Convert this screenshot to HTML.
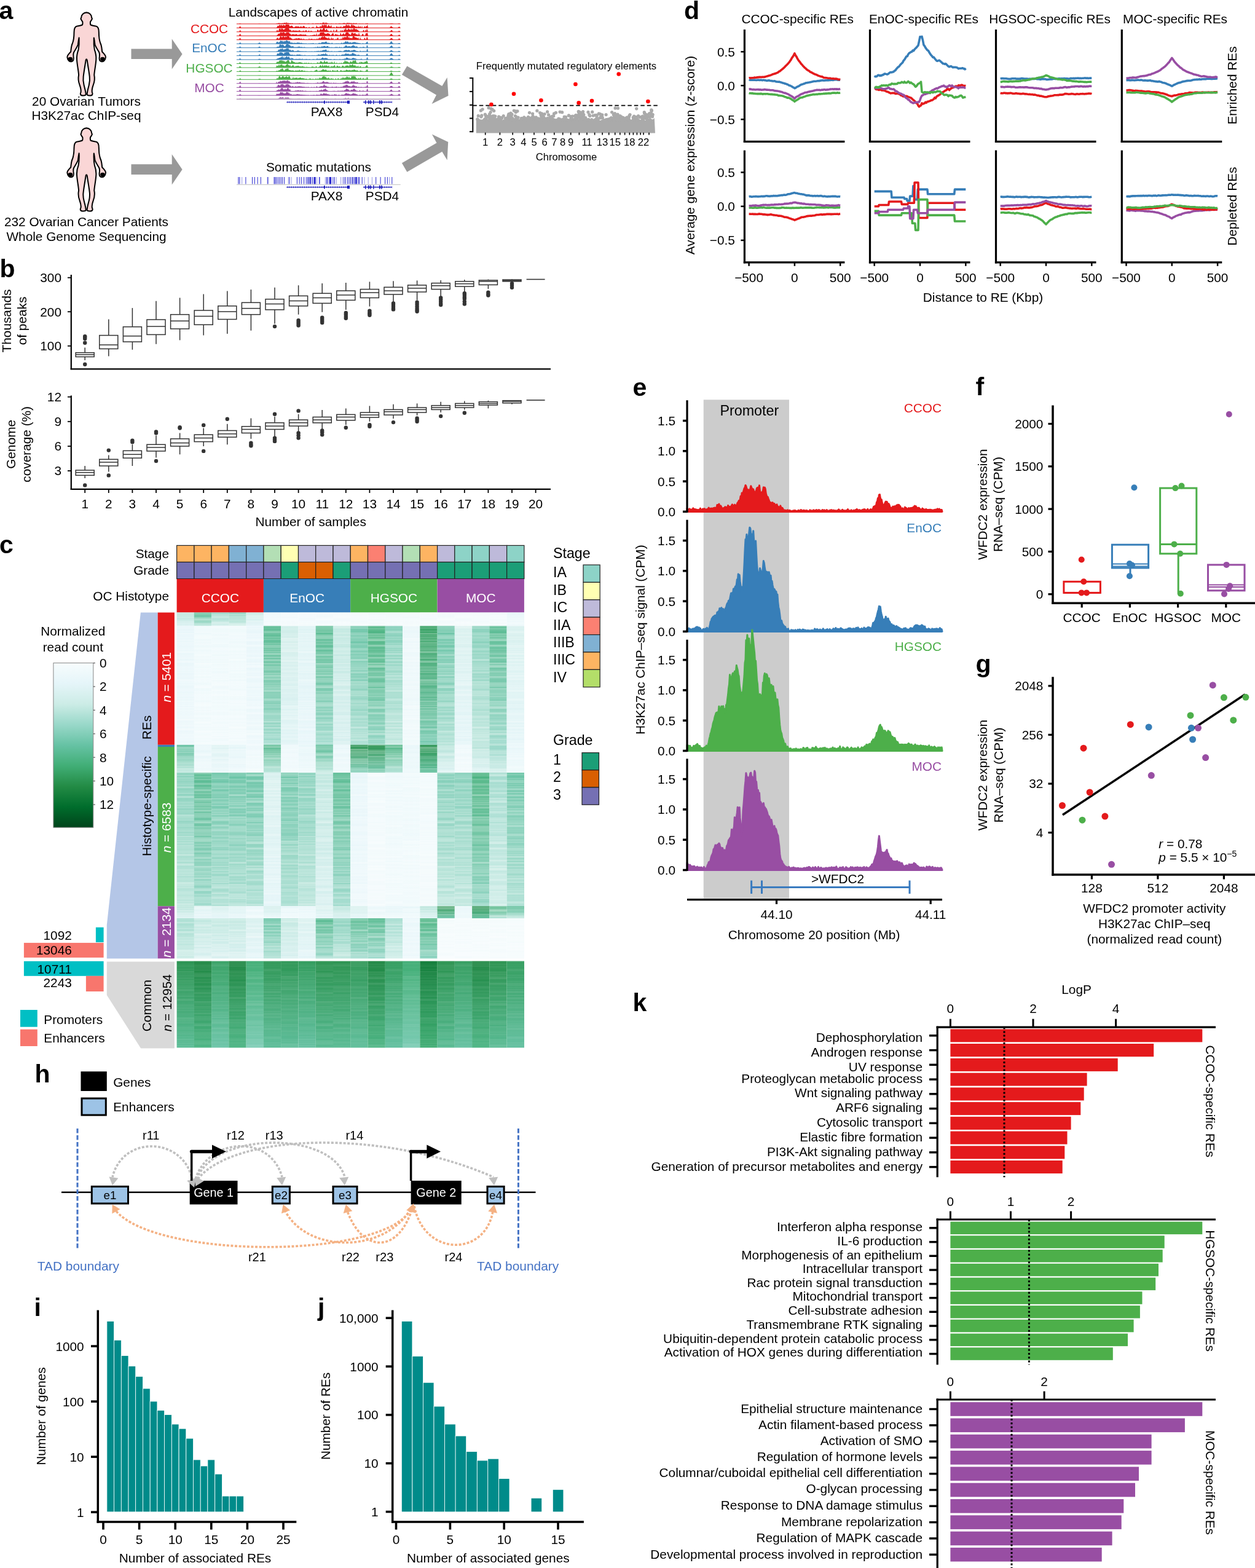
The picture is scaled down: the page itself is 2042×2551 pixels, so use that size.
<!DOCTYPE html><html><head><meta charset="utf-8"><style>html,body{margin:0;padding:0;background:#fff}svg{display:block}text{font-family:"Liberation Sans",Arial,Helvetica,sans-serif}</style></head><body><svg width="2042" height="2551" viewBox="0 0 2042 2551"><rect width="2042" height="2551" fill="#fff"/><text x="-1.5" y="31" font-size="41" font-weight="bold">a</text><g transform="translate(100,15) scale(0.06725)"><path d="M605,80C540,80 480,130 480,200C470,215 462,235 478,250C490,280 505,290 512,310C515,340 515,360 505,378C470,400 420,405 380,410C320,420 305,480 305,560C305,660 300,740 265,830C235,890 235,960 225,1030C175,1080 135,1120 140,1160C150,1240 200,1280 250,1265C300,1250 300,1200 290,1140C285,1100 290,1060 300,1040C340,970 390,900 400,850C410,790 415,730 425,690C430,780 425,900 410,980C380,1060 365,1120 372,1220C380,1350 410,1480 418,1590C405,1650 405,1740 440,1830C465,1900 480,1960 468,2010C445,2050 455,2090 530,2090C570,2090 595,2080 590,2050C585,1980 560,1900 545,1840C525,1760 520,1700 530,1630C545,1500 575,1340 590,1230C595,1215 600,1210 605,1210C610,1210 615,1215 620,1230C635,1340 665,1500 680,1630C690,1700 685,1760 665,1840C650,1900 625,1980 620,2050C615,2080 640,2090 680,2090C755,2090 765,2050 742,2010C730,1960 745,1900 770,1830C805,1740 805,1650 792,1590C800,1480 830,1350 838,1220C845,1120 830,1060 800,980C785,900 780,780 785,690C795,730 800,790 810,850C820,900 870,970 910,1040C920,1060 925,1100 920,1140C910,1200 910,1250 960,1265C1010,1280 1060,1240 1070,1160C1075,1120 1035,1080 985,1030C975,960 975,890 945,830C910,740 905,660 905,560C905,480 890,420 830,410C790,405 740,400 705,378C695,360 695,340 698,310C705,290 720,280 732,250C748,235 740,215 730,200C730,130 670,80 605,80Z" fill="#fad6d6" stroke="#000" stroke-width="30" stroke-linejoin="round"/><ellipse cx="215" cy="1205" rx="55" ry="48" fill="#000"/><ellipse cx="995" cy="1205" rx="55" ry="48" fill="#000"/></g><g transform="translate(100,203) scale(0.06725)"><path d="M605,80C540,80 480,130 480,200C470,215 462,235 478,250C490,280 505,290 512,310C515,340 515,360 505,378C470,400 420,405 380,410C320,420 305,480 305,560C305,660 300,740 265,830C235,890 235,960 225,1030C175,1080 135,1120 140,1160C150,1240 200,1280 250,1265C300,1250 300,1200 290,1140C285,1100 290,1060 300,1040C340,970 390,900 400,850C410,790 415,730 425,690C430,780 425,900 410,980C380,1060 365,1120 372,1220C380,1350 410,1480 418,1590C405,1650 405,1740 440,1830C465,1900 480,1960 468,2010C445,2050 455,2090 530,2090C570,2090 595,2080 590,2050C585,1980 560,1900 545,1840C525,1760 520,1700 530,1630C545,1500 575,1340 590,1230C595,1215 600,1210 605,1210C610,1210 615,1215 620,1230C635,1340 665,1500 680,1630C690,1700 685,1760 665,1840C650,1900 625,1980 620,2050C615,2080 640,2090 680,2090C755,2090 765,2050 742,2010C730,1960 745,1900 770,1830C805,1740 805,1650 792,1590C800,1480 830,1350 838,1220C845,1120 830,1060 800,980C785,900 780,780 785,690C795,730 800,790 810,850C820,900 870,970 910,1040C920,1060 925,1100 920,1140C910,1200 910,1250 960,1265C1010,1280 1060,1240 1070,1160C1075,1120 1035,1080 985,1030C975,960 975,890 945,830C910,740 905,660 905,560C905,480 890,420 830,410C790,405 740,400 705,378C695,360 695,340 698,310C705,290 720,280 732,250C748,235 740,215 730,200C730,130 670,80 605,80Z" fill="#fad6d6" stroke="#000" stroke-width="30" stroke-linejoin="round"/><ellipse cx="215" cy="1205" rx="55" ry="48" fill="#000"/><ellipse cx="995" cy="1205" rx="55" ry="48" fill="#000"/></g><text x="140.5" y="171.8" font-size="20.8" text-anchor="middle">20 Ovarian Tumors</text><text x="140.5" y="195.3" font-size="20.8" text-anchor="middle">H3K27ac ChIP-seq</text><text x="140.5" y="368.3" font-size="20.8" text-anchor="middle">232 Ovarian Cancer Patients</text><text x="140.5" y="391.5" font-size="20.8" text-anchor="middle">Whole Genome Sequencing</text><polygon points="213.5,79.4 279.7,79.4 279.7,63.2 296.6,87.9 279.7,112.6 279.7,96.1 213.5,96.1" fill="#999"/><polygon points="213.5,267.2 279.7,267.2 279.7,250.9 296.6,275.7 279.7,300.4 279.7,283.9 213.5,283.9" fill="#999"/><polygon points="662.3,107.4 719.3,140.1 727.6,126 729.5,155.7 702.6,169 710,154.5 653.9,121.5" fill="#999"/><polygon points="653.9,265.3 710.5,232.4 702.9,218.4 729.2,231 727.6,260.6 719.3,246.7 662.3,279.7" fill="#999"/><text x="518" y="27" font-size="20.8" text-anchor="middle">Landscapes of active chromatin</text><text x="340.5" y="53.9" font-size="20.8" text-anchor="middle" fill="#e41a1c">CCOC</text><text x="340.5" y="85.2" font-size="20.8" text-anchor="middle" fill="#377eb8">EnOC</text><text x="340.5" y="117.6" font-size="20.8" text-anchor="middle" fill="#4daf4a">HGSOC</text><text x="340.5" y="150" font-size="20.8" text-anchor="middle" fill="#984ea3">MOC</text><polygon points="385,38.9 385,38.9 386,38.9 387,38.9 388,38.9 389,38.8 390,38.2 391,38.3 392,38.7 393,38.9 394,38.9 395,38.9 396,38.9 397,38.9 398,38.9 399,38.9 400,38.9 401,38.9 402,38.9 403,38.9 404,38.9 405,38.9 406,38.9 407,38.9 408,38.9 409,38.9 410,38.9 411,38.9 412,38.9 413,38.9 414,38.9 415,38.9 416,38.9 417,38.9 418,38.9 419,38.9 420,38.9 421,38.8 422,38.8 423,38.8 424,38.9 425,38.9 426,38.9 427,38.9 428,38.9 429,38.9 430,38.9 431,38.9 432,38.9 433,38.9 434,38.9 435,38.9 436,38.9 437,38.9 438,38.9 439,38.9 440,38.9 441,38.9 442,38.9 443,38.9 444,38.9 445,38.9 446,38.9 447,38.9 448,38.9 449,38.8 450,38.4 451,37.8 452,38.3 453,37.7 454,36.9 455,37.9 456,37.7 457,37.7 458,37.9 459,37.4 460,37.7 461,37.5 462,37.6 463,36.8 464,37.3 465,37.5 466,36.0 467,37.5 468,37.4 469,37.0 470,38.0 471,37.8 472,37.6 473,38.0 474,38.1 475,37.9 476,37.5 477,38.4 478,38.7 479,38.6 480,38.6 481,38.6 482,38.6 483,38.4 484,38.3 485,38.4 486,38.5 487,37.6 488,38.3 489,38.6 490,38.5 491,38.2 492,38.6 493,38.5 494,38.6 495,38.4 496,38.1 497,38.7 498,38.8 499,38.5 500,38.8 501,38.2 502,38.2 503,38.3 504,38.8 505,38.8 506,38.9 507,38.8 508,38.2 509,38.0 510,38.3 511,38.8 512,38.8 513,38.5 514,37.8 515,38.0 516,38.8 517,37.4 518,37.9 519,38.6 520,38.4 521,37.3 522,37.9 523,37.7 524,38.3 525,36.3 526,37.6 527,36.1 528,37.4 529,38.1 530,36.3 531,37.2 532,37.6 533,37.6 534,38.4 535,38.5 536,38.6 537,38.7 538,38.6 539,38.1 540,38.4 541,38.4 542,38.5 543,38.6 544,38.9 545,38.8 546,38.0 547,38.6 548,38.2 549,38.8 550,38.7 551,37.9 552,38.2 553,37.7 554,38.2 555,38.3 556,38.4 557,38.2 558,37.7 559,37.5 560,37.6 561,37.6 562,38.1 563,38.1 564,37.8 565,36.5 566,37.8 567,37.7 568,36.6 569,38.1 570,38.1 571,36.7 572,38.3 573,37.8 574,38.1 575,37.6 576,37.5 577,38.2 578,37.5 579,38.2 580,37.1 581,38.7 582,38.7 583,38.7 584,38.4 585,38.0 586,38.8 587,38.2 588,38.9 589,38.1 590,38.9 591,38.0 592,38.9 593,38.9 594,38.5 595,38.1 596,38.7 597,37.6 598,38.1 599,38.8 600,38.9 601,38.9 602,38.9 603,38.9 604,38.9 605,38.9 606,38.9 607,38.9 608,38.9 609,38.9 610,38.9 611,38.9 612,38.9 613,38.9 614,38.9 615,38.9 616,38.9 617,38.9 618,38.9 619,38.9 620,38.9 621,38.9 622,38.9 623,38.9 624,38.9 625,38.9 626,38.9 627,38.9 628,38.9 629,38.9 630,38.9 631,38.9 632,38.9 633,38.9 634,38.7 635,38.5 636,38.3 637,38.3 638,38.2 639,38.5 640,38.8 641,38.9 642,38.9 643,38.9 644,38.9 645,38.9 646,38.9 647,38.9 648,38.6 649,38.1 650,38.3 651,38.8 651,38.9" fill="#e41a1c"/><line x1="384.9" y1="38.9" x2="651.7" y2="38.9" stroke="#e41a1c" stroke-width="1.0"/><polygon points="385,45.4 385,45.4 386,45.4 387,45.4 388,45.3 389,45.0 390,43.0 391,42.4 392,44.7 393,45.3 394,45.4 395,45.4 396,45.4 397,45.4 398,45.4 399,45.4 400,45.4 401,45.4 402,45.4 403,45.4 404,45.4 405,45.4 406,45.4 407,45.4 408,45.4 409,45.4 410,45.4 411,45.4 412,45.4 413,45.4 414,45.4 415,45.4 416,45.4 417,45.4 418,45.4 419,45.3 420,45.3 421,45.2 422,45.1 423,45.1 424,45.2 425,45.3 426,45.4 427,45.4 428,45.4 429,45.4 430,45.4 431,45.4 432,45.4 433,45.4 434,45.4 435,45.4 436,45.4 437,45.4 438,45.4 439,45.4 440,45.4 441,45.4 442,45.4 443,45.4 444,45.4 445,45.4 446,45.3 447,45.3 448,45.3 449,45.2 450,45.0 451,43.2 452,41.3 453,42.8 454,41.6 455,39.8 456,41.3 457,41.6 458,39.7 459,41.4 460,42.0 461,39.7 462,41.1 463,41.2 464,41.9 465,39.7 466,39.7 467,40.0 468,39.7 469,40.2 470,39.8 471,41.9 472,43.2 473,42.0 474,42.1 475,41.4 476,42.4 477,44.0 478,44.5 479,44.2 480,43.4 481,42.2 482,43.8 483,42.0 484,43.8 485,42.8 486,43.1 487,43.6 488,44.4 489,42.7 490,42.6 491,44.1 492,44.4 493,41.7 494,42.8 495,42.1 496,43.8 497,45.0 498,44.3 499,44.1 500,45.2 501,45.2 502,44.9 503,43.3 504,45.0 505,44.9 506,44.9 507,45.2 508,43.3 509,45.0 510,43.0 511,45.3 512,45.3 513,45.3 514,44.7 515,40.7 516,44.1 517,43.5 518,44.5 519,44.0 520,44.5 521,41.2 522,43.7 523,43.0 524,40.4 525,39.7 526,42.9 527,39.7 528,39.7 529,42.0 530,39.7 531,39.7 532,43.2 533,43.4 534,40.4 535,41.3 536,41.7 537,43.7 538,42.4 539,40.6 540,44.7 541,44.7 542,43.2 543,45.3 544,43.3 545,44.8 546,45.4 547,43.4 548,42.3 549,44.0 550,44.6 551,42.8 552,45.3 553,42.8 554,44.6 555,41.7 556,45.2 557,43.6 558,44.3 559,41.4 560,43.0 561,42.0 562,42.8 563,39.9 564,39.7 565,42.4 566,40.8 567,40.0 568,42.8 569,40.5 570,44.3 571,42.1 572,39.7 573,39.7 574,42.4 575,39.7 576,42.1 577,41.8 578,42.8 579,43.9 580,42.6 581,44.1 582,44.6 583,40.8 584,44.3 585,43.9 586,41.8 587,44.0 588,45.3 589,41.2 590,45.3 591,45.3 592,44.6 593,41.6 594,44.5 595,43.3 596,42.5 597,42.6 598,39.7 599,45.0 600,45.4 601,45.4 602,45.4 603,45.4 604,45.4 605,45.4 606,45.4 607,45.4 608,45.4 609,45.4 610,45.4 611,45.4 612,45.4 613,45.4 614,45.4 615,45.4 616,45.4 617,45.4 618,45.4 619,45.4 620,45.4 621,45.4 622,45.4 623,45.4 624,45.4 625,45.4 626,45.4 627,45.4 628,45.4 629,45.4 630,45.4 631,45.4 632,45.3 633,45.2 634,44.9 635,43.9 636,42.6 637,42.8 638,43.7 639,44.4 640,45.0 641,45.3 642,45.3 643,45.4 644,45.4 645,45.4 646,45.4 647,45.3 648,44.6 649,43.5 650,43.3 651,44.9 651,45.4" fill="#e41a1c"/><line x1="384.9" y1="45.4" x2="651.7" y2="45.4" stroke="#e41a1c" stroke-width="1.0"/><polygon points="385,51.8 385,51.8 386,51.8 387,51.8 388,51.8 389,51.4 390,49.7 391,49.1 392,50.8 393,51.8 394,51.8 395,51.8 396,51.8 397,51.8 398,51.8 399,51.8 400,51.8 401,51.8 402,51.8 403,51.8 404,51.8 405,51.8 406,51.8 407,51.8 408,51.8 409,51.8 410,51.8 411,51.8 412,51.8 413,51.8 414,51.8 415,51.8 416,51.8 417,51.8 418,51.8 419,51.8 420,51.8 421,51.7 422,51.6 423,51.6 424,51.7 425,51.8 426,51.8 427,51.8 428,51.8 429,51.8 430,51.8 431,51.8 432,51.8 433,51.8 434,51.8 435,51.8 436,51.8 437,51.8 438,51.8 439,51.8 440,51.8 441,51.8 442,51.8 443,51.8 444,51.8 445,51.8 446,51.8 447,51.8 448,51.7 449,51.7 450,50.3 451,48.3 452,50.3 453,50.5 454,47.0 455,46.7 456,46.1 457,48.7 458,46.1 459,46.5 460,46.8 461,48.2 462,48.2 463,47.3 464,46.4 465,46.1 466,46.1 467,46.1 468,46.1 469,46.1 470,46.1 471,48.1 472,49.6 473,47.3 474,50.9 475,49.7 476,50.7 477,48.3 478,50.2 479,49.8 480,49.7 481,49.8 482,49.9 483,49.7 484,49.9 485,50.4 486,50.0 487,48.4 488,50.2 489,50.3 490,50.7 491,50.8 492,50.6 493,50.4 494,49.4 495,50.8 496,50.7 497,49.8 498,49.0 499,49.8 500,51.4 501,50.7 502,50.1 503,49.6 504,51.8 505,50.5 506,50.0 507,50.4 508,50.7 509,51.6 510,51.0 511,51.8 512,51.6 513,50.1 514,51.4 515,51.6 516,49.5 517,47.6 518,48.9 519,51.1 520,49.0 521,48.0 522,46.1 523,48.4 524,48.7 525,47.4 526,46.1 527,46.1 528,46.1 529,48.7 530,49.2 531,46.9 532,46.9 533,50.3 534,49.2 535,51.1 536,51.2 537,51.0 538,49.9 539,49.4 540,51.5 541,51.3 542,51.7 543,47.2 544,50.8 545,51.8 546,50.0 547,49.4 548,46.8 549,51.1 550,51.8 551,50.8 552,51.7 553,51.8 554,48.3 555,51.3 556,49.8 557,48.7 558,50.6 559,50.7 560,46.5 561,49.4 562,46.3 563,46.1 564,49.0 565,49.1 566,47.5 567,46.1 568,47.7 569,48.5 570,47.0 571,49.5 572,46.5 573,47.4 574,49.0 575,46.1 576,46.4 577,46.1 578,48.3 579,47.2 580,46.9 581,49.0 582,47.9 583,50.0 584,49.9 585,51.3 586,51.7 587,51.6 588,51.6 589,51.0 590,51.8 591,48.8 592,48.6 593,51.7 594,50.6 595,47.4 596,51.3 597,46.1 598,49.1 599,51.6 600,51.8 601,51.8 602,51.8 603,51.8 604,51.8 605,51.8 606,51.8 607,51.8 608,51.8 609,51.8 610,51.8 611,51.8 612,51.8 613,51.8 614,51.8 615,51.8 616,51.8 617,51.8 618,51.8 619,51.8 620,51.8 621,51.8 622,51.8 623,51.8 624,51.8 625,51.8 626,51.8 627,51.8 628,51.8 629,51.8 630,51.8 631,51.8 632,51.8 633,51.6 634,51.3 635,50.8 636,49.8 637,48.7 638,49.2 639,51.1 640,51.5 641,51.7 642,51.8 643,51.8 644,51.8 645,51.8 646,51.8 647,51.7 648,50.9 649,50.1 650,50.3 651,51.2 651,51.8" fill="#e41a1c"/><line x1="384.9" y1="51.8" x2="651.7" y2="51.8" stroke="#e41a1c" stroke-width="1.0"/><polygon points="385,58.3 385,58.3 386,58.3 387,58.3 388,58.3 389,57.8 390,55.6 391,54.8 392,57.4 393,58.2 394,58.3 395,58.3 396,58.3 397,58.3 398,58.3 399,58.3 400,58.3 401,58.3 402,58.3 403,58.3 404,58.3 405,58.3 406,58.3 407,58.3 408,58.3 409,58.3 410,58.3 411,58.3 412,58.3 413,58.3 414,58.3 415,58.3 416,58.3 417,58.3 418,58.3 419,58.3 420,58.2 421,58.1 422,58.1 423,58.1 424,58.1 425,58.3 426,58.3 427,58.3 428,58.3 429,58.3 430,58.3 431,58.3 432,58.3 433,58.3 434,58.3 435,58.3 436,58.3 437,58.3 438,58.3 439,58.3 440,58.3 441,58.3 442,58.3 443,58.3 444,58.3 445,58.3 446,58.3 447,58.2 448,58.2 449,58.1 450,57.9 451,57.3 452,56.1 453,54.8 454,54.4 455,54.9 456,53.1 457,52.6 458,52.6 459,54.0 460,52.6 461,52.6 462,52.6 463,53.7 464,53.9 465,54.2 466,52.6 467,52.6 468,52.6 469,52.6 470,52.6 471,54.8 472,54.4 473,55.2 474,57.4 475,55.1 476,56.4 477,54.9 478,56.0 479,56.6 480,55.7 481,56.0 482,56.1 483,55.0 484,57.1 485,56.9 486,56.4 487,55.8 488,57.0 489,54.8 490,56.6 491,55.8 492,57.5 493,55.5 494,56.5 495,57.0 496,55.8 497,56.5 498,56.3 499,57.7 500,58.0 501,57.6 502,57.9 503,57.9 504,58.1 505,57.0 506,58.0 507,57.5 508,56.9 509,57.6 510,56.9 511,56.0 512,57.0 513,56.3 514,58.3 515,53.3 516,57.8 517,58.0 518,55.1 519,57.5 520,55.0 521,52.9 522,53.1 523,52.6 524,53.2 525,52.6 526,52.6 527,52.6 528,54.6 529,54.4 530,55.0 531,55.3 532,54.3 533,54.4 534,53.5 535,55.2 536,54.4 537,56.2 538,58.0 539,56.5 540,55.7 541,54.3 542,53.5 543,56.2 544,58.2 545,56.1 546,54.7 547,56.7 548,55.6 549,56.9 550,55.9 551,57.4 552,57.0 553,57.6 554,53.1 555,55.2 556,57.4 557,55.6 558,55.5 559,53.5 560,55.8 561,56.3 562,54.6 563,52.6 564,52.6 565,52.6 566,52.6 567,53.2 568,55.7 569,54.8 570,57.1 571,56.5 572,52.6 573,54.3 574,52.6 575,55.1 576,54.5 577,53.9 578,53.4 579,55.5 580,56.6 581,54.7 582,57.0 583,56.8 584,52.6 585,56.7 586,58.1 587,57.9 588,58.3 589,56.2 590,54.8 591,55.2 592,58.3 593,57.6 594,58.0 595,54.5 596,53.6 597,54.7 598,52.6 599,57.9 600,58.3 601,58.3 602,58.3 603,58.3 604,58.3 605,58.3 606,58.3 607,58.3 608,58.3 609,58.3 610,58.3 611,58.3 612,58.3 613,58.3 614,58.3 615,58.3 616,58.3 617,58.3 618,58.3 619,58.3 620,58.3 621,58.3 622,58.3 623,58.3 624,58.3 625,58.3 626,58.3 627,58.3 628,58.3 629,58.3 630,58.3 631,58.3 632,58.2 633,58.1 634,57.7 635,56.7 636,55.2 637,55.1 638,56.2 639,57.4 640,57.9 641,58.2 642,58.3 643,58.3 644,58.3 645,58.3 646,58.3 647,58.2 648,57.7 649,56.6 650,56.6 651,57.7 651,58.3" fill="#e41a1c"/><line x1="384.9" y1="58.3" x2="651.7" y2="58.3" stroke="#e41a1c" stroke-width="1.0"/><polygon points="385,64.7 385,64.7 386,64.7 387,64.7 388,64.7 389,64.2 390,61.9 391,61.7 392,64.0 393,64.7 394,64.7 395,64.7 396,64.7 397,64.7 398,64.7 399,64.7 400,64.7 401,64.7 402,64.7 403,64.7 404,64.7 405,64.7 406,64.7 407,64.7 408,64.7 409,64.7 410,64.7 411,64.7 412,64.7 413,64.7 414,64.7 415,64.7 416,64.7 417,64.7 418,64.7 419,64.7 420,64.7 421,64.6 422,64.5 423,64.6 424,64.6 425,64.7 426,64.7 427,64.7 428,64.7 429,64.7 430,64.7 431,64.7 432,64.7 433,64.7 434,64.7 435,64.7 436,64.7 437,64.7 438,64.7 439,64.7 440,64.7 441,64.7 442,64.7 443,64.7 444,64.7 445,64.7 446,64.7 447,64.7 448,64.7 449,64.5 450,63.1 451,61.4 452,61.2 453,63.4 454,62.8 455,61.5 456,59.1 457,59.1 458,60.1 459,60.9 460,59.1 461,59.6 462,59.1 463,61.0 464,60.1 465,59.1 466,60.5 467,59.1 468,59.1 469,59.1 470,59.1 471,60.2 472,62.2 473,60.1 474,63.3 475,62.2 476,63.7 477,63.9 478,63.3 479,62.9 480,63.5 481,63.1 482,60.9 483,63.4 484,63.0 485,61.3 486,62.9 487,61.7 488,62.8 489,63.7 490,62.1 491,63.4 492,63.6 493,64.0 494,62.5 495,64.1 496,63.7 497,64.3 498,64.4 499,63.5 500,63.9 501,64.4 502,64.0 503,61.7 504,64.7 505,63.2 506,63.4 507,63.1 508,63.1 509,64.6 510,62.9 511,64.6 512,63.0 513,63.9 514,64.3 515,62.3 516,64.6 517,62.3 518,64.0 519,61.7 520,60.4 521,63.7 522,60.5 523,61.2 524,59.3 525,59.1 526,61.1 527,59.1 528,59.1 529,60.0 530,61.3 531,60.7 532,62.5 533,61.6 534,63.2 535,59.4 536,63.2 537,63.1 538,64.5 539,60.1 540,62.9 541,63.4 542,60.9 543,64.4 544,64.0 545,64.7 546,62.4 547,64.7 548,62.6 549,62.6 550,60.3 551,64.7 552,63.1 553,64.2 554,63.7 555,62.0 556,64.3 557,62.0 558,59.5 559,62.8 560,59.5 561,60.7 562,59.4 563,61.5 564,59.1 565,59.1 566,59.1 567,62.3 568,59.1 569,62.8 570,61.3 571,62.3 572,61.6 573,63.0 574,59.1 575,59.1 576,59.1 577,59.9 578,60.7 579,60.9 580,60.8 581,62.1 582,62.6 583,60.6 584,63.7 585,64.5 586,60.1 587,64.1 588,63.2 589,64.6 590,64.0 591,64.1 592,64.6 593,60.8 594,62.5 595,64.2 596,62.9 597,59.3 598,61.3 599,64.5 600,64.7 601,64.7 602,64.7 603,64.7 604,64.7 605,64.7 606,64.7 607,64.7 608,64.7 609,64.7 610,64.7 611,64.7 612,64.7 613,64.7 614,64.7 615,64.7 616,64.7 617,64.7 618,64.7 619,64.7 620,64.7 621,64.7 622,64.7 623,64.7 624,64.7 625,64.7 626,64.7 627,64.7 628,64.7 629,64.7 630,64.7 631,64.7 632,64.7 633,64.5 634,64.0 635,63.0 636,62.4 637,61.6 638,62.5 639,63.4 640,64.5 641,64.6 642,64.7 643,64.7 644,64.7 645,64.7 646,64.7 647,64.6 648,64.0 649,62.4 650,62.5 651,64.1 651,64.7" fill="#e41a1c"/><line x1="384.9" y1="64.7" x2="651.7" y2="64.7" stroke="#e41a1c" stroke-width="1.0"/><polygon points="385,71.2 385,71.2 386,71.2 387,71.2 388,71.2 389,70.9 390,69.4 391,68.7 392,70.6 393,71.2 394,71.2 395,71.2 396,71.2 397,71.2 398,71.2 399,71.2 400,71.2 401,71.2 402,71.2 403,71.2 404,71.2 405,71.2 406,71.2 407,71.2 408,71.2 409,71.2 410,71.2 411,71.2 412,71.2 413,71.2 414,71.2 415,71.2 416,71.2 417,71.2 418,71.2 419,71.1 420,70.8 421,70.0 422,69.1 423,69.7 424,70.5 425,71.0 426,71.2 427,71.2 428,71.2 429,71.2 430,71.2 431,71.2 432,71.2 433,71.2 434,71.2 435,71.2 436,71.2 437,71.2 438,71.2 439,71.2 440,71.2 441,71.2 442,71.2 443,71.2 444,71.2 445,71.2 446,71.2 447,71.2 448,71.1 449,71.1 450,68.2 451,67.7 452,68.1 453,69.8 454,68.1 455,68.8 456,66.2 457,65.7 458,67.4 459,66.0 460,66.9 461,68.5 462,66.0 463,67.6 464,66.9 465,66.5 466,65.5 467,65.5 468,67.0 469,66.2 470,68.0 471,66.6 472,67.4 473,70.3 474,68.8 475,69.2 476,70.1 477,69.3 478,70.6 479,69.4 480,69.4 481,70.0 482,70.0 483,69.5 484,68.7 485,69.8 486,69.0 487,69.4 488,69.7 489,70.3 490,69.4 491,69.8 492,70.5 493,70.4 494,70.5 495,70.8 496,70.6 497,71.0 498,70.2 499,71.0 500,71.0 501,71.1 502,71.0 503,70.6 504,71.0 505,71.1 506,70.1 507,71.1 508,70.5 509,70.3 510,70.1 511,71.1 512,71.1 513,71.0 514,70.4 515,70.9 516,70.9 517,71.0 518,70.4 519,69.7 520,69.7 521,70.3 522,70.4 523,68.7 524,69.1 525,68.6 526,68.6 527,69.0 528,69.1 529,68.1 530,68.0 531,67.3 532,68.9 533,70.2 534,69.1 535,70.3 536,69.6 537,70.7 538,70.6 539,71.0 540,69.2 541,70.3 542,71.2 543,71.0 544,70.9 545,70.8 546,71.0 547,70.2 548,70.9 549,70.2 550,71.2 551,70.0 552,71.2 553,70.5 554,71.0 555,70.0 556,69.0 557,70.9 558,70.1 559,69.2 560,69.7 561,68.4 562,67.4 563,66.8 564,68.8 565,67.5 566,67.3 567,68.8 568,69.5 569,68.9 570,68.7 571,68.9 572,69.9 573,69.0 574,69.1 575,68.4 576,68.2 577,68.7 578,68.1 579,69.6 580,69.1 581,69.9 582,69.3 583,70.0 584,69.9 585,70.4 586,70.0 587,70.9 588,71.1 589,71.0 590,70.0 591,71.1 592,70.6 593,71.1 594,71.2 595,70.2 596,69.2 597,68.1 598,67.5 599,71.0 600,71.2 601,71.2 602,71.2 603,71.2 604,71.2 605,71.2 606,71.2 607,71.2 608,71.2 609,71.2 610,71.2 611,71.2 612,71.2 613,71.2 614,71.2 615,71.2 616,71.2 617,71.2 618,71.2 619,71.2 620,71.2 621,71.2 622,71.2 623,71.2 624,71.2 625,71.2 626,71.2 627,71.2 628,71.2 629,71.2 630,71.2 631,71.2 632,71.2 633,71.0 634,70.3 635,69.2 636,67.6 637,67.1 638,68.8 639,70.0 640,70.9 641,71.1 642,71.2 643,71.2 644,71.2 645,71.2 646,71.2 647,71.1 648,70.8 649,70.1 650,69.9 651,70.9 651,71.2" fill="#377eb8"/><line x1="384.9" y1="71.2" x2="651.7" y2="71.2" stroke="#377eb8" stroke-width="1.0"/><polygon points="385,77.7 385,77.7 386,77.7 387,77.7 388,77.6 389,77.3 390,75.8 391,75.5 392,76.9 393,77.6 394,77.7 395,77.7 396,77.7 397,77.7 398,77.7 399,77.7 400,77.7 401,77.7 402,77.7 403,77.7 404,77.7 405,77.7 406,77.7 407,77.7 408,77.7 409,77.7 410,77.7 411,77.7 412,77.7 413,77.7 414,77.7 415,77.7 416,77.7 417,77.7 418,77.7 419,77.6 420,77.2 421,76.2 422,75.8 423,75.9 424,77.0 425,77.5 426,77.6 427,77.7 428,77.7 429,77.7 430,77.7 431,77.7 432,77.7 433,77.7 434,77.7 435,77.7 436,77.7 437,77.7 438,77.7 439,77.7 440,77.7 441,77.7 442,77.7 443,77.7 444,77.7 445,77.7 446,77.6 447,77.6 448,77.6 449,77.5 450,76.4 451,76.3 452,75.6 453,76.2 454,75.6 455,72.6 456,72.0 457,72.8 458,73.4 459,72.2 460,73.1 461,72.8 462,74.3 463,75.3 464,74.9 465,73.4 466,72.0 467,72.0 468,72.0 469,72.0 470,72.7 471,73.5 472,73.5 473,75.1 474,76.1 475,74.8 476,75.8 477,74.4 478,76.6 479,76.9 480,75.9 481,77.0 482,76.5 483,76.5 484,76.3 485,76.6 486,75.5 487,75.6 488,76.2 489,76.7 490,76.1 491,76.5 492,76.8 493,76.5 494,77.0 495,76.4 496,76.3 497,77.4 498,77.3 499,77.2 500,77.5 501,77.2 502,77.4 503,77.6 504,77.5 505,77.2 506,77.6 507,77.1 508,77.5 509,77.5 510,77.1 511,76.8 512,77.1 513,76.5 514,76.5 515,77.3 516,75.9 517,75.5 518,77.1 519,76.1 520,76.4 521,76.3 522,76.8 523,75.6 524,75.6 525,75.8 526,75.6 527,74.7 528,74.7 529,74.9 530,76.0 531,75.8 532,74.9 533,75.1 534,75.0 535,77.2 536,76.1 537,76.9 538,76.8 539,77.6 540,76.1 541,77.5 542,77.5 543,76.7 544,77.2 545,76.5 546,76.8 547,76.0 548,77.0 549,75.9 550,77.3 551,77.5 552,75.9 553,76.2 554,77.2 555,76.6 556,76.5 557,77.4 558,77.2 559,76.5 560,75.9 561,76.0 562,73.6 563,74.4 564,73.5 565,75.4 566,75.7 567,75.2 568,74.8 569,75.5 570,75.5 571,75.7 572,75.3 573,74.1 574,74.5 575,72.8 576,75.0 577,73.9 578,76.3 579,75.4 580,75.5 581,75.5 582,76.4 583,77.5 584,77.5 585,77.0 586,76.0 587,77.6 588,76.1 589,77.6 590,76.5 591,75.7 592,76.7 593,76.2 594,77.2 595,77.6 596,77.3 597,73.1 598,74.3 599,77.4 600,77.7 601,77.7 602,77.7 603,77.7 604,77.7 605,77.7 606,77.7 607,77.7 608,77.7 609,77.7 610,77.7 611,77.7 612,77.7 613,77.7 614,77.7 615,77.7 616,77.7 617,77.7 618,77.7 619,77.7 620,77.7 621,77.7 622,77.7 623,77.7 624,77.7 625,77.7 626,77.7 627,77.7 628,77.7 629,77.7 630,77.7 631,77.7 632,77.6 633,77.5 634,76.8 635,75.5 636,75.3 637,73.8 638,74.5 639,76.6 640,77.3 641,77.6 642,77.6 643,77.7 644,77.7 645,77.7 646,77.7 647,77.6 648,77.2 649,76.0 650,76.6 651,77.3 651,77.7" fill="#377eb8"/><line x1="384.9" y1="77.7" x2="651.7" y2="77.7" stroke="#377eb8" stroke-width="1.0"/><polygon points="385,84.1 385,84.1 386,84.1 387,84.1 388,84.1 389,83.9 390,82.6 391,81.5 392,83.4 393,84.1 394,84.1 395,84.1 396,84.1 397,84.1 398,84.1 399,84.1 400,84.1 401,84.1 402,84.1 403,84.1 404,84.1 405,84.1 406,84.1 407,84.1 408,84.1 409,84.1 410,84.1 411,84.1 412,84.1 413,84.1 414,84.1 415,84.1 416,84.1 417,84.1 418,84.1 419,84.0 420,83.8 421,83.3 422,82.7 423,83.0 424,83.6 425,83.9 426,84.1 427,84.1 428,84.1 429,84.1 430,84.1 431,84.1 432,84.1 433,84.1 434,84.1 435,84.1 436,84.1 437,84.1 438,84.1 439,84.1 440,84.1 441,84.1 442,84.1 443,84.1 444,84.1 445,84.1 446,84.1 447,84.1 448,84.0 449,83.9 450,83.5 451,83.2 452,83.3 453,80.3 454,81.2 455,80.6 456,79.7 457,79.3 458,80.2 459,78.8 460,78.7 461,80.9 462,80.3 463,80.3 464,80.0 465,79.7 466,78.5 467,78.9 468,78.5 469,78.5 470,79.8 471,81.9 472,80.1 473,82.1 474,82.0 475,82.7 476,81.0 477,81.8 478,82.5 479,83.6 480,83.5 481,82.9 482,82.9 483,83.2 484,81.8 485,82.8 486,82.1 487,83.0 488,83.0 489,83.2 490,83.2 491,83.6 492,83.3 493,83.5 494,83.6 495,83.6 496,83.8 497,83.2 498,83.6 499,83.5 500,84.0 501,83.8 502,83.9 503,83.4 504,83.9 505,83.5 506,84.0 507,83.5 508,83.6 509,84.1 510,83.9 511,83.6 512,83.6 513,83.6 514,83.4 515,83.6 516,82.6 517,83.4 518,82.5 519,82.8 520,83.7 521,82.6 522,82.5 523,83.2 524,82.0 525,82.1 526,82.1 527,80.5 528,82.1 529,81.1 530,80.6 531,80.5 532,82.9 533,83.0 534,82.0 535,83.5 536,83.5 537,83.2 538,83.7 539,83.7 540,82.5 541,83.9 542,84.1 543,83.7 544,83.5 545,83.6 546,83.9 547,83.6 548,83.8 549,83.6 550,83.8 551,83.0 552,82.8 553,83.3 554,82.5 555,83.0 556,83.5 557,83.8 558,83.7 559,83.1 560,82.0 561,81.8 562,81.6 563,81.2 564,81.0 565,82.2 566,81.6 567,80.9 568,82.1 569,81.1 570,83.3 571,82.6 572,81.7 573,82.2 574,81.7 575,81.3 576,81.1 577,81.6 578,80.9 579,82.9 580,82.6 581,83.2 582,83.1 583,83.4 584,83.9 585,84.0 586,81.8 587,83.5 588,83.7 589,83.3 590,84.1 591,82.6 592,83.6 593,84.0 594,82.3 595,83.9 596,83.8 597,79.9 598,79.2 599,83.9 600,84.1 601,84.1 602,84.1 603,84.1 604,84.1 605,84.1 606,84.1 607,84.1 608,84.1 609,84.1 610,84.1 611,84.1 612,84.1 613,84.1 614,84.1 615,84.1 616,84.1 617,84.1 618,84.1 619,84.1 620,84.1 621,84.1 622,84.1 623,84.1 624,84.1 625,84.1 626,84.1 627,84.1 628,84.1 629,84.1 630,84.1 631,84.1 632,84.1 633,84.0 634,83.4 635,82.5 636,82.1 637,81.3 638,82.4 639,83.0 640,83.7 641,84.0 642,84.1 643,84.1 644,84.1 645,84.1 646,84.1 647,84.0 648,83.6 649,82.5 650,83.3 651,83.6 651,84.1" fill="#377eb8"/><line x1="384.9" y1="84.1" x2="651.7" y2="84.1" stroke="#377eb8" stroke-width="1.0"/><polygon points="385,90.6 385,90.6 386,90.6 387,90.6 388,90.6 389,90.3 390,88.3 391,88.6 392,90.0 393,90.6 394,90.6 395,90.6 396,90.6 397,90.6 398,90.6 399,90.6 400,90.6 401,90.6 402,90.6 403,90.6 404,90.6 405,90.6 406,90.6 407,90.6 408,90.6 409,90.6 410,90.6 411,90.6 412,90.6 413,90.6 414,90.6 415,90.6 416,90.6 417,90.6 418,90.6 419,90.5 420,90.3 421,89.6 422,88.5 423,88.8 424,90.0 425,90.4 426,90.6 427,90.6 428,90.6 429,90.6 430,90.6 431,90.6 432,90.6 433,90.6 434,90.6 435,90.6 436,90.6 437,90.6 438,90.6 439,90.6 440,90.6 441,90.6 442,90.6 443,90.6 444,90.6 445,90.6 446,90.6 447,90.5 448,90.5 449,90.4 450,90.0 451,86.7 452,87.3 453,86.9 454,87.2 455,84.9 456,85.8 457,84.9 458,85.6 459,85.8 460,85.9 461,87.4 462,87.5 463,84.9 464,86.0 465,84.9 466,84.9 467,84.9 468,84.9 469,84.9 470,84.9 471,87.2 472,88.6 473,89.1 474,89.0 475,89.2 476,88.4 477,89.7 478,89.4 479,89.0 480,89.7 481,89.6 482,89.7 483,88.6 484,89.1 485,88.5 486,89.2 487,88.4 488,88.8 489,89.1 490,89.7 491,89.5 492,89.4 493,89.9 494,90.1 495,89.2 496,89.9 497,89.2 498,90.4 499,90.0 500,90.2 501,90.0 502,90.0 503,89.5 504,90.2 505,90.5 506,89.9 507,90.2 508,89.4 509,90.0 510,90.4 511,89.2 512,90.5 513,90.2 514,90.0 515,89.7 516,89.4 517,89.7 518,88.3 519,88.7 520,89.5 521,88.5 522,89.6 523,88.1 524,87.8 525,88.5 526,87.5 527,87.6 528,88.5 529,88.1 530,85.5 531,88.9 532,87.9 533,89.2 534,89.9 535,89.7 536,88.7 537,90.1 538,89.7 539,89.3 540,90.3 541,89.3 542,89.6 543,89.4 544,90.0 545,89.9 546,89.7 547,89.6 548,89.0 549,90.0 550,90.3 551,90.5 552,89.1 553,89.9 554,90.5 555,89.2 556,89.3 557,89.1 558,88.0 559,89.5 560,88.2 561,88.4 562,87.6 563,86.1 564,88.1 565,88.0 566,86.9 567,87.4 568,88.4 569,88.7 570,87.5 571,89.1 572,87.8 573,86.2 574,86.4 575,86.3 576,87.8 577,86.9 578,89.0 579,87.8 580,89.5 581,90.0 582,88.7 583,89.1 584,89.6 585,89.2 586,90.6 587,90.5 588,90.6 589,89.6 590,90.6 591,90.5 592,89.7 593,90.2 594,90.3 595,90.3 596,88.8 597,86.8 598,87.4 599,90.3 600,90.6 601,90.6 602,90.6 603,90.6 604,90.6 605,90.6 606,90.6 607,90.6 608,90.6 609,90.6 610,90.6 611,90.6 612,90.6 613,90.6 614,90.6 615,90.6 616,90.6 617,90.6 618,90.6 619,90.6 620,90.6 621,90.6 622,90.6 623,90.6 624,90.6 625,90.6 626,90.6 627,90.6 628,90.6 629,90.6 630,90.6 631,90.6 632,90.5 633,90.3 634,89.7 635,88.3 636,87.2 637,86.5 638,87.6 639,89.2 640,90.1 641,90.5 642,90.6 643,90.6 644,90.6 645,90.6 646,90.6 647,90.5 648,90.1 649,89.4 650,89.1 651,90.0 651,90.6" fill="#377eb8"/><line x1="384.9" y1="90.6" x2="651.7" y2="90.6" stroke="#377eb8" stroke-width="1.0"/><polygon points="385,97.0 385,97.0 386,97.0 387,97.0 388,97.0 389,96.7 390,94.9 391,94.9 392,96.6 393,97.0 394,97.0 395,97.0 396,97.0 397,97.0 398,97.0 399,97.0 400,97.0 401,97.0 402,97.0 403,97.0 404,97.0 405,97.0 406,97.0 407,97.0 408,97.0 409,97.0 410,97.0 411,97.0 412,97.0 413,97.0 414,97.0 415,97.0 416,97.0 417,97.0 418,97.0 419,97.0 420,96.7 421,95.9 422,95.5 423,96.0 424,96.2 425,96.8 426,97.0 427,97.0 428,97.0 429,97.0 430,97.0 431,97.0 432,97.0 433,97.0 434,97.0 435,97.0 436,97.0 437,97.0 438,97.0 439,97.0 440,97.0 441,97.0 442,97.0 443,97.0 444,97.0 445,97.0 446,97.0 447,97.0 448,97.0 449,96.9 450,95.7 451,95.8 452,94.5 453,95.3 454,93.8 455,93.9 456,94.0 457,92.4 458,93.6 459,91.4 460,92.1 461,95.0 462,91.4 463,95.2 464,93.0 465,92.9 466,91.4 467,91.4 468,93.6 469,92.5 470,91.4 471,93.8 472,95.2 473,95.7 474,93.5 475,95.7 476,94.1 477,95.3 478,96.5 479,96.3 480,96.3 481,96.1 482,95.4 483,96.0 484,96.0 485,95.7 486,95.8 487,95.9 488,94.9 489,96.2 490,95.9 491,96.2 492,95.1 493,96.7 494,96.5 495,96.2 496,96.5 497,96.2 498,95.8 499,95.9 500,96.0 501,97.0 502,96.2 503,96.3 504,96.1 505,96.5 506,96.9 507,96.9 508,96.6 509,96.3 510,96.2 511,95.8 512,96.9 513,96.8 514,96.8 515,95.6 516,95.6 517,95.2 518,96.4 519,95.6 520,95.9 521,95.4 522,96.1 523,94.9 524,94.1 525,93.3 526,94.2 527,95.0 528,94.4 529,94.4 530,94.1 531,94.7 532,94.4 533,95.2 534,96.4 535,95.8 536,96.4 537,95.9 538,95.9 539,96.1 540,97.0 541,97.0 542,97.0 543,96.2 544,96.1 545,96.0 546,97.0 547,96.5 548,96.4 549,97.0 550,96.6 551,97.0 552,96.8 553,95.6 554,96.8 555,96.8 556,96.8 557,95.9 558,96.6 559,96.1 560,95.4 561,95.2 562,95.7 563,94.2 564,93.2 565,94.3 566,94.1 567,94.9 568,95.8 569,95.0 570,95.4 571,96.0 572,95.6 573,94.8 574,93.9 575,94.6 576,94.0 577,95.1 578,95.3 579,95.3 580,96.1 581,96.5 582,96.4 583,96.9 584,96.2 585,96.5 586,96.8 587,96.1 588,94.9 589,97.0 590,96.5 591,96.9 592,96.9 593,96.7 594,96.4 595,97.0 596,96.5 597,93.5 598,93.3 599,96.8 600,97.0 601,97.0 602,97.0 603,97.0 604,97.0 605,97.0 606,97.0 607,97.0 608,97.0 609,97.0 610,97.0 611,97.0 612,97.0 613,97.0 614,97.0 615,97.0 616,97.0 617,97.0 618,97.0 619,97.0 620,97.0 621,97.0 622,97.0 623,97.0 624,97.0 625,97.0 626,97.0 627,97.0 628,97.0 629,97.0 630,97.0 631,97.0 632,97.0 633,96.8 634,96.6 635,95.0 636,94.8 637,94.2 638,94.9 639,95.6 640,96.6 641,96.9 642,97.0 643,97.0 644,97.0 645,97.0 646,97.0 647,97.0 648,96.6 649,95.3 650,96.0 651,96.7 651,97.0" fill="#377eb8"/><line x1="384.9" y1="97" x2="651.7" y2="97" stroke="#377eb8" stroke-width="1.0"/><polygon points="385,103.5 385,103.5 386,103.5 387,103.5 388,103.5 389,103.2 390,101.1 391,101.8 392,102.8 393,103.5 394,103.5 395,103.5 396,103.5 397,103.5 398,103.5 399,103.5 400,103.5 401,103.5 402,103.5 403,103.5 404,103.5 405,103.5 406,103.5 407,103.5 408,103.5 409,103.5 410,103.5 411,103.5 412,103.5 413,103.5 414,103.5 415,103.5 416,103.5 417,103.5 418,103.5 419,103.5 420,103.1 421,102.7 422,102.4 423,102.3 424,102.9 425,103.3 426,103.5 427,103.5 428,103.5 429,103.5 430,103.5 431,103.5 432,103.5 433,103.5 434,103.5 435,103.5 436,103.5 437,103.5 438,103.5 439,103.5 440,103.5 441,103.5 442,103.5 443,103.5 444,103.5 445,103.5 446,103.5 447,103.5 448,103.4 449,103.3 450,101.6 451,100.1 452,101.0 453,100.4 454,99.8 455,98.0 456,99.0 457,98.1 458,97.8 459,99.7 460,97.8 461,99.6 462,99.6 463,99.3 464,100.7 465,100.5 466,99.4 467,99.2 468,97.8 469,98.0 470,97.9 471,100.7 472,101.6 473,102.2 474,98.2 475,98.3 476,99.5 477,100.3 478,101.0 479,100.4 480,101.8 481,102.2 482,101.2 483,102.4 484,101.6 485,102.1 486,101.4 487,101.0 488,101.5 489,100.9 490,101.8 491,102.1 492,102.1 493,102.9 494,102.9 495,101.8 496,102.7 497,102.1 498,102.7 499,101.4 500,103.4 501,102.3 502,102.4 503,101.7 504,103.4 505,103.3 506,101.8 507,103.3 508,102.4 509,103.4 510,102.8 511,102.6 512,103.2 513,102.6 514,103.5 515,103.2 516,101.4 517,101.2 518,103.1 519,101.6 520,103.0 521,99.8 522,99.5 523,100.1 524,101.0 525,101.4 526,101.8 527,100.5 528,97.8 529,100.7 530,101.3 531,100.6 532,99.8 533,100.8 534,102.8 535,102.0 536,101.6 537,102.7 538,100.8 539,102.7 540,99.4 541,102.1 542,102.3 543,103.1 544,99.1 545,103.3 546,101.9 547,103.4 548,101.1 549,103.4 550,103.4 551,103.5 552,101.6 553,103.4 554,103.2 555,101.2 556,103.1 557,102.4 558,103.0 559,100.3 560,101.8 561,97.8 562,99.5 563,100.0 564,99.4 565,99.9 566,100.4 567,101.2 568,101.7 569,101.9 570,99.7 571,99.7 572,101.2 573,101.1 574,99.1 575,97.8 576,100.1 577,98.0 578,98.4 579,98.1 580,102.0 581,102.1 582,102.5 583,102.7 584,102.4 585,99.9 586,102.9 587,100.1 588,100.9 589,101.2 590,101.7 591,101.3 592,102.2 593,101.0 594,100.1 595,101.1 596,99.4 597,98.6 598,100.5 599,103.3 600,103.5 601,103.5 602,103.5 603,103.5 604,103.5 605,103.5 606,103.5 607,103.5 608,103.5 609,103.5 610,103.5 611,103.5 612,103.5 613,103.5 614,103.5 615,103.5 616,103.5 617,103.5 618,103.5 619,103.5 620,103.5 621,103.5 622,103.5 623,103.5 624,103.5 625,103.5 626,103.5 627,103.5 628,103.5 629,103.5 630,103.5 631,103.5 632,103.5 633,103.4 634,103.1 635,102.6 636,101.7 637,101.7 638,102.5 639,102.9 640,103.3 641,103.4 642,103.5 643,103.5 644,103.5 645,103.5 646,103.5 647,103.5 648,103.1 649,102.6 650,102.8 651,103.2 651,103.5" fill="#4daf4a"/><line x1="384.9" y1="103.5" x2="651.7" y2="103.5" stroke="#4daf4a" stroke-width="1.0"/><polygon points="385,110.0 385,110.0 386,110.0 387,110.0 388,109.9 389,109.6 390,107.6 391,107.9 392,109.1 393,109.9 394,110.0 395,110.0 396,110.0 397,110.0 398,110.0 399,110.0 400,110.0 401,110.0 402,110.0 403,110.0 404,110.0 405,110.0 406,110.0 407,110.0 408,110.0 409,110.0 410,110.0 411,110.0 412,110.0 413,110.0 414,110.0 415,110.0 416,110.0 417,110.0 418,110.0 419,109.9 420,109.6 421,108.7 422,108.0 423,108.2 424,109.3 425,109.7 426,109.9 427,110.0 428,110.0 429,110.0 430,110.0 431,110.0 432,110.0 433,110.0 434,110.0 435,110.0 436,110.0 437,110.0 438,110.0 439,110.0 440,110.0 441,110.0 442,110.0 443,110.0 444,110.0 445,110.0 446,109.9 447,109.9 448,109.9 449,109.8 450,106.8 451,106.6 452,108.1 453,106.3 454,104.4 455,107.9 456,104.3 457,106.2 458,104.3 459,104.8 460,106.8 461,106.9 462,105.9 463,107.5 464,107.5 465,105.7 466,105.5 467,104.3 468,104.3 469,105.4 470,105.8 471,107.8 472,104.7 473,108.0 474,108.2 475,107.2 476,106.6 477,105.3 478,107.6 479,108.5 480,108.5 481,107.3 482,107.4 483,107.6 484,106.8 485,107.5 486,106.4 487,108.3 488,108.0 489,107.9 490,108.3 491,108.3 492,107.5 493,107.9 494,108.3 495,109.1 496,108.3 497,109.4 498,109.3 499,108.0 500,109.6 501,108.7 502,109.1 503,109.8 504,108.8 505,109.8 506,109.6 507,108.4 508,108.0 509,108.6 510,108.2 511,109.8 512,108.5 513,109.9 514,107.4 515,107.4 516,109.9 517,109.9 518,108.5 519,109.6 520,107.6 521,106.2 522,105.7 523,108.2 524,107.4 525,104.3 526,108.0 527,107.6 528,106.5 529,105.8 530,107.9 531,105.4 532,106.9 533,107.5 534,107.9 535,105.7 536,108.5 537,109.5 538,108.4 539,106.8 540,109.0 541,107.5 542,107.9 543,107.8 544,105.6 545,106.5 546,109.4 547,109.3 548,106.9 549,106.4 550,108.1 551,107.9 552,108.6 553,107.1 554,109.3 555,109.8 556,108.0 557,107.2 558,106.2 559,107.8 560,108.6 561,108.6 562,107.4 563,106.2 564,106.7 565,106.7 566,106.1 567,107.6 568,108.1 569,104.4 570,105.4 571,106.5 572,105.9 573,105.1 574,104.3 575,106.4 576,106.5 577,106.4 578,105.7 579,107.9 580,108.2 581,107.5 582,108.7 583,106.2 584,109.8 585,108.6 586,107.9 587,107.3 588,109.7 589,109.8 590,108.8 591,109.7 592,108.6 593,109.4 594,109.5 595,107.7 596,107.0 597,105.3 598,107.3 599,109.7 600,110.0 601,110.0 602,110.0 603,110.0 604,110.0 605,110.0 606,110.0 607,110.0 608,110.0 609,110.0 610,110.0 611,110.0 612,110.0 613,110.0 614,110.0 615,110.0 616,110.0 617,110.0 618,110.0 619,110.0 620,110.0 621,110.0 622,110.0 623,110.0 624,110.0 625,110.0 626,110.0 627,110.0 628,110.0 629,110.0 630,110.0 631,110.0 632,109.9 633,109.9 634,109.7 635,109.2 636,108.4 637,108.3 638,108.4 639,109.3 640,109.8 641,109.9 642,110.0 643,110.0 644,110.0 645,110.0 646,110.0 647,109.9 648,109.6 649,108.7 650,109.2 651,109.6 651,110.0" fill="#4daf4a"/><line x1="384.9" y1="110" x2="651.7" y2="110" stroke="#4daf4a" stroke-width="1.0"/><polygon points="385,116.4 385,116.4 386,116.4 387,116.4 388,116.4 389,116.1 390,115.2 391,114.1 392,115.8 393,116.4 394,116.4 395,116.4 396,116.4 397,116.4 398,116.4 399,116.4 400,116.4 401,116.4 402,116.4 403,116.4 404,116.4 405,116.4 406,116.4 407,116.4 408,116.4 409,116.4 410,116.4 411,116.4 412,116.4 413,116.4 414,116.4 415,116.4 416,116.4 417,116.4 418,116.4 419,116.4 420,116.2 421,115.5 422,115.5 423,115.1 424,115.7 425,116.3 426,116.4 427,116.4 428,116.4 429,116.4 430,116.4 431,116.4 432,116.4 433,116.4 434,116.4 435,116.4 436,116.4 437,116.4 438,116.4 439,116.4 440,116.4 441,116.4 442,116.4 443,116.4 444,116.4 445,116.4 446,116.4 447,116.4 448,116.4 449,116.3 450,114.9 451,115.2 452,115.7 453,114.7 454,114.0 455,114.5 456,113.0 457,112.3 458,112.7 459,111.2 460,111.6 461,113.3 462,114.8 463,114.4 464,112.5 465,113.0 466,111.1 467,113.0 468,111.0 469,111.3 470,114.2 471,113.8 472,114.0 473,114.6 474,114.8 475,114.6 476,114.4 477,114.6 478,115.0 479,115.5 480,115.6 481,113.9 482,115.2 483,114.7 484,114.6 485,115.0 486,115.1 487,112.8 488,115.2 489,115.0 490,114.5 491,114.6 492,113.7 493,115.5 494,115.6 495,114.9 496,115.0 497,116.1 498,115.4 499,116.1 500,115.5 501,116.0 502,116.0 503,116.1 504,116.1 505,116.4 506,115.0 507,116.3 508,115.7 509,116.0 510,116.4 511,116.0 512,115.0 513,114.8 514,113.9 515,113.4 516,113.6 517,116.1 518,115.4 519,115.6 520,115.1 521,115.5 522,114.7 523,114.3 524,114.3 525,112.5 526,112.6 527,113.6 528,113.6 529,114.2 530,112.4 531,113.7 532,115.1 533,115.1 534,115.0 535,114.6 536,115.7 537,114.6 538,114.7 539,116.1 540,116.0 541,113.6 542,114.4 543,114.7 544,116.0 545,114.1 546,115.5 547,116.0 548,114.3 549,113.6 550,115.6 551,115.8 552,116.2 553,115.9 554,114.3 555,113.5 556,115.7 557,114.4 558,115.9 559,115.1 560,114.6 561,115.3 562,114.9 563,113.6 564,113.6 565,113.7 566,114.5 567,114.0 568,114.7 569,113.5 570,114.1 571,115.2 572,114.3 573,113.3 574,114.6 575,113.7 576,112.7 577,113.5 578,113.8 579,114.6 580,115.2 581,113.3 582,115.6 583,114.9 584,116.3 585,116.0 586,114.0 587,115.3 588,114.8 589,116.0 590,115.3 591,116.3 592,116.2 593,116.4 594,115.8 595,115.5 596,114.5 597,112.6 598,113.5 599,116.3 600,116.4 601,116.4 602,116.4 603,116.4 604,116.4 605,116.4 606,116.4 607,116.4 608,116.4 609,116.4 610,116.4 611,116.4 612,116.4 613,116.4 614,116.4 615,116.4 616,116.4 617,116.4 618,116.4 619,116.4 620,116.4 621,116.4 622,116.4 623,116.4 624,116.4 625,116.4 626,116.4 627,116.4 628,116.4 629,116.4 630,116.4 631,116.4 632,116.4 633,116.4 634,116.2 635,115.5 636,115.1 637,115.0 638,115.5 639,115.9 640,116.3 641,116.4 642,116.4 643,116.4 644,116.4 645,116.4 646,116.4 647,116.4 648,116.2 649,115.6 650,115.8 651,116.2 651,116.4" fill="#4daf4a"/><line x1="384.9" y1="116.4" x2="651.7" y2="116.4" stroke="#4daf4a" stroke-width="1.0"/><polygon points="385,122.9 385,122.9 386,122.9 387,122.9 388,122.9 389,122.8 390,122.6 391,122.5 392,122.8 393,122.9 394,122.9 395,122.9 396,122.9 397,122.9 398,122.9 399,122.9 400,122.9 401,122.9 402,122.9 403,122.9 404,122.9 405,122.9 406,122.9 407,122.9 408,122.9 409,122.9 410,122.9 411,122.9 412,122.9 413,122.9 414,122.9 415,122.9 416,122.9 417,122.9 418,122.9 419,122.9 420,122.8 421,122.7 422,122.6 423,122.7 424,122.8 425,122.9 426,122.9 427,122.9 428,122.9 429,122.9 430,122.9 431,122.9 432,122.9 433,122.9 434,122.9 435,122.9 436,122.9 437,122.9 438,122.9 439,122.9 440,122.9 441,122.9 442,122.9 443,122.9 444,122.9 445,122.9 446,122.9 447,122.9 448,122.9 449,122.9 450,122.5 451,122.5 452,122.3 453,122.5 454,122.4 455,122.1 456,122.1 457,122.4 458,121.8 459,122.1 460,122.3 461,121.9 462,122.4 463,122.3 464,122.2 465,122.3 466,121.7 467,121.8 468,122.0 469,122.0 470,122.4 471,122.2 472,122.5 473,122.7 474,122.7 475,122.5 476,122.5 477,122.2 478,122.5 479,122.5 480,122.5 481,122.7 482,122.6 483,122.7 484,122.4 485,122.7 486,122.6 487,122.5 488,122.6 489,122.6 490,122.5 491,122.7 492,122.6 493,122.7 494,122.7 495,122.8 496,122.7 497,122.8 498,122.7 499,122.8 500,122.7 501,122.6 502,122.9 503,122.9 504,122.9 505,122.8 506,122.8 507,122.6 508,122.9 509,122.9 510,122.9 511,122.6 512,122.9 513,122.7 514,122.4 515,122.8 516,122.4 517,122.7 518,122.4 519,122.7 520,122.6 521,122.6 522,122.5 523,122.5 524,122.3 525,122.6 526,121.9 527,122.5 528,122.1 529,122.5 530,122.4 531,122.4 532,122.3 533,122.6 534,122.6 535,122.6 536,122.8 537,122.7 538,122.8 539,122.6 540,122.6 541,122.5 542,122.6 543,122.8 544,122.7 545,122.9 546,122.8 547,122.8 548,122.8 549,122.8 550,122.5 551,122.6 552,122.9 553,122.7 554,122.8 555,122.6 556,122.8 557,122.7 558,122.4 559,122.6 560,122.7 561,122.3 562,122.3 563,122.4 564,122.5 565,122.4 566,122.5 567,122.6 568,122.7 569,122.7 570,122.7 571,122.6 572,122.5 573,122.4 574,122.4 575,122.3 576,122.3 577,122.2 578,122.5 579,122.3 580,122.6 581,122.7 582,122.7 583,122.8 584,122.7 585,122.5 586,122.8 587,122.7 588,122.6 589,122.7 590,122.8 591,122.3 592,122.5 593,122.5 594,122.8 595,122.5 596,122.7 597,122.2 598,122.4 599,122.9 600,122.9 601,122.9 602,122.9 603,122.9 604,122.9 605,122.9 606,122.9 607,122.9 608,122.9 609,122.9 610,122.9 611,122.9 612,122.9 613,122.9 614,122.9 615,122.9 616,122.9 617,122.9 618,122.9 619,122.9 620,122.9 621,122.9 622,122.9 623,122.9 624,122.9 625,122.9 626,122.9 627,122.9 628,122.9 629,122.9 630,122.9 631,122.9 632,122.9 633,122.9 634,121.6 635,119.9 636,118.0 637,117.5 638,118.9 639,120.8 640,122.8 641,122.9 642,122.9 643,122.9 644,122.9 645,122.9 646,122.9 647,122.9 648,122.8 649,122.7 650,122.8 651,122.8 651,122.9" fill="#4daf4a"/><line x1="384.9" y1="122.9" x2="651.7" y2="122.9" stroke="#4daf4a" stroke-width="1.0"/><polygon points="385,129.3 385,129.3 386,129.3 387,129.3 388,129.3 389,129.0 390,127.9 391,127.0 392,128.7 393,129.3 394,129.3 395,129.3 396,129.3 397,129.3 398,129.3 399,129.3 400,129.3 401,129.3 402,129.3 403,129.3 404,129.3 405,129.3 406,129.3 407,129.3 408,129.3 409,129.3 410,129.3 411,129.3 412,129.3 413,129.3 414,129.3 415,129.3 416,129.3 417,129.3 418,129.3 419,129.3 420,129.0 421,128.5 422,127.9 423,128.2 424,128.6 425,129.2 426,129.3 427,129.3 428,129.3 429,129.3 430,129.3 431,129.3 432,129.3 433,129.3 434,129.3 435,129.3 436,129.3 437,129.3 438,129.3 439,129.3 440,129.3 441,129.3 442,129.3 443,129.3 444,129.3 445,129.3 446,129.3 447,129.3 448,129.3 449,129.1 450,128.4 451,126.3 452,128.2 453,126.5 454,123.7 455,123.7 456,124.8 457,126.4 458,125.8 459,124.6 460,123.7 461,123.7 462,125.5 463,126.0 464,125.0 465,124.9 466,123.7 467,124.8 468,125.8 469,125.2 470,123.7 471,123.7 472,125.6 473,128.3 474,127.9 475,127.9 476,127.4 477,124.4 478,128.4 479,126.0 480,127.5 481,126.1 482,127.2 483,125.6 484,127.4 485,127.5 486,126.2 487,127.3 488,125.9 489,126.0 490,127.0 491,127.5 492,126.5 493,127.5 494,127.6 495,127.1 496,128.9 497,127.9 498,128.1 499,127.9 500,129.0 501,129.0 502,128.4 503,128.9 504,127.1 505,127.7 506,128.6 507,128.8 508,129.2 509,127.6 510,129.3 511,128.5 512,129.2 513,128.8 514,126.9 515,128.8 516,129.1 517,127.0 518,129.0 519,128.1 520,125.6 521,128.1 522,126.4 523,127.8 524,126.1 525,124.2 526,124.5 527,124.0 528,123.7 529,126.1 530,124.3 531,126.5 532,127.4 533,127.8 534,126.1 535,126.5 536,128.8 537,127.0 538,129.2 539,126.9 540,127.2 541,129.2 542,126.9 543,129.3 544,129.2 545,129.3 546,126.9 547,128.4 548,129.3 549,128.8 550,126.8 551,127.8 552,129.2 553,128.8 554,127.4 555,128.7 556,126.1 557,128.0 558,124.8 559,127.5 560,126.0 561,127.8 562,125.6 563,127.0 564,123.7 565,125.4 566,124.5 567,127.2 568,124.6 569,126.5 570,127.1 571,126.9 572,123.7 573,123.9 574,124.6 575,123.7 576,123.7 577,124.8 578,123.7 579,126.3 580,127.6 581,127.5 582,128.5 583,127.5 584,126.3 585,128.5 586,127.3 587,125.7 588,128.7 589,129.3 590,127.8 591,126.0 592,128.6 593,129.0 594,127.6 595,128.5 596,128.5 597,124.8 598,126.1 599,129.2 600,129.3 601,129.3 602,129.3 603,129.3 604,129.3 605,129.3 606,129.3 607,129.3 608,129.3 609,129.3 610,129.3 611,129.3 612,129.3 613,129.3 614,129.3 615,129.3 616,129.3 617,129.3 618,129.3 619,129.3 620,129.3 621,129.3 622,129.3 623,129.3 624,129.3 625,129.3 626,129.3 627,129.3 628,129.3 629,129.3 630,129.3 631,129.3 632,129.3 633,129.2 634,129.0 635,128.3 636,127.8 637,127.6 638,128.2 639,128.7 640,129.2 641,129.3 642,129.3 643,129.3 644,129.3 645,129.3 646,129.3 647,129.3 648,128.9 649,128.6 650,128.5 651,129.0 651,129.3" fill="#4daf4a"/><line x1="384.9" y1="129.3" x2="651.7" y2="129.3" stroke="#4daf4a" stroke-width="1.0"/><polygon points="385,135.8 385,135.8 386,135.8 387,135.8 388,135.8 389,135.3 390,133.7 391,132.5 392,135.1 393,135.7 394,135.8 395,135.8 396,135.8 397,135.8 398,135.8 399,135.8 400,135.8 401,135.8 402,135.8 403,135.8 404,135.8 405,135.8 406,135.8 407,135.8 408,135.8 409,135.8 410,135.8 411,135.8 412,135.8 413,135.8 414,135.8 415,135.8 416,135.8 417,135.8 418,135.8 419,135.8 420,135.7 421,135.6 422,135.5 423,135.6 424,135.7 425,135.8 426,135.8 427,135.8 428,135.8 429,135.8 430,135.8 431,135.8 432,135.8 433,135.8 434,135.8 435,135.8 436,135.8 437,135.8 438,135.8 439,135.8 440,135.8 441,135.8 442,135.8 443,135.8 444,135.8 445,135.8 446,135.8 447,135.8 448,135.7 449,135.6 450,132.5 451,135.2 452,134.6 453,132.9 454,133.0 455,133.3 456,130.8 457,132.4 458,132.0 459,132.1 460,131.1 461,132.0 462,130.6 463,131.8 464,131.1 465,132.2 466,131.0 467,131.8 468,130.1 469,131.6 470,132.4 471,132.1 472,133.2 473,134.5 474,134.1 475,134.8 476,135.1 477,133.9 478,135.0 479,134.6 480,134.6 481,134.1 482,134.5 483,133.8 484,133.0 485,134.3 486,134.1 487,133.4 488,133.8 489,134.3 490,134.5 491,134.4 492,134.5 493,134.8 494,134.4 495,134.7 496,134.8 497,135.3 498,135.4 499,134.8 500,135.3 501,134.6 502,135.7 503,135.1 504,135.8 505,135.5 506,135.2 507,135.8 508,135.7 509,135.7 510,135.3 511,135.7 512,135.2 513,135.8 514,134.6 515,135.4 516,134.4 517,133.7 518,134.9 519,134.5 520,135.0 521,134.3 522,134.6 523,134.3 524,134.0 525,132.8 526,132.1 527,131.9 528,134.0 529,133.4 530,133.7 531,133.6 532,133.3 533,133.4 534,134.1 535,134.5 536,134.7 537,134.7 538,135.3 539,134.1 540,135.7 541,135.7 542,134.5 543,134.6 544,134.9 545,134.8 546,135.0 547,134.6 548,135.7 549,135.3 550,135.1 551,135.4 552,135.3 553,135.8 554,134.8 555,135.2 556,135.4 557,135.5 558,134.0 559,134.6 560,134.2 561,133.1 562,132.9 563,131.8 564,132.9 565,130.7 566,132.7 567,132.0 568,133.1 569,134.7 570,134.1 571,132.9 572,133.1 573,131.9 574,133.2 575,133.1 576,130.9 577,133.7 578,133.3 579,134.0 580,133.9 581,134.2 582,133.2 583,135.2 584,135.6 585,134.8 586,135.5 587,135.7 588,135.7 589,134.7 590,135.2 591,135.1 592,134.8 593,135.6 594,134.6 595,135.7 596,135.4 597,131.5 598,132.2 599,135.5 600,135.8 601,135.8 602,135.8 603,135.8 604,135.8 605,135.8 606,135.8 607,135.8 608,135.8 609,135.8 610,135.8 611,135.8 612,135.8 613,135.8 614,135.8 615,135.8 616,135.8 617,135.8 618,135.8 619,135.8 620,135.8 621,135.8 622,135.8 623,135.8 624,135.8 625,135.8 626,135.8 627,135.8 628,135.8 629,135.8 630,135.8 631,135.8 632,135.8 633,135.6 634,135.0 635,134.0 636,133.1 637,132.5 638,133.6 639,135.0 640,135.5 641,135.7 642,135.8 643,135.8 644,135.8 645,135.8 646,135.8 647,135.7 648,134.6 649,132.9 650,133.8 651,135.3 651,135.8" fill="#984ea3"/><line x1="384.9" y1="135.8" x2="651.7" y2="135.8" stroke="#984ea3" stroke-width="1.0"/><polygon points="385,142.3 385,142.3 386,142.3 387,142.3 388,142.2 389,141.8 390,140.1 391,138.6 392,141.6 393,142.2 394,142.3 395,142.3 396,142.3 397,142.3 398,142.3 399,142.3 400,142.3 401,142.3 402,142.3 403,142.3 404,142.3 405,142.3 406,142.3 407,142.3 408,142.3 409,142.3 410,142.3 411,142.3 412,142.3 413,142.3 414,142.3 415,142.3 416,142.3 417,142.3 418,142.3 419,142.2 420,142.2 421,142.1 422,142.0 423,142.0 424,142.1 425,142.2 426,142.3 427,142.3 428,142.3 429,142.3 430,142.3 431,142.3 432,142.3 433,142.3 434,142.3 435,142.3 436,142.3 437,142.3 438,142.3 439,142.3 440,142.3 441,142.3 442,142.3 443,142.3 444,142.3 445,142.3 446,142.2 447,142.2 448,142.2 449,142.1 450,141.1 451,141.6 452,138.3 453,137.9 454,138.4 455,139.1 456,139.2 457,136.8 458,137.2 459,137.5 460,136.6 461,137.5 462,138.8 463,138.5 464,139.6 465,137.3 466,137.2 467,137.6 468,136.6 469,137.5 470,137.8 471,138.3 472,140.5 473,138.7 474,141.4 475,141.1 476,139.5 477,140.4 478,141.4 479,141.6 480,140.7 481,140.3 482,140.8 483,141.2 484,140.7 485,140.3 486,140.8 487,139.8 488,140.8 489,140.6 490,140.3 491,141.0 492,140.9 493,141.1 494,141.2 495,141.2 496,141.3 497,141.9 498,141.5 499,141.5 500,141.9 501,141.5 502,141.2 503,142.2 504,142.2 505,142.1 506,142.0 507,141.2 508,141.9 509,142.1 510,142.0 511,141.2 512,141.7 513,142.2 514,142.2 515,140.1 516,140.8 517,142.1 518,142.0 519,141.4 520,140.8 521,141.0 522,140.0 523,140.0 524,140.4 525,140.3 526,139.8 527,137.6 528,137.7 529,139.9 530,139.6 531,139.6 532,141.0 533,140.8 534,141.3 535,141.2 536,141.7 537,141.9 538,141.2 539,142.2 540,140.8 541,141.0 542,141.7 543,141.4 544,142.1 545,140.9 546,141.6 547,141.3 548,140.2 549,142.0 550,142.3 551,140.9 552,141.8 553,142.0 554,141.5 555,141.1 556,141.2 557,142.0 558,139.6 559,140.7 560,138.5 561,140.1 562,138.4 563,138.0 564,138.2 565,137.9 566,138.9 567,140.1 568,140.3 569,139.4 570,141.0 571,140.2 572,141.0 573,139.8 574,139.1 575,137.2 576,140.3 577,138.4 578,140.5 579,140.5 580,139.8 581,141.6 582,141.2 583,141.9 584,140.6 585,141.9 586,142.1 587,141.3 588,141.2 589,142.2 590,141.6 591,142.2 592,141.4 593,142.2 594,141.1 595,141.6 596,141.2 597,138.9 598,137.4 599,141.9 600,142.3 601,142.3 602,142.3 603,142.3 604,142.3 605,142.3 606,142.3 607,142.3 608,142.3 609,142.3 610,142.3 611,142.3 612,142.3 613,142.3 614,142.3 615,142.3 616,142.3 617,142.3 618,142.3 619,142.3 620,142.3 621,142.3 622,142.3 623,142.3 624,142.3 625,142.3 626,142.3 627,142.3 628,142.3 629,142.3 630,142.3 631,142.3 632,142.2 633,142.0 634,141.7 635,140.6 636,139.8 637,140.0 638,139.9 639,141.5 640,142.0 641,142.2 642,142.2 643,142.3 644,142.3 645,142.3 646,142.3 647,142.1 648,141.5 649,139.4 650,140.2 651,141.5 651,142.3" fill="#984ea3"/><line x1="384.9" y1="142.3" x2="651.7" y2="142.3" stroke="#984ea3" stroke-width="1.0"/><polygon points="385,148.7 385,148.7 386,148.7 387,148.7 388,148.7 389,148.2 390,146.0 391,145.4 392,148.1 393,148.7 394,148.7 395,148.7 396,148.7 397,148.7 398,148.7 399,148.7 400,148.7 401,148.7 402,148.7 403,148.7 404,148.7 405,148.7 406,148.7 407,148.7 408,148.7 409,148.7 410,148.7 411,148.7 412,148.7 413,148.7 414,148.7 415,148.7 416,148.7 417,148.7 418,148.7 419,148.7 420,148.7 421,148.6 422,148.4 423,148.5 424,148.6 425,148.7 426,148.7 427,148.7 428,148.7 429,148.7 430,148.7 431,148.7 432,148.7 433,148.7 434,148.7 435,148.7 436,148.7 437,148.7 438,148.7 439,148.7 440,148.7 441,148.7 442,148.7 443,148.7 444,148.7 445,148.7 446,148.7 447,148.7 448,148.6 449,148.6 450,147.6 451,146.2 452,146.9 453,145.4 454,145.6 455,146.4 456,145.5 457,144.0 458,143.1 459,143.7 460,143.1 461,145.0 462,145.7 463,145.2 464,143.6 465,145.8 466,145.3 467,144.1 468,143.1 469,143.5 470,143.9 471,146.8 472,144.2 473,147.9 474,147.7 475,148.1 476,148.1 477,148.0 478,148.0 479,147.7 480,147.9 481,146.7 482,147.7 483,147.0 484,147.4 485,146.2 486,147.3 487,147.4 488,147.2 489,146.9 490,147.3 491,148.0 492,146.8 493,147.6 494,147.7 495,148.2 496,147.4 497,147.8 498,147.8 499,148.1 500,148.5 501,148.6 502,148.6 503,148.5 504,148.2 505,147.8 506,148.6 507,148.7 508,148.7 509,148.5 510,148.3 511,148.6 512,148.5 513,148.7 514,148.1 515,147.7 516,147.9 517,148.2 518,148.2 519,147.6 520,146.2 521,147.2 522,146.4 523,145.3 524,146.9 525,146.7 526,145.8 527,145.3 528,145.4 529,144.3 530,144.2 531,146.5 532,146.2 533,147.3 534,148.0 535,147.7 536,148.4 537,148.5 538,148.2 539,148.0 540,148.4 541,148.7 542,147.2 543,148.4 544,147.6 545,147.8 546,148.6 547,148.3 548,148.2 549,148.2 550,146.9 551,147.7 552,148.5 553,147.0 554,148.1 555,147.6 556,147.8 557,147.0 558,147.8 559,147.9 560,146.3 561,147.2 562,146.0 563,144.9 564,144.0 565,145.1 566,145.2 567,145.4 568,146.8 569,147.3 570,147.7 571,145.8 572,146.3 573,146.1 574,146.6 575,143.9 576,145.2 577,143.8 578,146.6 579,146.3 580,147.7 581,147.3 582,147.8 583,148.4 584,148.0 585,147.0 586,146.7 587,148.7 588,148.3 589,147.3 590,148.6 591,146.6 592,148.3 593,148.2 594,147.7 595,148.4 596,148.4 597,144.9 598,144.1 599,148.5 600,148.7 601,148.7 602,148.7 603,148.7 604,148.7 605,148.7 606,148.7 607,148.7 608,148.7 609,148.7 610,148.7 611,148.7 612,148.7 613,148.7 614,148.7 615,148.7 616,148.7 617,148.7 618,148.7 619,148.7 620,148.7 621,148.7 622,148.7 623,148.7 624,148.7 625,148.7 626,148.7 627,148.7 628,148.7 629,148.7 630,148.7 631,148.7 632,148.7 633,148.6 634,148.2 635,147.1 636,146.1 637,145.5 638,147.3 639,148.0 640,148.3 641,148.6 642,148.7 643,148.7 644,148.7 645,148.7 646,148.7 647,148.6 648,147.7 649,147.0 650,146.3 651,148.0 651,148.7" fill="#984ea3"/><line x1="384.9" y1="148.7" x2="651.7" y2="148.7" stroke="#984ea3" stroke-width="1.0"/><polygon points="385,155.2 385,155.2 386,155.2 387,155.2 388,155.2 389,154.7 390,153.4 391,152.9 392,154.5 393,155.1 394,155.2 395,155.2 396,155.2 397,155.2 398,155.2 399,155.2 400,155.2 401,155.2 402,155.2 403,155.2 404,155.2 405,155.2 406,155.2 407,155.2 408,155.2 409,155.2 410,155.2 411,155.2 412,155.2 413,155.2 414,155.2 415,155.2 416,155.2 417,155.2 418,155.2 419,155.2 420,155.1 421,155.0 422,155.0 423,154.9 424,155.1 425,155.2 426,155.2 427,155.2 428,155.2 429,155.2 430,155.2 431,155.2 432,155.2 433,155.2 434,155.2 435,155.2 436,155.2 437,155.2 438,155.2 439,155.2 440,155.2 441,155.2 442,155.2 443,155.2 444,155.2 445,155.2 446,155.2 447,155.2 448,155.1 449,155.0 450,152.6 451,152.5 452,153.5 453,152.1 454,153.0 455,152.3 456,150.2 457,149.5 458,150.7 459,150.5 460,149.8 461,152.2 462,150.8 463,152.4 464,151.5 465,151.8 466,149.5 467,149.5 468,150.7 469,149.8 470,152.4 471,150.4 472,154.1 473,152.6 474,152.9 475,154.3 476,154.2 477,153.9 478,153.4 479,154.2 480,153.5 481,154.1 482,153.8 483,152.9 484,153.0 485,153.5 486,153.3 487,153.8 488,153.6 489,154.0 490,154.0 491,153.8 492,154.1 493,154.5 494,154.1 495,154.4 496,154.2 497,154.5 498,154.7 499,154.6 500,154.8 501,154.7 502,154.5 503,154.9 504,155.2 505,155.2 506,154.3 507,155.1 508,155.0 509,154.6 510,154.6 511,154.4 512,154.4 513,155.1 514,154.9 515,153.5 516,154.5 517,154.0 518,154.6 519,154.2 520,154.7 521,153.7 522,152.1 523,152.6 524,153.5 525,153.5 526,151.5 527,151.9 528,151.8 529,152.4 530,152.6 531,151.5 532,153.4 533,153.3 534,152.5 535,154.6 536,153.5 537,154.3 538,155.0 539,154.7 540,153.8 541,154.5 542,154.3 543,155.0 544,153.1 545,153.6 546,154.1 547,153.6 548,154.2 549,155.1 550,154.8 551,154.1 552,153.9 553,155.1 554,155.1 555,154.8 556,153.6 557,154.1 558,153.9 559,154.1 560,153.7 561,153.3 562,151.7 563,151.7 564,151.4 565,152.0 566,152.9 567,152.1 568,153.1 569,153.3 570,153.3 571,154.0 572,153.0 573,152.9 574,152.0 575,151.4 576,152.3 577,152.4 578,152.3 579,152.9 580,153.5 581,153.3 582,154.5 583,155.0 584,155.0 585,154.3 586,153.9 587,155.0 588,155.1 589,154.5 590,153.7 591,154.6 592,154.3 593,155.1 594,153.7 595,154.5 596,153.3 597,151.8 598,151.9 599,154.9 600,155.2 601,155.2 602,155.2 603,155.2 604,155.2 605,155.2 606,155.2 607,155.2 608,155.2 609,155.2 610,155.2 611,155.2 612,155.2 613,155.2 614,155.2 615,155.2 616,155.2 617,155.2 618,155.2 619,155.2 620,155.2 621,155.2 622,155.2 623,155.2 624,155.2 625,155.2 626,155.2 627,155.2 628,155.2 629,155.2 630,155.2 631,155.2 632,155.1 633,155.0 634,154.4 635,153.9 636,153.2 637,152.8 638,152.8 639,154.3 640,154.8 641,155.1 642,155.2 643,155.2 644,155.2 645,155.2 646,155.2 647,155.0 648,154.3 649,152.6 650,153.0 651,154.5 651,155.2" fill="#984ea3"/><line x1="384.9" y1="155.2" x2="651.7" y2="155.2" stroke="#984ea3" stroke-width="1.0"/><polygon points="385,161.6 385,161.6 386,161.6 387,161.6 388,161.6 389,161.4 390,160.5 391,159.4 392,161.1 393,161.6 394,161.6 395,161.6 396,161.6 397,161.6 398,161.6 399,161.6 400,161.6 401,161.6 402,161.6 403,161.6 404,161.6 405,161.6 406,161.6 407,161.6 408,161.6 409,161.6 410,161.6 411,161.6 412,161.6 413,161.6 414,161.6 415,161.6 416,161.6 417,161.6 418,161.6 419,161.6 420,161.6 421,161.5 422,161.5 423,161.5 424,161.6 425,161.6 426,161.6 427,161.6 428,161.6 429,161.6 430,161.6 431,161.6 432,161.6 433,161.6 434,161.6 435,161.6 436,161.6 437,161.6 438,161.6 439,161.6 440,161.6 441,161.6 442,161.6 443,161.6 444,161.6 445,161.6 446,161.6 447,161.6 448,161.6 449,161.6 450,161.4 451,161.1 452,160.8 453,160.8 454,159.0 455,159.3 456,158.1 457,158.5 458,158.7 459,159.1 460,157.7 461,158.6 462,160.1 463,159.9 464,158.1 465,159.3 466,158.4 467,158.7 468,158.8 469,158.6 470,159.1 471,160.0 472,160.6 473,160.3 474,160.5 475,160.9 476,160.4 477,161.3 478,160.8 479,161.2 480,161.0 481,160.7 482,160.9 483,160.9 484,160.5 485,160.8 486,160.6 487,160.3 488,160.8 489,160.8 490,160.9 491,161.0 492,160.8 493,160.9 494,161.0 495,161.1 496,161.2 497,161.2 498,161.2 499,161.4 500,161.1 501,161.2 502,161.2 503,161.6 504,161.6 505,161.6 506,161.5 507,161.5 508,161.3 509,161.0 510,161.6 511,161.1 512,161.5 513,161.6 514,161.5 515,161.4 516,161.1 517,161.6 518,161.1 519,161.3 520,161.1 521,161.0 522,160.8 523,160.8 524,160.1 525,160.3 526,159.7 527,160.2 528,160.0 529,160.4 530,160.0 531,160.1 532,160.3 533,160.9 534,160.1 535,161.3 536,161.0 537,161.3 538,161.2 539,160.6 540,161.4 541,160.6 542,161.6 543,161.5 544,161.0 545,160.6 546,160.3 547,161.1 548,161.1 549,161.3 550,161.5 551,160.6 552,160.9 553,161.2 554,161.2 555,161.2 556,161.5 557,161.5 558,160.9 559,160.2 560,160.3 561,159.8 562,159.4 563,159.3 564,160.4 565,160.2 566,159.6 567,159.1 568,160.4 569,160.6 570,160.7 571,160.0 572,160.2 573,160.5 574,159.4 575,160.2 576,160.3 577,160.2 578,160.1 579,160.5 580,160.4 581,160.6 582,160.9 583,160.7 584,160.7 585,161.4 586,160.9 587,161.1 588,160.4 589,161.2 590,161.6 591,160.8 592,161.2 593,161.3 594,161.2 595,161.3 596,160.8 597,159.8 598,160.1 599,161.4 600,161.6 601,161.6 602,161.6 603,161.6 604,161.6 605,161.6 606,161.6 607,161.6 608,161.6 609,161.6 610,161.6 611,161.6 612,161.6 613,161.6 614,161.6 615,161.6 616,161.6 617,161.6 618,161.6 619,161.6 620,161.6 621,161.6 622,161.6 623,161.6 624,161.6 625,161.6 626,161.6 627,161.6 628,161.6 629,161.6 630,161.6 631,161.6 632,161.6 633,161.5 634,161.2 635,161.0 636,160.5 637,159.9 638,160.7 639,161.0 640,161.4 641,161.6 642,161.6 643,161.6 644,161.6 645,161.6 646,161.6 647,161.6 648,161.2 649,159.8 650,160.1 651,161.2 651,161.6" fill="#984ea3"/><line x1="384.9" y1="161.6" x2="651.7" y2="161.6" stroke="#984ea3" stroke-width="1.0"/><line x1="384.9" y1="160.9" x2="651.7" y2="160.9" stroke="#ccc" stroke-width="1.2"/><line x1="466" y1="166.2" x2="569" y2="166.2" stroke="#2222bb" stroke-width="1"/><rect x="468" y="164.6" width="0.8" height="3.2" fill="#2222bb"/><rect x="471" y="164.6" width="0.8" height="3.2" fill="#2222bb"/><rect x="474" y="164.6" width="0.8" height="3.2" fill="#2222bb"/><rect x="477" y="164.6" width="0.8" height="3.2" fill="#2222bb"/><rect x="480" y="164.6" width="0.8" height="3.2" fill="#2222bb"/><rect x="483" y="164.6" width="0.8" height="3.2" fill="#2222bb"/><rect x="486" y="164.6" width="0.8" height="3.2" fill="#2222bb"/><rect x="489" y="164.6" width="0.8" height="3.2" fill="#2222bb"/><rect x="492" y="164.6" width="0.8" height="3.2" fill="#2222bb"/><rect x="495" y="164.6" width="0.8" height="3.2" fill="#2222bb"/><rect x="498" y="164.6" width="0.8" height="3.2" fill="#2222bb"/><rect x="501" y="164.6" width="0.8" height="3.2" fill="#2222bb"/><rect x="504" y="164.6" width="0.8" height="3.2" fill="#2222bb"/><rect x="507" y="164.6" width="0.8" height="3.2" fill="#2222bb"/><rect x="510" y="164.6" width="0.8" height="3.2" fill="#2222bb"/><rect x="513" y="164.6" width="0.8" height="3.2" fill="#2222bb"/><rect x="516" y="164.6" width="0.8" height="3.2" fill="#2222bb"/><rect x="519" y="164.6" width="0.8" height="3.2" fill="#2222bb"/><rect x="522" y="164.6" width="0.8" height="3.2" fill="#2222bb"/><rect x="525" y="164.6" width="0.8" height="3.2" fill="#2222bb"/><rect x="528" y="164.6" width="0.8" height="3.2" fill="#2222bb"/><rect x="531" y="164.6" width="0.8" height="3.2" fill="#2222bb"/><rect x="534" y="164.6" width="0.8" height="3.2" fill="#2222bb"/><rect x="537" y="164.6" width="0.8" height="3.2" fill="#2222bb"/><rect x="540" y="164.6" width="0.8" height="3.2" fill="#2222bb"/><rect x="543" y="164.6" width="0.8" height="3.2" fill="#2222bb"/><rect x="546" y="164.6" width="0.8" height="3.2" fill="#2222bb"/><rect x="549" y="164.6" width="0.8" height="3.2" fill="#2222bb"/><rect x="552" y="164.6" width="0.8" height="3.2" fill="#2222bb"/><rect x="555" y="164.6" width="0.8" height="3.2" fill="#2222bb"/><rect x="558" y="164.6" width="0.8" height="3.2" fill="#2222bb"/><rect x="561" y="164.6" width="0.8" height="3.2" fill="#2222bb"/><rect x="564" y="164.6" width="0.8" height="3.2" fill="#2222bb"/><rect x="565" y="163.7" width="4" height="5" fill="#2222bb"/><rect x="527" y="163.7" width="2" height="5" fill="#2222bb"/><line x1="591" y1="166.2" x2="638" y2="166.2" stroke="#2222bb" stroke-width="1"/><rect x="592" y="164.6" width="0.8" height="3.2" fill="#2222bb"/><rect x="595" y="164.6" width="0.8" height="3.2" fill="#2222bb"/><rect x="598" y="164.6" width="0.8" height="3.2" fill="#2222bb"/><rect x="601" y="164.6" width="0.8" height="3.2" fill="#2222bb"/><rect x="604" y="164.6" width="0.8" height="3.2" fill="#2222bb"/><rect x="607" y="164.6" width="0.8" height="3.2" fill="#2222bb"/><rect x="610" y="164.6" width="0.8" height="3.2" fill="#2222bb"/><rect x="613" y="164.6" width="0.8" height="3.2" fill="#2222bb"/><rect x="616" y="164.6" width="0.8" height="3.2" fill="#2222bb"/><rect x="619" y="164.6" width="0.8" height="3.2" fill="#2222bb"/><rect x="622" y="164.6" width="0.8" height="3.2" fill="#2222bb"/><rect x="625" y="164.6" width="0.8" height="3.2" fill="#2222bb"/><rect x="628" y="164.6" width="0.8" height="3.2" fill="#2222bb"/><rect x="631" y="164.6" width="0.8" height="3.2" fill="#2222bb"/><rect x="634" y="164.6" width="0.8" height="3.2" fill="#2222bb"/><rect x="637" y="164.6" width="0.8" height="3.2" fill="#2222bb"/><rect x="594" y="163.2" width="1.6" height="6" fill="#2222bb"/><rect x="599" y="163.2" width="1.6" height="6" fill="#2222bb"/><rect x="602" y="163.2" width="1.6" height="6" fill="#2222bb"/><rect x="607" y="163.2" width="1.6" height="6" fill="#2222bb"/><rect x="617" y="163.2" width="1.6" height="6" fill="#2222bb"/><rect x="620" y="163.2" width="1.6" height="6" fill="#2222bb"/><text x="531.5" y="189" font-size="20.8" text-anchor="middle">PAX8</text><text x="622" y="189" font-size="20.8" text-anchor="middle">PSD4</text><text x="518.5" y="279" font-size="20.8" text-anchor="middle">Somatic mutations</text><line x1="387.9" y1="288" x2="387.9" y2="299.5" stroke="#2a2ad0" stroke-width="1"/><line x1="389.9" y1="288" x2="389.9" y2="299.5" stroke="#2a2ad0" stroke-width="1"/><line x1="393.7" y1="288" x2="393.7" y2="299.5" stroke="#9a9ae6" stroke-width="1"/><line x1="399.9" y1="288" x2="399.9" y2="299.5" stroke="#2a2ad0" stroke-width="1"/><line x1="410.6" y1="288" x2="410.6" y2="299.5" stroke="#2a2ad0" stroke-width="1"/><line x1="414.3" y1="288" x2="414.3" y2="299.5" stroke="#2a2ad0" stroke-width="1"/><line x1="419.1" y1="288" x2="419.1" y2="299.5" stroke="#2a2ad0" stroke-width="1"/><line x1="424.3" y1="288" x2="424.3" y2="299.5" stroke="#2a2ad0" stroke-width="1"/><line x1="435.3" y1="288" x2="435.3" y2="299.5" stroke="#2a2ad0" stroke-width="1"/><line x1="436.8" y1="288" x2="436.8" y2="299.5" stroke="#9a9ae6" stroke-width="1"/><line x1="446" y1="288" x2="446" y2="299.5" stroke="#2a2ad0" stroke-width="1"/><line x1="447.7" y1="288" x2="447.7" y2="299.5" stroke="#2a2ad0" stroke-width="1"/><line x1="449.7" y1="288" x2="449.7" y2="299.5" stroke="#2a2ad0" stroke-width="1"/><line x1="452.2" y1="288" x2="452.2" y2="299.5" stroke="#2a2ad0" stroke-width="1"/><line x1="454.7" y1="288" x2="454.7" y2="299.5" stroke="#2a2ad0" stroke-width="1"/><line x1="457.2" y1="288" x2="457.2" y2="299.5" stroke="#2a2ad0" stroke-width="1"/><line x1="459.7" y1="288" x2="459.7" y2="299.5" stroke="#2a2ad0" stroke-width="1"/><line x1="462.7" y1="288" x2="462.7" y2="299.5" stroke="#2a2ad0" stroke-width="1"/><line x1="469.2" y1="288" x2="469.2" y2="299.5" stroke="#9a9ae6" stroke-width="1"/><line x1="470.9" y1="288" x2="470.9" y2="299.5" stroke="#2a2ad0" stroke-width="1"/><line x1="474.1" y1="288" x2="474.1" y2="299.5" stroke="#9a9ae6" stroke-width="1"/><line x1="483.4" y1="288" x2="483.4" y2="299.5" stroke="#2a2ad0" stroke-width="1"/><line x1="487.1" y1="288" x2="487.1" y2="299.5" stroke="#2a2ad0" stroke-width="1"/><line x1="490.3" y1="288" x2="490.3" y2="299.5" stroke="#2a2ad0" stroke-width="1"/><line x1="494.6" y1="288" x2="494.6" y2="299.5" stroke="#2a2ad0" stroke-width="1"/><line x1="498.3" y1="288" x2="498.3" y2="299.5" stroke="#2a2ad0" stroke-width="1"/><line x1="500.8" y1="288" x2="500.8" y2="299.5" stroke="#2a2ad0" stroke-width="1"/><line x1="502" y1="288" x2="502" y2="299.5" stroke="#2a2ad0" stroke-width="1"/><line x1="503.3" y1="288" x2="503.3" y2="299.5" stroke="#9a9ae6" stroke-width="1"/><line x1="504.5" y1="288" x2="504.5" y2="299.5" stroke="#2a2ad0" stroke-width="1"/><line x1="505.8" y1="288" x2="505.8" y2="299.5" stroke="#2a2ad0" stroke-width="1"/><line x1="508.3" y1="288" x2="508.3" y2="299.5" stroke="#2a2ad0" stroke-width="1"/><line x1="510.8" y1="288" x2="510.8" y2="299.5" stroke="#9a9ae6" stroke-width="2"/><line x1="512" y1="288" x2="512" y2="299.5" stroke="#2a2ad0" stroke-width="2"/><line x1="513.2" y1="288" x2="513.2" y2="299.5" stroke="#2a2ad0" stroke-width="1"/><line x1="515.7" y1="288" x2="515.7" y2="299.5" stroke="#9a9ae6" stroke-width="1"/><line x1="519.5" y1="288" x2="519.5" y2="299.5" stroke="#2a2ad0" stroke-width="1"/><line x1="520.7" y1="288" x2="520.7" y2="299.5" stroke="#9a9ae6" stroke-width="1"/><line x1="529.4" y1="288" x2="529.4" y2="299.5" stroke="#9a9ae6" stroke-width="1"/><line x1="531.4" y1="288" x2="531.4" y2="299.5" stroke="#2a2ad0" stroke-width="1"/><line x1="533.2" y1="288" x2="533.2" y2="299.5" stroke="#2a2ad0" stroke-width="1"/><line x1="535.7" y1="288" x2="535.7" y2="299.5" stroke="#9a9ae6" stroke-width="1"/><line x1="536.9" y1="288" x2="536.9" y2="299.5" stroke="#2a2ad0" stroke-width="2"/><line x1="538.2" y1="288" x2="538.2" y2="299.5" stroke="#2a2ad0" stroke-width="2"/><line x1="541.9" y1="288" x2="541.9" y2="299.5" stroke="#2a2ad0" stroke-width="1"/><line x1="544.4" y1="288" x2="544.4" y2="299.5" stroke="#2a2ad0" stroke-width="1"/><line x1="547.4" y1="288" x2="547.4" y2="299.5" stroke="#9a9ae6" stroke-width="1"/><line x1="554.4" y1="288" x2="554.4" y2="299.5" stroke="#9a9ae6" stroke-width="1"/><line x1="557.3" y1="288" x2="557.3" y2="299.5" stroke="#9a9ae6" stroke-width="1"/><line x1="559.8" y1="288" x2="559.8" y2="299.5" stroke="#2a2ad0" stroke-width="1"/><line x1="562.3" y1="288" x2="562.3" y2="299.5" stroke="#2a2ad0" stroke-width="1"/><line x1="565.6" y1="288" x2="565.6" y2="299.5" stroke="#2a2ad0" stroke-width="1"/><line x1="568.1" y1="288" x2="568.1" y2="299.5" stroke="#2a2ad0" stroke-width="1"/><line x1="570.5" y1="288" x2="570.5" y2="299.5" stroke="#2a2ad0" stroke-width="1"/><line x1="573" y1="288" x2="573" y2="299.5" stroke="#2a2ad0" stroke-width="1"/><line x1="574.3" y1="288" x2="574.3" y2="299.5" stroke="#2a2ad0" stroke-width="1"/><line x1="576.8" y1="288" x2="576.8" y2="299.5" stroke="#2a2ad0" stroke-width="1"/><line x1="578.3" y1="288" x2="578.3" y2="299.5" stroke="#2a2ad0" stroke-width="1"/><line x1="579.3" y1="288" x2="579.3" y2="299.5" stroke="#2a2ad0" stroke-width="1"/><line x1="580.5" y1="288" x2="580.5" y2="299.5" stroke="#2a2ad0" stroke-width="1"/><line x1="583" y1="288" x2="583" y2="299.5" stroke="#2a2ad0" stroke-width="1"/><line x1="584.7" y1="288" x2="584.7" y2="299.5" stroke="#2a2ad0" stroke-width="1"/><line x1="589.2" y1="288" x2="589.2" y2="299.5" stroke="#2a2ad0" stroke-width="1"/><line x1="593" y1="288" x2="593" y2="299.5" stroke="#9a9ae6" stroke-width="1"/><line x1="599.2" y1="288" x2="599.2" y2="299.5" stroke="#9a9ae6" stroke-width="1"/><line x1="605.4" y1="288" x2="605.4" y2="299.5" stroke="#9a9ae6" stroke-width="1"/><line x1="611.7" y1="288" x2="611.7" y2="299.5" stroke="#2a2ad0" stroke-width="1"/><line x1="619.1" y1="288" x2="619.1" y2="299.5" stroke="#2a2ad0" stroke-width="1"/><line x1="626.6" y1="288" x2="626.6" y2="299.5" stroke="#2a2ad0" stroke-width="1"/><line x1="630.3" y1="288" x2="630.3" y2="299.5" stroke="#2a2ad0" stroke-width="1"/><line x1="633.6" y1="288" x2="633.6" y2="299.5" stroke="#9a9ae6" stroke-width="1"/><line x1="637.8" y1="288" x2="637.8" y2="299.5" stroke="#2a2ad0" stroke-width="1"/><line x1="384.9" y1="300.3" x2="651.7" y2="300.3" stroke="#ccc" stroke-width="1.2"/><line x1="466" y1="304.5" x2="569" y2="304.5" stroke="#2222bb" stroke-width="1"/><rect x="468" y="302.9" width="0.8" height="3.2" fill="#2222bb"/><rect x="471" y="302.9" width="0.8" height="3.2" fill="#2222bb"/><rect x="474" y="302.9" width="0.8" height="3.2" fill="#2222bb"/><rect x="477" y="302.9" width="0.8" height="3.2" fill="#2222bb"/><rect x="480" y="302.9" width="0.8" height="3.2" fill="#2222bb"/><rect x="483" y="302.9" width="0.8" height="3.2" fill="#2222bb"/><rect x="486" y="302.9" width="0.8" height="3.2" fill="#2222bb"/><rect x="489" y="302.9" width="0.8" height="3.2" fill="#2222bb"/><rect x="492" y="302.9" width="0.8" height="3.2" fill="#2222bb"/><rect x="495" y="302.9" width="0.8" height="3.2" fill="#2222bb"/><rect x="498" y="302.9" width="0.8" height="3.2" fill="#2222bb"/><rect x="501" y="302.9" width="0.8" height="3.2" fill="#2222bb"/><rect x="504" y="302.9" width="0.8" height="3.2" fill="#2222bb"/><rect x="507" y="302.9" width="0.8" height="3.2" fill="#2222bb"/><rect x="510" y="302.9" width="0.8" height="3.2" fill="#2222bb"/><rect x="513" y="302.9" width="0.8" height="3.2" fill="#2222bb"/><rect x="516" y="302.9" width="0.8" height="3.2" fill="#2222bb"/><rect x="519" y="302.9" width="0.8" height="3.2" fill="#2222bb"/><rect x="522" y="302.9" width="0.8" height="3.2" fill="#2222bb"/><rect x="525" y="302.9" width="0.8" height="3.2" fill="#2222bb"/><rect x="528" y="302.9" width="0.8" height="3.2" fill="#2222bb"/><rect x="531" y="302.9" width="0.8" height="3.2" fill="#2222bb"/><rect x="534" y="302.9" width="0.8" height="3.2" fill="#2222bb"/><rect x="537" y="302.9" width="0.8" height="3.2" fill="#2222bb"/><rect x="540" y="302.9" width="0.8" height="3.2" fill="#2222bb"/><rect x="543" y="302.9" width="0.8" height="3.2" fill="#2222bb"/><rect x="546" y="302.9" width="0.8" height="3.2" fill="#2222bb"/><rect x="549" y="302.9" width="0.8" height="3.2" fill="#2222bb"/><rect x="552" y="302.9" width="0.8" height="3.2" fill="#2222bb"/><rect x="555" y="302.9" width="0.8" height="3.2" fill="#2222bb"/><rect x="558" y="302.9" width="0.8" height="3.2" fill="#2222bb"/><rect x="561" y="302.9" width="0.8" height="3.2" fill="#2222bb"/><rect x="564" y="302.9" width="0.8" height="3.2" fill="#2222bb"/><rect x="565" y="302" width="4" height="5" fill="#2222bb"/><rect x="527" y="302" width="2" height="5" fill="#2222bb"/><line x1="591" y1="304.5" x2="638" y2="304.5" stroke="#2222bb" stroke-width="1"/><rect x="592" y="302.9" width="0.8" height="3.2" fill="#2222bb"/><rect x="595" y="302.9" width="0.8" height="3.2" fill="#2222bb"/><rect x="598" y="302.9" width="0.8" height="3.2" fill="#2222bb"/><rect x="601" y="302.9" width="0.8" height="3.2" fill="#2222bb"/><rect x="604" y="302.9" width="0.8" height="3.2" fill="#2222bb"/><rect x="607" y="302.9" width="0.8" height="3.2" fill="#2222bb"/><rect x="610" y="302.9" width="0.8" height="3.2" fill="#2222bb"/><rect x="613" y="302.9" width="0.8" height="3.2" fill="#2222bb"/><rect x="616" y="302.9" width="0.8" height="3.2" fill="#2222bb"/><rect x="619" y="302.9" width="0.8" height="3.2" fill="#2222bb"/><rect x="622" y="302.9" width="0.8" height="3.2" fill="#2222bb"/><rect x="625" y="302.9" width="0.8" height="3.2" fill="#2222bb"/><rect x="628" y="302.9" width="0.8" height="3.2" fill="#2222bb"/><rect x="631" y="302.9" width="0.8" height="3.2" fill="#2222bb"/><rect x="634" y="302.9" width="0.8" height="3.2" fill="#2222bb"/><rect x="637" y="302.9" width="0.8" height="3.2" fill="#2222bb"/><rect x="594" y="301.5" width="1.6" height="6" fill="#2222bb"/><rect x="599" y="301.5" width="1.6" height="6" fill="#2222bb"/><rect x="602" y="301.5" width="1.6" height="6" fill="#2222bb"/><rect x="607" y="301.5" width="1.6" height="6" fill="#2222bb"/><rect x="617" y="301.5" width="1.6" height="6" fill="#2222bb"/><rect x="620" y="301.5" width="1.6" height="6" fill="#2222bb"/><text x="531.5" y="326" font-size="20.8" text-anchor="middle">PAX8</text><text x="622" y="326" font-size="20.8" text-anchor="middle">PSD4</text><text x="921.5" y="112.5" font-size="16.6" text-anchor="middle">Frequently mutated regulatory elements</text><line x1="769.3" y1="126" x2="769.3" y2="215.2" stroke="#000" stroke-width="2"/><line x1="764" y1="127" x2="769.3" y2="127" stroke="#000" stroke-width="2"/><line x1="764" y1="148.9" x2="769.3" y2="148.9" stroke="#000" stroke-width="2"/><line x1="764" y1="170.8" x2="769.3" y2="170.8" stroke="#000" stroke-width="2"/><line x1="764" y1="192.5" x2="769.3" y2="192.5" stroke="#000" stroke-width="2"/><line x1="764" y1="214.2" x2="769.3" y2="214.2" stroke="#000" stroke-width="2"/><polygon points="774.8,216.5 774.8,193 777.3,194.2 779.8,193.5 782.3,194.4 784.8,194.5 787.3,192.3 789.8,192.1 792.3,195.3 794.8,193 797.3,192.9 799.8,196 802.3,193.9 804.8,195.3 807.3,193.9 809.8,194.6 812.3,192.6 814.8,194.5 817.3,195.5 819.8,194.1 822.3,195 824.8,194.7 827.3,192.3 829.8,195 832.3,194.4 834.8,193.2 837.3,192.1 839.8,195.5 842.3,193.9 844.8,194.9 847.3,195.5 849.8,194.9 852.3,195.7 854.8,193.6 857.3,195.2 859.8,193.8 862.3,195.7 864.8,195.5 867.3,192.4 869.8,192.5 872.3,192.9 874.8,195.9 877.3,193.7 879.8,194.5 882.3,193.2 884.8,194 887.3,193.5 889.8,193.4 892.3,194.3 894.8,194.3 897.3,195.6 899.8,194.7 902.3,195.7 904.8,195.4 907.3,196 909.8,194.7 912.3,192.7 914.8,195.4 917.3,195.9 919.8,195.6 922.3,194.3 924.8,194.9 927.3,192.8 929.8,195.3 932.3,194.3 934.8,193.1 937.3,192.3 939.8,195.4 942.3,196 944.8,192.4 947.3,195.2 949.8,193.6 952.3,192.6 954.8,193.2 957.3,195.1 959.8,195.5 962.3,192.2 964.8,194.5 967.3,192.2 969.8,194.9 972.3,193.3 974.8,195.5 977.3,195.9 979.8,194 982.3,196 984.8,193.2 987.3,192.3 989.8,194.4 992.3,192.1 994.8,192.8 997.3,193.6 999.8,194.4 1002.3,192.6 1004.8,192.2 1007.3,195.5 1009.8,193.3 1012.3,195.8 1014.8,195.6 1017.3,193.5 1019.8,193.8 1022.3,194.1 1024.8,194.6 1027.3,194.4 1029.8,194.2 1032.3,194.5 1034.8,195.8 1037.3,194 1039.8,193.7 1042.3,194.9 1044.8,193 1047.3,193.2 1049.8,195.9 1052.3,194.1 1054.8,194.2 1057.3,192 1059.8,193.7 1062.3,194.3 1064.8,192.1 1066,216.5" fill="#aaa"/><circle cx="954" cy="194.7" r="2.6" fill="#aaa"/><circle cx="957.3" cy="194.6" r="2.6" fill="#aaa"/><circle cx="910.7" cy="193.8" r="2.6" fill="#aaa"/><circle cx="980.3" cy="191.4" r="2.6" fill="#aaa"/><circle cx="989.3" cy="194.1" r="2.6" fill="#aaa"/><circle cx="971.4" cy="195.7" r="2.6" fill="#aaa"/><circle cx="1054.4" cy="196" r="2.6" fill="#aaa"/><circle cx="947.3" cy="189.9" r="2.6" fill="#aaa"/><circle cx="868.5" cy="192.9" r="2.6" fill="#aaa"/><circle cx="882.7" cy="192.4" r="2.6" fill="#aaa"/><circle cx="948.1" cy="194.3" r="2.6" fill="#aaa"/><circle cx="999.2" cy="190.9" r="2.6" fill="#aaa"/><circle cx="783.8" cy="187.9" r="2.6" fill="#aaa"/><circle cx="865.6" cy="192.2" r="2.6" fill="#aaa"/><circle cx="840.3" cy="194.7" r="2.6" fill="#aaa"/><circle cx="830.2" cy="192.2" r="2.6" fill="#aaa"/><circle cx="901.8" cy="195.2" r="2.6" fill="#aaa"/><circle cx="869" cy="193.6" r="2.6" fill="#aaa"/><circle cx="872.5" cy="193" r="2.6" fill="#aaa"/><circle cx="1023.2" cy="190.9" r="2.6" fill="#aaa"/><circle cx="824.9" cy="191.9" r="2.6" fill="#aaa"/><circle cx="1031.7" cy="189.2" r="2.6" fill="#aaa"/><circle cx="906.4" cy="195.6" r="2.6" fill="#aaa"/><circle cx="929.1" cy="193.2" r="2.6" fill="#aaa"/><circle cx="831.1" cy="192.3" r="2.6" fill="#aaa"/><circle cx="829.1" cy="186.2" r="2.6" fill="#aaa"/><circle cx="856.5" cy="193.2" r="2.6" fill="#aaa"/><circle cx="1009" cy="188.6" r="2.6" fill="#aaa"/><circle cx="875.8" cy="192.9" r="2.6" fill="#aaa"/><circle cx="1005.4" cy="192.7" r="2.6" fill="#aaa"/><circle cx="854.4" cy="192.7" r="2.6" fill="#aaa"/><circle cx="897.3" cy="191.3" r="2.6" fill="#aaa"/><circle cx="894.4" cy="193.2" r="2.6" fill="#aaa"/><circle cx="777.3" cy="194.5" r="2.6" fill="#aaa"/><circle cx="1048.6" cy="184.2" r="2.6" fill="#aaa"/><circle cx="901.5" cy="184.9" r="2.6" fill="#aaa"/><circle cx="1050.6" cy="192.5" r="2.6" fill="#aaa"/><circle cx="991.5" cy="194.3" r="2.6" fill="#aaa"/><circle cx="1017.8" cy="192.5" r="2.6" fill="#aaa"/><circle cx="859.5" cy="190.3" r="2.6" fill="#aaa"/><circle cx="874.6" cy="195.7" r="2.6" fill="#aaa"/><circle cx="946.1" cy="194" r="2.6" fill="#aaa"/><circle cx="858.9" cy="195.4" r="2.6" fill="#aaa"/><circle cx="1037.1" cy="194.4" r="2.6" fill="#aaa"/><circle cx="976.5" cy="185.6" r="2.6" fill="#aaa"/><circle cx="1036" cy="190.6" r="2.6" fill="#aaa"/><circle cx="942.7" cy="186.9" r="2.6" fill="#aaa"/><circle cx="825.7" cy="195.2" r="2.6" fill="#aaa"/><circle cx="862.7" cy="192.5" r="2.6" fill="#aaa"/><circle cx="895.6" cy="190.3" r="2.6" fill="#aaa"/><circle cx="1047.4" cy="192.2" r="2.6" fill="#aaa"/><circle cx="849" cy="192.7" r="2.6" fill="#aaa"/><circle cx="1025" cy="186.5" r="2.6" fill="#aaa"/><circle cx="877.7" cy="194.6" r="2.6" fill="#aaa"/><circle cx="833" cy="186.1" r="2.6" fill="#aaa"/><circle cx="825.5" cy="193.8" r="2.6" fill="#aaa"/><circle cx="1004.8" cy="187.2" r="2.6" fill="#aaa"/><circle cx="1014" cy="191.3" r="2.6" fill="#aaa"/><circle cx="778.2" cy="188.4" r="2.6" fill="#aaa"/><circle cx="790.4" cy="188.1" r="2.6" fill="#aaa"/><circle cx="854.4" cy="195.2" r="2.6" fill="#aaa"/><circle cx="898.2" cy="189.3" r="2.6" fill="#aaa"/><circle cx="912.7" cy="195.9" r="2.6" fill="#aaa"/><circle cx="791.8" cy="195.7" r="2.6" fill="#aaa"/><circle cx="812.7" cy="194.5" r="2.6" fill="#aaa"/><circle cx="1057.7" cy="194.5" r="2.6" fill="#aaa"/><circle cx="1022.9" cy="190.4" r="2.6" fill="#aaa"/><circle cx="867.3" cy="192.7" r="2.6" fill="#aaa"/><circle cx="866.9" cy="191.3" r="2.6" fill="#aaa"/><circle cx="945.5" cy="189.6" r="2.6" fill="#aaa"/><circle cx="880.3" cy="194.2" r="2.6" fill="#aaa"/><circle cx="811.8" cy="191.4" r="2.6" fill="#aaa"/><circle cx="936.5" cy="194.9" r="2.6" fill="#aaa"/><circle cx="799.1" cy="190.7" r="2.6" fill="#aaa"/><circle cx="827.6" cy="190.8" r="2.6" fill="#aaa"/><circle cx="1002.2" cy="190.6" r="2.6" fill="#aaa"/><circle cx="885.9" cy="193.6" r="2.6" fill="#aaa"/><circle cx="900.7" cy="188.7" r="2.6" fill="#aaa"/><circle cx="883.6" cy="187.4" r="2.6" fill="#aaa"/><circle cx="897.5" cy="195.8" r="2.6" fill="#aaa"/><circle cx="976.6" cy="192" r="2.6" fill="#aaa"/><circle cx="930.9" cy="195" r="2.6" fill="#aaa"/><circle cx="976.9" cy="190.8" r="2.6" fill="#aaa"/><circle cx="899.1" cy="193.5" r="2.6" fill="#aaa"/><circle cx="1030.2" cy="191.1" r="2.6" fill="#aaa"/><circle cx="1035.5" cy="193.9" r="2.6" fill="#aaa"/><circle cx="1004.6" cy="195.5" r="2.6" fill="#aaa"/><circle cx="811.6" cy="189.9" r="2.6" fill="#aaa"/><circle cx="1011" cy="190" r="2.6" fill="#aaa"/><circle cx="1005" cy="186.2" r="2.6" fill="#aaa"/><circle cx="968.9" cy="195.3" r="2.6" fill="#aaa"/><circle cx="805.8" cy="189" r="2.6" fill="#aaa"/><circle cx="945.9" cy="192.9" r="2.6" fill="#aaa"/><circle cx="999.8" cy="195.9" r="2.6" fill="#aaa"/><circle cx="788.8" cy="193.9" r="2.6" fill="#aaa"/><circle cx="1030.5" cy="194.6" r="2.6" fill="#aaa"/><circle cx="827.8" cy="185.6" r="2.6" fill="#aaa"/><circle cx="811.1" cy="194.4" r="2.6" fill="#aaa"/><circle cx="1019.9" cy="191.2" r="2.6" fill="#aaa"/><circle cx="1051.2" cy="186.7" r="2.6" fill="#aaa"/><circle cx="943.4" cy="195.5" r="2.6" fill="#aaa"/><circle cx="997.8" cy="194.6" r="2.6" fill="#aaa"/><circle cx="923.8" cy="195.4" r="2.6" fill="#aaa"/><circle cx="992.5" cy="193.4" r="2.6" fill="#aaa"/><circle cx="1046.1" cy="191.5" r="2.6" fill="#aaa"/><circle cx="939" cy="194.2" r="2.6" fill="#aaa"/><circle cx="1015.3" cy="195.8" r="2.6" fill="#aaa"/><circle cx="848.2" cy="192.5" r="2.6" fill="#aaa"/><circle cx="954" cy="195.9" r="2.6" fill="#aaa"/><circle cx="882.2" cy="190.5" r="2.6" fill="#aaa"/><circle cx="890.6" cy="192.6" r="2.6" fill="#aaa"/><circle cx="800.1" cy="191.4" r="2.6" fill="#aaa"/><circle cx="920.6" cy="190.4" r="2.6" fill="#aaa"/><circle cx="992" cy="195" r="2.6" fill="#aaa"/><circle cx="822.4" cy="192.6" r="2.6" fill="#aaa"/><circle cx="970.7" cy="187.4" r="2.6" fill="#aaa"/><circle cx="925.4" cy="188.1" r="2.6" fill="#aaa"/><circle cx="1035.3" cy="195.2" r="2.6" fill="#aaa"/><circle cx="819.2" cy="188.5" r="2.6" fill="#aaa"/><circle cx="1040.9" cy="190.8" r="2.6" fill="#aaa"/><circle cx="925.5" cy="187.8" r="2.6" fill="#aaa"/><circle cx="829.8" cy="192.9" r="2.6" fill="#aaa"/><circle cx="853.3" cy="193.7" r="2.6" fill="#aaa"/><circle cx="867" cy="189.1" r="2.6" fill="#aaa"/><circle cx="843.1" cy="191.1" r="2.6" fill="#aaa"/><circle cx="861.5" cy="183.3" r="2.6" fill="#aaa"/><circle cx="979.8" cy="186.8" r="2.6" fill="#aaa"/><circle cx="945" cy="190.4" r="2.6" fill="#aaa"/><circle cx="853.2" cy="195.8" r="2.6" fill="#aaa"/><circle cx="914.6" cy="194.8" r="2.6" fill="#aaa"/><circle cx="886.6" cy="193.6" r="2.6" fill="#aaa"/><circle cx="869.1" cy="191.4" r="2.6" fill="#aaa"/><circle cx="999.7" cy="185.5" r="2.6" fill="#aaa"/><circle cx="914.6" cy="182.7" r="2.6" fill="#aaa"/><circle cx="949.1" cy="185.8" r="2.6" fill="#aaa"/><circle cx="1013.4" cy="193.9" r="2.6" fill="#aaa"/><circle cx="937" cy="187.3" r="2.6" fill="#aaa"/><circle cx="1023.6" cy="195" r="2.6" fill="#aaa"/><circle cx="891.7" cy="194.6" r="2.6" fill="#aaa"/><circle cx="911.1" cy="182.1" r="2.6" fill="#aaa"/><circle cx="842.4" cy="195.2" r="2.6" fill="#aaa"/><circle cx="971.2" cy="187.3" r="2.6" fill="#aaa"/><circle cx="1053.1" cy="193.5" r="2.6" fill="#aaa"/><circle cx="830.8" cy="192.7" r="2.6" fill="#aaa"/><circle cx="850.7" cy="192.7" r="2.6" fill="#aaa"/><circle cx="1024.1" cy="188.1" r="2.6" fill="#aaa"/><circle cx="1036" cy="195.7" r="2.6" fill="#aaa"/><circle cx="866.6" cy="185" r="2.6" fill="#aaa"/><circle cx="898.3" cy="195.7" r="2.6" fill="#aaa"/><circle cx="802.8" cy="193.7" r="2.6" fill="#aaa"/><circle cx="1017" cy="194.7" r="2.6" fill="#aaa"/><circle cx="943.7" cy="191" r="2.6" fill="#aaa"/><circle cx="971.2" cy="191" r="2.6" fill="#aaa"/><circle cx="902.1" cy="195.8" r="2.6" fill="#aaa"/><circle cx="916.4" cy="194.2" r="2.6" fill="#aaa"/><circle cx="1052.1" cy="188.9" r="2.6" fill="#aaa"/><circle cx="889" cy="193.3" r="2.6" fill="#aaa"/><circle cx="855.4" cy="195.2" r="2.6" fill="#aaa"/><circle cx="968.3" cy="187.3" r="2.6" fill="#aaa"/><circle cx="1038.6" cy="188.5" r="2.6" fill="#aaa"/><circle cx="804" cy="191" r="2.6" fill="#aaa"/><circle cx="999.2" cy="194.1" r="2.6" fill="#aaa"/><circle cx="994.9" cy="193.7" r="2.6" fill="#aaa"/><circle cx="965" cy="188.1" r="2.6" fill="#aaa"/><circle cx="1008.9" cy="195.1" r="2.6" fill="#aaa"/><circle cx="1053.8" cy="186.8" r="2.6" fill="#aaa"/><circle cx="970.4" cy="193.4" r="2.6" fill="#aaa"/><circle cx="918.7" cy="195.4" r="2.6" fill="#aaa"/><circle cx="877.8" cy="194.3" r="2.6" fill="#aaa"/><circle cx="939.7" cy="187.9" r="2.6" fill="#aaa"/><circle cx="828.6" cy="191.3" r="2.6" fill="#aaa"/><circle cx="827.8" cy="189.8" r="2.6" fill="#aaa"/><circle cx="1033.2" cy="194.4" r="2.6" fill="#aaa"/><circle cx="1045.3" cy="193.7" r="2.6" fill="#aaa"/><circle cx="816.9" cy="191.7" r="2.6" fill="#aaa"/><circle cx="948.7" cy="188.3" r="2.6" fill="#aaa"/><circle cx="936.4" cy="192.3" r="2.6" fill="#aaa"/><circle cx="866.3" cy="191.1" r="2.6" fill="#aaa"/><circle cx="827" cy="188.1" r="2.6" fill="#aaa"/><circle cx="994" cy="192.4" r="2.6" fill="#aaa"/><circle cx="933" cy="195.7" r="2.6" fill="#aaa"/><circle cx="852.8" cy="190.8" r="2.6" fill="#aaa"/><circle cx="886.8" cy="194.9" r="2.6" fill="#aaa"/><circle cx="921.9" cy="194.8" r="2.6" fill="#aaa"/><circle cx="847.4" cy="195.4" r="2.6" fill="#aaa"/><circle cx="872.2" cy="190.9" r="2.6" fill="#aaa"/><circle cx="892.6" cy="186.9" r="2.6" fill="#aaa"/><circle cx="878" cy="193.6" r="2.6" fill="#aaa"/><circle cx="1020.7" cy="192.7" r="2.6" fill="#aaa"/><circle cx="804.8" cy="193.2" r="2.6" fill="#aaa"/><circle cx="808.6" cy="194.4" r="2.6" fill="#aaa"/><circle cx="829.4" cy="187.3" r="2.6" fill="#aaa"/><circle cx="830.7" cy="188.1" r="2.6" fill="#aaa"/><circle cx="1011.8" cy="191.5" r="2.6" fill="#aaa"/><circle cx="992.4" cy="193.4" r="2.6" fill="#aaa"/><circle cx="891.1" cy="194.3" r="2.6" fill="#aaa"/><circle cx="832" cy="189" r="2.6" fill="#aaa"/><circle cx="834.4" cy="194.8" r="2.6" fill="#aaa"/><circle cx="848.3" cy="195.7" r="2.6" fill="#aaa"/><circle cx="1008.1" cy="194.7" r="2.6" fill="#aaa"/><circle cx="1033.6" cy="190.9" r="2.6" fill="#aaa"/><circle cx="935.7" cy="194.3" r="2.6" fill="#aaa"/><circle cx="944.5" cy="185.9" r="2.6" fill="#aaa"/><circle cx="974.4" cy="184.8" r="2.6" fill="#aaa"/><circle cx="862.5" cy="192" r="2.6" fill="#aaa"/><circle cx="949.8" cy="191.1" r="2.6" fill="#aaa"/><circle cx="986.1" cy="186.6" r="2.6" fill="#aaa"/><circle cx="967.3" cy="195.9" r="2.6" fill="#aaa"/><circle cx="918.2" cy="190" r="2.6" fill="#aaa"/><circle cx="831.9" cy="195.1" r="2.6" fill="#aaa"/><circle cx="929" cy="189.7" r="2.6" fill="#aaa"/><circle cx="962.7" cy="194.5" r="2.6" fill="#aaa"/><circle cx="904.4" cy="183.3" r="2.6" fill="#aaa"/><circle cx="1033.8" cy="190.4" r="2.6" fill="#aaa"/><circle cx="815.2" cy="194" r="2.6" fill="#aaa"/><circle cx="790.6" cy="188.6" r="2.6" fill="#aaa"/><circle cx="880" cy="195.8" r="2.6" fill="#aaa"/><circle cx="931.7" cy="193.8" r="2.6" fill="#aaa"/><circle cx="1044.7" cy="191.1" r="2.6" fill="#aaa"/><circle cx="976.8" cy="186" r="2.6" fill="#aaa"/><circle cx="814.8" cy="191.3" r="2.6" fill="#aaa"/><circle cx="1043.9" cy="190.2" r="2.6" fill="#aaa"/><circle cx="982.9" cy="195.7" r="2.6" fill="#aaa"/><circle cx="1009.1" cy="191" r="2.6" fill="#aaa"/><circle cx="1045.3" cy="192.2" r="2.6" fill="#aaa"/><circle cx="994.7" cy="191.5" r="2.6" fill="#aaa"/><circle cx="916.2" cy="194.7" r="2.6" fill="#aaa"/><circle cx="798.5" cy="195" r="2.6" fill="#aaa"/><circle cx="833.9" cy="192.6" r="2.6" fill="#aaa"/><circle cx="978.1" cy="190.5" r="2.6" fill="#aaa"/><circle cx="931.3" cy="189" r="2.6" fill="#aaa"/><circle cx="864" cy="192.3" r="2.6" fill="#aaa"/><circle cx="910.2" cy="195.8" r="2.6" fill="#aaa"/><circle cx="828.2" cy="190.4" r="2.6" fill="#aaa"/><circle cx="1035.9" cy="195" r="2.6" fill="#aaa"/><circle cx="883.2" cy="190.8" r="2.6" fill="#aaa"/><circle cx="929" cy="192.8" r="2.6" fill="#aaa"/><circle cx="776.8" cy="193.8" r="2.6" fill="#aaa"/><circle cx="836.4" cy="195.4" r="2.6" fill="#aaa"/><circle cx="908.9" cy="193" r="2.6" fill="#aaa"/><circle cx="832.4" cy="195.1" r="2.6" fill="#aaa"/><circle cx="892.7" cy="192.7" r="2.6" fill="#aaa"/><circle cx="824.6" cy="193.4" r="2.6" fill="#aaa"/><circle cx="824.6" cy="195.5" r="2.6" fill="#aaa"/><circle cx="917.7" cy="194.9" r="2.6" fill="#aaa"/><circle cx="905.5" cy="195.6" r="2.6" fill="#aaa"/><circle cx="893.8" cy="195.5" r="2.6" fill="#aaa"/><circle cx="892.6" cy="194.3" r="2.6" fill="#aaa"/><circle cx="890.6" cy="181.9" r="2.6" fill="#aaa"/><circle cx="839.3" cy="193.6" r="2.6" fill="#aaa"/><circle cx="803.2" cy="192.7" r="2.6" fill="#aaa"/><circle cx="955.9" cy="195.5" r="2.6" fill="#aaa"/><circle cx="876.1" cy="194.7" r="2.6" fill="#aaa"/><circle cx="986.3" cy="194.7" r="2.6" fill="#aaa"/><circle cx="855.5" cy="194.6" r="2.6" fill="#aaa"/><circle cx="1045.6" cy="190" r="2.6" fill="#aaa"/><circle cx="862.9" cy="196" r="2.6" fill="#aaa"/><circle cx="1011.4" cy="191.7" r="2.6" fill="#aaa"/><circle cx="957.8" cy="194.6" r="2.6" fill="#aaa"/><circle cx="973.2" cy="194" r="2.6" fill="#aaa"/><circle cx="795.3" cy="189.9" r="2.6" fill="#aaa"/><circle cx="791" cy="192" r="2.6" fill="#aaa"/><circle cx="792.1" cy="189.4" r="2.6" fill="#aaa"/><circle cx="791.3" cy="191.4" r="2.6" fill="#aaa"/><circle cx="785.1" cy="177.8" r="2.6" fill="#aaa"/><circle cx="782.9" cy="189.9" r="2.6" fill="#aaa"/><circle cx="798.2" cy="182.6" r="2.6" fill="#aaa"/><circle cx="793.3" cy="190.5" r="2.6" fill="#aaa"/><circle cx="782.4" cy="179.9" r="2.6" fill="#aaa"/><circle cx="803.5" cy="188.5" r="2.6" fill="#aaa"/><circle cx="801.4" cy="188.8" r="2.6" fill="#aaa"/><circle cx="796.5" cy="187.4" r="2.6" fill="#aaa"/><circle cx="795.1" cy="175.4" r="2.6" fill="#aaa"/><circle cx="803.7" cy="180.3" r="2.6" fill="#aaa"/><circle cx="799" cy="176.9" r="2.6" fill="#aaa"/><circle cx="789.3" cy="186" r="2.6" fill="#aaa"/><circle cx="796.6" cy="185.7" r="2.6" fill="#aaa"/><circle cx="801.1" cy="178.2" r="2.6" fill="#aaa"/><circle cx="796.1" cy="191.2" r="2.6" fill="#aaa"/><circle cx="839.1" cy="180.8" r="2.6" fill="#aaa"/><circle cx="831" cy="184.2" r="2.6" fill="#aaa"/><circle cx="832.5" cy="186" r="2.6" fill="#aaa"/><circle cx="839.6" cy="181.6" r="2.6" fill="#aaa"/><circle cx="840.4" cy="190.7" r="2.6" fill="#aaa"/><circle cx="836.3" cy="180" r="2.6" fill="#aaa"/><circle cx="838.4" cy="188.6" r="2.6" fill="#aaa"/><circle cx="839.2" cy="182.5" r="2.6" fill="#aaa"/><circle cx="841.9" cy="180.8" r="2.6" fill="#aaa"/><circle cx="827.9" cy="186.7" r="2.6" fill="#aaa"/><circle cx="881.6" cy="184.8" r="2.6" fill="#aaa"/><circle cx="880.9" cy="189.7" r="2.6" fill="#aaa"/><circle cx="873.9" cy="180.2" r="2.6" fill="#aaa"/><circle cx="886.1" cy="185.6" r="2.6" fill="#aaa"/><circle cx="883.3" cy="189.9" r="2.6" fill="#aaa"/><circle cx="880.2" cy="187.2" r="2.6" fill="#aaa"/><circle cx="884.2" cy="190.6" r="2.6" fill="#aaa"/><circle cx="878.7" cy="183.6" r="2.6" fill="#aaa"/><circle cx="884.9" cy="191.6" r="2.6" fill="#aaa"/><circle cx="884.8" cy="190.8" r="2.6" fill="#aaa"/><circle cx="935.2" cy="188.8" r="2.6" fill="#aaa"/><circle cx="941.3" cy="181.3" r="2.6" fill="#aaa"/><circle cx="941.5" cy="182.4" r="2.6" fill="#aaa"/><circle cx="941.2" cy="187.4" r="2.6" fill="#aaa"/><circle cx="948.2" cy="184.9" r="2.6" fill="#aaa"/><circle cx="940.8" cy="190.9" r="2.6" fill="#aaa"/><circle cx="943.3" cy="190.9" r="2.6" fill="#aaa"/><circle cx="941.7" cy="189.9" r="2.6" fill="#aaa"/><circle cx="936.5" cy="190.8" r="2.6" fill="#aaa"/><circle cx="943.3" cy="182.3" r="2.6" fill="#aaa"/><circle cx="948.6" cy="181.5" r="2.6" fill="#aaa"/><circle cx="958.8" cy="186.7" r="2.6" fill="#aaa"/><circle cx="949.8" cy="186.8" r="2.6" fill="#aaa"/><circle cx="963.7" cy="182.2" r="2.6" fill="#aaa"/><circle cx="945.9" cy="183.8" r="2.6" fill="#aaa"/><circle cx="957" cy="182.4" r="2.6" fill="#aaa"/><circle cx="945.6" cy="189.1" r="2.6" fill="#aaa"/><circle cx="959.9" cy="188.6" r="2.6" fill="#aaa"/><circle cx="952.7" cy="191.7" r="2.6" fill="#aaa"/><circle cx="945.7" cy="187.8" r="2.6" fill="#aaa"/><circle cx="998.2" cy="186.6" r="2.6" fill="#aaa"/><circle cx="1000.4" cy="188.6" r="2.6" fill="#aaa"/><circle cx="1000.4" cy="184.7" r="2.6" fill="#aaa"/><circle cx="1003.8" cy="189.2" r="2.6" fill="#aaa"/><circle cx="1005.5" cy="176.1" r="2.6" fill="#aaa"/><circle cx="1001.1" cy="175.9" r="2.6" fill="#aaa"/><circle cx="1006.1" cy="191.1" r="2.6" fill="#aaa"/><circle cx="1005.4" cy="187.9" r="2.6" fill="#aaa"/><circle cx="995.6" cy="182.5" r="2.6" fill="#aaa"/><circle cx="1060" cy="180.8" r="2.6" fill="#aaa"/><circle cx="1041.4" cy="190.6" r="2.6" fill="#aaa"/><circle cx="1035.7" cy="176.8" r="2.6" fill="#aaa"/><circle cx="1053.6" cy="188.8" r="2.6" fill="#aaa"/><circle cx="1052.9" cy="189.9" r="2.6" fill="#aaa"/><circle cx="1056.6" cy="184.7" r="2.6" fill="#aaa"/><circle cx="1048.3" cy="182.7" r="2.6" fill="#aaa"/><circle cx="1049.1" cy="190.2" r="2.6" fill="#aaa"/><circle cx="1049.9" cy="185.6" r="2.6" fill="#aaa"/><circle cx="1045.8" cy="189" r="2.6" fill="#aaa"/><circle cx="1059.8" cy="178.8" r="2.6" fill="#aaa"/><circle cx="1059.7" cy="188.4" r="2.6" fill="#aaa"/><circle cx="1059.1" cy="184.2" r="2.6" fill="#aaa"/><circle cx="1061.5" cy="189.8" r="2.6" fill="#aaa"/><circle cx="1060.4" cy="179.6" r="2.6" fill="#aaa"/><circle cx="1062.1" cy="186.6" r="2.6" fill="#aaa"/><circle cx="1061.4" cy="186.1" r="2.6" fill="#aaa"/><circle cx="1056.4" cy="189.8" r="2.6" fill="#aaa"/><circle cx="1057.3" cy="190" r="2.6" fill="#aaa"/><line x1="769.3" y1="171.7" x2="1073.3" y2="171.7" stroke="#000" stroke-width="1.8" stroke-dasharray="6.5,4"/><circle cx="799.4" cy="170" r="3.3" fill="#f00"/><circle cx="836" cy="152.8" r="3.3" fill="#f00"/><circle cx="880.4" cy="163.2" r="3.3" fill="#f00"/><circle cx="936.4" cy="137" r="3.3" fill="#f00"/><circle cx="941.7" cy="167.4" r="3.3" fill="#f00"/><circle cx="963" cy="164" r="3.3" fill="#f00"/><circle cx="1006.7" cy="120.5" r="3.3" fill="#f00"/><circle cx="1054.4" cy="165" r="3.3" fill="#f00"/><line x1="789.7" y1="215.7" x2="789.7" y2="219.6" stroke="#000" stroke-width="1.6"/><line x1="813.4" y1="215.7" x2="813.4" y2="219.6" stroke="#000" stroke-width="1.6"/><line x1="834.2" y1="215.7" x2="834.2" y2="219.6" stroke="#000" stroke-width="1.6"/><line x1="851.8" y1="215.7" x2="851.8" y2="219.6" stroke="#000" stroke-width="1.6"/><line x1="869" y1="215.7" x2="869" y2="219.6" stroke="#000" stroke-width="1.6"/><line x1="886.1" y1="215.7" x2="886.1" y2="219.6" stroke="#000" stroke-width="1.6"/><line x1="901.8" y1="215.7" x2="901.8" y2="219.6" stroke="#000" stroke-width="1.6"/><line x1="915.7" y1="215.7" x2="915.7" y2="219.6" stroke="#000" stroke-width="1.6"/><line x1="928.7" y1="215.7" x2="928.7" y2="219.6" stroke="#000" stroke-width="1.6"/><line x1="942.4" y1="215.7" x2="942.4" y2="219.6" stroke="#000" stroke-width="1.6"/><line x1="955" y1="215.7" x2="955" y2="219.6" stroke="#000" stroke-width="1.6"/><line x1="967.6" y1="215.7" x2="967.6" y2="219.6" stroke="#000" stroke-width="1.6"/><line x1="980.1" y1="215.7" x2="980.1" y2="219.6" stroke="#000" stroke-width="1.6"/><line x1="990.7" y1="215.7" x2="990.7" y2="219.6" stroke="#000" stroke-width="1.6"/><line x1="1000.7" y1="215.7" x2="1000.7" y2="219.6" stroke="#000" stroke-width="1.6"/><line x1="1008.8" y1="215.7" x2="1008.8" y2="219.6" stroke="#000" stroke-width="1.6"/><line x1="1016.6" y1="215.7" x2="1016.6" y2="219.6" stroke="#000" stroke-width="1.6"/><line x1="1024.3" y1="215.7" x2="1024.3" y2="219.6" stroke="#000" stroke-width="1.6"/><line x1="1030.4" y1="215.7" x2="1030.4" y2="219.6" stroke="#000" stroke-width="1.6"/><line x1="1036.4" y1="215.7" x2="1036.4" y2="219.6" stroke="#000" stroke-width="1.6"/><line x1="1042.2" y1="215.7" x2="1042.2" y2="219.6" stroke="#000" stroke-width="1.6"/><line x1="1047" y1="215.7" x2="1047" y2="219.6" stroke="#000" stroke-width="1.6"/><line x1="1056" y1="215.7" x2="1056" y2="219.6" stroke="#000" stroke-width="1.6"/><text x="789.7" y="237" font-size="16.6" text-anchor="middle">1</text><text x="813.4" y="237" font-size="16.6" text-anchor="middle">2</text><text x="834.2" y="237" font-size="16.6" text-anchor="middle">3</text><text x="851.8" y="237" font-size="16.6" text-anchor="middle">4</text><text x="869" y="237" font-size="16.6" text-anchor="middle">5</text><text x="886.1" y="237" font-size="16.6" text-anchor="middle">6</text><text x="901.8" y="237" font-size="16.6" text-anchor="middle">7</text><text x="915.7" y="237" font-size="16.6" text-anchor="middle">8</text><text x="928.7" y="237" font-size="16.6" text-anchor="middle">9</text><text x="955" y="237" font-size="16.6" text-anchor="middle">11</text><text x="980.1" y="237" font-size="16.6" text-anchor="middle">13</text><text x="1000.7" y="237" font-size="16.6" text-anchor="middle">15</text><text x="1024.3" y="237" font-size="16.6" text-anchor="middle">18</text><text x="1047" y="237" font-size="16.6" text-anchor="middle">22</text><text x="921.5" y="261" font-size="16.6" text-anchor="middle">Chromosome</text><text x="-0.5" y="450.8" font-size="41" font-weight="bold">b</text><line x1="115.8" y1="447" x2="115.8" y2="601.3" stroke="#000" stroke-width="2.2"/><line x1="114.7" y1="600.3" x2="896" y2="600.3" stroke="#000" stroke-width="2.2"/><line x1="115.8" y1="643.5" x2="115.8" y2="796.9" stroke="#000" stroke-width="2.2"/><line x1="114.7" y1="795.8" x2="896" y2="795.8" stroke="#000" stroke-width="2.2"/><line x1="110" y1="451.7" x2="115.8" y2="451.7" stroke="#000" stroke-width="1.8"/><text x="100" y="459.1" font-size="20.8" text-anchor="end">300</text><line x1="110" y1="507.2" x2="115.8" y2="507.2" stroke="#000" stroke-width="1.8"/><text x="100" y="514.6" font-size="20.8" text-anchor="end">200</text><line x1="110" y1="562.8" x2="115.8" y2="562.8" stroke="#000" stroke-width="1.8"/><text x="100" y="570.2" font-size="20.8" text-anchor="end">100</text><line x1="110" y1="645.7" x2="115.8" y2="645.7" stroke="#000" stroke-width="1.8"/><text x="100" y="653.1" font-size="20.8" text-anchor="end">12</text><line x1="110" y1="685.8" x2="115.8" y2="685.8" stroke="#000" stroke-width="1.8"/><text x="100" y="693.2" font-size="20.8" text-anchor="end">9</text><line x1="110" y1="725.9" x2="115.8" y2="725.9" stroke="#000" stroke-width="1.8"/><text x="100" y="733.3" font-size="20.8" text-anchor="end">6</text><line x1="110" y1="766" x2="115.8" y2="766" stroke="#000" stroke-width="1.8"/><text x="100" y="773.4" font-size="20.8" text-anchor="end">3</text><line x1="138.2" y1="573.7" x2="138.2" y2="565.6" stroke="#333" stroke-width="1.5"/><line x1="138.2" y1="580.6" x2="138.2" y2="586.1" stroke="#333" stroke-width="1.5"/><rect x="123.2" y="573.7" width="30" height="6.8" fill="#fff" stroke="#333" stroke-width="1.5"/><line x1="123.2" y1="576.9" x2="153.2" y2="576.9" stroke="#333" stroke-width="1.5"/><circle cx="138.2" cy="547.2" r="3.2" fill="#333"/><circle cx="138.2" cy="548.9" r="3.2" fill="#333"/><circle cx="138.2" cy="551.1" r="3.2" fill="#333"/><circle cx="138.2" cy="557.8" r="3.2" fill="#333"/><circle cx="138.2" cy="592.8" r="3.2" fill="#333"/><line x1="176.8" y1="545.6" x2="176.8" y2="519.5" stroke="#333" stroke-width="1.5"/><line x1="176.8" y1="567.5" x2="176.8" y2="579.5" stroke="#333" stroke-width="1.5"/><rect x="161.8" y="545.6" width="30" height="21.9" fill="#fff" stroke="#333" stroke-width="1.5"/><line x1="161.8" y1="561.1" x2="191.8" y2="561.1" stroke="#333" stroke-width="1.5"/><line x1="215.4" y1="531.7" x2="215.4" y2="501.1" stroke="#333" stroke-width="1.5"/><line x1="215.4" y1="556.1" x2="215.4" y2="568.9" stroke="#333" stroke-width="1.5"/><rect x="200.4" y="531.7" width="30" height="24.4" fill="#fff" stroke="#333" stroke-width="1.5"/><line x1="200.4" y1="546.7" x2="230.4" y2="546.7" stroke="#333" stroke-width="1.5"/><line x1="254" y1="520" x2="254" y2="489.8" stroke="#333" stroke-width="1.5"/><line x1="254" y1="544.5" x2="254" y2="559.7" stroke="#333" stroke-width="1.5"/><rect x="239" y="520" width="30" height="24.4" fill="#fff" stroke="#333" stroke-width="1.5"/><line x1="239" y1="531.1" x2="269" y2="531.1" stroke="#333" stroke-width="1.5"/><line x1="292.6" y1="511.7" x2="292.6" y2="484.5" stroke="#333" stroke-width="1.5"/><line x1="292.6" y1="535" x2="292.6" y2="553.4" stroke="#333" stroke-width="1.5"/><rect x="277.6" y="511.7" width="30" height="23.3" fill="#fff" stroke="#333" stroke-width="1.5"/><line x1="277.6" y1="522.2" x2="307.6" y2="522.2" stroke="#333" stroke-width="1.5"/><line x1="331.2" y1="505" x2="331.2" y2="478.4" stroke="#333" stroke-width="1.5"/><line x1="331.2" y1="528.4" x2="331.2" y2="545.6" stroke="#333" stroke-width="1.5"/><rect x="316.2" y="505" width="30" height="23.3" fill="#fff" stroke="#333" stroke-width="1.5"/><line x1="316.2" y1="514.5" x2="346.2" y2="514.5" stroke="#333" stroke-width="1.5"/><line x1="369.8" y1="497.8" x2="369.8" y2="473.6" stroke="#333" stroke-width="1.5"/><line x1="369.8" y1="519.5" x2="369.8" y2="543" stroke="#333" stroke-width="1.5"/><rect x="354.8" y="497.8" width="30" height="21.7" fill="#fff" stroke="#333" stroke-width="1.5"/><line x1="354.8" y1="507" x2="384.8" y2="507" stroke="#333" stroke-width="1.5"/><line x1="408.4" y1="492.3" x2="408.4" y2="471.1" stroke="#333" stroke-width="1.5"/><line x1="408.4" y1="511.7" x2="408.4" y2="537.8" stroke="#333" stroke-width="1.5"/><rect x="393.4" y="492.3" width="30" height="19.4" fill="#fff" stroke="#333" stroke-width="1.5"/><line x1="393.4" y1="501.7" x2="423.4" y2="501.7" stroke="#333" stroke-width="1.5"/><line x1="447" y1="486.7" x2="447" y2="467.8" stroke="#333" stroke-width="1.5"/><line x1="447" y1="503.9" x2="447" y2="526.7" stroke="#333" stroke-width="1.5"/><rect x="432" y="486.7" width="30" height="17.2" fill="#fff" stroke="#333" stroke-width="1.5"/><line x1="432" y1="494.5" x2="462" y2="494.5" stroke="#333" stroke-width="1.5"/><circle cx="447" cy="531.1" r="3.2" fill="#333"/><line x1="485.6" y1="481.4" x2="485.6" y2="464.2" stroke="#333" stroke-width="1.5"/><line x1="485.6" y1="497.8" x2="485.6" y2="511.7" stroke="#333" stroke-width="1.5"/><rect x="470.6" y="481.4" width="30" height="16.4" fill="#fff" stroke="#333" stroke-width="1.5"/><line x1="470.6" y1="489.5" x2="500.6" y2="489.5" stroke="#333" stroke-width="1.5"/><circle cx="485.6" cy="521.1" r="3.2" fill="#333"/><circle cx="485.6" cy="523.9" r="3.2" fill="#333"/><circle cx="485.6" cy="526.7" r="3.2" fill="#333"/><circle cx="485.6" cy="529.5" r="3.2" fill="#333"/><line x1="524.2" y1="477.3" x2="524.2" y2="461.1" stroke="#333" stroke-width="1.5"/><line x1="524.2" y1="493.4" x2="524.2" y2="507.8" stroke="#333" stroke-width="1.5"/><rect x="509.2" y="477.3" width="30" height="16.1" fill="#fff" stroke="#333" stroke-width="1.5"/><line x1="509.2" y1="484.5" x2="539.2" y2="484.5" stroke="#333" stroke-width="1.5"/><circle cx="524.2" cy="516.7" r="3.2" fill="#333"/><circle cx="524.2" cy="519.5" r="3.2" fill="#333"/><circle cx="524.2" cy="522.2" r="3.2" fill="#333"/><circle cx="524.2" cy="525" r="3.2" fill="#333"/><line x1="562.8" y1="473.1" x2="562.8" y2="460" stroke="#333" stroke-width="1.5"/><line x1="562.8" y1="488.4" x2="562.8" y2="503.9" stroke="#333" stroke-width="1.5"/><rect x="547.8" y="473.1" width="30" height="15.3" fill="#fff" stroke="#333" stroke-width="1.5"/><line x1="547.8" y1="480" x2="577.8" y2="480" stroke="#333" stroke-width="1.5"/><circle cx="562.8" cy="508.9" r="3.2" fill="#333"/><circle cx="562.8" cy="511.7" r="3.2" fill="#333"/><circle cx="562.8" cy="515" r="3.2" fill="#333"/><circle cx="562.8" cy="517.8" r="3.2" fill="#333"/><line x1="601.4" y1="470.6" x2="601.4" y2="458.4" stroke="#333" stroke-width="1.5"/><line x1="601.4" y1="484.5" x2="601.4" y2="498.6" stroke="#333" stroke-width="1.5"/><rect x="586.4" y="470.6" width="30" height="13.9" fill="#fff" stroke="#333" stroke-width="1.5"/><line x1="586.4" y1="476.1" x2="616.4" y2="476.1" stroke="#333" stroke-width="1.5"/><circle cx="601.4" cy="505.6" r="3.2" fill="#333"/><circle cx="601.4" cy="508.4" r="3.2" fill="#333"/><circle cx="601.4" cy="510.6" r="3.2" fill="#333"/><circle cx="601.4" cy="512.8" r="3.2" fill="#333"/><line x1="640" y1="467.3" x2="640" y2="457.3" stroke="#333" stroke-width="1.5"/><line x1="640" y1="478.9" x2="640" y2="493.4" stroke="#333" stroke-width="1.5"/><rect x="625" y="467.3" width="30" height="11.7" fill="#fff" stroke="#333" stroke-width="1.5"/><line x1="625" y1="473.1" x2="655" y2="473.1" stroke="#333" stroke-width="1.5"/><circle cx="640" cy="493.4" r="3.2" fill="#333"/><circle cx="640" cy="496.1" r="3.2" fill="#333"/><circle cx="640" cy="498.9" r="3.2" fill="#333"/><circle cx="640" cy="501.7" r="3.2" fill="#333"/><circle cx="640" cy="503.4" r="3.2" fill="#333"/><line x1="678.6" y1="463.9" x2="678.6" y2="456.4" stroke="#333" stroke-width="1.5"/><line x1="678.6" y1="475" x2="678.6" y2="488.4" stroke="#333" stroke-width="1.5"/><rect x="663.6" y="463.9" width="30" height="11.1" fill="#fff" stroke="#333" stroke-width="1.5"/><line x1="663.6" y1="468.9" x2="693.6" y2="468.9" stroke="#333" stroke-width="1.5"/><circle cx="678.6" cy="491.7" r="3.2" fill="#333"/><circle cx="678.6" cy="495" r="3.2" fill="#333"/><circle cx="678.6" cy="498.4" r="3.2" fill="#333"/><circle cx="678.6" cy="501.7" r="3.2" fill="#333"/><circle cx="678.6" cy="504.5" r="3.2" fill="#333"/><circle cx="678.6" cy="506.7" r="3.2" fill="#333"/><line x1="717.2" y1="460.6" x2="717.2" y2="455.9" stroke="#333" stroke-width="1.5"/><line x1="717.2" y1="470.6" x2="717.2" y2="483" stroke="#333" stroke-width="1.5"/><rect x="702.2" y="460.6" width="30" height="10" fill="#fff" stroke="#333" stroke-width="1.5"/><line x1="702.2" y1="464.8" x2="732.2" y2="464.8" stroke="#333" stroke-width="1.5"/><circle cx="717.2" cy="484.5" r="3.2" fill="#333"/><circle cx="717.2" cy="487.3" r="3.2" fill="#333"/><circle cx="717.2" cy="490.6" r="3.2" fill="#333"/><circle cx="717.2" cy="493.9" r="3.2" fill="#333"/><circle cx="717.2" cy="496.1" r="3.2" fill="#333"/><line x1="755.8" y1="457.8" x2="755.8" y2="455" stroke="#333" stroke-width="1.5"/><line x1="755.8" y1="466.1" x2="755.8" y2="475" stroke="#333" stroke-width="1.5"/><rect x="740.8" y="457.8" width="30" height="8.3" fill="#fff" stroke="#333" stroke-width="1.5"/><line x1="740.8" y1="461.7" x2="770.8" y2="461.7" stroke="#333" stroke-width="1.5"/><circle cx="755.8" cy="477.3" r="3.2" fill="#333"/><circle cx="755.8" cy="480" r="3.2" fill="#333"/><circle cx="755.8" cy="483.4" r="3.2" fill="#333"/><circle cx="755.8" cy="486.1" r="3.2" fill="#333"/><circle cx="755.8" cy="490.6" r="3.2" fill="#333"/><circle cx="755.8" cy="494.5" r="3.2" fill="#333"/><line x1="794.4" y1="455.9" x2="794.4" y2="454.5" stroke="#333" stroke-width="1.5"/><line x1="794.4" y1="463.4" x2="794.4" y2="470" stroke="#333" stroke-width="1.5"/><rect x="779.4" y="455.9" width="30" height="7.5" fill="#fff" stroke="#333" stroke-width="1.5"/><line x1="779.4" y1="457.8" x2="809.4" y2="457.8" stroke="#333" stroke-width="1.5"/><circle cx="794.4" cy="475.6" r="3.2" fill="#333"/><circle cx="794.4" cy="478.4" r="3.2" fill="#333"/><circle cx="794.4" cy="480.6" r="3.2" fill="#333"/><line x1="833" y1="455" x2="833" y2="454.2" stroke="#333" stroke-width="1.5"/><line x1="833" y1="457.8" x2="833" y2="458.9" stroke="#333" stroke-width="1.5"/><rect x="818" y="455" width="30" height="2.8" fill="#fff" stroke="#333" stroke-width="1.5"/><line x1="818" y1="456.4" x2="848" y2="456.4" stroke="#333" stroke-width="1.5"/><circle cx="833" cy="461.1" r="3.2" fill="#333"/><circle cx="833" cy="463.9" r="3.2" fill="#333"/><circle cx="833" cy="467.8" r="3.2" fill="#333"/><line x1="856.6" y1="454.5" x2="886.6" y2="454.5" stroke="#333" stroke-width="1.6"/><line x1="138.2" y1="765" x2="138.2" y2="758" stroke="#333" stroke-width="1.5"/><line x1="138.2" y1="773.2" x2="138.2" y2="778.1" stroke="#333" stroke-width="1.5"/><rect x="123.2" y="765" width="30" height="8.3" fill="#fff" stroke="#333" stroke-width="1.5"/><line x1="123.2" y1="768.7" x2="153.2" y2="768.7" stroke="#333" stroke-width="1.5"/><circle cx="138.2" cy="789.4" r="3.2" fill="#333"/><line x1="176.8" y1="747.3" x2="176.8" y2="740.6" stroke="#333" stroke-width="1.5"/><line x1="176.8" y1="758" x2="176.8" y2="767.4" stroke="#333" stroke-width="1.5"/><rect x="161.8" y="747.3" width="30" height="10.7" fill="#fff" stroke="#333" stroke-width="1.5"/><line x1="161.8" y1="752" x2="191.8" y2="752" stroke="#333" stroke-width="1.5"/><circle cx="176.8" cy="732.6" r="3.2" fill="#333"/><circle cx="176.8" cy="773.4" r="3.2" fill="#333"/><line x1="215.4" y1="733.3" x2="215.4" y2="723.2" stroke="#333" stroke-width="1.5"/><line x1="215.4" y1="745.2" x2="215.4" y2="758" stroke="#333" stroke-width="1.5"/><rect x="200.4" y="733.3" width="30" height="11.9" fill="#fff" stroke="#333" stroke-width="1.5"/><line x1="200.4" y1="739.3" x2="230.4" y2="739.3" stroke="#333" stroke-width="1.5"/><circle cx="215.4" cy="719.2" r="3.2" fill="#333"/><circle cx="215.4" cy="716.6" r="3.2" fill="#333"/><line x1="254" y1="723.2" x2="254" y2="708.5" stroke="#333" stroke-width="1.5"/><line x1="254" y1="733.9" x2="254" y2="744.6" stroke="#333" stroke-width="1.5"/><rect x="239" y="723.2" width="30" height="10.7" fill="#fff" stroke="#333" stroke-width="1.5"/><line x1="239" y1="727.9" x2="269" y2="727.9" stroke="#333" stroke-width="1.5"/><circle cx="254" cy="704.5" r="3.2" fill="#333"/><circle cx="254" cy="702.5" r="3.2" fill="#333"/><circle cx="254" cy="750" r="3.2" fill="#333"/><line x1="292.6" y1="713.9" x2="292.6" y2="704.5" stroke="#333" stroke-width="1.5"/><line x1="292.6" y1="725.9" x2="292.6" y2="739.3" stroke="#333" stroke-width="1.5"/><rect x="277.6" y="713.9" width="30" height="12" fill="#fff" stroke="#333" stroke-width="1.5"/><line x1="277.6" y1="720.6" x2="307.6" y2="720.6" stroke="#333" stroke-width="1.5"/><circle cx="292.6" cy="696.5" r="3.2" fill="#333"/><circle cx="292.6" cy="695.2" r="3.2" fill="#333"/><line x1="331.2" y1="707.2" x2="331.2" y2="696.5" stroke="#333" stroke-width="1.5"/><line x1="331.2" y1="718.6" x2="331.2" y2="725.9" stroke="#333" stroke-width="1.5"/><rect x="316.2" y="707.2" width="30" height="11.4" fill="#fff" stroke="#333" stroke-width="1.5"/><line x1="316.2" y1="712.6" x2="346.2" y2="712.6" stroke="#333" stroke-width="1.5"/><circle cx="331.2" cy="691.8" r="3.2" fill="#333"/><circle cx="331.2" cy="733.9" r="3.2" fill="#333"/><line x1="369.8" y1="700.5" x2="369.8" y2="689.8" stroke="#333" stroke-width="1.5"/><line x1="369.8" y1="711.2" x2="369.8" y2="723.2" stroke="#333" stroke-width="1.5"/><rect x="354.8" y="700.5" width="30" height="10.7" fill="#fff" stroke="#333" stroke-width="1.5"/><line x1="354.8" y1="705.9" x2="384.8" y2="705.9" stroke="#333" stroke-width="1.5"/><circle cx="369.8" cy="681.8" r="3.2" fill="#333"/><line x1="408.4" y1="693.8" x2="408.4" y2="680.5" stroke="#333" stroke-width="1.5"/><line x1="408.4" y1="704.5" x2="408.4" y2="713.9" stroke="#333" stroke-width="1.5"/><rect x="393.4" y="693.8" width="30" height="10.7" fill="#fff" stroke="#333" stroke-width="1.5"/><line x1="393.4" y1="698.5" x2="423.4" y2="698.5" stroke="#333" stroke-width="1.5"/><circle cx="408.4" cy="720.6" r="3.2" fill="#333"/><circle cx="408.4" cy="723.2" r="3.2" fill="#333"/><circle cx="408.4" cy="725.3" r="3.2" fill="#333"/><line x1="447" y1="687.8" x2="447" y2="677.8" stroke="#333" stroke-width="1.5"/><line x1="447" y1="698.5" x2="447" y2="709.9" stroke="#333" stroke-width="1.5"/><rect x="432" y="687.8" width="30" height="10.7" fill="#fff" stroke="#333" stroke-width="1.5"/><line x1="432" y1="693.2" x2="462" y2="693.2" stroke="#333" stroke-width="1.5"/><circle cx="447" cy="673.8" r="3.2" fill="#333"/><circle cx="447" cy="712.6" r="3.2" fill="#333"/><circle cx="447" cy="715.2" r="3.2" fill="#333"/><circle cx="447" cy="717.9" r="3.2" fill="#333"/><line x1="485.6" y1="683.1" x2="485.6" y2="673.8" stroke="#333" stroke-width="1.5"/><line x1="485.6" y1="693.2" x2="485.6" y2="701.9" stroke="#333" stroke-width="1.5"/><rect x="470.6" y="683.1" width="30" height="10" fill="#fff" stroke="#333" stroke-width="1.5"/><line x1="470.6" y1="687.8" x2="500.6" y2="687.8" stroke="#333" stroke-width="1.5"/><circle cx="485.6" cy="668.4" r="3.2" fill="#333"/><circle cx="485.6" cy="704.5" r="3.2" fill="#333"/><circle cx="485.6" cy="708.5" r="3.2" fill="#333"/><circle cx="485.6" cy="712.6" r="3.2" fill="#333"/><line x1="524.2" y1="678.5" x2="524.2" y2="667.1" stroke="#333" stroke-width="1.5"/><line x1="524.2" y1="687.8" x2="524.2" y2="699.2" stroke="#333" stroke-width="1.5"/><rect x="509.2" y="678.5" width="30" height="9.4" fill="#fff" stroke="#333" stroke-width="1.5"/><line x1="509.2" y1="683.1" x2="539.2" y2="683.1" stroke="#333" stroke-width="1.5"/><circle cx="524.2" cy="700.5" r="3.2" fill="#333"/><circle cx="524.2" cy="703.2" r="3.2" fill="#333"/><circle cx="524.2" cy="707.2" r="3.2" fill="#333"/><line x1="562.8" y1="674.4" x2="562.8" y2="664.4" stroke="#333" stroke-width="1.5"/><line x1="562.8" y1="683.8" x2="562.8" y2="691.2" stroke="#333" stroke-width="1.5"/><rect x="547.8" y="674.4" width="30" height="9.4" fill="#fff" stroke="#333" stroke-width="1.5"/><line x1="547.8" y1="678.5" x2="577.8" y2="678.5" stroke="#333" stroke-width="1.5"/><circle cx="562.8" cy="695.8" r="3.2" fill="#333"/><line x1="601.4" y1="671.1" x2="601.4" y2="660.4" stroke="#333" stroke-width="1.5"/><line x1="601.4" y1="679.1" x2="601.4" y2="685.8" stroke="#333" stroke-width="1.5"/><rect x="586.4" y="671.1" width="30" height="8" fill="#fff" stroke="#333" stroke-width="1.5"/><line x1="586.4" y1="675.1" x2="616.4" y2="675.1" stroke="#333" stroke-width="1.5"/><circle cx="601.4" cy="691.2" r="3.2" fill="#333"/><circle cx="601.4" cy="693.8" r="3.2" fill="#333"/><line x1="640" y1="666.4" x2="640" y2="657.7" stroke="#333" stroke-width="1.5"/><line x1="640" y1="675.1" x2="640" y2="681.1" stroke="#333" stroke-width="1.5"/><rect x="625" y="666.4" width="30" height="8.7" fill="#fff" stroke="#333" stroke-width="1.5"/><line x1="625" y1="669.8" x2="655" y2="669.8" stroke="#333" stroke-width="1.5"/><circle cx="640" cy="687.1" r="3.2" fill="#333"/><line x1="678.6" y1="663.1" x2="678.6" y2="656.4" stroke="#333" stroke-width="1.5"/><line x1="678.6" y1="671.1" x2="678.6" y2="675.8" stroke="#333" stroke-width="1.5"/><rect x="663.6" y="663.1" width="30" height="8" fill="#fff" stroke="#333" stroke-width="1.5"/><line x1="663.6" y1="666.4" x2="693.6" y2="666.4" stroke="#333" stroke-width="1.5"/><circle cx="678.6" cy="680.5" r="3.2" fill="#333"/><circle cx="678.6" cy="683.1" r="3.2" fill="#333"/><circle cx="678.6" cy="685.8" r="3.2" fill="#333"/><line x1="717.2" y1="659.7" x2="717.2" y2="653.7" stroke="#333" stroke-width="1.5"/><line x1="717.2" y1="666.4" x2="717.2" y2="671.1" stroke="#333" stroke-width="1.5"/><rect x="702.2" y="659.7" width="30" height="6.7" fill="#fff" stroke="#333" stroke-width="1.5"/><line x1="702.2" y1="663.1" x2="732.2" y2="663.1" stroke="#333" stroke-width="1.5"/><circle cx="717.2" cy="677.1" r="3.2" fill="#333"/><line x1="755.8" y1="656.4" x2="755.8" y2="652.4" stroke="#333" stroke-width="1.5"/><line x1="755.8" y1="663.1" x2="755.8" y2="666.4" stroke="#333" stroke-width="1.5"/><rect x="740.8" y="656.4" width="30" height="6.7" fill="#fff" stroke="#333" stroke-width="1.5"/><line x1="740.8" y1="659.7" x2="770.8" y2="659.7" stroke="#333" stroke-width="1.5"/><circle cx="755.8" cy="671.8" r="3.2" fill="#333"/><line x1="794.4" y1="653.7" x2="794.4" y2="651.7" stroke="#333" stroke-width="1.5"/><line x1="794.4" y1="659.1" x2="794.4" y2="664.4" stroke="#333" stroke-width="1.5"/><rect x="779.4" y="653.7" width="30" height="5.3" fill="#fff" stroke="#333" stroke-width="1.5"/><line x1="779.4" y1="656.4" x2="809.4" y2="656.4" stroke="#333" stroke-width="1.5"/><line x1="833" y1="651.7" x2="833" y2="651" stroke="#333" stroke-width="1.5"/><line x1="833" y1="655.7" x2="833" y2="657.7" stroke="#333" stroke-width="1.5"/><rect x="818" y="651.7" width="30" height="4" fill="#fff" stroke="#333" stroke-width="1.5"/><line x1="818" y1="653.1" x2="848" y2="653.1" stroke="#333" stroke-width="1.5"/><line x1="856.6" y1="651" x2="886.6" y2="651" stroke="#333" stroke-width="1.6"/><line x1="138.2" y1="795.8" x2="138.2" y2="802" stroke="#000" stroke-width="1.8"/><text x="138.2" y="827" font-size="20.8" text-anchor="middle">1</text><line x1="176.8" y1="795.8" x2="176.8" y2="802" stroke="#000" stroke-width="1.8"/><text x="176.8" y="827" font-size="20.8" text-anchor="middle">2</text><line x1="215.4" y1="795.8" x2="215.4" y2="802" stroke="#000" stroke-width="1.8"/><text x="215.4" y="827" font-size="20.8" text-anchor="middle">3</text><line x1="254" y1="795.8" x2="254" y2="802" stroke="#000" stroke-width="1.8"/><text x="254" y="827" font-size="20.8" text-anchor="middle">4</text><line x1="292.6" y1="795.8" x2="292.6" y2="802" stroke="#000" stroke-width="1.8"/><text x="292.6" y="827" font-size="20.8" text-anchor="middle">5</text><line x1="331.2" y1="795.8" x2="331.2" y2="802" stroke="#000" stroke-width="1.8"/><text x="331.2" y="827" font-size="20.8" text-anchor="middle">6</text><line x1="369.8" y1="795.8" x2="369.8" y2="802" stroke="#000" stroke-width="1.8"/><text x="369.8" y="827" font-size="20.8" text-anchor="middle">7</text><line x1="408.4" y1="795.8" x2="408.4" y2="802" stroke="#000" stroke-width="1.8"/><text x="408.4" y="827" font-size="20.8" text-anchor="middle">8</text><line x1="447" y1="795.8" x2="447" y2="802" stroke="#000" stroke-width="1.8"/><text x="447" y="827" font-size="20.8" text-anchor="middle">9</text><line x1="485.6" y1="795.8" x2="485.6" y2="802" stroke="#000" stroke-width="1.8"/><text x="485.6" y="827" font-size="20.8" text-anchor="middle">10</text><line x1="524.2" y1="795.8" x2="524.2" y2="802" stroke="#000" stroke-width="1.8"/><text x="524.2" y="827" font-size="20.8" text-anchor="middle">11</text><line x1="562.8" y1="795.8" x2="562.8" y2="802" stroke="#000" stroke-width="1.8"/><text x="562.8" y="827" font-size="20.8" text-anchor="middle">12</text><line x1="601.4" y1="795.8" x2="601.4" y2="802" stroke="#000" stroke-width="1.8"/><text x="601.4" y="827" font-size="20.8" text-anchor="middle">13</text><line x1="640" y1="795.8" x2="640" y2="802" stroke="#000" stroke-width="1.8"/><text x="640" y="827" font-size="20.8" text-anchor="middle">14</text><line x1="678.6" y1="795.8" x2="678.6" y2="802" stroke="#000" stroke-width="1.8"/><text x="678.6" y="827" font-size="20.8" text-anchor="middle">15</text><line x1="717.2" y1="795.8" x2="717.2" y2="802" stroke="#000" stroke-width="1.8"/><text x="717.2" y="827" font-size="20.8" text-anchor="middle">16</text><line x1="755.8" y1="795.8" x2="755.8" y2="802" stroke="#000" stroke-width="1.8"/><text x="755.8" y="827" font-size="20.8" text-anchor="middle">17</text><line x1="794.4" y1="795.8" x2="794.4" y2="802" stroke="#000" stroke-width="1.8"/><text x="794.4" y="827" font-size="20.8" text-anchor="middle">18</text><line x1="833" y1="795.8" x2="833" y2="802" stroke="#000" stroke-width="1.8"/><text x="833" y="827" font-size="20.8" text-anchor="middle">19</text><line x1="871.6" y1="795.8" x2="871.6" y2="802" stroke="#000" stroke-width="1.8"/><text x="871.6" y="827" font-size="20.8" text-anchor="middle">20</text><text x="505.7" y="855.8" font-size="20.8" text-anchor="middle">Number of samples</text><text x="18" y="522" font-size="20.8" text-anchor="middle" transform="rotate(-90 18 522)">Thousands</text><text x="43" y="522" font-size="20.8" text-anchor="middle" transform="rotate(-90 43 522)">of peaks</text><text x="25.5" y="722.8" font-size="20.8" text-anchor="middle" transform="rotate(-90 25.5 722.8)">Genome</text><text x="50.5" y="722.8" font-size="20.8" text-anchor="middle" transform="rotate(-90 50.5 722.8)">coverage (%)</text><text x="-1" y="899.5" font-size="41" font-weight="bold">c</text><rect x="287.6" y="887.4" width="28.26" height="27.1" fill="#fdb462" stroke="#222" stroke-width="1.2"/><rect x="287.6" y="914.5" width="28.26" height="27.1" fill="#7570b3" stroke="#222" stroke-width="1.2"/><rect x="315.9" y="887.4" width="28.26" height="27.1" fill="#fdb462" stroke="#222" stroke-width="1.2"/><rect x="315.9" y="914.5" width="28.26" height="27.1" fill="#7570b3" stroke="#222" stroke-width="1.2"/><rect x="344.1" y="887.4" width="28.26" height="27.1" fill="#fdb462" stroke="#222" stroke-width="1.2"/><rect x="344.1" y="914.5" width="28.26" height="27.1" fill="#7570b3" stroke="#222" stroke-width="1.2"/><rect x="372.4" y="887.4" width="28.26" height="27.1" fill="#80b1d3" stroke="#222" stroke-width="1.2"/><rect x="372.4" y="914.5" width="28.26" height="27.1" fill="#7570b3" stroke="#222" stroke-width="1.2"/><rect x="400.7" y="887.4" width="28.26" height="27.1" fill="#80b1d3" stroke="#222" stroke-width="1.2"/><rect x="400.7" y="914.5" width="28.26" height="27.1" fill="#7570b3" stroke="#222" stroke-width="1.2"/><rect x="428.9" y="887.4" width="28.26" height="27.1" fill="#b3dfb5" stroke="#222" stroke-width="1.2"/><rect x="428.9" y="914.5" width="28.26" height="27.1" fill="#7570b3" stroke="#222" stroke-width="1.2"/><rect x="457.2" y="887.4" width="28.26" height="27.1" fill="#ffffb3" stroke="#222" stroke-width="1.2"/><rect x="457.2" y="914.5" width="28.26" height="27.1" fill="#1b9e77" stroke="#222" stroke-width="1.2"/><rect x="485.5" y="887.4" width="28.26" height="27.1" fill="#bebada" stroke="#222" stroke-width="1.2"/><rect x="485.5" y="914.5" width="28.26" height="27.1" fill="#d95f02" stroke="#222" stroke-width="1.2"/><rect x="513.7" y="887.4" width="28.26" height="27.1" fill="#bebada" stroke="#222" stroke-width="1.2"/><rect x="513.7" y="914.5" width="28.26" height="27.1" fill="#d95f02" stroke="#222" stroke-width="1.2"/><rect x="542" y="887.4" width="28.26" height="27.1" fill="#bebada" stroke="#222" stroke-width="1.2"/><rect x="542" y="914.5" width="28.26" height="27.1" fill="#1b9e77" stroke="#222" stroke-width="1.2"/><rect x="570.2" y="887.4" width="28.26" height="27.1" fill="#fdb462" stroke="#222" stroke-width="1.2"/><rect x="570.2" y="914.5" width="28.26" height="27.1" fill="#7570b3" stroke="#222" stroke-width="1.2"/><rect x="598.5" y="887.4" width="28.26" height="27.1" fill="#fb8072" stroke="#222" stroke-width="1.2"/><rect x="598.5" y="914.5" width="28.26" height="27.1" fill="#7570b3" stroke="#222" stroke-width="1.2"/><rect x="626.8" y="887.4" width="28.26" height="27.1" fill="#bebada" stroke="#222" stroke-width="1.2"/><rect x="626.8" y="914.5" width="28.26" height="27.1" fill="#7570b3" stroke="#222" stroke-width="1.2"/><rect x="655" y="887.4" width="28.26" height="27.1" fill="#b3dfb5" stroke="#222" stroke-width="1.2"/><rect x="655" y="914.5" width="28.26" height="27.1" fill="#7570b3" stroke="#222" stroke-width="1.2"/><rect x="683.3" y="887.4" width="28.26" height="27.1" fill="#fdb462" stroke="#222" stroke-width="1.2"/><rect x="683.3" y="914.5" width="28.26" height="27.1" fill="#7570b3" stroke="#222" stroke-width="1.2"/><rect x="711.6" y="887.4" width="28.26" height="27.1" fill="#bebada" stroke="#222" stroke-width="1.2"/><rect x="711.6" y="914.5" width="28.26" height="27.1" fill="#1b9e77" stroke="#222" stroke-width="1.2"/><rect x="739.8" y="887.4" width="28.26" height="27.1" fill="#8dd3c7" stroke="#222" stroke-width="1.2"/><rect x="739.8" y="914.5" width="28.26" height="27.1" fill="#1b9e77" stroke="#222" stroke-width="1.2"/><rect x="768.1" y="887.4" width="28.26" height="27.1" fill="#8dd3c7" stroke="#222" stroke-width="1.2"/><rect x="768.1" y="914.5" width="28.26" height="27.1" fill="#1b9e77" stroke="#222" stroke-width="1.2"/><rect x="796.4" y="887.4" width="28.26" height="27.1" fill="#bebada" stroke="#222" stroke-width="1.2"/><rect x="796.4" y="914.5" width="28.26" height="27.1" fill="#1b9e77" stroke="#222" stroke-width="1.2"/><rect x="824.6" y="887.4" width="28.26" height="27.1" fill="#8dd3c7" stroke="#222" stroke-width="1.2"/><rect x="824.6" y="914.5" width="28.26" height="27.1" fill="#1b9e77" stroke="#222" stroke-width="1.2"/><text x="275" y="907.6" font-size="20.8" text-anchor="end">Stage</text><text x="275" y="935" font-size="20.8" text-anchor="end">Grade</text><text x="275" y="977" font-size="20.8" text-anchor="end">OC Histotype</text><rect x="287.6" y="942" width="141.3" height="54.5" fill="#e41a1c"/><text x="358.3" y="980" font-size="20.8" text-anchor="middle" fill="#fff">CCOC</text><rect x="428.9" y="942" width="141.3" height="54.5" fill="#377eb8"/><text x="499.6" y="980" font-size="20.8" text-anchor="middle" fill="#fff">EnOC</text><rect x="570.2" y="942" width="141.3" height="54.5" fill="#4daf4a"/><text x="640.9" y="980" font-size="20.8" text-anchor="middle" fill="#fff">HGSOC</text><rect x="711.6" y="942" width="141.3" height="54.5" fill="#984ea3"/><text x="782.2" y="980" font-size="20.8" text-anchor="middle" fill="#fff">MOC</text><defs><pattern id="stk" patternUnits="userSpaceOnUse" x="287.6" y="996.5" width="197.85" height="110"><path fill="#fff" fill-opacity="0.42" d="M0.0 0.0h28.26v1.0h-28.26zM0.0 2.0h28.26v0.8h-28.26zM0.0 4.3h28.26v0.7h-28.26zM0.0 33.8h28.26v0.7h-28.26zM0.0 44.1h28.26v1.0h-28.26zM0.0 56.4h28.26v0.8h-28.26zM0.0 63.7h28.26v1.0h-28.26zM0.0 64.7h28.26v0.8h-28.26zM0.0 80.4h28.26v1.2h-28.26zM0.0 88.4h28.26v1.0h-28.26zM0.0 93.8h28.26v0.8h-28.26zM0.0 96.8h28.26v0.7h-28.26zM0.0 109.6h28.26v0.4h-28.26zM28.3 0.7h28.26v0.7h-28.26zM28.3 10.7h28.26v1.0h-28.26zM28.3 11.7h28.26v1.0h-28.26zM28.3 17.9h28.26v1.0h-28.26zM28.3 22.9h28.26v1.0h-28.26zM28.3 32.0h28.26v0.8h-28.26zM28.3 36.3h28.26v0.7h-28.26zM28.3 38.8h28.26v1.0h-28.26zM28.3 41.3h28.26v1.5h-28.26zM28.3 50.9h28.26v1.0h-28.26zM28.3 59.2h28.26v0.8h-28.26zM28.3 69.7h28.26v0.8h-28.26zM28.3 82.0h28.26v0.7h-28.26zM28.3 83.7h28.26v1.0h-28.26zM28.3 90.5h28.26v1.2h-28.26zM28.3 92.7h28.26v0.8h-28.26zM28.3 101.8h28.26v1.2h-28.26zM56.5 2.5h28.26v0.7h-28.26zM56.5 5.2h28.26v1.0h-28.26zM56.5 7.0h28.26v1.0h-28.26zM56.5 16.6h28.26v0.8h-28.26zM56.5 17.4h28.26v0.7h-28.26zM56.5 48.9h28.26v0.7h-28.26zM56.5 50.3h28.26v0.7h-28.26zM56.5 56.9h28.26v0.8h-28.26zM56.5 65.3h28.26v1.0h-28.26zM56.5 83.0h28.26v1.0h-28.26zM56.5 92.9h28.26v1.0h-28.26zM56.5 100.1h28.26v1.0h-28.26zM56.5 108.0h28.26v1.5h-28.26zM84.8 2.2h28.26v1.0h-28.26zM84.8 3.2h28.26v0.8h-28.26zM84.8 5.2h28.26v1.0h-28.26zM84.8 21.9h28.26v1.0h-28.26zM84.8 24.6h28.26v1.5h-28.26zM84.8 39.3h28.26v0.8h-28.26zM84.8 59.5h28.26v1.0h-28.26zM84.8 76.1h28.26v1.0h-28.26zM84.8 77.1h28.26v1.5h-28.26zM84.8 87.9h28.26v1.0h-28.26zM113.1 9.2h28.26v1.0h-28.26zM113.1 14.6h28.26v0.7h-28.26zM113.1 34.2h28.26v1.2h-28.26zM113.1 38.4h28.26v1.2h-28.26zM113.1 43.6h28.26v1.5h-28.26zM113.1 45.1h28.26v1.0h-28.26zM113.1 53.1h28.26v0.7h-28.26zM113.1 53.8h28.26v1.0h-28.26zM113.1 66.5h28.26v1.0h-28.26zM113.1 73.1h28.26v1.2h-28.26zM113.1 82.5h28.26v1.5h-28.26zM113.1 85.5h28.26v1.5h-28.26zM113.1 87.7h28.26v1.5h-28.26zM113.1 103.6h28.26v1.0h-28.26zM141.3 16.9h28.26v1.0h-28.26zM141.3 30.6h28.26v0.8h-28.26zM141.3 53.1h28.26v1.0h-28.26zM141.3 63.1h28.26v1.0h-28.26zM141.3 67.3h28.26v1.0h-28.26zM141.3 83.6h28.26v0.7h-28.26zM141.3 98.3h28.26v0.7h-28.26zM141.3 102.0h28.26v1.0h-28.26zM141.3 107.2h28.26v0.7h-28.26zM141.3 108.9h28.26v1.0h-28.26zM141.3 109.9h28.26v0.1h-28.26zM169.6 2.6h28.26v1.0h-28.26zM169.6 12.8h28.26v1.0h-28.26zM169.6 41.3h28.26v0.7h-28.26zM169.6 43.2h28.26v0.7h-28.26zM169.6 45.3h28.26v1.0h-28.26zM169.6 50.1h28.26v0.8h-28.26zM169.6 53.6h28.26v1.0h-28.26zM169.6 55.8h28.26v1.2h-28.26zM169.6 58.8h28.26v1.2h-28.26zM169.6 61.6h28.26v1.2h-28.26zM169.6 62.8h28.26v1.0h-28.26zM169.6 73.5h28.26v1.2h-28.26zM169.6 77.2h28.26v1.0h-28.26zM169.6 78.9h28.26v1.0h-28.26zM169.6 82.4h28.26v0.8h-28.26zM169.6 84.4h28.26v0.8h-28.26zM169.6 94.9h28.26v1.0h-28.26z"/><path fill="#fff" fill-opacity="0.12" d="M0.0 1.0h28.26v1.0h-28.26zM0.0 12.0h28.26v0.8h-28.26zM0.0 15.0h28.26v1.0h-28.26zM0.0 16.0h28.26v1.2h-28.26zM0.0 24.7h28.26v1.0h-28.26zM0.0 33.0h28.26v0.8h-28.26zM0.0 36.5h28.26v1.2h-28.26zM0.0 45.1h28.26v0.8h-28.26zM0.0 45.9h28.26v1.0h-28.26zM0.0 50.1h28.26v1.0h-28.26zM0.0 53.0h28.26v0.7h-28.26zM0.0 61.1h28.26v0.7h-28.26zM0.0 61.8h28.26v1.2h-28.26zM0.0 69.2h28.26v1.0h-28.26zM0.0 70.2h28.26v1.2h-28.26zM0.0 71.4h28.26v1.5h-28.26zM0.0 72.9h28.26v0.8h-28.26zM0.0 84.1h28.26v0.8h-28.26zM0.0 85.9h28.26v1.0h-28.26zM28.3 20.9h28.26v0.8h-28.26zM28.3 23.9h28.26v1.0h-28.26zM28.3 28.2h28.26v0.8h-28.26zM28.3 29.0h28.26v1.0h-28.26zM28.3 52.7h28.26v1.0h-28.26zM28.3 58.5h28.26v0.7h-28.26zM28.3 63.5h28.26v0.8h-28.26zM28.3 66.5h28.26v1.0h-28.26zM28.3 70.5h28.26v1.0h-28.26zM28.3 75.0h28.26v1.5h-28.26zM28.3 77.2h28.26v0.8h-28.26zM28.3 84.7h28.26v0.7h-28.26zM28.3 98.4h28.26v1.2h-28.26zM56.5 4.2h28.26v1.0h-28.26zM56.5 9.2h28.26v0.7h-28.26zM56.5 13.4h28.26v0.7h-28.26zM56.5 14.1h28.26v0.8h-28.26zM56.5 20.8h28.26v1.5h-28.26zM56.5 27.2h28.26v1.2h-28.26zM56.5 28.4h28.26v1.5h-28.26zM56.5 29.9h28.26v1.2h-28.26zM56.5 35.1h28.26v0.8h-28.26zM56.5 36.7h28.26v0.8h-28.26zM56.5 43.3h28.26v0.7h-28.26zM56.5 47.7h28.26v1.2h-28.26zM56.5 51.0h28.26v0.8h-28.26zM56.5 61.6h28.26v1.0h-28.26zM56.5 67.3h28.26v1.0h-28.26zM56.5 72.7h28.26v1.2h-28.26zM56.5 79.8h28.26v1.0h-28.26zM56.5 88.0h28.26v1.0h-28.26zM56.5 93.9h28.26v1.5h-28.26zM56.5 98.6h28.26v1.5h-28.26zM84.8 21.2h28.26v0.7h-28.26zM84.8 22.9h28.26v1.0h-28.26zM84.8 26.1h28.26v0.8h-28.26zM84.8 43.0h28.26v1.2h-28.26zM84.8 45.7h28.26v0.8h-28.26zM84.8 46.5h28.26v0.8h-28.26zM84.8 52.7h28.26v0.7h-28.26zM84.8 56.8h28.26v1.2h-28.26zM84.8 60.5h28.26v1.0h-28.26zM84.8 64.2h28.26v1.0h-28.26zM84.8 92.9h28.26v1.5h-28.26zM84.8 103.1h28.26v0.7h-28.26zM113.1 4.4h28.26v0.8h-28.26zM113.1 24.7h28.26v1.0h-28.26zM113.1 36.1h28.26v0.7h-28.26zM113.1 37.6h28.26v0.8h-28.26zM113.1 39.6h28.26v1.2h-28.26zM113.1 48.6h28.26v1.0h-28.26zM113.1 52.4h28.26v0.7h-28.26zM113.1 63.3h28.26v0.7h-28.26zM113.1 68.2h28.26v0.7h-28.26zM113.1 68.9h28.26v1.0h-28.26zM113.1 71.4h28.26v1.0h-28.26zM113.1 92.2h28.26v1.5h-28.26zM113.1 99.3h28.26v1.0h-28.26zM113.1 109.4h28.26v0.6h-28.26zM141.3 2.0h28.26v0.7h-28.26zM141.3 7.3h28.26v1.5h-28.26zM141.3 22.6h28.26v1.2h-28.26zM141.3 24.8h28.26v1.2h-28.26zM141.3 26.0h28.26v1.2h-28.26zM141.3 28.4h28.26v1.5h-28.26zM141.3 52.3h28.26v0.8h-28.26zM141.3 58.7h28.26v1.0h-28.26zM141.3 81.4h28.26v1.0h-28.26zM141.3 85.8h28.26v1.2h-28.26zM141.3 105.0h28.26v1.5h-28.26zM169.6 0.0h28.26v0.8h-28.26zM169.6 4.3h28.26v1.5h-28.26zM169.6 5.8h28.26v1.2h-28.26zM169.6 14.8h28.26v0.8h-28.26zM169.6 16.6h28.26v1.5h-28.26zM169.6 19.1h28.26v1.5h-28.26zM169.6 24.3h28.26v1.2h-28.26zM169.6 26.5h28.26v1.5h-28.26zM169.6 37.4h28.26v0.8h-28.26zM169.6 52.1h28.26v1.5h-28.26zM169.6 54.6h28.26v1.2h-28.26zM169.6 66.7h28.26v1.2h-28.26zM169.6 79.9h28.26v1.0h-28.26zM169.6 86.4h28.26v0.7h-28.26zM169.6 91.7h28.26v1.5h-28.26zM169.6 94.2h28.26v0.7h-28.26zM169.6 95.9h28.26v0.7h-28.26zM169.6 97.6h28.26v1.0h-28.26zM169.6 106.6h28.26v1.0h-28.26zM169.6 108.4h28.26v1.0h-28.26zM169.6 109.4h28.26v0.6h-28.26z"/><path fill="#fff" fill-opacity="0.06" d="M0.0 2.8h28.26v1.5h-28.26zM0.0 5.0h28.26v1.0h-28.26zM0.0 7.9h28.26v1.0h-28.26zM0.0 41.9h28.26v0.7h-28.26zM0.0 46.9h28.26v1.5h-28.26zM0.0 55.7h28.26v0.7h-28.26zM0.0 65.5h28.26v1.2h-28.26zM0.0 66.7h28.26v1.0h-28.26zM0.0 67.7h28.26v1.5h-28.26zM0.0 81.6h28.26v1.0h-28.26zM0.0 90.2h28.26v0.7h-28.26zM0.0 91.9h28.26v1.2h-28.26zM0.0 94.6h28.26v1.0h-28.26zM0.0 102.9h28.26v1.0h-28.26zM0.0 107.1h28.26v1.5h-28.26zM28.3 21.7h28.26v1.2h-28.26zM28.3 31.2h28.26v0.8h-28.26zM28.3 35.3h28.26v1.0h-28.26zM28.3 49.4h28.26v1.5h-28.26zM28.3 60.0h28.26v1.0h-28.26zM28.3 65.3h28.26v1.2h-28.26zM28.3 86.1h28.26v0.7h-28.26zM28.3 88.0h28.26v1.5h-28.26zM28.3 89.5h28.26v1.0h-28.26zM28.3 94.7h28.26v1.5h-28.26zM28.3 99.6h28.26v1.0h-28.26zM56.5 1.0h28.26v1.5h-28.26zM56.5 10.9h28.26v1.0h-28.26zM56.5 26.0h28.26v1.2h-28.26zM56.5 31.1h28.26v1.2h-28.26zM56.5 40.0h28.26v1.0h-28.26zM56.5 52.6h28.26v0.8h-28.26zM56.5 64.5h28.26v0.8h-28.26zM56.5 68.3h28.26v1.2h-28.26zM56.5 76.1h28.26v0.7h-28.26zM56.5 76.8h28.26v1.0h-28.26zM56.5 78.8h28.26v1.0h-28.26zM56.5 80.8h28.26v1.5h-28.26zM56.5 90.5h28.26v1.2h-28.26zM84.8 1.2h28.26v1.0h-28.26zM84.8 15.8h28.26v1.5h-28.26zM84.8 30.6h28.26v1.0h-28.26zM84.8 32.3h28.26v1.0h-28.26zM84.8 37.3h28.26v1.0h-28.26zM84.8 38.3h28.26v1.0h-28.26zM84.8 55.3h28.26v1.5h-28.26zM84.8 62.5h28.26v1.0h-28.26zM84.8 67.7h28.26v1.0h-28.26zM84.8 68.7h28.26v1.0h-28.26zM84.8 71.2h28.26v1.0h-28.26zM84.8 83.6h28.26v1.0h-28.26zM84.8 99.1h28.26v1.0h-28.26zM84.8 100.1h28.26v1.2h-28.26zM84.8 105.0h28.26v1.2h-28.26zM113.1 3.0h28.26v0.7h-28.26zM113.1 8.2h28.26v1.0h-28.26zM113.1 19.9h28.26v1.0h-28.26zM113.1 20.9h28.26v0.8h-28.26zM113.1 23.2h28.26v1.5h-28.26zM113.1 31.4h28.26v1.0h-28.26zM113.1 40.8h28.26v1.0h-28.26zM113.1 50.6h28.26v0.8h-28.26zM113.1 55.6h28.26v1.2h-28.26zM113.1 56.8h28.26v1.0h-28.26zM113.1 57.8h28.26v1.0h-28.26zM113.1 58.8h28.26v1.0h-28.26zM113.1 62.5h28.26v0.8h-28.26zM113.1 64.0h28.26v0.8h-28.26zM113.1 80.3h28.26v1.5h-28.26zM113.1 93.7h28.26v1.2h-28.26zM113.1 108.6h28.26v0.8h-28.26zM141.3 2.7h28.26v0.7h-28.26zM141.3 6.1h28.26v1.2h-28.26zM141.3 20.4h28.26v1.2h-28.26zM141.3 23.8h28.26v1.0h-28.26zM141.3 29.9h28.26v0.7h-28.26zM141.3 37.1h28.26v1.0h-28.26zM141.3 40.9h28.26v1.2h-28.26zM141.3 44.6h28.26v0.8h-28.26zM141.3 47.6h28.26v1.0h-28.26zM141.3 48.6h28.26v1.5h-28.26zM141.3 54.1h28.26v0.7h-28.26zM141.3 57.5h28.26v1.2h-28.26zM141.3 61.6h28.26v1.5h-28.26zM141.3 93.2h28.26v1.2h-28.26zM141.3 97.1h28.26v1.2h-28.26zM169.6 3.6h28.26v0.7h-28.26zM169.6 11.3h28.26v1.5h-28.26zM169.6 18.1h28.26v1.0h-28.26zM169.6 25.5h28.26v1.0h-28.26zM169.6 28.0h28.26v1.0h-28.26zM169.6 40.5h28.26v0.8h-28.26zM169.6 43.9h28.26v0.7h-28.26zM169.6 47.0h28.26v1.2h-28.26zM169.6 48.2h28.26v1.2h-28.26zM169.6 66.0h28.26v0.7h-28.26zM169.6 67.9h28.26v1.2h-28.26zM169.6 74.7h28.26v0.7h-28.26zM169.6 76.4h28.26v0.8h-28.26zM169.6 83.2h28.26v1.2h-28.26zM169.6 87.1h28.26v1.0h-28.26zM169.6 98.6h28.26v0.7h-28.26zM169.6 101.8h28.26v1.2h-28.26zM169.6 107.6h28.26v0.8h-28.26z"/><path fill="#fff" fill-opacity="0.32" d="M0.0 6.7h28.26v1.2h-28.26zM0.0 29.8h28.26v1.0h-28.26zM0.0 34.5h28.26v1.0h-28.26zM0.0 41.2h28.26v0.7h-28.26zM0.0 48.4h28.26v1.0h-28.26zM0.0 49.4h28.26v0.7h-28.26zM0.0 53.7h28.26v0.8h-28.26zM0.0 59.4h28.26v1.0h-28.26zM0.0 73.7h28.26v1.5h-28.26zM0.0 78.6h28.26v0.8h-28.26zM0.0 79.4h28.26v1.0h-28.26zM28.3 0.0h28.26v0.7h-28.26zM28.3 2.6h28.26v1.2h-28.26zM28.3 8.2h28.26v1.0h-28.26zM28.3 24.9h28.26v1.0h-28.26zM28.3 27.4h28.26v0.8h-28.26zM28.3 38.0h28.26v0.8h-28.26zM28.3 67.5h28.26v0.7h-28.26zM28.3 68.2h28.26v1.5h-28.26zM28.3 82.7h28.26v1.0h-28.26zM28.3 85.4h28.26v0.7h-28.26zM28.3 97.4h28.26v1.0h-28.26zM28.3 103.0h28.26v0.8h-28.26zM28.3 106.2h28.26v1.2h-28.26zM28.3 108.1h28.26v1.2h-28.26zM56.5 3.2h28.26v1.0h-28.26zM56.5 22.3h28.26v1.5h-28.26zM56.5 23.8h28.26v0.7h-28.26zM56.5 24.5h28.26v1.5h-28.26zM56.5 38.3h28.26v1.0h-28.26zM56.5 39.3h28.26v0.7h-28.26zM56.5 41.0h28.26v0.8h-28.26zM56.5 58.4h28.26v1.0h-28.26zM56.5 59.4h28.26v1.0h-28.26zM56.5 71.2h28.26v1.5h-28.26zM56.5 89.0h28.26v1.5h-28.26zM56.5 102.1h28.26v0.8h-28.26zM56.5 105.6h28.26v1.2h-28.26zM84.8 7.2h28.26v1.2h-28.26zM84.8 17.3h28.26v1.0h-28.26zM84.8 19.0h28.26v1.5h-28.26zM84.8 28.1h28.26v0.7h-28.26zM84.8 33.3h28.26v1.5h-28.26zM84.8 35.8h28.26v1.5h-28.26zM84.8 51.0h28.26v1.0h-28.26zM84.8 65.2h28.26v1.0h-28.26zM84.8 92.1h28.26v0.8h-28.26zM84.8 96.1h28.26v1.0h-28.26zM84.8 97.1h28.26v1.2h-28.26zM84.8 107.4h28.26v0.7h-28.26zM113.1 3.7h28.26v0.7h-28.26zM113.1 6.2h28.26v1.0h-28.26zM113.1 13.9h28.26v0.7h-28.26zM113.1 19.2h28.26v0.7h-28.26zM113.1 21.7h28.26v1.5h-28.26zM113.1 25.7h28.26v1.0h-28.26zM113.1 41.8h28.26v1.0h-28.26zM113.1 54.8h28.26v0.8h-28.26zM113.1 72.4h28.26v0.7h-28.26zM113.1 81.8h28.26v0.7h-28.26zM113.1 87.0h28.26v0.7h-28.26zM113.1 94.9h28.26v1.0h-28.26zM113.1 97.1h28.26v1.0h-28.26zM113.1 100.3h28.26v0.8h-28.26zM113.1 106.1h28.26v1.0h-28.26zM141.3 3.4h28.26v0.7h-28.26zM141.3 5.1h28.26v1.0h-28.26zM141.3 8.8h28.26v0.8h-28.26zM141.3 11.6h28.26v1.5h-28.26zM141.3 17.9h28.26v0.7h-28.26zM141.3 31.4h28.26v1.2h-28.26zM141.3 50.1h28.26v1.0h-28.26zM141.3 54.8h28.26v1.2h-28.26zM141.3 56.0h28.26v0.7h-28.26zM141.3 66.3h28.26v1.0h-28.26zM141.3 68.3h28.26v1.0h-28.26zM141.3 72.7h28.26v1.2h-28.26zM141.3 75.9h28.26v1.0h-28.26zM141.3 76.9h28.26v1.5h-28.26zM141.3 82.4h28.26v1.2h-28.26zM141.3 88.2h28.26v1.5h-28.26zM141.3 92.0h28.26v1.2h-28.26zM141.3 94.4h28.26v0.8h-28.26zM141.3 103.0h28.26v1.2h-28.26zM169.6 10.3h28.26v1.0h-28.26zM169.6 42.0h28.26v1.2h-28.26zM169.6 49.4h28.26v0.7h-28.26zM169.6 88.1h28.26v0.7h-28.26zM169.6 90.0h28.26v1.0h-28.26zM169.6 103.0h28.26v1.0h-28.26zM169.6 104.0h28.26v0.8h-28.26zM169.6 105.8h28.26v0.8h-28.26z"/><path fill="#fff" fill-opacity="0.24" d="M0.0 14.0h28.26v1.0h-28.26zM0.0 40.2h28.26v1.0h-28.26zM0.0 58.2h28.26v1.2h-28.26zM0.0 63.0h28.26v0.7h-28.26zM0.0 90.9h28.26v1.0h-28.26zM0.0 93.1h28.26v0.7h-28.26zM0.0 104.6h28.26v1.0h-28.26zM0.0 108.6h28.26v1.0h-28.26zM28.3 9.2h28.26v1.5h-28.26zM28.3 30.0h28.26v1.2h-28.26zM28.3 39.8h28.26v1.5h-28.26zM28.3 47.2h28.26v1.2h-28.26zM28.3 57.0h28.26v1.5h-28.26zM28.3 64.3h28.26v1.0h-28.26zM28.3 73.0h28.26v1.0h-28.26zM28.3 74.0h28.26v1.0h-28.26zM28.3 79.0h28.26v1.0h-28.26zM28.3 86.8h28.26v1.2h-28.26zM56.5 6.2h28.26v0.8h-28.26zM56.5 8.0h28.26v1.2h-28.26zM56.5 15.6h28.26v1.0h-28.26zM56.5 32.3h28.26v0.8h-28.26zM56.5 33.1h28.26v0.8h-28.26zM56.5 33.9h28.26v1.2h-28.26zM56.5 44.0h28.26v1.2h-28.26zM56.5 46.2h28.26v1.5h-28.26zM56.5 60.4h28.26v1.2h-28.26zM56.5 62.6h28.26v1.2h-28.26zM56.5 66.3h28.26v1.0h-28.26zM56.5 73.9h28.26v1.2h-28.26zM56.5 77.8h28.26v1.0h-28.26zM56.5 82.3h28.26v0.7h-28.26zM56.5 104.6h28.26v1.0h-28.26zM84.8 18.3h28.26v0.7h-28.26zM84.8 20.5h28.26v0.7h-28.26zM84.8 31.6h28.26v0.7h-28.26zM84.8 40.8h28.26v1.2h-28.26zM84.8 58.0h28.26v1.5h-28.26zM84.8 61.5h28.26v1.0h-28.26zM84.8 69.7h28.26v1.5h-28.26zM84.8 72.2h28.26v1.0h-28.26zM84.8 74.4h28.26v1.0h-28.26zM84.8 82.6h28.26v1.0h-28.26zM84.8 84.6h28.26v0.8h-28.26zM84.8 85.4h28.26v1.5h-28.26zM84.8 91.1h28.26v1.0h-28.26zM84.8 94.4h28.26v0.7h-28.26zM84.8 98.3h28.26v0.8h-28.26zM113.1 5.2h28.26v1.0h-28.26zM113.1 7.2h28.26v1.0h-28.26zM113.1 12.9h28.26v1.0h-28.26zM113.1 16.5h28.26v1.2h-28.26zM113.1 35.4h28.26v0.7h-28.26zM113.1 36.8h28.26v0.8h-28.26zM113.1 46.1h28.26v1.0h-28.26zM113.1 64.8h28.26v0.7h-28.26zM113.1 104.6h28.26v1.5h-28.26zM141.3 9.6h28.26v1.0h-28.26zM141.3 13.1h28.26v1.2h-28.26zM141.3 15.1h28.26v1.0h-28.26zM141.3 16.1h28.26v0.8h-28.26zM141.3 18.6h28.26v0.8h-28.26zM141.3 32.6h28.26v1.5h-28.26zM141.3 40.1h28.26v0.8h-28.26zM141.3 42.8h28.26v1.0h-28.26zM141.3 43.8h28.26v0.8h-28.26zM141.3 56.7h28.26v0.8h-28.26zM141.3 59.7h28.26v1.2h-28.26zM141.3 65.3h28.26v1.0h-28.26zM141.3 71.5h28.26v1.2h-28.26zM141.3 78.4h28.26v1.2h-28.26zM141.3 90.5h28.26v1.5h-28.26zM141.3 100.5h28.26v0.7h-28.26zM141.3 104.2h28.26v0.8h-28.26zM169.6 1.8h28.26v0.8h-28.26zM169.6 9.3h28.26v1.0h-28.26zM169.6 21.8h28.26v1.0h-28.26zM169.6 44.6h28.26v0.7h-28.26zM169.6 60.0h28.26v0.8h-28.26zM169.6 70.8h28.26v1.5h-28.26zM169.6 78.2h28.26v0.7h-28.26zM169.6 100.3h28.26v1.5h-28.26z"/><path fill="#fff" fill-opacity="0.18" d="M0.0 17.2h28.26v1.5h-28.26zM0.0 21.2h28.26v1.0h-28.26zM0.0 23.2h28.26v1.5h-28.26zM0.0 25.7h28.26v1.2h-28.26zM0.0 37.7h28.26v1.5h-28.26zM0.0 51.1h28.26v0.7h-28.26zM0.0 51.8h28.26v1.2h-28.26zM0.0 77.9h28.26v0.7h-28.26zM0.0 87.7h28.26v0.7h-28.26zM0.0 97.5h28.26v1.0h-28.26zM0.0 101.4h28.26v1.5h-28.26zM28.3 19.9h28.26v1.0h-28.26zM28.3 25.9h28.26v1.5h-28.26zM28.3 37.0h28.26v1.0h-28.26zM28.3 43.8h28.26v0.7h-28.26zM28.3 45.7h28.26v1.5h-28.26zM28.3 93.5h28.26v1.2h-28.26zM28.3 96.2h28.26v1.2h-28.26zM28.3 100.6h28.26v1.2h-28.26zM56.5 14.9h28.26v0.7h-28.26zM56.5 19.6h28.26v1.2h-28.26zM56.5 53.4h28.26v0.8h-28.26zM56.5 75.1h28.26v1.0h-28.26zM56.5 85.7h28.26v0.8h-28.26zM56.5 86.5h28.26v1.5h-28.26zM56.5 103.6h28.26v1.0h-28.26zM84.8 6.2h28.26v1.0h-28.26zM84.8 8.4h28.26v1.2h-28.26zM84.8 9.6h28.26v1.0h-28.26zM84.8 10.6h28.26v1.0h-28.26zM84.8 11.6h28.26v1.2h-28.26zM84.8 12.8h28.26v1.5h-28.26zM84.8 34.8h28.26v1.0h-28.26zM84.8 40.1h28.26v0.7h-28.26zM84.8 42.0h28.26v1.0h-28.26zM84.8 44.2h28.26v1.5h-28.26zM84.8 50.3h28.26v0.7h-28.26zM84.8 53.4h28.26v1.2h-28.26zM84.8 66.2h28.26v1.5h-28.26zM84.8 79.6h28.26v0.7h-28.26zM84.8 81.1h28.26v1.5h-28.26zM84.8 88.9h28.26v1.2h-28.26zM84.8 90.1h28.26v1.0h-28.26zM84.8 102.1h28.26v1.0h-28.26zM84.8 106.2h28.26v1.2h-28.26zM84.8 108.1h28.26v0.7h-28.26zM113.1 26.7h28.26v1.2h-28.26zM113.1 28.9h28.26v1.0h-28.26zM113.1 42.8h28.26v0.8h-28.26zM113.1 51.4h28.26v1.0h-28.26zM113.1 59.8h28.26v1.5h-28.26zM113.1 67.5h28.26v0.7h-28.26zM113.1 74.3h28.26v0.8h-28.26zM113.1 75.1h28.26v1.0h-28.26zM113.1 77.1h28.26v1.2h-28.26zM113.1 89.2h28.26v0.8h-28.26zM113.1 95.9h28.26v1.2h-28.26zM113.1 102.6h28.26v1.0h-28.26zM141.3 21.6h28.26v1.0h-28.26zM141.3 35.1h28.26v1.0h-28.26zM141.3 38.9h28.26v1.2h-28.26zM141.3 87.0h28.26v1.2h-28.26zM141.3 99.0h28.26v0.7h-28.26zM141.3 99.7h28.26v0.8h-28.26zM141.3 106.5h28.26v0.7h-28.26zM141.3 107.9h28.26v1.0h-28.26zM169.6 20.6h28.26v1.2h-28.26zM169.6 33.7h28.26v0.7h-28.26zM169.6 34.4h28.26v1.2h-28.26zM169.6 36.6h28.26v0.8h-28.26zM169.6 38.2h28.26v0.8h-28.26zM169.6 46.3h28.26v0.7h-28.26zM169.6 50.9h28.26v1.2h-28.26zM169.6 63.8h28.26v1.5h-28.26zM169.6 69.1h28.26v0.7h-28.26zM169.6 72.3h28.26v1.2h-28.26zM169.6 75.4h28.26v1.0h-28.26zM169.6 88.8h28.26v1.2h-28.26zM169.6 93.2h28.26v1.0h-28.26zM169.6 96.6h28.26v1.0h-28.26z"/></pattern><linearGradient id="bfade" x1="0" y1="0" x2="0" y2="1"><stop offset="0" stop-color="#fff" stop-opacity="0"/><stop offset="1" stop-color="#fff" stop-opacity="0.35"/></linearGradient></defs><defs><linearGradient id="g1" x1="0" y1="0" x2="0" y2="1"><stop offset="0" stop-color="#b6e3d9"/><stop offset="1" stop-color="#ddf2f3"/></linearGradient><linearGradient id="g2" x1="0" y1="0" x2="0" y2="1"><stop offset="0" stop-color="#5bbc97"/><stop offset="1" stop-color="#bce6dd"/></linearGradient><linearGradient id="g3" x1="0" y1="0" x2="0" y2="1"><stop offset="0" stop-color="#93d5c5"/><stop offset="1" stop-color="#d4efec"/></linearGradient><linearGradient id="g4" x1="0" y1="0" x2="0" y2="1"><stop offset="0" stop-color="#86d0bb"/><stop offset="1" stop-color="#d1eee9"/></linearGradient><linearGradient id="g5" x1="0" y1="0" x2="0" y2="1"><stop offset="0" stop-color="#ccece6"/><stop offset="1" stop-color="#e3f4f8"/></linearGradient><linearGradient id="g6" x1="0" y1="0" x2="0" y2="1"><stop offset="0" stop-color="#edf8fb"/><stop offset="1" stop-color="#f2fafc"/></linearGradient><linearGradient id="g7" x1="0" y1="0" x2="0" y2="1"><stop offset="0" stop-color="#f1f9fc"/><stop offset="1" stop-color="#f4fbfc"/></linearGradient><linearGradient id="g8" x1="0" y1="0" x2="0" y2="1"><stop offset="0" stop-color="#f1f9fc"/><stop offset="1" stop-color="#f4fbfc"/></linearGradient><linearGradient id="g9" x1="0" y1="0" x2="0" y2="1"><stop offset="0" stop-color="#f1f9fc"/><stop offset="1" stop-color="#f4fbfc"/></linearGradient><linearGradient id="g10" x1="0" y1="0" x2="0" y2="1"><stop offset="0" stop-color="#f1f9fc"/><stop offset="1" stop-color="#f4fbfc"/></linearGradient><linearGradient id="g11" x1="0" y1="0" x2="0" y2="1"><stop offset="0" stop-color="#f1f9fc"/><stop offset="1" stop-color="#f4fbfc"/></linearGradient><linearGradient id="g12" x1="0" y1="0" x2="0" y2="1"><stop offset="0" stop-color="#f1f9fc"/><stop offset="1" stop-color="#f4fbfc"/></linearGradient><linearGradient id="g13" x1="0" y1="0" x2="0" y2="1"><stop offset="0" stop-color="#f1f9fc"/><stop offset="1" stop-color="#f4fbfc"/></linearGradient><linearGradient id="g14" x1="0" y1="0" x2="0" y2="1"><stop offset="0" stop-color="#f1f9fc"/><stop offset="1" stop-color="#f4fbfc"/></linearGradient><linearGradient id="g15" x1="0" y1="0" x2="0" y2="1"><stop offset="0" stop-color="#f1f9fc"/><stop offset="1" stop-color="#f4fbfc"/></linearGradient><linearGradient id="g16" x1="0" y1="0" x2="0" y2="1"><stop offset="0" stop-color="#f1f9fc"/><stop offset="1" stop-color="#f4fbfc"/></linearGradient><linearGradient id="g17" x1="0" y1="0" x2="0" y2="1"><stop offset="0" stop-color="#f1f9fc"/><stop offset="1" stop-color="#f4fbfc"/></linearGradient><linearGradient id="g18" x1="0" y1="0" x2="0" y2="1"><stop offset="0" stop-color="#f1f9fc"/><stop offset="1" stop-color="#f4fbfc"/></linearGradient><linearGradient id="g19" x1="0" y1="0" x2="0" y2="1"><stop offset="0" stop-color="#f1f9fc"/><stop offset="1" stop-color="#f4fbfc"/></linearGradient><linearGradient id="g20" x1="0" y1="0" x2="0" y2="1"><stop offset="0" stop-color="#e7f6f9"/><stop offset="1" stop-color="#eef9fb"/></linearGradient><linearGradient id="g21" x1="0" y1="0" x2="0" y2="1"><stop offset="0" stop-color="#e8f6fa"/><stop offset="1" stop-color="#edf8fb"/></linearGradient><linearGradient id="g22" x1="0" y1="0" x2="0" y2="1"><stop offset="0" stop-color="#eef9fb"/><stop offset="1" stop-color="#f1fafc"/></linearGradient><linearGradient id="g23" x1="0" y1="0" x2="0" y2="1"><stop offset="0" stop-color="#eef9fb"/><stop offset="1" stop-color="#f1fafc"/></linearGradient><linearGradient id="g24" x1="0" y1="0" x2="0" y2="1"><stop offset="0" stop-color="#eef9fb"/><stop offset="1" stop-color="#f1fafc"/></linearGradient><linearGradient id="g25" x1="0" y1="0" x2="0" y2="1"><stop offset="0" stop-color="#e8f6fa"/><stop offset="1" stop-color="#edf8fb"/></linearGradient><linearGradient id="g26" x1="0" y1="0" x2="0" y2="1"><stop offset="0" stop-color="#57ba91"/><stop offset="1" stop-color="#9cd9cb"/></linearGradient><linearGradient id="g27" x1="0" y1="0" x2="0" y2="1"><stop offset="0" stop-color="#d0ede9"/><stop offset="1" stop-color="#dff3f5"/></linearGradient><linearGradient id="g28" x1="0" y1="0" x2="0" y2="1"><stop offset="0" stop-color="#def3f4"/><stop offset="1" stop-color="#e8f6fa"/></linearGradient><linearGradient id="g29" x1="0" y1="0" x2="0" y2="1"><stop offset="0" stop-color="#57ba91"/><stop offset="1" stop-color="#9cd9cb"/></linearGradient><linearGradient id="g30" x1="0" y1="0" x2="0" y2="1"><stop offset="0" stop-color="#bfe7df"/><stop offset="1" stop-color="#d8f0f0"/></linearGradient><linearGradient id="g31" x1="0" y1="0" x2="0" y2="1"><stop offset="0" stop-color="#68c3a5"/><stop offset="1" stop-color="#abdfd3"/></linearGradient><linearGradient id="g32" x1="0" y1="0" x2="0" y2="1"><stop offset="0" stop-color="#48b27f"/><stop offset="1" stop-color="#8fd4c2"/></linearGradient><linearGradient id="g33" x1="0" y1="0" x2="0" y2="1"><stop offset="0" stop-color="#82ceb8"/><stop offset="1" stop-color="#bde6dd"/></linearGradient><linearGradient id="g34" x1="0" y1="0" x2="0" y2="1"><stop offset="0" stop-color="#ebf7fa"/><stop offset="1" stop-color="#eff9fb"/></linearGradient><linearGradient id="g35" x1="0" y1="0" x2="0" y2="1"><stop offset="0" stop-color="#35a062"/><stop offset="1" stop-color="#7acbb3"/></linearGradient><linearGradient id="g36" x1="0" y1="0" x2="0" y2="1"><stop offset="0" stop-color="#68c3a5"/><stop offset="1" stop-color="#abdfd3"/></linearGradient><linearGradient id="g37" x1="0" y1="0" x2="0" y2="1"><stop offset="0" stop-color="#d7f0ee"/><stop offset="1" stop-color="#e4f5f8"/></linearGradient><linearGradient id="g38" x1="0" y1="0" x2="0" y2="1"><stop offset="0" stop-color="#82ceb8"/><stop offset="1" stop-color="#bde6dd"/></linearGradient><linearGradient id="g39" x1="0" y1="0" x2="0" y2="1"><stop offset="0" stop-color="#57ba91"/><stop offset="1" stop-color="#9cd9cb"/></linearGradient><linearGradient id="g40" x1="0" y1="0" x2="0" y2="1"><stop offset="0" stop-color="#d7f0ee"/><stop offset="1" stop-color="#e4f5f8"/></linearGradient><linearGradient id="g41" x1="0" y1="0" x2="0" y2="1"><stop offset="0" stop-color="#63c0a0"/><stop offset="1" stop-color="#c2e8e0"/></linearGradient><linearGradient id="g42" x1="0" y1="0" x2="0" y2="1"><stop offset="0" stop-color="#e7f6f9"/><stop offset="1" stop-color="#eef9fb"/></linearGradient><linearGradient id="g43" x1="0" y1="0" x2="0" y2="1"><stop offset="0" stop-color="#dcf2f2"/><stop offset="1" stop-color="#eaf7fa"/></linearGradient><linearGradient id="g44" x1="0" y1="0" x2="0" y2="1"><stop offset="0" stop-color="#e4f5f8"/><stop offset="1" stop-color="#edf8fb"/></linearGradient><linearGradient id="g45" x1="0" y1="0" x2="0" y2="1"><stop offset="0" stop-color="#edf8fb"/><stop offset="1" stop-color="#f2fafc"/></linearGradient><linearGradient id="g46" x1="0" y1="0" x2="0" y2="1"><stop offset="0" stop-color="#54b88d"/><stop offset="1" stop-color="#b7e4da"/></linearGradient><linearGradient id="g47" x1="0" y1="0" x2="0" y2="1"><stop offset="0" stop-color="#edf8fb"/><stop offset="1" stop-color="#f2fafc"/></linearGradient><linearGradient id="g48" x1="0" y1="0" x2="0" y2="1"><stop offset="0" stop-color="#e7f6f9"/><stop offset="1" stop-color="#eef9fb"/></linearGradient><linearGradient id="g49" x1="0" y1="0" x2="0" y2="1"><stop offset="0" stop-color="#5bbc97"/><stop offset="1" stop-color="#bce6dd"/></linearGradient><linearGradient id="g50" x1="0" y1="0" x2="0" y2="1"><stop offset="0" stop-color="#e7f6f9"/><stop offset="1" stop-color="#eef9fb"/></linearGradient><linearGradient id="g51" x1="0" y1="0" x2="0" y2="1"><stop offset="0" stop-color="#2a9351"/><stop offset="1" stop-color="#81ceb8"/></linearGradient><linearGradient id="g52" x1="0" y1="0" x2="0" y2="1"><stop offset="0" stop-color="#2a9351"/><stop offset="1" stop-color="#76c9af"/></linearGradient><linearGradient id="g53" x1="0" y1="0" x2="0" y2="1"><stop offset="0" stop-color="#49b280"/><stop offset="1" stop-color="#afe1d5"/></linearGradient><linearGradient id="g54" x1="0" y1="0" x2="0" y2="1"><stop offset="0" stop-color="#e7f6f9"/><stop offset="1" stop-color="#eef9fb"/></linearGradient><linearGradient id="g55" x1="0" y1="0" x2="0" y2="1"><stop offset="0" stop-color="#2a9351"/><stop offset="1" stop-color="#5fbe9b"/></linearGradient><linearGradient id="g56" x1="0" y1="0" x2="0" y2="1"><stop offset="0" stop-color="#b6e3d9"/><stop offset="1" stop-color="#ddf2f3"/></linearGradient><linearGradient id="g57" x1="0" y1="0" x2="0" y2="1"><stop offset="0" stop-color="#edf8fb"/><stop offset="1" stop-color="#f2fafc"/></linearGradient><linearGradient id="g58" x1="0" y1="0" x2="0" y2="1"><stop offset="0" stop-color="#b6e3d9"/><stop offset="1" stop-color="#ddf2f3"/></linearGradient><linearGradient id="g59" x1="0" y1="0" x2="0" y2="1"><stop offset="0" stop-color="#93d5c5"/><stop offset="1" stop-color="#d4efec"/></linearGradient><linearGradient id="g60" x1="0" y1="0" x2="0" y2="1"><stop offset="0" stop-color="#e7f6f9"/><stop offset="1" stop-color="#eef9fb"/></linearGradient><linearGradient id="g61" x1="0" y1="0" x2="0" y2="1"><stop offset="0" stop-color="#82ceb8"/><stop offset="1" stop-color="#bde6dd"/></linearGradient><linearGradient id="g62" x1="0" y1="0" x2="0" y2="1"><stop offset="0" stop-color="#57ba91"/><stop offset="1" stop-color="#9cd9cb"/></linearGradient><linearGradient id="g63" x1="0" y1="0" x2="0" y2="1"><stop offset="0" stop-color="#68c3a5"/><stop offset="1" stop-color="#abdfd3"/></linearGradient><linearGradient id="g64" x1="0" y1="0" x2="0" y2="1"><stop offset="0" stop-color="#68c3a5"/><stop offset="1" stop-color="#abdfd3"/></linearGradient><linearGradient id="g65" x1="0" y1="0" x2="0" y2="1"><stop offset="0" stop-color="#68c3a5"/><stop offset="1" stop-color="#abdfd3"/></linearGradient><linearGradient id="g66" x1="0" y1="0" x2="0" y2="1"><stop offset="0" stop-color="#d7f0ee"/><stop offset="1" stop-color="#e4f5f8"/></linearGradient><linearGradient id="g67" x1="0" y1="0" x2="0" y2="1"><stop offset="0" stop-color="#68c3a5"/><stop offset="1" stop-color="#abdfd3"/></linearGradient><linearGradient id="g68" x1="0" y1="0" x2="0" y2="1"><stop offset="0" stop-color="#82ceb8"/><stop offset="1" stop-color="#bde6dd"/></linearGradient><linearGradient id="g69" x1="0" y1="0" x2="0" y2="1"><stop offset="0" stop-color="#bfe7df"/><stop offset="1" stop-color="#d8f0f0"/></linearGradient><linearGradient id="g70" x1="0" y1="0" x2="0" y2="1"><stop offset="0" stop-color="#57ba91"/><stop offset="1" stop-color="#9cd9cb"/></linearGradient><linearGradient id="g71" x1="0" y1="0" x2="0" y2="1"><stop offset="0" stop-color="#e8f6fa"/><stop offset="1" stop-color="#edf8fb"/></linearGradient><linearGradient id="g72" x1="0" y1="0" x2="0" y2="1"><stop offset="0" stop-color="#f1fafc"/><stop offset="1" stop-color="#f3fafc"/></linearGradient><linearGradient id="g73" x1="0" y1="0" x2="0" y2="1"><stop offset="0" stop-color="#eef9fb"/><stop offset="1" stop-color="#f1fafc"/></linearGradient><linearGradient id="g74" x1="0" y1="0" x2="0" y2="1"><stop offset="0" stop-color="#eef9fb"/><stop offset="1" stop-color="#f1fafc"/></linearGradient><linearGradient id="g75" x1="0" y1="0" x2="0" y2="1"><stop offset="0" stop-color="#f1fafc"/><stop offset="1" stop-color="#f3fafc"/></linearGradient><linearGradient id="g76" x1="0" y1="0" x2="0" y2="1"><stop offset="0" stop-color="#82ceb8"/><stop offset="1" stop-color="#bde6dd"/></linearGradient><linearGradient id="g77" x1="0" y1="0" x2="0" y2="1"><stop offset="0" stop-color="#82ceb8"/><stop offset="1" stop-color="#bde6dd"/></linearGradient><linearGradient id="g78" x1="0" y1="0" x2="0" y2="1"><stop offset="0" stop-color="#48b27f"/><stop offset="1" stop-color="#8fd4c2"/></linearGradient><linearGradient id="g79" x1="0" y1="0" x2="0" y2="1"><stop offset="0" stop-color="#9fdacc"/><stop offset="1" stop-color="#ceede8"/></linearGradient><linearGradient id="g80" x1="0" y1="0" x2="0" y2="1"><stop offset="0" stop-color="#68c3a5"/><stop offset="1" stop-color="#abdfd3"/></linearGradient><linearGradient id="g81" x1="0" y1="0" x2="0" y2="1"><stop offset="0" stop-color="#b6e3d9"/><stop offset="1" stop-color="#ddf2f3"/></linearGradient><linearGradient id="g82" x1="0" y1="0" x2="0" y2="1"><stop offset="0" stop-color="#dcf2f2"/><stop offset="1" stop-color="#eaf7fa"/></linearGradient><linearGradient id="g83" x1="0" y1="0" x2="0" y2="1"><stop offset="0" stop-color="#d4efec"/><stop offset="1" stop-color="#e7f6f9"/></linearGradient><linearGradient id="g84" x1="0" y1="0" x2="0" y2="1"><stop offset="0" stop-color="#dcf2f2"/><stop offset="1" stop-color="#eaf7fa"/></linearGradient><linearGradient id="g85" x1="0" y1="0" x2="0" y2="1"><stop offset="0" stop-color="#e7f6f9"/><stop offset="1" stop-color="#eef9fb"/></linearGradient><linearGradient id="g86" x1="0" y1="0" x2="0" y2="1"><stop offset="0" stop-color="#d4efec"/><stop offset="1" stop-color="#e7f6f9"/></linearGradient><linearGradient id="g87" x1="0" y1="0" x2="0" y2="1"><stop offset="0" stop-color="#e7f6f9"/><stop offset="1" stop-color="#eef9fb"/></linearGradient><linearGradient id="g88" x1="0" y1="0" x2="0" y2="1"><stop offset="0" stop-color="#e7f6f9"/><stop offset="1" stop-color="#eef9fb"/></linearGradient><linearGradient id="g89" x1="0" y1="0" x2="0" y2="1"><stop offset="0" stop-color="#d4efec"/><stop offset="1" stop-color="#e7f6f9"/></linearGradient><linearGradient id="g90" x1="0" y1="0" x2="0" y2="1"><stop offset="0" stop-color="#b6e3d9"/><stop offset="1" stop-color="#ddf2f3"/></linearGradient><linearGradient id="g91" x1="0" y1="0" x2="0" y2="1"><stop offset="0" stop-color="#d4efec"/><stop offset="1" stop-color="#e7f6f9"/></linearGradient><linearGradient id="g92" x1="0" y1="0" x2="0" y2="1"><stop offset="0" stop-color="#e7f6f9"/><stop offset="1" stop-color="#eef9fb"/></linearGradient><linearGradient id="g93" x1="0" y1="0" x2="0" y2="1"><stop offset="0" stop-color="#e7f6f9"/><stop offset="1" stop-color="#eef9fb"/></linearGradient><linearGradient id="g94" x1="0" y1="0" x2="0" y2="1"><stop offset="0" stop-color="#e7f6f9"/><stop offset="1" stop-color="#eef9fb"/></linearGradient><linearGradient id="g95" x1="0" y1="0" x2="0" y2="1"><stop offset="0" stop-color="#b6e3d9"/><stop offset="1" stop-color="#ddf2f3"/></linearGradient><linearGradient id="g96" x1="0" y1="0" x2="0" y2="1"><stop offset="0" stop-color="#2a9351"/><stop offset="1" stop-color="#76c9af"/></linearGradient><linearGradient id="g97" x1="0" y1="0" x2="0" y2="1"><stop offset="0" stop-color="#e7f6f9"/><stop offset="1" stop-color="#eef9fb"/></linearGradient><linearGradient id="g98" x1="0" y1="0" x2="0" y2="1"><stop offset="0" stop-color="#2a9351"/><stop offset="1" stop-color="#5fbe9b"/></linearGradient><linearGradient id="g99" x1="0" y1="0" x2="0" y2="1"><stop offset="0" stop-color="#49b280"/><stop offset="1" stop-color="#afe1d5"/></linearGradient><linearGradient id="g100" x1="0" y1="0" x2="0" y2="1"><stop offset="0" stop-color="#5bbc97"/><stop offset="1" stop-color="#bce6dd"/></linearGradient><linearGradient id="g101" x1="0" y1="0" x2="0" y2="1"><stop offset="0" stop-color="#9fdacc"/><stop offset="1" stop-color="#ceede8"/></linearGradient><linearGradient id="g102" x1="0" y1="0" x2="0" y2="1"><stop offset="0" stop-color="#bfe7df"/><stop offset="1" stop-color="#d8f0f0"/></linearGradient><linearGradient id="g103" x1="0" y1="0" x2="0" y2="1"><stop offset="0" stop-color="#bfe7df"/><stop offset="1" stop-color="#d8f0f0"/></linearGradient><linearGradient id="g104" x1="0" y1="0" x2="0" y2="1"><stop offset="0" stop-color="#bfe7df"/><stop offset="1" stop-color="#d8f0f0"/></linearGradient><linearGradient id="g105" x1="0" y1="0" x2="0" y2="1"><stop offset="0" stop-color="#d7f0ee"/><stop offset="1" stop-color="#e4f5f8"/></linearGradient><linearGradient id="g106" x1="0" y1="0" x2="0" y2="1"><stop offset="0" stop-color="#68c3a5"/><stop offset="1" stop-color="#abdfd3"/></linearGradient><linearGradient id="g107" x1="0" y1="0" x2="0" y2="1"><stop offset="0" stop-color="#bfe7df"/><stop offset="1" stop-color="#d8f0f0"/></linearGradient><linearGradient id="g108" x1="0" y1="0" x2="0" y2="1"><stop offset="0" stop-color="#d7f0ee"/><stop offset="1" stop-color="#e4f5f8"/></linearGradient><linearGradient id="g109" x1="0" y1="0" x2="0" y2="1"><stop offset="0" stop-color="#57ba91"/><stop offset="1" stop-color="#9cd9cb"/></linearGradient><linearGradient id="g110" x1="0" y1="0" x2="0" y2="1"><stop offset="0" stop-color="#82ceb8"/><stop offset="1" stop-color="#bde6dd"/></linearGradient><linearGradient id="g111" x1="0" y1="0" x2="0" y2="1"><stop offset="0" stop-color="#57ba91"/><stop offset="1" stop-color="#9cd9cb"/></linearGradient><linearGradient id="g112" x1="0" y1="0" x2="0" y2="1"><stop offset="0" stop-color="#57ba91"/><stop offset="1" stop-color="#9cd9cb"/></linearGradient><linearGradient id="g113" x1="0" y1="0" x2="0" y2="1"><stop offset="0" stop-color="#9fdacc"/><stop offset="1" stop-color="#ceede8"/></linearGradient><linearGradient id="g114" x1="0" y1="0" x2="0" y2="1"><stop offset="0" stop-color="#e8f6fa"/><stop offset="1" stop-color="#edf8fb"/></linearGradient><linearGradient id="g115" x1="0" y1="0" x2="0" y2="1"><stop offset="0" stop-color="#48b27f"/><stop offset="1" stop-color="#8fd4c2"/></linearGradient><linearGradient id="g116" x1="0" y1="0" x2="0" y2="1"><stop offset="0" stop-color="#f4fbfc"/><stop offset="1" stop-color="#f5fbfd"/></linearGradient><linearGradient id="g117" x1="0" y1="0" x2="0" y2="1"><stop offset="0" stop-color="#f4fbfc"/><stop offset="1" stop-color="#f5fbfd"/></linearGradient><linearGradient id="g118" x1="0" y1="0" x2="0" y2="1"><stop offset="0" stop-color="#f4fbfc"/><stop offset="1" stop-color="#f5fbfd"/></linearGradient><linearGradient id="g119" x1="0" y1="0" x2="0" y2="1"><stop offset="0" stop-color="#f4fbfc"/><stop offset="1" stop-color="#f5fbfd"/></linearGradient><linearGradient id="g120" x1="0" y1="0" x2="0" y2="1"><stop offset="0" stop-color="#f4fbfc"/><stop offset="1" stop-color="#f5fbfd"/></linearGradient><linearGradient id="g121" x1="0" y1="0" x2="0" y2="1"><stop offset="0" stop-color="#2a9351"/><stop offset="1" stop-color="#5abc95"/></linearGradient><linearGradient id="g122" x1="0" y1="0" x2="0" y2="1"><stop offset="0" stop-color="#1d8641"/><stop offset="1" stop-color="#4bb483"/></linearGradient><linearGradient id="g123" x1="0" y1="0" x2="0" y2="1"><stop offset="0" stop-color="#36a164"/><stop offset="1" stop-color="#6ac4a7"/></linearGradient><linearGradient id="g124" x1="0" y1="0" x2="0" y2="1"><stop offset="0" stop-color="#1d8641"/><stop offset="1" stop-color="#4bb483"/></linearGradient><linearGradient id="g125" x1="0" y1="0" x2="0" y2="1"><stop offset="0" stop-color="#40ad74"/><stop offset="1" stop-color="#7acbb3"/></linearGradient><linearGradient id="g126" x1="0" y1="0" x2="0" y2="1"><stop offset="0" stop-color="#2d9655"/><stop offset="1" stop-color="#5dbd99"/></linearGradient><linearGradient id="g127" x1="0" y1="0" x2="0" y2="1"><stop offset="0" stop-color="#2d9655"/><stop offset="1" stop-color="#5dbd99"/></linearGradient><linearGradient id="g128" x1="0" y1="0" x2="0" y2="1"><stop offset="0" stop-color="#319c5d"/><stop offset="1" stop-color="#63c0a0"/></linearGradient><linearGradient id="g129" x1="0" y1="0" x2="0" y2="1"><stop offset="0" stop-color="#28914d"/><stop offset="1" stop-color="#57ba92"/></linearGradient><linearGradient id="g130" x1="0" y1="0" x2="0" y2="1"><stop offset="0" stop-color="#28914d"/><stop offset="1" stop-color="#57ba92"/></linearGradient><linearGradient id="g131" x1="0" y1="0" x2="0" y2="1"><stop offset="0" stop-color="#2d9655"/><stop offset="1" stop-color="#5dbd99"/></linearGradient><linearGradient id="g132" x1="0" y1="0" x2="0" y2="1"><stop offset="0" stop-color="#1d8641"/><stop offset="1" stop-color="#4bb483"/></linearGradient><linearGradient id="g133" x1="0" y1="0" x2="0" y2="1"><stop offset="0" stop-color="#319c5d"/><stop offset="1" stop-color="#63c0a0"/></linearGradient><linearGradient id="g134" x1="0" y1="0" x2="0" y2="1"><stop offset="0" stop-color="#40ad74"/><stop offset="1" stop-color="#7acbb3"/></linearGradient><linearGradient id="g135" x1="0" y1="0" x2="0" y2="1"><stop offset="0" stop-color="#127d39"/><stop offset="1" stop-color="#40ad74"/></linearGradient><linearGradient id="g136" x1="0" y1="0" x2="0" y2="1"><stop offset="0" stop-color="#28914d"/><stop offset="1" stop-color="#57ba92"/></linearGradient><linearGradient id="g137" x1="0" y1="0" x2="0" y2="1"><stop offset="0" stop-color="#319c5d"/><stop offset="1" stop-color="#63c0a0"/></linearGradient><linearGradient id="g138" x1="0" y1="0" x2="0" y2="1"><stop offset="0" stop-color="#1d8641"/><stop offset="1" stop-color="#4bb483"/></linearGradient><linearGradient id="g139" x1="0" y1="0" x2="0" y2="1"><stop offset="0" stop-color="#28914d"/><stop offset="1" stop-color="#57ba92"/></linearGradient><linearGradient id="g140" x1="0" y1="0" x2="0" y2="1"><stop offset="0" stop-color="#319c5d"/><stop offset="1" stop-color="#63c0a0"/></linearGradient></defs><rect x="287.6" y="996.5" width="28.36" height="21.9" fill="url(#g1)"/><rect x="315.8" y="996.5" width="28.36" height="21.9" fill="url(#g2)"/><rect x="344.1" y="996.5" width="28.36" height="21.9" fill="url(#g3)"/><rect x="372.3" y="996.5" width="28.36" height="21.9" fill="url(#g4)"/><rect x="400.6" y="996.5" width="28.36" height="21.9" fill="url(#g5)"/><rect x="428.9" y="996.5" width="28.36" height="21.9" fill="url(#g6)"/><rect x="457.1" y="996.5" width="28.36" height="21.9" fill="url(#g7)"/><rect x="485.4" y="996.5" width="28.36" height="21.9" fill="url(#g8)"/><rect x="513.7" y="996.5" width="28.36" height="21.9" fill="url(#g9)"/><rect x="541.9" y="996.5" width="28.36" height="21.9" fill="url(#g10)"/><rect x="570.2" y="996.5" width="28.36" height="21.9" fill="url(#g11)"/><rect x="598.5" y="996.5" width="28.36" height="21.9" fill="url(#g12)"/><rect x="626.7" y="996.5" width="28.36" height="21.9" fill="url(#g13)"/><rect x="655.0" y="996.5" width="28.36" height="21.9" fill="url(#g14)"/><rect x="683.3" y="996.5" width="28.36" height="21.9" fill="url(#g15)"/><rect x="711.5" y="996.5" width="28.36" height="21.9" fill="url(#g16)"/><rect x="739.8" y="996.5" width="28.36" height="21.9" fill="url(#g17)"/><rect x="768.1" y="996.5" width="28.36" height="21.9" fill="url(#g18)"/><rect x="796.3" y="996.5" width="28.36" height="21.9" fill="url(#g19)"/><rect x="824.6" y="996.5" width="28.36" height="21.9" fill="url(#g20)"/><rect x="287.6" y="996.5" width="565.3" height="21.9" fill="url(#stk)" opacity="1"/><rect x="287.6" y="1018.4" width="28.36" height="193.4" fill="url(#g21)"/><rect x="315.8" y="1018.4" width="28.36" height="193.4" fill="url(#g22)"/><rect x="344.1" y="1018.4" width="28.36" height="193.4" fill="url(#g23)"/><rect x="372.3" y="1018.4" width="28.36" height="193.4" fill="url(#g24)"/><rect x="400.6" y="1018.4" width="28.36" height="193.4" fill="url(#g25)"/><rect x="428.9" y="1018.4" width="28.36" height="193.4" fill="url(#g26)"/><rect x="457.1" y="1018.4" width="28.36" height="193.4" fill="url(#g27)"/><rect x="485.4" y="1018.4" width="28.36" height="193.4" fill="url(#g28)"/><rect x="513.7" y="1018.4" width="28.36" height="193.4" fill="url(#g29)"/><rect x="541.9" y="1018.4" width="28.36" height="193.4" fill="url(#g30)"/><rect x="570.2" y="1018.4" width="28.36" height="193.4" fill="url(#g31)"/><rect x="598.5" y="1018.4" width="28.36" height="193.4" fill="url(#g32)"/><rect x="626.7" y="1018.4" width="28.36" height="193.4" fill="url(#g33)"/><rect x="655.0" y="1018.4" width="28.36" height="193.4" fill="url(#g34)"/><rect x="683.3" y="1018.4" width="28.36" height="193.4" fill="url(#g35)"/><rect x="711.5" y="1018.4" width="28.36" height="193.4" fill="url(#g36)"/><rect x="739.8" y="1018.4" width="28.36" height="193.4" fill="url(#g37)"/><rect x="768.1" y="1018.4" width="28.36" height="193.4" fill="url(#g38)"/><rect x="796.3" y="1018.4" width="28.36" height="193.4" fill="url(#g39)"/><rect x="824.6" y="1018.4" width="28.36" height="193.4" fill="url(#g40)"/><rect x="287.6" y="1018.4" width="565.3" height="193.4" fill="url(#stk)" opacity="1"/><rect x="287.6" y="1211.8" width="28.36" height="45.2" fill="url(#g41)"/><rect x="315.8" y="1211.8" width="28.36" height="45.2" fill="url(#g42)"/><rect x="344.1" y="1211.8" width="28.36" height="45.2" fill="url(#g43)"/><rect x="372.3" y="1211.8" width="28.36" height="45.2" fill="url(#g44)"/><rect x="400.6" y="1211.8" width="28.36" height="45.2" fill="url(#g45)"/><rect x="428.9" y="1211.8" width="28.36" height="45.2" fill="url(#g46)"/><rect x="457.1" y="1211.8" width="28.36" height="45.2" fill="url(#g47)"/><rect x="485.4" y="1211.8" width="28.36" height="45.2" fill="url(#g48)"/><rect x="513.7" y="1211.8" width="28.36" height="45.2" fill="url(#g49)"/><rect x="541.9" y="1211.8" width="28.36" height="45.2" fill="url(#g50)"/><rect x="570.2" y="1211.8" width="28.36" height="45.2" fill="url(#g51)"/><rect x="598.5" y="1211.8" width="28.36" height="45.2" fill="url(#g52)"/><rect x="626.7" y="1211.8" width="28.36" height="45.2" fill="url(#g53)"/><rect x="655.0" y="1211.8" width="28.36" height="45.2" fill="url(#g54)"/><rect x="683.3" y="1211.8" width="28.36" height="45.2" fill="url(#g55)"/><rect x="711.5" y="1211.8" width="28.36" height="45.2" fill="url(#g56)"/><rect x="739.8" y="1211.8" width="28.36" height="45.2" fill="url(#g57)"/><rect x="768.1" y="1211.8" width="28.36" height="45.2" fill="url(#g58)"/><rect x="796.3" y="1211.8" width="28.36" height="45.2" fill="url(#g59)"/><rect x="824.6" y="1211.8" width="28.36" height="45.2" fill="url(#g60)"/><rect x="287.6" y="1211.8" width="565.3" height="45.2" fill="url(#stk)" opacity="1"/><rect x="287.6" y="1257" width="28.36" height="217.3" fill="url(#g61)"/><rect x="315.8" y="1257" width="28.36" height="217.3" fill="url(#g62)"/><rect x="344.1" y="1257" width="28.36" height="217.3" fill="url(#g63)"/><rect x="372.3" y="1257" width="28.36" height="217.3" fill="url(#g64)"/><rect x="400.6" y="1257" width="28.36" height="217.3" fill="url(#g65)"/><rect x="428.9" y="1257" width="28.36" height="217.3" fill="url(#g66)"/><rect x="457.1" y="1257" width="28.36" height="217.3" fill="url(#g67)"/><rect x="485.4" y="1257" width="28.36" height="217.3" fill="url(#g68)"/><rect x="513.7" y="1257" width="28.36" height="217.3" fill="url(#g69)"/><rect x="541.9" y="1257" width="28.36" height="217.3" fill="url(#g70)"/><rect x="570.2" y="1257" width="28.36" height="217.3" fill="url(#g71)"/><rect x="598.5" y="1257" width="28.36" height="217.3" fill="url(#g72)"/><rect x="626.7" y="1257" width="28.36" height="217.3" fill="url(#g73)"/><rect x="655.0" y="1257" width="28.36" height="217.3" fill="url(#g74)"/><rect x="683.3" y="1257" width="28.36" height="217.3" fill="url(#g75)"/><rect x="711.5" y="1257" width="28.36" height="217.3" fill="url(#g76)"/><rect x="739.8" y="1257" width="28.36" height="217.3" fill="url(#g77)"/><rect x="768.1" y="1257" width="28.36" height="217.3" fill="url(#g78)"/><rect x="796.3" y="1257" width="28.36" height="217.3" fill="url(#g79)"/><rect x="824.6" y="1257" width="28.36" height="217.3" fill="url(#g80)"/><rect x="287.6" y="1257" width="565.3" height="217.3" fill="url(#stk)" opacity="1"/><rect x="287.6" y="1474.3" width="28.36" height="19.7" fill="url(#g81)"/><rect x="315.8" y="1474.3" width="28.36" height="19.7" fill="url(#g82)"/><rect x="344.1" y="1474.3" width="28.36" height="19.7" fill="url(#g83)"/><rect x="372.3" y="1474.3" width="28.36" height="19.7" fill="url(#g84)"/><rect x="400.6" y="1474.3" width="28.36" height="19.7" fill="url(#g85)"/><rect x="428.9" y="1474.3" width="28.36" height="19.7" fill="url(#g86)"/><rect x="457.1" y="1474.3" width="28.36" height="19.7" fill="url(#g87)"/><rect x="485.4" y="1474.3" width="28.36" height="19.7" fill="url(#g88)"/><rect x="513.7" y="1474.3" width="28.36" height="19.7" fill="url(#g89)"/><rect x="541.9" y="1474.3" width="28.36" height="19.7" fill="url(#g90)"/><rect x="570.2" y="1474.3" width="28.36" height="19.7" fill="url(#g91)"/><rect x="598.5" y="1474.3" width="28.36" height="19.7" fill="url(#g92)"/><rect x="626.7" y="1474.3" width="28.36" height="19.7" fill="url(#g93)"/><rect x="655.0" y="1474.3" width="28.36" height="19.7" fill="url(#g94)"/><rect x="683.3" y="1474.3" width="28.36" height="19.7" fill="url(#g95)"/><rect x="711.5" y="1474.3" width="28.36" height="19.7" fill="url(#g96)"/><rect x="739.8" y="1474.3" width="28.36" height="19.7" fill="url(#g97)"/><rect x="768.1" y="1474.3" width="28.36" height="19.7" fill="url(#g98)"/><rect x="796.3" y="1474.3" width="28.36" height="19.7" fill="url(#g99)"/><rect x="824.6" y="1474.3" width="28.36" height="19.7" fill="url(#g100)"/><rect x="287.6" y="1474.3" width="565.3" height="19.7" fill="url(#stk)" opacity="1"/><rect x="287.6" y="1494" width="28.36" height="65.4" fill="url(#g101)"/><rect x="315.8" y="1494" width="28.36" height="65.4" fill="url(#g102)"/><rect x="344.1" y="1494" width="28.36" height="65.4" fill="url(#g103)"/><rect x="372.3" y="1494" width="28.36" height="65.4" fill="url(#g104)"/><rect x="400.6" y="1494" width="28.36" height="65.4" fill="url(#g105)"/><rect x="428.9" y="1494" width="28.36" height="65.4" fill="url(#g106)"/><rect x="457.1" y="1494" width="28.36" height="65.4" fill="url(#g107)"/><rect x="485.4" y="1494" width="28.36" height="65.4" fill="url(#g108)"/><rect x="513.7" y="1494" width="28.36" height="65.4" fill="url(#g109)"/><rect x="541.9" y="1494" width="28.36" height="65.4" fill="url(#g110)"/><rect x="570.2" y="1494" width="28.36" height="65.4" fill="url(#g111)"/><rect x="598.5" y="1494" width="28.36" height="65.4" fill="url(#g112)"/><rect x="626.7" y="1494" width="28.36" height="65.4" fill="url(#g113)"/><rect x="655.0" y="1494" width="28.36" height="65.4" fill="url(#g114)"/><rect x="683.3" y="1494" width="28.36" height="65.4" fill="url(#g115)"/><rect x="711.5" y="1494" width="28.36" height="65.4" fill="url(#g116)"/><rect x="739.8" y="1494" width="28.36" height="65.4" fill="url(#g117)"/><rect x="768.1" y="1494" width="28.36" height="65.4" fill="url(#g118)"/><rect x="796.3" y="1494" width="28.36" height="65.4" fill="url(#g119)"/><rect x="824.6" y="1494" width="28.36" height="65.4" fill="url(#g120)"/><rect x="287.6" y="1494" width="565.3" height="65.4" fill="url(#stk)" opacity="1"/><rect x="287.6" y="1563.6" width="28.36" height="140.9" fill="url(#g121)"/><rect x="315.8" y="1563.6" width="28.36" height="140.9" fill="url(#g122)"/><rect x="344.1" y="1563.6" width="28.36" height="140.9" fill="url(#g123)"/><rect x="372.3" y="1563.6" width="28.36" height="140.9" fill="url(#g124)"/><rect x="400.6" y="1563.6" width="28.36" height="140.9" fill="url(#g125)"/><rect x="428.9" y="1563.6" width="28.36" height="140.9" fill="url(#g126)"/><rect x="457.1" y="1563.6" width="28.36" height="140.9" fill="url(#g127)"/><rect x="485.4" y="1563.6" width="28.36" height="140.9" fill="url(#g128)"/><rect x="513.7" y="1563.6" width="28.36" height="140.9" fill="url(#g129)"/><rect x="541.9" y="1563.6" width="28.36" height="140.9" fill="url(#g130)"/><rect x="570.2" y="1563.6" width="28.36" height="140.9" fill="url(#g131)"/><rect x="598.5" y="1563.6" width="28.36" height="140.9" fill="url(#g132)"/><rect x="626.7" y="1563.6" width="28.36" height="140.9" fill="url(#g133)"/><rect x="655.0" y="1563.6" width="28.36" height="140.9" fill="url(#g134)"/><rect x="683.3" y="1563.6" width="28.36" height="140.9" fill="url(#g135)"/><rect x="711.5" y="1563.6" width="28.36" height="140.9" fill="url(#g136)"/><rect x="739.8" y="1563.6" width="28.36" height="140.9" fill="url(#g137)"/><rect x="768.1" y="1563.6" width="28.36" height="140.9" fill="url(#g138)"/><rect x="796.3" y="1563.6" width="28.36" height="140.9" fill="url(#g139)"/><rect x="824.6" y="1563.6" width="28.36" height="140.9" fill="url(#g140)"/><rect x="287.6" y="1563.6" width="565.3" height="140.9" fill="url(#stk)" opacity="0.3"/><polygon points="228.9,996.5 256.7,996.5 256.7,1559.4 173.8,1559.4 173.8,1505" fill="#b4c6e7"/><polygon points="173.8,1564.6 283.9,1564.6 283.9,1705.6 229.1,1705.6 173.8,1619" fill="#d9d9d9"/><rect x="256.7" y="996.5" width="27.2" height="215.3" fill="#e41a1c"/><rect x="256.7" y="1211.8" width="27.2" height="3.2" fill="#377eb8"/><rect x="256.7" y="1215" width="27.2" height="259.3" fill="#4daf4a"/><rect x="256.7" y="1474.3" width="27.2" height="85.1" fill="#984ea3"/><text x="246" y="1311.5" font-size="20.8" text-anchor="middle" transform="rotate(-90 246 1311.5)">Histotype-specific</text><text x="246" y="1183.5" font-size="20.8" text-anchor="middle" transform="rotate(-90 246 1183.5)">REs</text><text x="278.3" y="1101.7" font-size="20.8" text-anchor="middle" fill="#fff" transform="rotate(-90 278.3 1101.7)"><tspan font-style="italic">n</tspan> = 5401</text><text x="278.3" y="1346.5" font-size="20.8" text-anchor="middle" fill="#fff" transform="rotate(-90 278.3 1346.5)"><tspan font-style="italic">n</tspan> = 6583</text><text x="278.3" y="1517" font-size="20.8" text-anchor="middle" fill="#fff" transform="rotate(-90 278.3 1517)"><tspan font-style="italic">n</tspan> = 2134</text><text x="245.6" y="1636" font-size="20.8" text-anchor="middle" transform="rotate(-90 245.6 1636)">Common</text><text x="279.5" y="1631.7" font-size="20.8" text-anchor="middle" transform="rotate(-90 279.5 1631.7)"><tspan font-style="italic">n</tspan> = 12954</text><text x="118.8" y="1034" font-size="20.8" text-anchor="middle">Normalized</text><text x="118.8" y="1059.5" font-size="20.8" text-anchor="middle">read count</text><defs><linearGradient id="bugn" x1="0" y1="0" x2="0" y2="1"><stop offset="0.000" stop-color="#f7fcfd"/><stop offset="0.125" stop-color="#e5f5f9"/><stop offset="0.250" stop-color="#ccece6"/><stop offset="0.375" stop-color="#99d8c9"/><stop offset="0.500" stop-color="#66c2a4"/><stop offset="0.625" stop-color="#41ae76"/><stop offset="0.750" stop-color="#238b45"/><stop offset="0.875" stop-color="#006d2c"/><stop offset="1.000" stop-color="#00441b"/></linearGradient></defs><rect x="86.9" y="1078.6" width="64.9" height="267.6" fill="url(#bugn)" stroke="#888" stroke-width="1"/><line x1="151.8" y1="1078.6" x2="154.8" y2="1078.6" stroke="#555" stroke-width="1.2"/><text x="162" y="1086" font-size="20.8">0</text><line x1="151.8" y1="1117" x2="154.8" y2="1117" stroke="#555" stroke-width="1.2"/><text x="162" y="1124.4" font-size="20.8">2</text><line x1="151.8" y1="1155.4" x2="154.8" y2="1155.4" stroke="#555" stroke-width="1.2"/><text x="162" y="1162.8" font-size="20.8">4</text><line x1="151.8" y1="1193.8" x2="154.8" y2="1193.8" stroke="#555" stroke-width="1.2"/><text x="162" y="1201.2" font-size="20.8">6</text><line x1="151.8" y1="1232.2" x2="154.8" y2="1232.2" stroke="#555" stroke-width="1.2"/><text x="162" y="1239.6" font-size="20.8">8</text><line x1="151.8" y1="1270.6" x2="154.8" y2="1270.6" stroke="#555" stroke-width="1.2"/><text x="162" y="1278" font-size="20.8">10</text><line x1="151.8" y1="1309" x2="154.8" y2="1309" stroke="#555" stroke-width="1.2"/><text x="162" y="1316.4" font-size="20.8">12</text><text x="900" y="907.5" font-size="23.2">Stage</text><rect x="949" y="919" width="27.2" height="28.4" fill="#8dd3c7" stroke="#222" stroke-width="1.2"/><text x="900" y="939.4" font-size="23.2">IA</text><rect x="949" y="947.4" width="27.2" height="28.4" fill="#ffffb3" stroke="#222" stroke-width="1.2"/><text x="900" y="967.8" font-size="23.2">IB</text><rect x="949" y="975.8" width="27.2" height="28.4" fill="#bebada" stroke="#222" stroke-width="1.2"/><text x="900" y="996.2" font-size="23.2">IC</text><rect x="949" y="1004.2" width="27.2" height="28.4" fill="#fb8072" stroke="#222" stroke-width="1.2"/><text x="900" y="1024.6" font-size="23.2">IIA</text><rect x="949" y="1032.6" width="27.2" height="28.4" fill="#80b1d3" stroke="#222" stroke-width="1.2"/><text x="900" y="1053" font-size="23.2">IIIB</text><rect x="949" y="1061" width="27.2" height="28.4" fill="#fdb462" stroke="#222" stroke-width="1.2"/><text x="900" y="1081.4" font-size="23.2">IIIC</text><rect x="949" y="1089.4" width="27.2" height="28.4" fill="#b3de69" stroke="#222" stroke-width="1.2"/><text x="900" y="1109.8" font-size="23.2">IV</text><text x="900" y="1211.7" font-size="23.2">Grade</text><rect x="947" y="1224.6" width="27.5" height="28.2" fill="#1b9e77" stroke="#222" stroke-width="1.2"/><text x="900" y="1244.1" font-size="23.2">1</text><rect x="947" y="1252.8" width="27.5" height="28.2" fill="#d95f02" stroke="#222" stroke-width="1.2"/><text x="900" y="1272.3" font-size="23.2">2</text><rect x="947" y="1281" width="27.5" height="28.2" fill="#7570b3" stroke="#222" stroke-width="1.2"/><text x="900" y="1300.5" font-size="23.2">3</text><rect x="155.9" y="1508.7" width="12.7" height="24.3" fill="#00bfc4"/><rect x="38.9" y="1533.9" width="129.7" height="24" fill="#f8766d"/><rect x="38.9" y="1563.8" width="129.7" height="24" fill="#00bfc4"/><rect x="139.9" y="1587.8" width="28.7" height="25.2" fill="#f8766d"/><text x="116.8" y="1529.2" font-size="20.8" text-anchor="end">1092</text><text x="116.8" y="1552.5" font-size="20.8" text-anchor="end">13046</text><text x="116.8" y="1584" font-size="20.8" text-anchor="end">10711</text><text x="116.8" y="1606" font-size="20.8" text-anchor="end">2243</text><rect x="33" y="1643" width="27.8" height="27.7" fill="#00bfc4"/><rect x="33" y="1674.7" width="27.8" height="27.3" fill="#f8766d"/><text x="71.3" y="1665.6" font-size="20.8">Promoters</text><text x="71.3" y="1696.4" font-size="20.8">Enhancers</text><text x="1113" y="30.6" font-size="41" font-weight="bold">d</text><text x="1297.7" y="38.2" font-size="20.8" text-anchor="middle">CCOC-specific REs</text><text x="1503" y="38.2" font-size="20.8" text-anchor="middle">EnOC-specific REs</text><text x="1708" y="38.2" font-size="20.8" text-anchor="middle">HGSOC-specific REs</text><text x="1912" y="38.2" font-size="20.8" text-anchor="middle">MOC-specific REs</text><line x1="1211.4" y1="48" x2="1211.4" y2="231.9" stroke="#000" stroke-width="3.2"/><line x1="1209.8" y1="230.3" x2="1374.4" y2="230.3" stroke="#000" stroke-width="3.2"/><line x1="1205.4" y1="84.2" x2="1211.4" y2="84.2" stroke="#000" stroke-width="2.5"/><text x="1195.9" y="91.6" font-size="20.8" text-anchor="end">0.5</text><line x1="1205.4" y1="139.2" x2="1211.4" y2="139.2" stroke="#000" stroke-width="2.5"/><text x="1195.9" y="146.6" font-size="20.8" text-anchor="end">0.0</text><line x1="1205.4" y1="194.2" x2="1211.4" y2="194.2" stroke="#000" stroke-width="2.5"/><text x="1195.9" y="201.6" font-size="20.8" text-anchor="end">−0.5</text><line x1="1415.5" y1="48" x2="1415.5" y2="231.9" stroke="#000" stroke-width="3.2"/><line x1="1413.9" y1="230.3" x2="1578.5" y2="230.3" stroke="#000" stroke-width="3.2"/><line x1="1620.5" y1="48" x2="1620.5" y2="231.9" stroke="#000" stroke-width="3.2"/><line x1="1618.9" y1="230.3" x2="1783.5" y2="230.3" stroke="#000" stroke-width="3.2"/><line x1="1825.3" y1="48" x2="1825.3" y2="231.9" stroke="#000" stroke-width="3.2"/><line x1="1823.7" y1="230.3" x2="1988.3" y2="230.3" stroke="#000" stroke-width="3.2"/><line x1="1211.4" y1="244.6" x2="1211.4" y2="428.4" stroke="#000" stroke-width="3.2"/><line x1="1209.8" y1="426.8" x2="1374.4" y2="426.8" stroke="#000" stroke-width="3.2"/><line x1="1205.4" y1="280.4" x2="1211.4" y2="280.4" stroke="#000" stroke-width="2.5"/><text x="1195.9" y="287.8" font-size="20.8" text-anchor="end">0.5</text><line x1="1205.4" y1="335.7" x2="1211.4" y2="335.7" stroke="#000" stroke-width="2.5"/><text x="1195.9" y="343.1" font-size="20.8" text-anchor="end">0.0</text><line x1="1205.4" y1="390.9" x2="1211.4" y2="390.9" stroke="#000" stroke-width="2.5"/><text x="1195.9" y="398.3" font-size="20.8" text-anchor="end">−0.5</text><line x1="1218.6" y1="426.8" x2="1218.6" y2="432.8" stroke="#000" stroke-width="2.5"/><text x="1218.6" y="458.5" font-size="20.8" text-anchor="middle">−500</text><line x1="1292.9" y1="426.8" x2="1292.9" y2="432.8" stroke="#000" stroke-width="2.5"/><text x="1292.9" y="458.5" font-size="20.8" text-anchor="middle">0</text><line x1="1367.2" y1="426.8" x2="1367.2" y2="432.8" stroke="#000" stroke-width="2.5"/><text x="1367.2" y="458.5" font-size="20.8" text-anchor="middle">500</text><line x1="1415.5" y1="244.6" x2="1415.5" y2="428.4" stroke="#000" stroke-width="3.2"/><line x1="1413.9" y1="426.8" x2="1578.5" y2="426.8" stroke="#000" stroke-width="3.2"/><line x1="1422.7" y1="426.8" x2="1422.7" y2="432.8" stroke="#000" stroke-width="2.5"/><text x="1422.7" y="458.5" font-size="20.8" text-anchor="middle">−500</text><line x1="1497" y1="426.8" x2="1497" y2="432.8" stroke="#000" stroke-width="2.5"/><text x="1497" y="458.5" font-size="20.8" text-anchor="middle">0</text><line x1="1571.3" y1="426.8" x2="1571.3" y2="432.8" stroke="#000" stroke-width="2.5"/><text x="1571.3" y="458.5" font-size="20.8" text-anchor="middle">500</text><line x1="1620.5" y1="244.6" x2="1620.5" y2="428.4" stroke="#000" stroke-width="3.2"/><line x1="1618.9" y1="426.8" x2="1783.5" y2="426.8" stroke="#000" stroke-width="3.2"/><line x1="1627.7" y1="426.8" x2="1627.7" y2="432.8" stroke="#000" stroke-width="2.5"/><text x="1627.7" y="458.5" font-size="20.8" text-anchor="middle">−500</text><line x1="1702" y1="426.8" x2="1702" y2="432.8" stroke="#000" stroke-width="2.5"/><text x="1702" y="458.5" font-size="20.8" text-anchor="middle">0</text><line x1="1776.3" y1="426.8" x2="1776.3" y2="432.8" stroke="#000" stroke-width="2.5"/><text x="1776.3" y="458.5" font-size="20.8" text-anchor="middle">500</text><line x1="1825.3" y1="244.6" x2="1825.3" y2="428.4" stroke="#000" stroke-width="3.2"/><line x1="1823.7" y1="426.8" x2="1988.3" y2="426.8" stroke="#000" stroke-width="3.2"/><line x1="1832.5" y1="426.8" x2="1832.5" y2="432.8" stroke="#000" stroke-width="2.5"/><text x="1832.5" y="458.5" font-size="20.8" text-anchor="middle">−500</text><line x1="1906.8" y1="426.8" x2="1906.8" y2="432.8" stroke="#000" stroke-width="2.5"/><text x="1906.8" y="458.5" font-size="20.8" text-anchor="middle">0</text><line x1="1981.1" y1="426.8" x2="1981.1" y2="432.8" stroke="#000" stroke-width="2.5"/><text x="1981.1" y="458.5" font-size="20.8" text-anchor="middle">500</text><text x="1599.5" y="491" font-size="20.8" text-anchor="middle">Distance to RE (Kbp)</text><text x="1130" y="252.5" font-size="20.8" text-anchor="middle" transform="rotate(-90 1130 252.5)">Average gene expression (z-score)</text><text x="2012" y="139" font-size="20.8" text-anchor="middle" transform="rotate(-90 2012 139)">Enriched REs</text><text x="2012" y="335.7" font-size="20.8" text-anchor="middle" transform="rotate(-90 2012 335.7)">Depleted REs</text><polyline points="1218.6,129.6 1220.1,130.1 1221.6,130.2 1223.1,130 1224.5,130.2 1226,130.2 1227.5,130.1 1229,130.3 1230.5,130.5 1232,130.3 1233.5,130.1 1234.9,130.3 1236.4,130.4 1237.9,130.1 1239.4,130.4 1240.9,130.6 1242.4,130.1 1243.9,130.7 1245.3,130.6 1246.8,131.2 1248.3,131.3 1249.8,130.9 1251.3,130.8 1252.8,131.3 1254.3,131.5 1255.8,131.6 1257.2,132 1258.7,132 1260.2,131.7 1261.7,132.3 1263.2,133 1264.7,133 1266.2,133.2 1267.6,133 1269.1,133.5 1270.6,133.9 1272.1,134.4 1273.6,135 1275.1,135.2 1276.6,135.9 1278,136.1 1279.5,136.7 1281,137.2 1282.5,138 1284,138.9 1285.5,139.2 1287,140 1288.4,140.7 1289.9,141.8 1291.4,142.4 1292.9,143.7 1294.4,143 1295.9,141.9 1297.4,140.9 1298.8,140.6 1300.3,139.7 1301.8,138.6 1303.3,137.8 1304.8,137.3 1306.3,137 1307.8,136.2 1309.2,135.9 1310.7,135.1 1312.2,134.8 1313.7,134.6 1315.2,134.2 1316.7,134 1318.2,133.7 1319.6,133.4 1321.1,133.1 1322.6,132.7 1324.1,132.3 1325.6,132.3 1327.1,132.2 1328.6,132 1330.1,131.7 1331.5,131.5 1333,131.8 1334.5,131.1 1336,131.2 1337.5,130.6 1339,130.9 1340.5,131 1341.9,130.9 1343.4,130.7 1344.9,130.8 1346.4,130.4 1347.9,130.7 1349.4,130.3 1350.9,130.4 1352.3,130 1353.8,130.1 1355.3,130.4 1356.8,130.1 1358.3,129.6 1359.8,129.7 1361.3,129.8 1362.7,129.9 1364.2,130.1 1365.7,130.1 1367.2,130.3" fill="none" stroke="#377eb8" stroke-width="3.6" stroke-linejoin="round"/><polyline points="1218.6,145.1 1220.1,144.9 1221.6,145.1 1223.1,145.4 1224.5,145.7 1226,145.6 1227.5,145.8 1229,146 1230.5,145.8 1232,145.7 1233.5,145.6 1234.9,145.9 1236.4,145.8 1237.9,145.9 1239.4,146.2 1240.9,146 1242.4,146 1243.9,145.5 1245.3,145.8 1246.8,146.1 1248.3,146 1249.8,146.2 1251.3,146.2 1252.8,146.6 1254.3,146.7 1255.8,146.7 1257.2,146.8 1258.7,147.1 1260.2,147.6 1261.7,147.7 1263.2,147.9 1264.7,148 1266.2,148.3 1267.6,148.5 1269.1,148.9 1270.6,149.3 1272.1,149.6 1273.6,150.4 1275.1,150.9 1276.6,151.4 1278,151.4 1279.5,152.1 1281,152.7 1282.5,153.3 1284,154.2 1285.5,155.3 1287,155.9 1288.4,156.9 1289.9,157.7 1291.4,159.1 1292.9,160.3 1294.4,158.8 1295.9,157.4 1297.4,156.9 1298.8,156.2 1300.3,155.2 1301.8,154.2 1303.3,153.4 1304.8,152.7 1306.3,152.3 1307.8,151.5 1309.2,150.8 1310.7,150.5 1312.2,150.4 1313.7,150 1315.2,149.3 1316.7,149.3 1318.2,148.8 1319.6,148.6 1321.1,148.2 1322.6,147.9 1324.1,147.6 1325.6,147 1327.1,146.8 1328.6,146.4 1330.1,146.4 1331.5,146.5 1333,146.2 1334.5,146.8 1336,146.4 1337.5,146.1 1339,146.2 1340.5,145.8 1341.9,145.8 1343.4,146.2 1344.9,145.9 1346.4,145.9 1347.9,145.7 1349.4,145.5 1350.9,145.1 1352.3,145 1353.8,145 1355.3,144.9 1356.8,145.3 1358.3,144.8 1359.8,145.1 1361.3,144.9 1362.7,145.1 1364.2,145.1 1365.7,145 1367.2,144.5" fill="none" stroke="#984ea3" stroke-width="3.6" stroke-linejoin="round"/><polyline points="1218.6,151.4 1220.1,151.8 1221.6,151.8 1223.1,151.9 1224.5,151.8 1226,152.2 1227.5,152.2 1229,152.4 1230.5,152.5 1232,152.6 1233.5,152.6 1234.9,152.5 1236.4,152.6 1237.9,152.4 1239.4,152.6 1240.9,153.2 1242.4,152.7 1243.9,152.8 1245.3,152.9 1246.8,152.8 1248.3,152.8 1249.8,152.9 1251.3,153.2 1252.8,153.2 1254.3,153.6 1255.8,153.2 1257.2,153.7 1258.7,153.8 1260.2,153.9 1261.7,154 1263.2,154.2 1264.7,154.3 1266.2,155.4 1267.6,155.4 1269.1,155.5 1270.6,155.8 1272.1,155.7 1273.6,156.3 1275.1,156.6 1276.6,157.5 1278,157.7 1279.5,158.4 1281,159.1 1282.5,158.9 1284,159.4 1285.5,160.1 1287,160.9 1288.4,162 1289.9,163 1291.4,163.7 1292.9,165.1 1294.4,163.8 1295.9,163.2 1297.4,162.1 1298.8,161.4 1300.3,160.1 1301.8,159.2 1303.3,158.8 1304.8,158.7 1306.3,158.2 1307.8,157.5 1309.2,157.2 1310.7,156.6 1312.2,155.9 1313.7,155.6 1315.2,155.4 1316.7,154.9 1318.2,154.7 1319.6,154.2 1321.1,154.2 1322.6,153.6 1324.1,153.6 1325.6,153.7 1327.1,153.5 1328.6,153.4 1330.1,153.4 1331.5,153.1 1333,152.8 1334.5,153.1 1336,152.8 1337.5,152.7 1339,152.5 1340.5,152.2 1341.9,152.4 1343.4,152.1 1344.9,152.1 1346.4,152 1347.9,151.9 1349.4,151.9 1350.9,152 1352.3,151.7 1353.8,151.2 1355.3,151.1 1356.8,151.1 1358.3,151.1 1359.8,151.4 1361.3,151.3 1362.7,150.8 1364.2,151.3 1365.7,151.2 1367.2,151" fill="none" stroke="#4daf4a" stroke-width="3.6" stroke-linejoin="round"/><polyline points="1218.6,127.1 1220.1,126.7 1221.6,127 1223.1,126.7 1224.5,126.7 1226,126.7 1227.5,126.1 1229,126.2 1230.5,126.1 1232,125.9 1233.5,125.6 1234.9,125.6 1236.4,125.4 1237.9,125.5 1239.4,125.4 1240.9,125.2 1242.4,125.2 1243.9,125.1 1245.3,124.9 1246.8,124.4 1248.3,123.9 1249.8,123.5 1251.3,123 1252.8,122.8 1254.3,122.2 1255.8,121.6 1257.2,120.8 1258.7,120.5 1260.2,119.9 1261.7,119.7 1263.2,118.9 1264.7,118.4 1266.2,117.6 1267.6,116.2 1269.1,115.7 1270.6,114.3 1272.1,113.1 1273.6,112 1275.1,110.6 1276.6,109.2 1278,107.6 1279.5,106.2 1281,104.8 1282.5,103.1 1284,101.4 1285.5,99.2 1287,97.1 1288.4,94.4 1289.9,92.4 1291.4,89.8 1292.9,86.9 1294.4,90.1 1295.9,92.1 1297.4,95.2 1298.8,97.4 1300.3,99.6 1301.8,101.2 1303.3,103.6 1304.8,105 1306.3,106.9 1307.8,108.4 1309.2,110 1310.7,111.1 1312.2,112.7 1313.7,113.8 1315.2,114.8 1316.7,115.4 1318.2,117.1 1319.6,117.5 1321.1,118.2 1322.6,119.2 1324.1,119.9 1325.6,120.8 1327.1,121.1 1328.6,121.7 1330.1,122.5 1331.5,123.1 1333,123.6 1334.5,124.1 1336,124.7 1337.5,124.6 1339,125.5 1340.5,126.5 1341.9,126.5 1343.4,126.6 1344.9,126.7 1346.4,127 1347.9,127.2 1349.4,127.3 1350.9,127.3 1352.3,127.7 1353.8,128 1355.3,127.8 1356.8,128 1358.3,128.5 1359.8,128.1 1361.3,128.3 1362.7,128.8 1364.2,129.2 1365.7,129.2 1367.2,129.5" fill="none" stroke="#e41a1c" stroke-width="3.6" stroke-linejoin="round"/><polyline points="1422.7,144.6 1424.2,144.2 1425.7,145.5 1427.2,145.1 1428.6,145.8 1430.1,146.4 1431.6,145.5 1433.1,146.2 1434.6,146.9 1436.1,146.9 1437.6,146.8 1439,147.5 1440.5,147.6 1442,148.8 1443.5,149.2 1445,149.6 1446.5,150.5 1448,151.2 1449.4,151.9 1450.9,151.4 1452.4,151.2 1453.9,151.4 1455.4,151.4 1456.9,152.4 1458.4,152.4 1459.8,152.3 1461.3,152.1 1462.8,153.1 1464.3,153.6 1465.8,155.1 1467.3,155.2 1468.8,156.5 1470.3,156.9 1471.7,155.6 1473.2,157.2 1474.7,156.3 1476.2,156.7 1477.7,157.7 1479.2,158.1 1480.7,158.7 1482.1,159 1483.6,160.4 1485.1,161.8 1486.6,163 1488.1,164.3 1489.6,165.8 1491.1,167.8 1492.5,168.5 1494,171.6 1495.5,173.6 1497,172.2 1498.5,171.5 1500,167.9 1501.5,169.2 1502.9,168.4 1504.4,168 1505.9,166.2 1507.4,167.1 1508.9,165.4 1510.4,165.3 1511.9,164.6 1513.3,164.3 1514.8,163 1516.3,163.2 1517.8,162.3 1519.3,161.3 1520.8,158.9 1522.3,159.9 1523.7,157.4 1525.2,155.9 1526.7,155.5 1528.2,154.3 1529.7,153.6 1531.2,151.4 1532.7,150.5 1534.2,149.9 1535.6,149.1 1537.1,148.1 1538.6,147.1 1540.1,146.5 1541.6,143.8 1543.1,145 1544.6,146.6 1546,145.1 1547.5,144.1 1549,142.9 1550.5,142.5 1552,142 1553.5,141.2 1555,140.1 1556.4,140.2 1557.9,140.4 1559.4,138.9 1560.9,138.9 1562.4,139.9 1563.9,138.2 1565.4,138.2 1566.8,139.1 1568.3,139.9 1569.8,139.4 1571.3,139.8" fill="none" stroke="#e41a1c" stroke-width="3.6" stroke-linejoin="round"/><polyline points="1422.7,143.6 1424.2,143.3 1425.7,143.8 1427.2,143.6 1428.6,143.1 1430.1,143.2 1431.6,142.5 1433.1,143.7 1434.6,143.8 1436.1,144.4 1437.6,144.9 1439,144.8 1440.5,144.4 1442,144.1 1443.5,143.9 1445,142.7 1446.5,142.9 1448,144.6 1449.4,144.5 1450.9,145 1452.4,145.3 1453.9,144.9 1455.4,146.1 1456.9,148.2 1458.4,148.3 1459.8,149 1461.3,150.4 1462.8,151.3 1464.3,152 1465.8,152.3 1467.3,153.1 1468.8,154.2 1470.3,154.2 1471.7,156.5 1473.2,158.4 1474.7,159.7 1476.2,160.2 1477.7,162.2 1479.2,162.6 1480.7,164.6 1482.1,166 1483.6,166.5 1485.1,167.6 1486.6,167.7 1488.1,167 1489.6,166.4 1491.1,166.4 1492.5,166.7 1494,165.8 1495.5,165.9 1497,162.7 1498.5,158.4 1500,155.7 1501.5,154.9 1502.9,153.8 1504.4,153.3 1505.9,153.2 1507.4,152.2 1508.9,151.9 1510.4,151.5 1511.9,151.2 1513.3,149.2 1514.8,148.9 1516.3,147.3 1517.8,146.5 1519.3,146.1 1520.8,145 1522.3,144.3 1523.7,143.6 1525.2,143.9 1526.7,142.9 1528.2,141.9 1529.7,141.5 1531.2,140.9 1532.7,140 1534.2,140.2 1535.6,139.1 1537.1,140.7 1538.6,140.8 1540.1,142.2 1541.6,140.8 1543.1,140.3 1544.6,138.9 1546,139.3 1547.5,140.5 1549,139 1550.5,140.5 1552,141.5 1553.5,141.5 1555,141.2 1556.4,142 1557.9,142.2 1559.4,143.8 1560.9,142.1 1562.4,142.3 1563.9,142.3 1565.4,142 1566.8,142.1 1568.3,142.1 1569.8,142.9 1571.3,142.8" fill="none" stroke="#984ea3" stroke-width="3.6" stroke-linejoin="round"/><polyline points="1422.7,142.2 1424.2,142.4 1425.7,141.3 1427.2,142.4 1428.6,141.6 1430.1,142.5 1431.6,140.6 1433.1,140.1 1434.6,138.9 1436.1,139.3 1437.6,138.9 1439,139 1440.5,139.2 1442,138.7 1443.5,139.3 1445,138.9 1446.5,137.9 1448,137.6 1449.4,137.7 1450.9,135.9 1452.4,136.2 1453.9,136.7 1455.4,136.4 1456.9,136.6 1458.4,136.5 1459.8,136.4 1461.3,134.7 1462.8,135 1464.3,135 1465.8,134.6 1467.3,133.4 1468.8,134.1 1470.3,134.7 1471.7,133 1473.2,134.5 1474.7,134.6 1476.2,134 1477.7,132.4 1479.2,133.6 1480.7,135.2 1482.1,134.1 1483.6,135.4 1485.1,136.5 1486.6,137.1 1488.1,139.1 1489.6,141.1 1491.1,140.3 1492.5,138.2 1494,136.3 1495.5,135.6 1497,134.9 1498.5,133.1 1500,149.5 1501.5,150.5 1502.9,150.7 1504.4,149.8 1505.9,150 1507.4,150.3 1508.9,150.1 1510.4,150.2 1511.9,150.2 1513.3,151.5 1514.8,149.8 1516.3,149.8 1517.8,150.6 1519.3,149.8 1520.8,149.7 1522.3,149.9 1523.7,149.3 1525.2,148.2 1526.7,148.6 1528.2,148.8 1529.7,148.7 1531.2,151 1532.7,152.2 1534.2,152.3 1535.6,154.3 1537.1,154.7 1538.6,154.1 1540.1,154.2 1541.6,154.7 1543.1,156.6 1544.6,155 1546,155.3 1547.5,155.4 1549,155.8 1550.5,157.5 1552,158.5 1553.5,159 1555,157.4 1556.4,158.3 1557.9,157.8 1559.4,157.4 1560.9,156.4 1562.4,155.7 1563.9,155.3 1565.4,156.7 1566.8,159 1568.3,158.4 1569.8,158.1 1571.3,157.5" fill="none" stroke="#4daf4a" stroke-width="3.6" stroke-linejoin="round"/><polyline points="1422.7,123.5 1424.2,124.6 1425.7,124.5 1427.2,123.8 1428.6,122.3 1430.1,122.3 1431.6,123.4 1433.1,122.6 1434.6,123 1436.1,121.6 1437.6,121.6 1439,120 1440.5,120.1 1442,120.6 1443.5,121 1445,120.3 1446.5,119.2 1448,117.9 1449.4,117.5 1450.9,117.8 1452.4,117 1453.9,116.9 1455.4,115.2 1456.9,114.5 1458.4,112.2 1459.8,110.7 1461.3,109.1 1462.8,108.3 1464.3,106.2 1465.8,104.3 1467.3,103 1468.8,101.4 1470.3,98.4 1471.7,96.9 1473.2,94.6 1474.7,91.9 1476.2,91.6 1477.7,88.5 1479.2,86.5 1480.7,85.6 1482.1,84.6 1483.6,84.2 1485.1,82 1486.6,82.6 1488.1,80.2 1489.6,78.8 1491.1,77.4 1492.5,75.7 1494,73.8 1495.5,67.1 1497,59.7 1498.5,60.4 1500,59.5 1501.5,65.7 1502.9,72.8 1504.4,74.8 1505.9,77.6 1507.4,79.7 1508.9,81.6 1510.4,82.4 1511.9,85 1513.3,87.4 1514.8,89.4 1516.3,91 1517.8,93.1 1519.3,93 1520.8,95.1 1522.3,96.9 1523.7,98.6 1525.2,99.3 1526.7,98.7 1528.2,98.1 1529.7,99.2 1531.2,100.6 1532.7,101.9 1534.2,103.5 1535.6,103.5 1537.1,104.3 1538.6,103.6 1540.1,104.9 1541.6,106.4 1543.1,107.9 1544.6,108.8 1546,108 1547.5,107.8 1549,108.8 1550.5,109.7 1552,109.3 1553.5,109.5 1555,109.4 1556.4,109.7 1557.9,110.4 1559.4,111.7 1560.9,111.3 1562.4,111.2 1563.9,111.3 1565.4,110.9 1566.8,110.9 1568.3,111.9 1569.8,111.9 1571.3,113.9" fill="none" stroke="#377eb8" stroke-width="3.6" stroke-linejoin="round"/><polyline points="1627.7,151.2 1629.2,151.7 1630.7,151.7 1632.2,151.6 1633.6,151.2 1635.1,151.3 1636.6,151.8 1638.1,151.6 1639.6,151.9 1641.1,151.6 1642.6,151.7 1644,151.3 1645.5,151.6 1647,151.9 1648.5,152.3 1650,152.2 1651.5,152.1 1653,151.8 1654.4,151.9 1655.9,152.2 1657.4,152.2 1658.9,152.6 1660.4,152.5 1661.9,152.7 1663.4,152.4 1664.8,152.3 1666.3,152.5 1667.8,152.9 1669.3,152.9 1670.8,153 1672.3,153.3 1673.8,153.5 1675.3,153.3 1676.7,153.6 1678.2,153.7 1679.7,153.6 1681.2,154.2 1682.7,154 1684.2,154.1 1685.7,154.6 1687.1,155.1 1688.6,155.5 1690.1,155.4 1691.6,156.2 1693.1,156 1694.6,156.2 1696.1,156.7 1697.5,157 1699,157.4 1700.5,157.7 1702,157.8 1703.5,157.7 1705,157 1706.5,156.6 1707.9,156.5 1709.4,156.1 1710.9,156 1712.4,155.8 1713.9,155.4 1715.4,154.8 1716.9,154.8 1718.3,154.8 1719.8,154.7 1721.3,154.6 1722.8,154.7 1724.3,154 1725.8,154.1 1727.3,154.1 1728.7,154.1 1730.2,153.8 1731.7,153 1733.2,152.5 1734.7,152.6 1736.2,152.8 1737.7,153 1739.2,153.2 1740.6,153 1742.1,153 1743.6,152.5 1745.1,152.7 1746.6,153 1748.1,153.3 1749.6,153.5 1751,153 1752.5,152.8 1754,153 1755.5,153.2 1757,152.9 1758.5,152.8 1760,152.7 1761.4,152.6 1762.9,152.7 1764.4,153 1765.9,152.8 1767.4,152.6 1768.9,152.5 1770.4,152.3 1771.8,152.1 1773.3,152.3 1774.8,152.2 1776.3,152.8" fill="none" stroke="#e41a1c" stroke-width="3.6" stroke-linejoin="round"/><polyline points="1627.7,141.5 1629.2,141.3 1630.7,141.4 1632.2,141.5 1633.6,141.7 1635.1,141.6 1636.6,141.3 1638.1,141.3 1639.6,141.1 1641.1,141.2 1642.6,141.3 1644,141.3 1645.5,141.8 1647,141.5 1648.5,141.5 1650,141.4 1651.5,141.9 1653,142.2 1654.4,142.2 1655.9,142.2 1657.4,142 1658.9,141.9 1660.4,141.8 1661.9,142 1663.4,142 1664.8,141.9 1666.3,142.2 1667.8,141.8 1669.3,141.9 1670.8,141.8 1672.3,142.2 1673.8,142.5 1675.3,142.7 1676.7,142.8 1678.2,142.7 1679.7,142.8 1681.2,143 1682.7,143.4 1684.2,143.5 1685.7,143.3 1687.1,143.7 1688.6,143.7 1690.1,143.8 1691.6,144.4 1693.1,144.4 1694.6,144.3 1696.1,145.1 1697.5,145.2 1699,145.4 1700.5,145.8 1702,145.9 1703.5,145.5 1705,145.5 1706.5,144.9 1707.9,144.5 1709.4,144.1 1710.9,143.7 1712.4,143.6 1713.9,143.5 1715.4,143.7 1716.9,143.3 1718.3,143.3 1719.8,143.2 1721.3,143.2 1722.8,143.1 1724.3,142.9 1725.8,142.4 1727.3,142.7 1728.7,142.7 1730.2,142.3 1731.7,141.8 1733.2,141.6 1734.7,142 1736.2,142.4 1737.7,141.9 1739.2,141.9 1740.6,141.9 1742.1,141.4 1743.6,141.1 1745.1,141 1746.6,141 1748.1,140.9 1749.6,140.5 1751,140.5 1752.5,140.5 1754,140.5 1755.5,140.9 1757,140.6 1758.5,140.4 1760,140.4 1761.4,140.9 1762.9,140.9 1764.4,140.5 1765.9,140.9 1767.4,140.8 1768.9,140.4 1770.4,140.7 1771.8,140.2 1773.3,140.1 1774.8,140.2 1776.3,140.2" fill="none" stroke="#984ea3" stroke-width="3.6" stroke-linejoin="round"/><polyline points="1627.7,128.1 1629.2,127.6 1630.7,127.6 1632.2,127.6 1633.6,127.7 1635.1,127.8 1636.6,127.8 1638.1,127.9 1639.6,128.2 1641.1,128.4 1642.6,128.5 1644,128.3 1645.5,128.1 1647,127.7 1648.5,127.8 1650,127.8 1651.5,127.8 1653,127.9 1654.4,128.4 1655.9,128.1 1657.4,128.2 1658.9,128.1 1660.4,128.2 1661.9,127.5 1663.4,127.5 1664.8,127.7 1666.3,128.2 1667.8,128 1669.3,128.3 1670.8,128 1672.3,128.5 1673.8,128.4 1675.3,128.2 1676.7,128.4 1678.2,128.4 1679.7,128.4 1681.2,128.2 1682.7,128.4 1684.2,128.3 1685.7,127.9 1687.1,128.6 1688.6,128.8 1690.1,128.7 1691.6,128.9 1693.1,129.2 1694.6,128.8 1696.1,128.6 1697.5,128.6 1699,128.6 1700.5,128.7 1702,129.1 1703.5,129.6 1705,129.2 1706.5,129.3 1707.9,129 1709.4,128.8 1710.9,128.9 1712.4,128.8 1713.9,128.2 1715.4,128.1 1716.9,128.5 1718.3,128.4 1719.8,128.3 1721.3,128.1 1722.8,127.9 1724.3,127.9 1725.8,128 1727.3,127.7 1728.7,128.1 1730.2,127.7 1731.7,127.6 1733.2,127.8 1734.7,127.9 1736.2,127.7 1737.7,128 1739.2,128.4 1740.6,127.9 1742.1,127.4 1743.6,127.5 1745.1,127.5 1746.6,127.4 1748.1,127.6 1749.6,127.4 1751,127.2 1752.5,127.3 1754,127.1 1755.5,127.4 1757,127.3 1758.5,127.4 1760,127.5 1761.4,127.3 1762.9,127.2 1764.4,127 1765.9,126.9 1767.4,127.3 1768.9,126.9 1770.4,127.4 1771.8,127.3 1773.3,127.1 1774.8,127.1 1776.3,127" fill="none" stroke="#377eb8" stroke-width="3.6" stroke-linejoin="round"/><polyline points="1627.7,133.4 1629.2,133.2 1630.7,132.8 1632.2,132.5 1633.6,132.4 1635.1,132.6 1636.6,132.6 1638.1,132.7 1639.6,132.9 1641.1,132.9 1642.6,132.5 1644,132.4 1645.5,132.4 1647,132.6 1648.5,132.4 1650,132.4 1651.5,132.2 1653,131.9 1654.4,132.3 1655.9,132 1657.4,132.1 1658.9,132 1660.4,131.9 1661.9,131.3 1663.4,131 1664.8,130.7 1666.3,130.8 1667.8,130.9 1669.3,130.7 1670.8,130.3 1672.3,130.1 1673.8,129.7 1675.3,129.6 1676.7,128.9 1678.2,128.7 1679.7,128.1 1681.2,128.1 1682.7,128 1684.2,128 1685.7,127.4 1687.1,126.9 1688.6,126.7 1690.1,126.3 1691.6,126 1693.1,125.7 1694.6,125.3 1696.1,125.3 1697.5,124.8 1699,124.1 1700.5,123.4 1702,122.6 1703.5,123 1705,123.6 1706.5,124.2 1707.9,125.2 1709.4,125.5 1710.9,126.1 1712.4,126.3 1713.9,126.7 1715.4,127.1 1716.9,127.6 1718.3,127.9 1719.8,128.6 1721.3,129 1722.8,128.8 1724.3,128.9 1725.8,129.3 1727.3,129.6 1728.7,129.9 1730.2,129.4 1731.7,129.7 1733.2,130.1 1734.7,130.6 1736.2,131.3 1737.7,131.3 1739.2,131 1740.6,131.1 1742.1,131.3 1743.6,131.7 1745.1,132.1 1746.6,132.1 1748.1,132.3 1749.6,132.6 1751,132.2 1752.5,132.6 1754,132.7 1755.5,133.3 1757,132.8 1758.5,132.9 1760,133 1761.4,133 1762.9,133.3 1764.4,133.4 1765.9,133.3 1767.4,133.6 1768.9,133.5 1770.4,133.2 1771.8,133.2 1773.3,133.1 1774.8,133.1 1776.3,133" fill="none" stroke="#4daf4a" stroke-width="3.6" stroke-linejoin="round"/><polyline points="1832.5,147.1 1834,147 1835.5,146.8 1837,146.6 1838.4,146.6 1839.9,146.8 1841.4,147 1842.9,147.2 1844.4,147.6 1845.9,147.7 1847.4,147.4 1848.8,147.5 1850.3,147.6 1851.8,147.9 1853.3,148 1854.8,148.1 1856.3,148.1 1857.8,148 1859.2,148.6 1860.7,148.5 1862.2,148.8 1863.7,149 1865.2,149.1 1866.7,148.8 1868.2,148.7 1869.6,148.8 1871.1,149.2 1872.6,149.6 1874.1,149.7 1875.6,149.7 1877.1,149.8 1878.6,149.8 1880.1,150.1 1881.5,149.9 1883,150.2 1884.5,150.1 1886,150.6 1887.5,151.1 1889,151.6 1890.5,151.7 1891.9,151.9 1893.4,152.3 1894.9,152.7 1896.4,153.2 1897.9,153.7 1899.4,154.2 1900.9,155.1 1902.3,155.6 1903.8,155.9 1905.3,156.3 1906.8,156.7 1908.3,156 1909.8,155.5 1911.3,155.1 1912.7,155.3 1914.2,154.7 1915.7,154.4 1917.2,153.8 1918.7,153.5 1920.2,153.3 1921.7,153.1 1923.1,152.8 1924.6,152.9 1926.1,152.8 1927.6,152.1 1929.1,151.8 1930.6,151.7 1932.1,151.6 1933.5,151.5 1935,150.6 1936.5,150.6 1938,150.7 1939.5,150.8 1941,151.3 1942.5,150.9 1944,150.5 1945.4,150.2 1946.9,150.2 1948.4,150.4 1949.9,150.6 1951.4,150.5 1952.9,150.5 1954.4,150.6 1955.8,150.1 1957.3,150.3 1958.8,150.4 1960.3,150.8 1961.8,150.2 1963.3,150.2 1964.8,150.2 1966.2,150.1 1967.7,150.3 1969.2,150.4 1970.7,150.2 1972.2,150.4 1973.7,150.2 1975.2,149.9 1976.6,149.9 1978.1,149.7 1979.6,149.7 1981.1,149.5" fill="none" stroke="#e41a1c" stroke-width="3.6" stroke-linejoin="round"/><polyline points="1832.5,150.4 1834,150.5 1835.5,150.5 1837,150.5 1838.4,150.3 1839.9,150.7 1841.4,150.7 1842.9,150.7 1844.4,150.8 1845.9,150.7 1847.4,150.7 1848.8,150.1 1850.3,150.3 1851.8,150.5 1853.3,150.5 1854.8,150.9 1856.3,151.1 1857.8,151 1859.2,151.2 1860.7,151.5 1862.2,151.6 1863.7,151.9 1865.2,151.6 1866.7,151.5 1868.2,151.1 1869.6,151.7 1871.1,152 1872.6,152.3 1874.1,152.5 1875.6,152.7 1877.1,152.8 1878.6,153.3 1880.1,153.9 1881.5,153.8 1883,154.3 1884.5,154.4 1886,155 1887.5,155.4 1889,156.2 1890.5,156.8 1891.9,157.1 1893.4,157.5 1894.9,158.2 1896.4,158.9 1897.9,160 1899.4,160.7 1900.9,161.6 1902.3,162.7 1903.8,163.4 1905.3,164.6 1906.8,165.9 1908.3,164.7 1909.8,163.5 1911.3,162.5 1912.7,161.4 1914.2,160.6 1915.7,159.5 1917.2,158.5 1918.7,157.7 1920.2,157.3 1921.7,157 1923.1,156.3 1924.6,155.9 1926.1,155.2 1927.6,154.8 1929.1,154.4 1930.6,154.3 1932.1,153.9 1933.5,153.8 1935,153.8 1936.5,153.3 1938,153.2 1939.5,153 1941,152.4 1942.5,151.9 1944,151.8 1945.4,151.8 1946.9,151.5 1948.4,151.3 1949.9,151.1 1951.4,151.3 1952.9,151.3 1954.4,151 1955.8,151.2 1957.3,151 1958.8,150.6 1960.3,150.4 1961.8,150.7 1963.3,150.7 1964.8,150.7 1966.2,150.8 1967.7,150.7 1969.2,150.7 1970.7,150.4 1972.2,150.6 1973.7,150.6 1975.2,150.6 1976.6,150.5 1978.1,150.9 1979.6,150.4 1981.1,150.4" fill="none" stroke="#4daf4a" stroke-width="3.6" stroke-linejoin="round"/><polyline points="1832.5,130.7 1834,130.5 1835.5,130.2 1837,130.4 1838.4,130.7 1839.9,130.6 1841.4,130.4 1842.9,130.2 1844.4,130.5 1845.9,130.8 1847.4,130.5 1848.8,130.4 1850.3,130.1 1851.8,130 1853.3,130.3 1854.8,130.5 1856.3,130 1857.8,130.3 1859.2,130.7 1860.7,131 1862.2,130.9 1863.7,130.9 1865.2,131 1866.7,131.1 1868.2,131.1 1869.6,131 1871.1,130.9 1872.6,131.1 1874.1,131.8 1875.6,131.6 1877.1,132.1 1878.6,132.2 1880.1,132.6 1881.5,132.6 1883,132.9 1884.5,133 1886,132.4 1887.5,133 1889,133.2 1890.5,134 1891.9,134.4 1893.4,134.7 1894.9,135.1 1896.4,135.5 1897.9,136.1 1899.4,136.9 1900.9,137.3 1902.3,138.1 1903.8,138.4 1905.3,139.4 1906.8,140.1 1908.3,139.3 1909.8,138.3 1911.3,137.8 1912.7,136.9 1914.2,136.4 1915.7,135.5 1917.2,135 1918.7,134.6 1920.2,134.4 1921.7,133.8 1923.1,133.3 1924.6,132.6 1926.1,132.6 1927.6,132.2 1929.1,131.9 1930.6,131.6 1932.1,131.4 1933.5,131.2 1935,131.2 1936.5,131.2 1938,131 1939.5,130.6 1941,130 1942.5,129.8 1944,129.6 1945.4,129.5 1946.9,129.4 1948.4,129.4 1949.9,129.2 1951.4,128.9 1952.9,129.1 1954.4,129.2 1955.8,128.7 1957.3,128.8 1958.8,128.6 1960.3,128.5 1961.8,128.8 1963.3,128.3 1964.8,128 1966.2,128.2 1967.7,128.2 1969.2,128.3 1970.7,128.5 1972.2,128.5 1973.7,128.3 1975.2,128.1 1976.6,128 1978.1,128.1 1979.6,127.8 1981.1,128.1" fill="none" stroke="#377eb8" stroke-width="3.6" stroke-linejoin="round"/><polyline points="1832.5,127.4 1834,127.2 1835.5,127.1 1837,127 1838.4,126.6 1839.9,126.5 1841.4,126.5 1842.9,126 1844.4,126.1 1845.9,126.3 1847.4,126.4 1848.8,126.2 1850.3,125.7 1851.8,125.3 1853.3,124.9 1854.8,124.4 1856.3,124.1 1857.8,124 1859.2,123.7 1860.7,123.5 1862.2,123.6 1863.7,123.2 1865.2,122.9 1866.7,122.7 1868.2,121.9 1869.6,121.5 1871.1,121.4 1872.6,121 1874.1,120 1875.6,119.8 1877.1,119.2 1878.6,118.6 1880.1,117.9 1881.5,117.2 1883,116.7 1884.5,116 1886,115.2 1887.5,114.3 1889,113.1 1890.5,111.7 1891.9,111 1893.4,109.7 1894.9,108.6 1896.4,107.3 1897.9,105.8 1899.4,104.1 1900.9,102.4 1902.3,101.1 1903.8,98.6 1905.3,96.5 1906.8,94.3 1908.3,96.3 1909.8,98.5 1911.3,100.8 1912.7,102.3 1914.2,103.9 1915.7,105.7 1917.2,106.9 1918.7,108.2 1920.2,109.8 1921.7,110.5 1923.1,111.7 1924.6,113.1 1926.1,113.9 1927.6,114.8 1929.1,115.4 1930.6,116.6 1932.1,117 1933.5,117.5 1935,118.1 1936.5,118.7 1938,119.1 1939.5,119.7 1941,120.3 1942.5,121 1944,121.2 1945.4,121.5 1946.9,121.9 1948.4,122.3 1949.9,122.5 1951.4,123.5 1952.9,123.5 1954.4,124.3 1955.8,124.2 1957.3,124 1958.8,123.8 1960.3,124.3 1961.8,124.4 1963.3,124.7 1964.8,125.4 1966.2,125.2 1967.7,125.2 1969.2,125.3 1970.7,125.6 1972.2,125.7 1973.7,125.7 1975.2,125.4 1976.6,125.6 1978.1,124.9 1979.6,125.5 1981.1,125.8" fill="none" stroke="#984ea3" stroke-width="3.6" stroke-linejoin="round"/><polyline points="1218.6,348.1 1220.1,348.1 1221.6,348.2 1223.1,348.2 1224.5,348 1226,348.4 1227.5,348.4 1229,348.4 1230.5,348.5 1232,348.5 1233.5,348.4 1234.9,347.9 1236.4,348.1 1237.9,348.3 1239.4,348.2 1240.9,348.7 1242.4,348.9 1243.9,348.8 1245.3,349 1246.8,349.2 1248.3,349.4 1249.8,349.6 1251.3,349.3 1252.8,349.1 1254.3,348.8 1255.8,349.3 1257.2,349.6 1258.7,349.9 1260.2,350 1261.7,350.2 1263.2,350.3 1264.7,350.6 1266.2,351.2 1267.6,350.9 1269.1,351.3 1270.6,351.3 1272.1,351.8 1273.6,352.1 1275.1,352.7 1276.6,353.2 1278,353.2 1279.5,353.4 1281,353.8 1282.5,354.2 1284,355 1285.5,355.3 1287,355.9 1288.4,356.5 1289.9,356.8 1291.4,357.4 1292.9,358.1 1294.4,357.5 1295.9,356.9 1297.4,356.3 1298.8,355.7 1300.3,355.3 1301.8,354.5 1303.3,353.8 1304.8,353.3 1306.3,353.2 1307.8,353.1 1309.2,352.7 1310.7,352.4 1312.2,351.8 1313.7,351.6 1315.2,351.4 1316.7,351.3 1318.2,351.1 1319.6,351.1 1321.1,351.1 1322.6,350.7 1324.1,350.7 1325.6,350.5 1327.1,350 1328.6,349.5 1330.1,349.5 1331.5,349.5 1333,349.2 1334.5,349 1336,348.9 1337.5,349.1 1339,349.1 1340.5,348.7 1341.9,348.9 1343.4,348.8 1344.9,348.4 1346.4,348.2 1347.9,348.4 1349.4,348.4 1350.9,348.4 1352.3,348.6 1353.8,348.4 1355.3,348.5 1356.8,348.2 1358.3,348.3 1359.8,348.3 1361.3,348.3 1362.7,348.1 1364.2,348.6 1365.7,348.1 1367.2,348" fill="none" stroke="#e41a1c" stroke-width="3.6" stroke-linejoin="round"/><polyline points="1218.6,338.2 1220.1,338 1221.6,337.7 1223.1,337.9 1224.5,338.2 1226,338.1 1227.5,337.9 1229,337.7 1230.5,338.1 1232,338.3 1233.5,338 1234.9,337.9 1236.4,337.6 1237.9,337.5 1239.4,337.7 1240.9,337.9 1242.4,337.3 1243.9,337.7 1245.3,338 1246.8,338.2 1248.3,338.1 1249.8,338 1251.3,338.1 1252.8,338.1 1254.3,338 1255.8,337.8 1257.2,337.7 1258.7,337.8 1260.2,338.3 1261.7,338 1263.2,338.4 1264.7,338.3 1266.2,338.5 1267.6,338.4 1269.1,338.4 1270.6,338.3 1272.1,337.5 1273.6,337.8 1275.1,337.8 1276.6,338.2 1278,338.3 1279.5,338.1 1281,338.2 1282.5,338.2 1284,338.2 1285.5,338.5 1287,338.3 1288.4,338.5 1289.9,338.1 1291.4,338.4 1292.9,338.3 1294.4,338.3 1295.9,338.1 1297.4,338.3 1298.8,338.1 1300.3,338.2 1301.8,337.9 1303.3,337.9 1304.8,338 1306.3,338.2 1307.8,338 1309.2,338 1310.7,337.7 1312.2,337.9 1313.7,337.9 1315.2,337.9 1316.7,337.9 1318.2,337.9 1319.6,337.9 1321.1,338.1 1322.6,338.3 1324.1,338.3 1325.6,338 1327.1,337.7 1328.6,337.6 1330.1,337.5 1331.5,337.5 1333,337.6 1334.5,337.7 1336,337.6 1337.5,337.4 1339,337.7 1340.5,337.9 1341.9,337.5 1343.4,337.6 1344.9,337.5 1346.4,337.5 1347.9,337.9 1349.4,337.4 1350.9,337.2 1352.3,337.5 1353.8,337.5 1355.3,337.6 1356.8,337.9 1358.3,338 1359.8,337.9 1361.3,337.6 1362.7,337.6 1364.2,337.7 1365.7,337.5 1367.2,337.8" fill="none" stroke="#4daf4a" stroke-width="3.6" stroke-linejoin="round"/><polyline points="1218.6,334.9 1220.1,334.7 1221.6,334.7 1223.1,334.7 1224.5,334.4 1226,334.4 1227.5,334.5 1229,334.1 1230.5,334.3 1232,334.6 1233.5,334.8 1234.9,334.7 1236.4,334.4 1237.9,334.1 1239.4,333.9 1240.9,333.6 1242.4,333.4 1243.9,333.5 1245.3,333.4 1246.8,333.4 1248.3,333.7 1249.8,333.5 1251.3,333.6 1252.8,333.6 1254.3,333.2 1255.8,333.1 1257.2,333.3 1258.7,333.3 1260.2,332.7 1261.7,332.9 1263.2,332.8 1264.7,332.7 1266.2,332.6 1267.6,332.4 1269.1,332.5 1270.6,332.5 1272.1,332.4 1273.6,332.3 1275.1,331.9 1276.6,331.4 1278,331.6 1279.5,331.3 1281,331.4 1282.5,331.3 1284,331 1285.5,330.6 1287,330.4 1288.4,330.7 1289.9,329.8 1291.4,329.5 1292.9,329.3 1294.4,329.4 1295.9,329.8 1297.4,330.4 1298.8,330.4 1300.3,330.5 1301.8,331 1303.3,330.9 1304.8,331.1 1306.3,331.6 1307.8,331.4 1309.2,331.6 1310.7,332.1 1312.2,332.2 1313.7,332.3 1315.2,332.2 1316.7,332.8 1318.2,332.6 1319.6,332.6 1321.1,332.7 1322.6,332.8 1324.1,332.7 1325.6,332.8 1327.1,333.1 1328.6,333.5 1330.1,333.3 1331.5,333.3 1333,333.4 1334.5,333.6 1336,333.5 1337.5,334.3 1339,334.1 1340.5,334.7 1341.9,334.4 1343.4,334.1 1344.9,333.7 1346.4,334 1347.9,334 1349.4,334.2 1350.9,334.7 1352.3,334.4 1353.8,334.4 1355.3,334.4 1356.8,334.6 1358.3,334.6 1359.8,334.5 1361.3,334.2 1362.7,334.3 1364.2,333.6 1365.7,334.1 1367.2,334.4" fill="none" stroke="#984ea3" stroke-width="3.6" stroke-linejoin="round"/><polyline points="1218.6,319.9 1220.1,319.6 1221.6,319.8 1223.1,320.2 1224.5,320 1226,319.8 1227.5,319.7 1229,319.6 1230.5,319.6 1232,319.8 1233.5,319.9 1234.9,319.8 1236.4,319.8 1237.9,319.5 1239.4,319.3 1240.9,319.6 1242.4,319.4 1243.9,319.4 1245.3,319.1 1246.8,318.8 1248.3,318.8 1249.8,319.3 1251.3,319.1 1252.8,319.4 1254.3,318.8 1255.8,319 1257.2,318.9 1258.7,318.4 1260.2,318.8 1261.7,318.6 1263.2,318.7 1264.7,318.6 1266.2,318.5 1267.6,318.1 1269.1,318 1270.6,317.7 1272.1,317.4 1273.6,317.7 1275.1,317.1 1276.6,317 1278,317.2 1279.5,316.9 1281,316.3 1282.5,315.8 1284,315.8 1285.5,315.4 1287,315.1 1288.4,314.5 1289.9,314.3 1291.4,313.7 1292.9,313.6 1294.4,314.2 1295.9,314.3 1297.4,314.6 1298.8,315 1300.3,315.3 1301.8,315.6 1303.3,315.8 1304.8,315.9 1306.3,316.2 1307.8,316.4 1309.2,316.9 1310.7,317.3 1312.2,318 1313.7,317.8 1315.2,317.9 1316.7,317.9 1318.2,318.5 1319.6,318.5 1321.1,318.6 1322.6,319 1324.1,318.7 1325.6,318.5 1327.1,318.9 1328.6,318.8 1330.1,318.5 1331.5,319 1333,318.9 1334.5,318.6 1336,318.5 1337.5,319.1 1339,319.5 1340.5,319.4 1341.9,319.1 1343.4,319.6 1344.9,319.7 1346.4,319.9 1347.9,319.5 1349.4,319.7 1350.9,319.6 1352.3,319.5 1353.8,319.3 1355.3,319.4 1356.8,319.4 1358.3,319.3 1359.8,319.4 1361.3,319.8 1362.7,320 1364.2,319.7 1365.7,319.7 1367.2,319.9" fill="none" stroke="#377eb8" stroke-width="3.6" stroke-linejoin="round"/><polyline points="1422.7,311.4 1423.4,311.4 1424.2,311.4 1424.9,311.4 1425.7,311.4 1426.4,311.4 1427.2,311.4 1427.9,311.4 1428.6,311.4 1429.4,311.4 1430.1,311.4 1430.9,311.4 1431.6,311.4 1432.4,311.4 1433.1,311.4 1433.8,311.4 1434.6,311.4 1435.3,311.4 1436.1,311.4 1436.8,311.4 1437.6,311.4 1438.3,311.4 1439,311.4 1439.8,311.4 1440.5,311.4 1441.3,311.4 1442,311.4 1442.8,311.4 1443.5,311.4 1444.2,311.4 1445,311.4 1445.7,311.4 1446.5,311.4 1447.2,311.4 1448,311.4 1448.7,311.4 1449.4,311.4 1450.2,311.4 1450.9,321.3 1451.7,321.3 1452.4,321.3 1453.2,321.3 1453.9,321.3 1454.6,321.3 1455.4,321.3 1456.1,321.3 1456.9,321.3 1457.6,321.3 1458.4,321.3 1459.1,321.3 1459.8,321.3 1460.6,321.3 1461.3,321.3 1462.1,321.3 1462.8,321.3 1463.6,321.3 1464.3,321.3 1465.1,321.3 1465.8,321.3 1466.5,321.3 1467.3,321.3 1468,321.3 1468.8,321.3 1469.5,321.3 1470.3,321.3 1471,321.3 1471.7,323.5 1472.5,323.5 1473.2,323.5 1474,323.5 1474.7,323.5 1475.5,323.5 1476.2,326.9 1476.9,326.9 1477.7,326.9 1478.4,326.9 1479.2,326.9 1479.9,326.9 1480.7,319.1 1481.4,319.1 1482.1,319.1 1482.9,319.1 1483.6,319.1 1484.4,319.1 1485.1,319.1 1485.9,302.6 1486.6,302.6 1487.3,302.6 1488.1,324.6 1488.8,324.6 1489.6,324.6 1490.3,324.6 1491.1,324.6 1491.8,324.6 1492.5,324.6 1493.3,308.1 1494,308.1 1494.8,308.1 1495.5,308.1 1496.3,308.1 1497,308.1 1497.7,308.1 1498.5,308.1 1499.2,308.1 1500,308.1 1500.7,308.1 1501.5,308.1 1502.2,308.1 1502.9,308.1 1503.7,308.1 1504.4,308.1 1505.2,308.1 1505.9,308.1 1506.7,308.1 1507.4,308.1 1508.1,308.1 1508.9,308.1 1509.6,315.8 1510.4,315.8 1511.1,315.8 1511.9,315.8 1512.6,315.8 1513.3,315.8 1514.1,315.8 1514.8,315.8 1515.6,315.8 1516.3,315.8 1517.1,315.8 1517.8,315.8 1518.5,315.8 1519.3,315.8 1520,315.8 1520.8,315.8 1521.5,315.8 1522.3,315.8 1523,315.8 1523.7,315.8 1524.5,315.8 1525.2,315.8 1526,315.8 1526.7,315.8 1527.5,315.8 1528.2,315.8 1528.9,315.8 1529.7,315.8 1530.4,315.8 1531.2,315.8 1531.9,315.8 1532.7,315.8 1533.4,315.8 1534.2,315.8 1534.9,315.8 1535.6,315.8 1536.4,315.8 1537.1,315.8 1537.9,315.8 1538.6,315.8 1539.4,315.8 1540.1,315.8 1540.8,315.8 1541.6,315.8 1542.3,315.8 1543.1,315.8 1543.8,315.8 1544.6,315.8 1545.3,315.8 1546,315.8 1546.8,315.8 1547.5,315.8 1548.3,315.8 1549,315.8 1549.8,315.8 1550.5,315.8 1551.2,315.8 1552,315.8 1552.7,315.8 1553.5,308.1 1554.2,308.1 1555,308.1 1555.7,308.1 1556.4,308.1 1557.2,308.1 1557.9,308.1 1558.7,308.1 1559.4,308.1 1560.2,308.1 1560.9,308.1 1561.6,308.1 1562.4,308.1 1563.1,308.1 1563.9,308.1 1564.6,308.1 1565.4,308.1 1566.1,308.1 1566.8,308.1 1567.6,308.1 1568.3,308.1 1569.1,308.1 1569.8,308.1 1570.6,308.1 1571.3,308.1" fill="none" stroke="#377eb8" stroke-width="3.6" stroke-linejoin="round"/><polyline points="1422.7,335.7 1423.4,335.7 1424.2,335.7 1424.9,335.7 1425.7,335.7 1426.4,335.7 1427.2,335.7 1427.9,335.7 1428.6,335.7 1429.4,335.7 1430.1,333.5 1430.9,333.5 1431.6,333.5 1432.4,333.5 1433.1,333.5 1433.8,333.5 1434.6,333.5 1435.3,333.5 1436.1,333.5 1436.8,333.5 1437.6,333.5 1438.3,333.5 1439,333.5 1439.8,333.5 1440.5,333.5 1441.3,333.5 1442,333.5 1442.8,333.5 1443.5,333.5 1444.2,333.5 1445,333.5 1445.7,333.5 1446.5,328 1447.2,328 1448,328 1448.7,328 1449.4,328 1450.2,328 1450.9,328 1451.7,328 1452.4,328 1453.2,328 1453.9,328 1454.6,328 1455.4,328 1456.1,328 1456.9,328 1457.6,328 1458.4,328 1459.1,328 1459.8,328 1460.6,328 1461.3,328 1462.1,328 1462.8,328 1463.6,328 1464.3,328 1465.1,328 1465.8,328 1466.5,328 1467.3,332.4 1468,332.4 1468.8,332.4 1469.5,332.4 1470.3,332.4 1471,332.4 1471.7,332.4 1472.5,332.4 1473.2,332.4 1474,332.4 1474.7,332.4 1475.5,332.4 1476.2,332.4 1476.9,332.4 1477.7,330.2 1478.4,330.2 1479.2,330.2 1479.9,330.2 1480.7,330.2 1481.4,330.2 1482.1,330.2 1482.9,330.2 1483.6,330.2 1484.4,330.2 1485.1,330.2 1485.9,330.2 1486.6,330.2 1487.3,330.2 1488.1,297 1488.8,297 1489.6,297 1490.3,297 1491.1,297 1491.8,297 1492.5,297 1493.3,297 1494,297 1494.8,354.5 1495.5,354.5 1496.3,354.5 1497,354.5 1497.7,354.5 1498.5,354.5 1499.2,354.5 1500,354.5 1500.7,354.5 1501.5,354.5 1502.2,354.5 1502.9,354.5 1503.7,354.5 1504.4,354.5 1505.2,354.5 1505.9,354.5 1506.7,354.5 1507.4,354.5 1508.1,354.5 1508.9,354.5 1509.6,330.2 1510.4,330.2 1511.1,330.2 1511.9,330.2 1512.6,330.2 1513.3,330.2 1514.1,330.2 1514.8,330.2 1515.6,330.2 1516.3,330.2 1517.1,330.2 1517.8,330.2 1518.5,330.2 1519.3,330.2 1520,330.2 1520.8,330.2 1521.5,330.2 1522.3,330.2 1523,330.2 1523.7,330.2 1524.5,330.2 1525.2,330.2 1526,330.2 1526.7,330.2 1527.5,330.2 1528.2,330.2 1528.9,330.2 1529.7,330.2 1530.4,330.2 1531.2,330.2 1531.9,330.2 1532.7,330.2 1533.4,330.2 1534.2,330.2 1534.9,330.2 1535.6,330.2 1536.4,330.2 1537.1,330.2 1537.9,330.2 1538.6,330.2 1539.4,330.2 1540.1,330.2 1540.8,330.2 1541.6,330.2 1542.3,330.2 1543.1,330.2 1543.8,330.2 1544.6,330.2 1545.3,330.2 1546,330.2 1546.8,330.2 1547.5,330.2 1548.3,330.2 1549,330.2 1549.8,330.2 1550.5,330.2 1551.2,330.2 1552,330.2 1552.7,330.2 1553.5,341.2 1554.2,341.2 1555,341.2 1555.7,341.2 1556.4,341.2 1557.2,341.2 1557.9,341.2 1558.7,341.2 1559.4,341.2 1560.2,341.2 1560.9,341.2 1561.6,341.2 1562.4,341.2 1563.1,341.2 1563.9,341.2 1564.6,341.2 1565.4,341.2 1566.1,341.2 1566.8,341.2 1567.6,341.2 1568.3,341.2 1569.1,341.2 1569.8,341.2 1570.6,341.2 1571.3,341.2" fill="none" stroke="#e41a1c" stroke-width="3.6" stroke-linejoin="round"/><polyline points="1422.7,343.4 1423.4,343.4 1424.2,343.4 1424.9,343.4 1425.7,343.4 1426.4,343.4 1427.2,343.4 1427.9,343.4 1428.6,343.4 1429.4,343.4 1430.1,350.1 1430.9,350.1 1431.6,350.1 1432.4,350.1 1433.1,350.1 1433.8,350.1 1434.6,350.1 1435.3,350.1 1436.1,350.1 1436.8,350.1 1437.6,350.1 1438.3,350.1 1439,350.1 1439.8,350.1 1440.5,350.1 1441.3,350.1 1442,350.1 1442.8,350.1 1443.5,350.1 1444.2,350.1 1445,350.1 1445.7,350.1 1446.5,350.1 1447.2,350.1 1448,350.1 1448.7,350.1 1449.4,350.1 1450.2,350.1 1450.9,350.1 1451.7,350.1 1452.4,350.1 1453.2,350.1 1453.9,350.1 1454.6,350.1 1455.4,350.1 1456.1,350.1 1456.9,350.1 1457.6,350.1 1458.4,350.1 1459.1,350.1 1459.8,350.1 1460.6,350.1 1461.3,350.1 1462.1,350.1 1462.8,350.1 1463.6,350.1 1464.3,350.1 1465.1,350.1 1465.8,350.1 1466.5,350.1 1467.3,346.8 1468,346.8 1468.8,346.8 1469.5,346.8 1470.3,346.8 1471,346.8 1471.7,346.8 1472.5,346.8 1473.2,346.8 1474,346.8 1474.7,346.8 1475.5,346.8 1476.2,346.8 1476.9,346.8 1477.7,346.8 1478.4,346.8 1479.2,346.8 1479.9,346.8 1480.7,346.8 1481.4,346.8 1482.1,346.8 1482.9,346.8 1483.6,346.8 1484.4,363.3 1485.1,363.3 1485.9,363.3 1486.6,363.3 1487.3,363.3 1488.1,363.3 1488.8,363.3 1489.6,374.4 1490.3,374.4 1491.1,374.4 1491.8,374.4 1492.5,374.4 1493.3,374.4 1494,374.4 1494.8,324.6 1495.5,324.6 1496.3,324.6 1497,324.6 1497.7,324.6 1498.5,324.6 1499.2,324.6 1500,324.6 1500.7,324.6 1501.5,324.6 1502.2,324.6 1502.9,324.6 1503.7,324.6 1504.4,324.6 1505.2,324.6 1505.9,324.6 1506.7,324.6 1507.4,324.6 1508.1,324.6 1508.9,324.6 1509.6,350.1 1510.4,350.1 1511.1,350.1 1511.9,350.1 1512.6,350.1 1513.3,350.1 1514.1,350.1 1514.8,350.1 1515.6,350.1 1516.3,350.1 1517.1,350.1 1517.8,350.1 1518.5,350.1 1519.3,350.1 1520,350.1 1520.8,350.1 1521.5,350.1 1522.3,350.1 1523,350.1 1523.7,350.1 1524.5,350.1 1525.2,350.1 1526,350.1 1526.7,350.1 1527.5,350.1 1528.2,350.1 1528.9,350.1 1529.7,350.1 1530.4,350.1 1531.2,350.1 1531.9,350.1 1532.7,350.1 1533.4,350.1 1534.2,350.1 1534.9,350.1 1535.6,350.1 1536.4,350.1 1537.1,350.1 1537.9,350.1 1538.6,350.1 1539.4,350.1 1540.1,350.1 1540.8,350.1 1541.6,350.1 1542.3,350.1 1543.1,350.1 1543.8,350.1 1544.6,350.1 1545.3,350.1 1546,350.1 1546.8,350.1 1547.5,350.1 1548.3,350.1 1549,350.1 1549.8,350.1 1550.5,350.1 1551.2,350.1 1552,350.1 1552.7,350.1 1553.5,360 1554.2,360 1555,360 1555.7,360 1556.4,360 1557.2,360 1557.9,360 1558.7,360 1559.4,360 1560.2,360 1560.9,360 1561.6,360 1562.4,360 1563.1,360 1563.9,360 1564.6,360 1565.4,360 1566.1,360 1566.8,360 1567.6,360 1568.3,360 1569.1,360 1569.8,360 1570.6,360 1571.3,360" fill="none" stroke="#4daf4a" stroke-width="3.6" stroke-linejoin="round"/><polyline points="1422.7,346.8 1423.4,346.8 1424.2,346.8 1424.9,346.8 1425.7,346.8 1426.4,346.8 1427.2,346.8 1427.9,346.8 1428.6,346.8 1429.4,346.8 1430.1,344.5 1430.9,344.5 1431.6,344.5 1432.4,344.5 1433.1,344.5 1433.8,344.5 1434.6,344.5 1435.3,344.5 1436.1,344.5 1436.8,344.5 1437.6,344.5 1438.3,344.5 1439,344.5 1439.8,344.5 1440.5,344.5 1441.3,344.5 1442,344.5 1442.8,344.5 1443.5,344.5 1444.2,344.5 1445,341.2 1445.7,341.2 1446.5,341.2 1447.2,341.2 1448,341.2 1448.7,341.2 1449.4,341.2 1450.2,341.2 1450.9,341.2 1451.7,341.2 1452.4,341.2 1453.2,341.2 1453.9,341.2 1454.6,341.2 1455.4,341.2 1456.1,341.2 1456.9,341.2 1457.6,341.2 1458.4,341.2 1459.1,341.2 1459.8,341.2 1460.6,341.2 1461.3,341.2 1462.1,341.2 1462.8,341.2 1463.6,341.2 1464.3,341.2 1465.1,341.2 1465.8,341.2 1466.5,341.2 1467.3,341.2 1468,341.2 1468.8,341.2 1469.5,341.2 1470.3,339 1471,339 1471.7,339 1472.5,339 1473.2,339 1474,339 1474.7,339 1475.5,339 1476.2,339 1476.9,339 1477.7,335.7 1478.4,335.7 1479.2,335.7 1479.9,335.7 1480.7,355.6 1481.4,355.6 1482.1,355.6 1482.9,355.6 1483.6,355.6 1484.4,355.6 1485.1,355.6 1485.9,355.6 1486.6,341.2 1487.3,341.2 1488.1,341.2 1488.8,341.2 1489.6,341.2 1490.3,341.2 1491.1,341.2 1491.8,341.2 1492.5,341.2 1493.3,346.8 1494,346.8 1494.8,346.8 1495.5,346.8 1496.3,346.8 1497,346.8 1497.7,346.8 1498.5,346.8 1499.2,346.8 1500,346.8 1500.7,346.8 1501.5,346.8 1502.2,346.8 1502.9,346.8 1503.7,346.8 1504.4,346.8 1505.2,346.8 1505.9,346.8 1506.7,346.8 1507.4,346.8 1508.1,346.8 1508.9,346.8 1509.6,341.2 1510.4,341.2 1511.1,341.2 1511.9,341.2 1512.6,341.2 1513.3,341.2 1514.1,341.2 1514.8,341.2 1515.6,341.2 1516.3,341.2 1517.1,341.2 1517.8,341.2 1518.5,341.2 1519.3,341.2 1520,341.2 1520.8,341.2 1521.5,341.2 1522.3,341.2 1523,341.2 1523.7,341.2 1524.5,341.2 1525.2,341.2 1526,341.2 1526.7,341.2 1527.5,341.2 1528.2,341.2 1528.9,341.2 1529.7,341.2 1530.4,341.2 1531.2,341.2 1531.9,341.2 1532.7,341.2 1533.4,341.2 1534.2,341.2 1534.9,341.2 1535.6,341.2 1536.4,341.2 1537.1,341.2 1537.9,341.2 1538.6,341.2 1539.4,341.2 1540.1,341.2 1540.8,341.2 1541.6,341.2 1542.3,341.2 1543.1,341.2 1543.8,341.2 1544.6,341.2 1545.3,341.2 1546,341.2 1546.8,341.2 1547.5,341.2 1548.3,341.2 1549,341.2 1549.8,341.2 1550.5,341.2 1551.2,341.2 1552,341.2 1552.7,341.2 1553.5,329.1 1554.2,329.1 1555,329.1 1555.7,329.1 1556.4,329.1 1557.2,329.1 1557.9,329.1 1558.7,329.1 1559.4,329.1 1560.2,329.1 1560.9,329.1 1561.6,329.1 1562.4,329.1 1563.1,329.1 1563.9,329.1 1564.6,329.1 1565.4,329.1 1566.1,329.1 1566.8,329.1 1567.6,329.1 1568.3,329.1 1569.1,329.1 1569.8,329.1 1570.6,329.1 1571.3,329.1" fill="none" stroke="#984ea3" stroke-width="3.6" stroke-linejoin="round"/><polyline points="1627.7,320.4 1629.2,320.1 1630.7,320.4 1632.2,320.2 1633.6,320.5 1635.1,320.2 1636.6,320.3 1638.1,319.9 1639.6,319.9 1641.1,320 1642.6,320.2 1644,320.1 1645.5,320.2 1647,320.4 1648.5,320.3 1650,320.8 1651.5,320.6 1653,320.1 1654.4,320.1 1655.9,320.5 1657.4,320.2 1658.9,320.2 1660.4,320.4 1661.9,320.6 1663.4,320.5 1664.8,320.3 1666.3,320.4 1667.8,320 1669.3,320.4 1670.8,320.2 1672.3,320.7 1673.8,321.1 1675.3,320.9 1676.7,320.7 1678.2,320.3 1679.7,320.5 1681.2,320.5 1682.7,320.9 1684.2,320.8 1685.7,320.7 1687.1,320.8 1688.6,320.6 1690.1,320.5 1691.6,320.5 1693.1,320.7 1694.6,320.9 1696.1,320.9 1697.5,321.2 1699,321 1700.5,321.3 1702,321.3 1703.5,321.5 1705,321.5 1706.5,321.5 1707.9,321.2 1709.4,321.1 1710.9,321 1712.4,320.7 1713.9,320.9 1715.4,320.7 1716.9,320.8 1718.3,321 1719.8,321 1721.3,320.6 1722.8,320.2 1724.3,320.5 1725.8,320.8 1727.3,321 1728.7,320.8 1730.2,320.6 1731.7,320.5 1733.2,320.4 1734.7,320.1 1736.2,320.2 1737.7,320.2 1739.2,320.3 1740.6,320.6 1742.1,321 1743.6,320.7 1745.1,320.7 1746.6,320.7 1748.1,320.7 1749.6,320.5 1751,320.4 1752.5,320.9 1754,320.7 1755.5,320.4 1757,320.3 1758.5,320.3 1760,320.3 1761.4,320.6 1762.9,320.4 1764.4,320.4 1765.9,320.3 1767.4,320.2 1768.9,320.2 1770.4,320.4 1771.8,320.8 1773.3,320.7 1774.8,320.5 1776.3,320.3" fill="none" stroke="#377eb8" stroke-width="3.6" stroke-linejoin="round"/><polyline points="1627.7,346 1629.2,346 1630.7,345.7 1632.2,345.8 1633.6,345.8 1635.1,346.2 1636.6,346.1 1638.1,346.2 1639.6,345.9 1641.1,345.9 1642.6,346 1644,346.3 1645.5,346.5 1647,346.5 1648.5,346.2 1650,346.8 1651.5,347.4 1653,346.7 1654.4,346.4 1655.9,346.5 1657.4,346.7 1658.9,347.1 1660.4,347.4 1661.9,347.8 1663.4,347.7 1664.8,347.9 1666.3,348.6 1667.8,348.7 1669.3,348.9 1670.8,349.2 1672.3,348.9 1673.8,349.1 1675.3,350.3 1676.7,350.4 1678.2,350.5 1679.7,350.7 1681.2,351.1 1682.7,352.3 1684.2,352.5 1685.7,353.2 1687.1,353.5 1688.6,354.3 1690.1,355.5 1691.6,355.9 1693.1,357.2 1694.6,357.9 1696.1,358.9 1697.5,360.3 1699,362.1 1700.5,363.5 1702,364.9 1703.5,363.3 1705,361.8 1706.5,360.1 1707.9,358.9 1709.4,357.7 1710.9,357.1 1712.4,356.3 1713.9,355.2 1715.4,354.3 1716.9,353.5 1718.3,353.1 1719.8,352.8 1721.3,351.7 1722.8,351.5 1724.3,351.1 1725.8,350.3 1727.3,350 1728.7,349.8 1730.2,349.3 1731.7,349.1 1733.2,348.5 1734.7,348.4 1736.2,348.4 1737.7,347.6 1739.2,347.3 1740.6,347.3 1742.1,347.3 1743.6,347.5 1745.1,347.4 1746.6,347.5 1748.1,347 1749.6,346.5 1751,346.6 1752.5,346.6 1754,346.4 1755.5,346.3 1757,346.1 1758.5,346 1760,345.9 1761.4,345.8 1762.9,346.1 1764.4,345.8 1765.9,346.3 1767.4,346.1 1768.9,346 1770.4,345.8 1771.8,345.8 1773.3,345.7 1774.8,346.1 1776.3,346" fill="none" stroke="#4daf4a" stroke-width="3.6" stroke-linejoin="round"/><polyline points="1627.7,340 1629.2,339.7 1630.7,339.9 1632.2,339.8 1633.6,340.1 1635.1,340 1636.6,340.2 1638.1,340.1 1639.6,340 1641.1,339.7 1642.6,339.8 1644,339.9 1645.5,340 1647,340.2 1648.5,339.6 1650,339.9 1651.5,339.7 1653,339.4 1654.4,339.3 1655.9,339.5 1657.4,339.2 1658.9,338.8 1660.4,338.5 1661.9,338.9 1663.4,338.7 1664.8,338.5 1666.3,337.8 1667.8,337.9 1669.3,337.9 1670.8,337.5 1672.3,337.9 1673.8,337.8 1675.3,338 1676.7,337.6 1678.2,337.4 1679.7,337.2 1681.2,336.6 1682.7,336.1 1684.2,335.8 1685.7,335.6 1687.1,335.4 1688.6,335.3 1690.1,334.7 1691.6,334.1 1693.1,333.8 1694.6,333.5 1696.1,333 1697.5,332.2 1699,331.3 1700.5,330.5 1702,330.2 1703.5,331 1705,331.8 1706.5,332 1707.9,332.5 1709.4,333.3 1710.9,333.7 1712.4,334.1 1713.9,334.5 1715.4,334.8 1716.9,335.4 1718.3,336 1719.8,336 1721.3,335.9 1722.8,336.6 1724.3,337.1 1725.8,337.1 1727.3,337.6 1728.7,338.3 1730.2,338.3 1731.7,338 1733.2,337.9 1734.7,337.9 1736.2,338.4 1737.7,338.5 1739.2,338.7 1740.6,339 1742.1,338.9 1743.6,339.3 1745.1,339.1 1746.6,339 1748.1,339 1749.6,339.1 1751,339.4 1752.5,339 1754,338.7 1755.5,339.2 1757,339.4 1758.5,339.7 1760,339.8 1761.4,339.6 1762.9,339.4 1764.4,339.8 1765.9,340 1767.4,340.3 1768.9,340.2 1770.4,340.3 1771.8,340.2 1773.3,340.1 1774.8,340.5 1776.3,340.6" fill="none" stroke="#e41a1c" stroke-width="3.6" stroke-linejoin="round"/><polyline points="1627.7,334.8 1629.2,335 1630.7,335.1 1632.2,334.9 1633.6,335.3 1635.1,334.5 1636.6,334.5 1638.1,334.4 1639.6,334.4 1641.1,334.2 1642.6,334.4 1644,334.2 1645.5,334.1 1647,334 1648.5,334.2 1650,333.9 1651.5,334 1653,333.9 1654.4,333.9 1655.9,333.6 1657.4,334 1658.9,333.7 1660.4,333.6 1661.9,333.8 1663.4,333.4 1664.8,333.2 1666.3,333.2 1667.8,333.4 1669.3,333.4 1670.8,333.4 1672.3,332.8 1673.8,332.9 1675.3,332.6 1676.7,333 1678.2,332.6 1679.7,332 1681.2,331.9 1682.7,332.1 1684.2,331.8 1685.7,331.4 1687.1,331.1 1688.6,330.8 1690.1,330.5 1691.6,330.1 1693.1,330 1694.6,329.4 1696.1,328.7 1697.5,328.2 1699,328 1700.5,327.5 1702,326.5 1703.5,327.5 1705,327.9 1706.5,328.5 1707.9,328.7 1709.4,329.2 1710.9,329.4 1712.4,329.7 1713.9,330.2 1715.4,330.5 1716.9,331 1718.3,331.1 1719.8,331.5 1721.3,332 1722.8,332.3 1724.3,332.1 1725.8,332.3 1727.3,332.5 1728.7,332.9 1730.2,333.4 1731.7,333.3 1733.2,333.4 1734.7,333.8 1736.2,333.8 1737.7,333.6 1739.2,333.7 1740.6,333.9 1742.1,333.9 1743.6,334 1745.1,333.9 1746.6,334.2 1748.1,334.3 1749.6,334.7 1751,335 1752.5,334.9 1754,334.9 1755.5,335 1757,335.2 1758.5,334.8 1760,334.8 1761.4,335.2 1762.9,335.5 1764.4,335 1765.9,335.1 1767.4,335.6 1768.9,335.7 1770.4,335.4 1771.8,335 1773.3,334.7 1774.8,334.7 1776.3,335" fill="none" stroke="#984ea3" stroke-width="3.6" stroke-linejoin="round"/><polyline points="1832.5,319.3 1834,319.6 1835.5,319.6 1837,319.4 1838.4,319.9 1839.9,319.1 1841.4,319.1 1842.9,318.9 1844.4,318.9 1845.9,318.8 1847.4,318.9 1848.8,318.8 1850.3,318.7 1851.8,318.6 1853.3,318.8 1854.8,318.5 1856.3,318.6 1857.8,318.6 1859.2,318.6 1860.7,318.3 1862.2,318.7 1863.7,318.5 1865.2,318.4 1866.7,318.7 1868.2,318.3 1869.6,318.2 1871.1,318.3 1872.6,318.5 1874.1,318.6 1875.6,318.6 1877.1,318.1 1878.6,318.4 1880.1,318.1 1881.5,318.7 1883,318.4 1884.5,317.9 1886,318 1887.5,318.3 1889,318.2 1890.5,317.9 1891.9,317.9 1893.4,317.8 1894.9,317.7 1896.4,317.6 1897.9,317.8 1899.4,317.5 1900.9,317.2 1902.3,317 1903.8,317.2 1905.3,317.1 1906.8,316.6 1908.3,317.1 1909.8,317 1911.3,317.3 1912.7,317.1 1914.2,317.2 1915.7,317.1 1917.2,317.1 1918.7,317.4 1920.2,317.4 1921.7,317.6 1923.1,317.5 1924.6,317.7 1926.1,318.1 1927.6,318.2 1929.1,317.9 1930.6,317.9 1932.1,318 1933.5,318.2 1935,318.6 1936.5,318.5 1938,318.4 1939.5,318.8 1941,318.7 1942.5,318.4 1944,318.4 1945.4,318.5 1946.9,318.5 1948.4,318.5 1949.9,318.4 1951.4,318.7 1952.9,318.7 1954.4,319.1 1955.8,319.3 1957.3,319.1 1958.8,319.1 1960.3,319.2 1961.8,319.4 1963.3,319 1964.8,319 1966.2,319.3 1967.7,319.6 1969.2,319.1 1970.7,319.2 1972.2,319.6 1973.7,319.7 1975.2,319.4 1976.6,319 1978.1,318.7 1979.6,318.7 1981.1,319" fill="none" stroke="#377eb8" stroke-width="3.6" stroke-linejoin="round"/><polyline points="1832.5,342.1 1834,342.4 1835.5,342.3 1837,342.9 1838.4,342.7 1839.9,342.3 1841.4,342 1842.9,342.5 1844.4,342.7 1845.9,342.7 1847.4,343.3 1848.8,342.7 1850.3,342.6 1851.8,342.6 1853.3,342.5 1854.8,342.8 1856.3,342.9 1857.8,342.9 1859.2,342.9 1860.7,343.2 1862.2,343.6 1863.7,343.5 1865.2,343.6 1866.7,344 1868.2,343.8 1869.6,343.9 1871.1,344 1872.6,344.3 1874.1,344.4 1875.6,344.4 1877.1,344.9 1878.6,344.9 1880.1,345.3 1881.5,345.6 1883,345.7 1884.5,346.1 1886,346.5 1887.5,347.2 1889,347.6 1890.5,348 1891.9,348.6 1893.4,349.2 1894.9,349.5 1896.4,349.9 1897.9,350.8 1899.4,351.6 1900.9,352.1 1902.3,352.6 1903.8,353.8 1905.3,354.7 1906.8,355.4 1908.3,354.1 1909.8,353.2 1911.3,352.8 1912.7,351.7 1914.2,351.1 1915.7,350.6 1917.2,349.9 1918.7,349.5 1920.2,349.1 1921.7,349.1 1923.1,348 1924.6,347.4 1926.1,347.1 1927.6,346.6 1929.1,346.2 1930.6,346 1932.1,345.7 1933.5,345.4 1935,345.6 1936.5,345.4 1938,344.9 1939.5,344.2 1941,343.8 1942.5,343.5 1944,343.2 1945.4,343.2 1946.9,343 1948.4,342.9 1949.9,342.9 1951.4,342.8 1952.9,342.6 1954.4,342.6 1955.8,342.6 1957.3,342.4 1958.8,342.2 1960.3,342.1 1961.8,341.7 1963.3,341.7 1964.8,341.7 1966.2,341.8 1967.7,342 1969.2,341.7 1970.7,341.5 1972.2,341.3 1973.7,341.2 1975.2,341.4 1976.6,341.2 1978.1,341.2 1979.6,341 1981.1,341.2" fill="none" stroke="#984ea3" stroke-width="3.6" stroke-linejoin="round"/><polyline points="1832.5,339.9 1834,339.7 1835.5,340 1837,340.3 1838.4,340.1 1839.9,339.7 1841.4,339.8 1842.9,340.1 1844.4,340.3 1845.9,340.2 1847.4,339.9 1848.8,339.9 1850.3,340 1851.8,340 1853.3,339.9 1854.8,340.1 1856.3,340 1857.8,339.8 1859.2,339.4 1860.7,339.6 1862.2,339.4 1863.7,339.7 1865.2,339.4 1866.7,339.4 1868.2,339.5 1869.6,339.4 1871.1,339.1 1872.6,339.2 1874.1,338.9 1875.6,338.5 1877.1,338.2 1878.6,338 1880.1,338.4 1881.5,338.3 1883,338.3 1884.5,337.9 1886,337.8 1887.5,337.6 1889,337.3 1890.5,337.2 1891.9,336.9 1893.4,336.8 1894.9,335.9 1896.4,335.8 1897.9,335.4 1899.4,335.4 1900.9,335.2 1902.3,334.6 1903.8,333.7 1905.3,332.9 1906.8,332.2 1908.3,333.1 1909.8,333.3 1911.3,334.2 1912.7,334.9 1914.2,335.2 1915.7,335.9 1917.2,336.1 1918.7,336.3 1920.2,336.7 1921.7,337 1923.1,337.3 1924.6,337.8 1926.1,338.7 1927.6,338.9 1929.1,338.9 1930.6,339.3 1932.1,339.3 1933.5,339.3 1935,339 1936.5,339.5 1938,339.7 1939.5,339.7 1941,339.7 1942.5,340.1 1944,339.7 1945.4,340.1 1946.9,339.9 1948.4,340.1 1949.9,340.2 1951.4,339.9 1952.9,340 1954.4,340.2 1955.8,340.6 1957.3,340.8 1958.8,341.1 1960.3,340.5 1961.8,341 1963.3,341.5 1964.8,340.9 1966.2,340.7 1967.7,340.9 1969.2,340.8 1970.7,341.1 1972.2,341.2 1973.7,341.1 1975.2,341 1976.6,341.2 1978.1,340.8 1979.6,340.8 1981.1,341" fill="none" stroke="#e41a1c" stroke-width="3.6" stroke-linejoin="round"/><polyline points="1832.5,337.8 1834,337.9 1835.5,337.1 1837,337.2 1838.4,337.4 1839.9,337.4 1841.4,337.7 1842.9,337.9 1844.4,337.7 1845.9,337.8 1847.4,337.5 1848.8,337.6 1850.3,338 1851.8,338.1 1853.3,338 1854.8,338.2 1856.3,337.9 1857.8,337.7 1859.2,337.3 1860.7,337.5 1862.2,337.4 1863.7,337.1 1865.2,336.9 1866.7,337.2 1868.2,336.7 1869.6,336.9 1871.1,336.6 1872.6,336.7 1874.1,336.7 1875.6,336.9 1877.1,336.7 1878.6,336 1880.1,336.2 1881.5,335.8 1883,335.6 1884.5,335.8 1886,335.5 1887.5,335.2 1889,335.4 1890.5,335.5 1891.9,335.1 1893.4,335 1894.9,334.4 1896.4,334.4 1897.9,334.7 1899.4,334.5 1900.9,334.6 1902.3,334.1 1903.8,333.8 1905.3,333.7 1906.8,333.7 1908.3,333.6 1909.8,334 1911.3,333.9 1912.7,334.4 1914.2,334.7 1915.7,334.9 1917.2,335.3 1918.7,334.7 1920.2,334.6 1921.7,335.1 1923.1,335.2 1924.6,335.9 1926.1,335.6 1927.6,335.6 1929.1,335.9 1930.6,336.1 1932.1,336.2 1933.5,336.2 1935,336.4 1936.5,336.7 1938,336.8 1939.5,336.9 1941,336.7 1942.5,336.8 1944,336.8 1945.4,337.3 1946.9,337.3 1948.4,337.4 1949.9,337.5 1951.4,337.4 1952.9,337.5 1954.4,337.8 1955.8,337.4 1957.3,337.2 1958.8,337.5 1960.3,337.4 1961.8,337.7 1963.3,338 1964.8,337.9 1966.2,337.4 1967.7,337.6 1969.2,338 1970.7,337.9 1972.2,338 1973.7,338.1 1975.2,337.9 1976.6,338.3 1978.1,338.5 1979.6,338.6 1981.1,338.1" fill="none" stroke="#4daf4a" stroke-width="3.6" stroke-linejoin="round"/><text x="1029.5" y="643.6" font-size="41" font-weight="bold">e</text><rect x="1144.7" y="650.3" width="139.3" height="811.2" fill="#cccccc"/><text x="1219.3" y="675.7" font-size="23.3" text-anchor="middle">Promoter</text><polygon points="1118.0,832.4 1118.0,827.0 1118.9,829.3 1119.9,828.9 1120.9,829.9 1121.9,827.9 1122.9,829.6 1123.8,829.1 1124.8,829.1 1125.8,828.9 1126.8,829.0 1127.8,826.8 1128.7,829.6 1129.7,828.6 1130.7,828.5 1131.7,828.9 1132.7,829.0 1133.6,829.2 1134.6,829.9 1135.6,829.6 1136.6,829.7 1137.6,829.3 1138.5,830.0 1139.5,827.1 1140.5,829.9 1141.5,829.6 1142.5,829.7 1143.4,828.0 1144.4,828.0 1145.4,829.1 1146.4,827.7 1147.3,830.0 1148.3,829.1 1149.3,829.2 1150.3,828.6 1151.3,828.9 1152.2,828.0 1153.2,826.0 1154.2,829.1 1155.2,828.8 1156.2,827.4 1157.1,827.0 1158.1,828.1 1159.1,827.1 1160.1,827.3 1161.1,826.6 1162.0,827.3 1163.0,825.9 1164.0,826.2 1165.0,827.2 1166.0,826.6 1166.9,821.4 1167.9,824.1 1168.9,821.4 1169.9,820.0 1170.9,824.0 1171.8,823.0 1172.8,823.1 1173.8,825.3 1174.8,827.0 1175.7,827.9 1176.7,827.0 1177.7,826.4 1178.7,826.8 1179.7,824.7 1180.6,824.9 1181.6,825.1 1182.6,826.6 1183.6,826.2 1184.6,822.4 1185.5,825.5 1186.5,824.2 1187.5,824.5 1188.5,825.1 1189.5,824.0 1190.4,822.5 1191.4,820.8 1192.4,824.0 1193.4,823.3 1194.4,822.4 1195.3,821.1 1196.3,822.5 1197.3,823.0 1198.3,822.5 1199.3,820.0 1200.2,817.8 1201.2,817.0 1202.2,814.6 1203.2,814.6 1204.1,813.2 1205.1,807.2 1206.1,809.6 1207.1,801.9 1208.1,803.9 1209.0,802.1 1210.0,798.2 1211.0,794.7 1212.0,793.3 1213.0,789.5 1213.9,791.1 1214.9,794.6 1215.9,796.8 1216.9,801.1 1217.9,796.9 1218.8,799.3 1219.8,797.1 1220.8,795.4 1221.8,790.7 1222.8,793.3 1223.7,795.2 1224.7,797.4 1225.7,795.9 1226.7,799.5 1227.7,800.5 1228.6,801.6 1229.6,800.4 1230.6,797.6 1231.6,794.0 1232.5,793.5 1233.5,793.3 1234.5,795.1 1235.5,789.7 1236.5,798.9 1237.4,801.0 1238.4,801.6 1239.4,801.4 1240.4,800.3 1241.4,798.6 1242.3,792.7 1243.3,794.3 1244.3,793.2 1245.3,795.6 1246.3,802.9 1247.2,806.3 1248.2,809.3 1249.2,808.5 1250.2,811.5 1251.2,813.9 1252.1,816.6 1253.1,817.7 1254.1,817.6 1255.1,818.6 1256.1,820.2 1257.0,817.6 1258.0,820.4 1259.0,819.2 1260.0,819.5 1261.0,822.0 1261.9,821.5 1262.9,822.7 1263.9,820.7 1264.9,823.8 1265.8,824.0 1266.8,824.7 1267.8,825.4 1268.8,825.7 1269.8,822.9 1270.7,825.2 1271.7,828.2 1272.7,826.2 1273.7,827.5 1274.7,830.2 1275.6,830.1 1276.6,829.9 1277.6,830.8 1278.6,830.2 1279.6,830.9 1280.5,831.2 1281.5,829.8 1282.5,831.3 1283.5,831.4 1284.5,830.3 1285.4,830.4 1286.4,831.7 1287.4,831.7 1288.4,831.5 1289.4,831.8 1290.3,830.9 1291.3,831.7 1292.3,830.4 1293.3,831.9 1294.2,830.5 1295.2,831.7 1296.2,831.5 1297.2,831.8 1298.2,830.9 1299.1,830.3 1300.1,830.4 1301.1,831.7 1302.1,831.8 1303.1,829.5 1304.0,830.0 1305.0,831.7 1306.0,831.5 1307.0,830.3 1308.0,830.3 1308.9,831.7 1309.9,830.6 1310.9,830.8 1311.9,831.9 1312.9,830.4 1313.8,831.9 1314.8,831.4 1315.8,831.7 1316.8,831.8 1317.8,829.9 1318.7,830.7 1319.7,831.1 1320.7,830.8 1321.7,831.3 1322.6,830.9 1323.6,829.9 1324.6,830.5 1325.6,831.4 1326.6,830.3 1327.5,831.1 1328.5,829.6 1329.5,831.1 1330.5,830.4 1331.5,831.3 1332.4,829.5 1333.4,830.3 1334.4,831.3 1335.4,830.9 1336.4,831.3 1337.3,830.6 1338.3,829.5 1339.3,830.3 1340.3,831.2 1341.3,829.9 1342.2,830.3 1343.2,830.7 1344.2,831.1 1345.2,829.6 1346.2,830.9 1347.1,831.6 1348.1,830.9 1349.1,831.5 1350.1,830.3 1351.1,829.9 1352.0,830.8 1353.0,829.7 1354.0,831.6 1355.0,830.8 1355.9,830.0 1356.9,830.8 1357.9,830.9 1358.9,830.5 1359.9,831.4 1360.8,831.0 1361.8,830.7 1362.8,831.0 1363.8,829.9 1364.8,828.8 1365.7,830.9 1366.7,830.6 1367.7,831.2 1368.7,830.8 1369.7,831.1 1370.6,829.2 1371.6,830.9 1372.6,830.5 1373.6,830.7 1374.6,830.8 1375.5,831.0 1376.5,830.8 1377.5,830.3 1378.5,830.5 1379.5,828.5 1380.4,830.8 1381.4,830.7 1382.4,830.9 1383.4,830.7 1384.3,831.2 1385.3,829.9 1386.3,831.2 1387.3,831.3 1388.3,830.8 1389.2,830.0 1390.2,830.9 1391.2,830.6 1392.2,829.4 1393.2,829.4 1394.1,828.4 1395.1,829.3 1396.1,831.3 1397.1,830.8 1398.1,829.5 1399.0,829.9 1400.0,830.2 1401.0,831.1 1402.0,831.3 1403.0,829.5 1403.9,830.9 1404.9,828.8 1405.9,830.4 1406.9,828.6 1407.9,829.5 1408.8,830.6 1409.8,830.1 1410.8,829.8 1411.8,828.3 1412.7,830.6 1413.7,831.1 1414.7,830.3 1415.7,829.3 1416.7,828.5 1417.6,830.6 1418.6,829.1 1419.6,828.9 1420.6,827.3 1421.6,824.3 1422.5,825.2 1423.5,823.3 1424.5,823.2 1425.5,822.3 1426.5,816.8 1427.4,816.0 1428.4,810.6 1429.4,812.2 1430.4,804.9 1431.4,804.6 1432.3,809.9 1433.3,814.4 1434.3,812.8 1435.3,818.3 1436.3,821.5 1437.2,821.1 1438.2,821.3 1439.2,820.6 1440.2,817.7 1441.2,816.0 1442.1,818.9 1443.1,816.4 1444.1,819.2 1445.1,820.5 1446.0,819.6 1447.0,821.4 1448.0,825.1 1449.0,825.7 1450.0,827.1 1450.9,825.9 1451.9,825.8 1452.9,824.0 1453.9,825.3 1454.9,825.1 1455.8,823.5 1456.8,824.7 1457.8,823.9 1458.8,822.1 1459.8,824.2 1460.7,821.2 1461.7,822.4 1462.7,821.4 1463.7,823.5 1464.7,823.8 1465.6,826.0 1466.6,827.9 1467.6,828.8 1468.6,826.8 1469.6,828.9 1470.5,828.5 1471.5,828.4 1472.5,825.1 1473.5,829.3 1474.4,826.5 1475.4,828.5 1476.4,828.6 1477.4,827.8 1478.4,826.6 1479.3,827.0 1480.3,826.9 1481.3,826.6 1482.3,826.7 1483.3,826.3 1484.2,826.3 1485.2,826.0 1486.2,824.9 1487.2,825.0 1488.2,823.0 1489.1,823.8 1490.1,823.6 1491.1,825.7 1492.1,826.5 1493.1,826.3 1494.0,826.6 1495.0,826.1 1496.0,827.0 1497.0,828.4 1498.0,829.4 1498.9,829.3 1499.9,829.3 1500.9,827.1 1501.9,830.1 1502.8,828.5 1503.8,829.1 1504.8,829.3 1505.8,830.2 1506.8,828.3 1507.7,830.4 1508.7,829.6 1509.7,829.5 1510.7,829.5 1511.7,829.9 1512.6,829.3 1513.6,829.2 1514.6,829.5 1515.6,829.5 1516.6,830.4 1517.5,830.0 1518.5,829.9 1519.5,830.2 1520.5,829.4 1521.5,830.2 1522.4,829.0 1523.4,829.2 1524.4,828.9 1525.4,827.8 1526.4,830.9 1527.3,830.3 1528.3,828.0 1529.3,830.6 1530.3,829.6 1531.3,829.6 1532.2,829.4 1533.0,832.4" fill="#e41a1c" stroke="#e41a1c" stroke-width="3" stroke-linejoin="round"/><line x1="1118" y1="651.2" x2="1118" y2="833.9" stroke="#000" stroke-width="3.2"/><line x1="1111" y1="832.4" x2="1118" y2="832.4" stroke="#000" stroke-width="3.5"/><text x="1099" y="839.8" font-size="20.8" text-anchor="end">0.0</text><line x1="1111" y1="783.1" x2="1118" y2="783.1" stroke="#000" stroke-width="3.5"/><text x="1099" y="790.5" font-size="20.8" text-anchor="end">0.5</text><line x1="1111" y1="733.8" x2="1118" y2="733.8" stroke="#000" stroke-width="3.5"/><text x="1099" y="741.2" font-size="20.8" text-anchor="end">1.0</text><line x1="1111" y1="684.5" x2="1118" y2="684.5" stroke="#000" stroke-width="3.5"/><text x="1099" y="691.9" font-size="20.8" text-anchor="end">1.5</text><text x="1532" y="671.2" font-size="20.8" text-anchor="end" fill="#e41a1c">CCOC</text><polygon points="1118.0,1027.4 1118.0,1024.3 1118.9,1024.4 1119.9,1023.4 1120.9,1022.1 1121.9,1023.0 1122.9,1024.0 1123.8,1023.7 1124.8,1024.7 1125.8,1024.9 1126.8,1023.1 1127.8,1024.7 1128.7,1022.9 1129.7,1023.6 1130.7,1021.9 1131.7,1021.8 1132.7,1020.4 1133.6,1020.1 1134.6,1020.1 1135.6,1020.7 1136.6,1021.0 1137.6,1021.1 1138.5,1023.6 1139.5,1022.4 1140.5,1025.5 1141.5,1025.5 1142.5,1025.1 1143.4,1025.5 1144.4,1023.3 1145.4,1024.1 1146.4,1024.0 1147.3,1023.1 1148.3,1023.1 1149.3,1023.8 1150.3,1021.3 1151.3,1024.0 1152.2,1024.8 1153.2,1023.6 1154.2,1021.2 1155.2,1017.5 1156.2,1011.6 1157.1,1010.7 1158.1,1006.7 1159.1,1005.3 1160.1,1003.7 1161.1,1002.7 1162.0,1002.8 1163.0,1001.4 1164.0,1003.0 1165.0,1000.9 1166.0,1001.2 1166.9,996.3 1167.9,998.5 1168.9,994.7 1169.9,995.2 1170.9,989.7 1171.8,992.3 1172.8,990.6 1173.8,988.7 1174.8,992.0 1175.7,993.6 1176.7,990.6 1177.7,996.5 1178.7,993.8 1179.7,991.5 1180.6,989.4 1181.6,987.7 1182.6,983.7 1183.6,981.3 1184.6,980.9 1185.5,977.1 1186.5,976.9 1187.5,975.2 1188.5,969.8 1189.5,965.1 1190.4,970.9 1191.4,964.5 1192.4,966.1 1193.4,958.1 1194.4,958.4 1195.3,957.7 1196.3,954.3 1197.3,954.6 1198.3,951.0 1199.3,942.8 1200.2,945.7 1201.2,933.9 1202.2,936.8 1203.2,935.4 1204.1,945.7 1205.1,953.7 1206.1,963.4 1207.1,954.9 1208.1,960.1 1209.0,956.7 1210.0,938.0 1211.0,918.9 1212.0,896.6 1213.0,877.6 1213.9,879.2 1214.9,869.4 1215.9,875.6 1216.9,873.5 1217.9,877.7 1218.8,867.1 1219.8,858.2 1220.8,859.7 1221.8,868.2 1222.8,871.1 1223.7,869.3 1224.7,875.2 1225.7,863.7 1226.7,880.1 1227.7,885.0 1228.6,886.7 1229.6,880.1 1230.6,900.4 1231.6,918.3 1232.5,929.3 1233.5,932.4 1234.5,931.6 1235.5,933.1 1236.5,924.6 1237.4,928.3 1238.4,931.5 1239.4,930.1 1240.4,931.5 1241.4,924.3 1242.3,912.6 1243.3,916.0 1244.3,923.9 1245.3,929.0 1246.3,930.2 1247.2,930.2 1248.2,930.5 1249.2,933.4 1250.2,932.3 1251.2,930.7 1252.1,934.3 1253.1,937.9 1254.1,936.3 1255.1,947.2 1256.1,945.4 1257.0,952.0 1258.0,956.6 1259.0,958.8 1260.0,958.5 1261.0,960.7 1261.9,965.2 1262.9,962.4 1263.9,969.0 1264.9,967.0 1265.8,979.3 1266.8,988.0 1267.8,992.2 1268.8,1000.0 1269.8,1008.7 1270.7,1010.0 1271.7,1009.8 1272.7,1014.6 1273.7,1015.8 1274.7,1017.7 1275.6,1018.3 1276.6,1021.9 1277.6,1019.7 1278.6,1022.7 1279.6,1024.1 1280.5,1023.6 1281.5,1023.6 1282.5,1022.9 1283.5,1025.9 1284.5,1026.9 1285.4,1026.8 1286.4,1026.9 1287.4,1024.7 1288.4,1026.4 1289.4,1026.4 1290.3,1025.1 1291.3,1026.7 1292.3,1026.4 1293.3,1025.4 1294.2,1024.8 1295.2,1026.0 1296.2,1026.6 1297.2,1026.0 1298.2,1024.4 1299.1,1026.6 1300.1,1025.9 1301.1,1024.0 1302.1,1024.6 1303.1,1025.9 1304.0,1025.6 1305.0,1025.8 1306.0,1024.1 1307.0,1025.6 1308.0,1024.4 1308.9,1026.7 1309.9,1026.7 1310.9,1025.2 1311.9,1026.5 1312.9,1026.0 1313.8,1025.6 1314.8,1025.6 1315.8,1026.0 1316.8,1025.8 1317.8,1026.2 1318.7,1026.0 1319.7,1025.8 1320.7,1025.4 1321.7,1025.4 1322.6,1025.7 1323.6,1025.9 1324.6,1025.5 1325.6,1023.0 1326.6,1024.0 1327.5,1024.6 1328.5,1024.7 1329.5,1023.6 1330.5,1024.2 1331.5,1025.1 1332.4,1026.0 1333.4,1024.7 1334.4,1024.0 1335.4,1025.7 1336.4,1025.4 1337.3,1024.8 1338.3,1025.1 1339.3,1022.9 1340.3,1025.5 1341.3,1024.9 1342.2,1026.0 1343.2,1025.3 1344.2,1024.3 1345.2,1025.7 1346.2,1023.6 1347.1,1025.0 1348.1,1025.3 1349.1,1025.0 1350.1,1023.5 1351.1,1024.9 1352.0,1025.8 1353.0,1025.2 1354.0,1024.8 1355.0,1025.8 1355.9,1022.7 1356.9,1025.7 1357.9,1025.1 1358.9,1022.9 1359.9,1021.5 1360.8,1025.2 1361.8,1024.2 1362.8,1023.2 1363.8,1025.0 1364.8,1023.4 1365.7,1025.5 1366.7,1025.3 1367.7,1022.0 1368.7,1022.3 1369.7,1023.6 1370.6,1023.4 1371.6,1024.8 1372.6,1024.5 1373.6,1025.3 1374.6,1025.1 1375.5,1024.0 1376.5,1024.7 1377.5,1024.0 1378.5,1023.7 1379.5,1024.3 1380.4,1022.3 1381.4,1024.6 1382.4,1022.1 1383.4,1022.2 1384.3,1025.0 1385.3,1023.0 1386.3,1024.6 1387.3,1025.1 1388.3,1022.6 1389.2,1023.1 1390.2,1024.4 1391.2,1022.9 1392.2,1023.6 1393.2,1021.3 1394.1,1022.3 1395.1,1024.4 1396.1,1020.9 1397.1,1024.4 1398.1,1023.1 1399.0,1023.9 1400.0,1023.4 1401.0,1023.9 1402.0,1022.2 1403.0,1023.9 1403.9,1023.8 1404.9,1023.7 1405.9,1021.0 1406.9,1022.4 1407.9,1022.6 1408.8,1022.4 1409.8,1022.4 1410.8,1022.5 1411.8,1020.8 1412.7,1020.6 1413.7,1020.4 1414.7,1021.7 1415.7,1021.4 1416.7,1023.1 1417.6,1022.7 1418.6,1021.5 1419.6,1018.5 1420.6,1013.4 1421.6,1016.1 1422.5,1012.5 1423.5,1011.0 1424.5,1009.8 1425.5,1005.7 1426.5,1003.2 1427.4,999.2 1428.4,995.0 1429.4,991.6 1430.4,986.3 1431.4,987.1 1432.3,987.1 1433.3,994.8 1434.3,1000.0 1435.3,1003.0 1436.3,1008.3 1437.2,1008.2 1438.2,1008.2 1439.2,1007.4 1440.2,1008.4 1441.2,1003.2 1442.1,1006.5 1443.1,1008.0 1444.1,1006.9 1445.1,1006.1 1446.0,1009.6 1447.0,1011.1 1448.0,1012.2 1449.0,1016.4 1450.0,1017.1 1450.9,1015.6 1451.9,1017.8 1452.9,1018.2 1453.9,1017.3 1454.9,1018.1 1455.8,1019.3 1456.8,1019.7 1457.8,1019.3 1458.8,1018.5 1459.8,1020.8 1460.7,1020.3 1461.7,1020.4 1462.7,1021.6 1463.7,1021.7 1464.7,1023.6 1465.6,1023.3 1466.6,1023.3 1467.6,1024.2 1468.6,1024.7 1469.6,1023.4 1470.5,1022.7 1471.5,1022.2 1472.5,1023.7 1473.5,1021.9 1474.4,1025.0 1475.4,1023.7 1476.4,1024.2 1477.4,1024.3 1478.4,1025.1 1479.3,1024.0 1480.3,1023.3 1481.3,1021.9 1482.3,1021.7 1483.3,1024.9 1484.2,1022.5 1485.2,1024.7 1486.2,1022.6 1487.2,1020.1 1488.2,1018.5 1489.1,1017.9 1490.1,1017.0 1491.1,1018.5 1492.1,1017.0 1493.1,1017.6 1494.0,1018.1 1495.0,1018.5 1496.0,1018.9 1497.0,1019.3 1498.0,1018.2 1498.9,1019.1 1499.9,1016.8 1500.9,1018.0 1501.9,1018.3 1502.8,1019.8 1503.8,1020.4 1504.8,1019.1 1505.8,1023.5 1506.8,1023.7 1507.7,1023.4 1508.7,1024.9 1509.7,1024.9 1510.7,1022.7 1511.7,1024.9 1512.6,1023.6 1513.6,1025.4 1514.6,1025.3 1515.6,1024.1 1516.6,1022.8 1517.5,1024.9 1518.5,1025.0 1519.5,1023.3 1520.5,1024.8 1521.5,1023.4 1522.4,1024.7 1523.4,1022.7 1524.4,1023.9 1525.4,1023.1 1526.4,1024.1 1527.3,1024.5 1528.3,1023.3 1529.3,1021.7 1530.3,1024.1 1531.3,1023.5 1532.2,1023.7 1533.0,1027.4" fill="#377eb8" stroke="#377eb8" stroke-width="3" stroke-linejoin="round"/><line x1="1118" y1="845.7" x2="1118" y2="1028.9" stroke="#000" stroke-width="3.2"/><line x1="1111" y1="1027.4" x2="1118" y2="1027.4" stroke="#000" stroke-width="3.5"/><text x="1099" y="1034.8" font-size="20.8" text-anchor="end">0.0</text><line x1="1111" y1="978.1" x2="1118" y2="978.1" stroke="#000" stroke-width="3.5"/><text x="1099" y="985.5" font-size="20.8" text-anchor="end">0.5</text><line x1="1111" y1="928.8" x2="1118" y2="928.8" stroke="#000" stroke-width="3.5"/><text x="1099" y="936.2" font-size="20.8" text-anchor="end">1.0</text><line x1="1111" y1="879.5" x2="1118" y2="879.5" stroke="#000" stroke-width="3.5"/><text x="1099" y="886.9" font-size="20.8" text-anchor="end">1.5</text><text x="1532" y="865.8" font-size="20.8" text-anchor="end" fill="#377eb8">EnOC</text><polygon points="1118.0,1221.5 1118.0,1212.1 1118.9,1212.8 1119.9,1213.6 1120.9,1213.3 1121.9,1215.0 1122.9,1213.4 1123.8,1216.1 1124.8,1216.8 1125.8,1216.4 1126.8,1216.2 1127.8,1215.5 1128.7,1213.4 1129.7,1213.9 1130.7,1214.4 1131.7,1212.8 1132.7,1211.9 1133.6,1212.9 1134.6,1210.4 1135.6,1212.4 1136.6,1213.2 1137.6,1213.8 1138.5,1213.5 1139.5,1216.8 1140.5,1217.5 1141.5,1216.7 1142.5,1217.7 1143.4,1217.4 1144.4,1217.5 1145.4,1216.5 1146.4,1215.9 1147.3,1216.7 1148.3,1215.0 1149.3,1213.1 1150.3,1216.4 1151.3,1215.8 1152.2,1211.7 1153.2,1207.6 1154.2,1201.9 1155.2,1198.3 1156.2,1193.3 1157.1,1191.4 1158.1,1186.5 1159.1,1183.4 1160.1,1177.4 1161.1,1174.3 1162.0,1171.6 1163.0,1166.8 1164.0,1163.8 1165.0,1160.3 1166.0,1159.2 1166.9,1159.5 1167.9,1158.6 1168.9,1158.9 1169.9,1149.2 1170.9,1155.0 1171.8,1152.8 1172.8,1153.2 1173.8,1149.1 1174.8,1152.1 1175.7,1149.5 1176.7,1148.8 1177.7,1156.9 1178.7,1153.4 1179.7,1159.5 1180.6,1156.4 1181.6,1146.6 1182.6,1145.8 1183.6,1137.4 1184.6,1129.8 1185.5,1120.0 1186.5,1113.5 1187.5,1097.7 1188.5,1106.4 1189.5,1104.2 1190.4,1102.3 1191.4,1098.3 1192.4,1095.2 1193.4,1095.6 1194.4,1098.0 1195.3,1092.4 1196.3,1091.9 1197.3,1094.2 1198.3,1082.4 1199.3,1087.0 1200.2,1090.0 1201.2,1097.7 1202.2,1100.0 1203.2,1115.0 1204.1,1120.8 1205.1,1128.6 1206.1,1126.9 1207.1,1126.6 1208.1,1128.6 1209.0,1123.1 1210.0,1111.1 1211.0,1099.7 1212.0,1078.6 1213.0,1073.1 1213.9,1041.6 1214.9,1045.9 1215.9,1033.0 1216.9,1045.4 1217.9,1040.3 1218.8,1038.8 1219.8,1054.1 1220.8,1049.3 1221.8,1053.6 1222.8,1047.8 1223.7,1025.0 1224.7,1033.6 1225.7,1043.5 1226.7,1053.6 1227.7,1063.0 1228.6,1078.0 1229.6,1075.2 1230.6,1091.6 1231.6,1107.0 1232.5,1112.4 1233.5,1129.0 1234.5,1132.2 1235.5,1134.5 1236.5,1129.2 1237.4,1135.5 1238.4,1131.1 1239.4,1133.7 1240.4,1131.5 1241.4,1110.5 1242.3,1114.6 1243.3,1099.8 1244.3,1095.5 1245.3,1104.8 1246.3,1104.8 1247.2,1096.7 1248.2,1098.5 1249.2,1104.3 1250.2,1108.2 1251.2,1103.5 1252.1,1110.7 1253.1,1117.0 1254.1,1116.3 1255.1,1114.2 1256.1,1122.7 1257.0,1124.9 1258.0,1116.6 1259.0,1127.1 1260.0,1131.2 1261.0,1126.9 1261.9,1135.7 1262.9,1138.8 1263.9,1138.4 1264.9,1137.8 1265.8,1147.2 1266.8,1151.2 1267.8,1166.8 1268.8,1179.2 1269.8,1187.9 1270.7,1191.0 1271.7,1193.6 1272.7,1200.0 1273.7,1202.2 1274.7,1204.7 1275.6,1209.9 1276.6,1212.4 1277.6,1209.8 1278.6,1214.2 1279.6,1215.0 1280.5,1216.2 1281.5,1214.7 1282.5,1217.9 1283.5,1218.2 1284.5,1218.0 1285.4,1219.5 1286.4,1217.5 1287.4,1219.8 1288.4,1219.9 1289.4,1219.3 1290.3,1218.9 1291.3,1219.3 1292.3,1218.6 1293.3,1219.4 1294.2,1219.9 1295.2,1217.8 1296.2,1219.5 1297.2,1220.1 1298.2,1219.0 1299.1,1219.3 1300.1,1219.4 1301.1,1219.2 1302.1,1219.5 1303.1,1218.5 1304.0,1219.0 1305.0,1219.5 1306.0,1220.1 1307.0,1216.5 1308.0,1217.1 1308.9,1219.0 1309.9,1219.6 1310.9,1219.9 1311.9,1217.0 1312.9,1220.0 1313.8,1216.5 1314.8,1219.3 1315.8,1219.5 1316.8,1219.2 1317.8,1218.9 1318.7,1219.9 1319.7,1219.5 1320.7,1219.6 1321.7,1216.6 1322.6,1216.8 1323.6,1219.7 1324.6,1217.2 1325.6,1218.3 1326.6,1219.4 1327.5,1214.9 1328.5,1218.5 1329.5,1217.5 1330.5,1219.0 1331.5,1219.1 1332.4,1218.8 1333.4,1217.8 1334.4,1219.4 1335.4,1217.3 1336.4,1219.1 1337.3,1217.9 1338.3,1219.1 1339.3,1216.7 1340.3,1219.7 1341.3,1217.6 1342.2,1216.4 1343.2,1218.9 1344.2,1219.3 1345.2,1217.8 1346.2,1218.4 1347.1,1219.7 1348.1,1218.9 1349.1,1218.8 1350.1,1219.0 1351.1,1217.9 1352.0,1218.5 1353.0,1217.8 1354.0,1218.7 1355.0,1216.0 1355.9,1219.1 1356.9,1218.9 1357.9,1217.2 1358.9,1219.5 1359.9,1218.0 1360.8,1219.0 1361.8,1218.4 1362.8,1218.5 1363.8,1217.2 1364.8,1218.0 1365.7,1218.8 1366.7,1214.2 1367.7,1219.5 1368.7,1218.6 1369.7,1219.1 1370.6,1219.2 1371.6,1215.8 1372.6,1217.1 1373.6,1217.3 1374.6,1218.9 1375.5,1218.8 1376.5,1218.2 1377.5,1217.3 1378.5,1215.9 1379.5,1216.4 1380.4,1219.3 1381.4,1219.3 1382.4,1218.9 1383.4,1218.2 1384.3,1217.5 1385.3,1216.2 1386.3,1218.9 1387.3,1218.8 1388.3,1217.8 1389.2,1218.1 1390.2,1219.1 1391.2,1217.2 1392.2,1219.1 1393.2,1218.3 1394.1,1218.5 1395.1,1218.4 1396.1,1215.8 1397.1,1219.1 1398.1,1218.9 1399.0,1218.7 1400.0,1218.1 1401.0,1218.5 1402.0,1215.8 1403.0,1218.1 1403.9,1216.8 1404.9,1216.1 1405.9,1216.5 1406.9,1214.0 1407.9,1215.5 1408.8,1215.1 1409.8,1211.4 1410.8,1212.5 1411.8,1211.8 1412.7,1211.9 1413.7,1211.5 1414.7,1210.1 1415.7,1211.2 1416.7,1210.5 1417.6,1209.3 1418.6,1206.1 1419.6,1207.4 1420.6,1202.9 1421.6,1204.2 1422.5,1202.9 1423.5,1202.3 1424.5,1199.6 1425.5,1198.2 1426.5,1192.3 1427.4,1192.1 1428.4,1190.7 1429.4,1186.8 1430.4,1182.5 1431.4,1180.2 1432.3,1179.1 1433.3,1184.6 1434.3,1182.7 1435.3,1185.2 1436.3,1190.6 1437.2,1189.6 1438.2,1188.7 1439.2,1192.7 1440.2,1188.9 1441.2,1193.0 1442.1,1191.5 1443.1,1193.0 1444.1,1191.7 1445.1,1188.8 1446.0,1189.7 1447.0,1193.9 1448.0,1191.0 1449.0,1194.7 1450.0,1197.4 1450.9,1198.6 1451.9,1198.4 1452.9,1199.7 1453.9,1202.1 1454.9,1201.2 1455.8,1200.5 1456.8,1203.8 1457.8,1206.3 1458.8,1206.4 1459.8,1207.2 1460.7,1207.4 1461.7,1210.7 1462.7,1211.2 1463.7,1212.1 1464.7,1211.3 1465.6,1212.4 1466.6,1211.2 1467.6,1212.4 1468.6,1211.2 1469.6,1211.6 1470.5,1212.7 1471.5,1211.4 1472.5,1211.3 1473.5,1211.8 1474.4,1211.4 1475.4,1211.7 1476.4,1213.3 1477.4,1210.5 1478.4,1209.3 1479.3,1213.5 1480.3,1210.8 1481.3,1213.0 1482.3,1213.7 1483.3,1211.1 1484.2,1213.5 1485.2,1213.5 1486.2,1213.2 1487.2,1212.8 1488.2,1212.8 1489.1,1211.0 1490.1,1214.1 1491.1,1213.0 1492.1,1213.9 1493.1,1212.9 1494.0,1213.5 1495.0,1214.0 1496.0,1213.6 1497.0,1213.7 1498.0,1212.6 1498.9,1214.2 1499.9,1213.3 1500.9,1214.0 1501.9,1214.8 1502.8,1213.4 1503.8,1214.2 1504.8,1215.7 1505.8,1213.7 1506.8,1214.9 1507.7,1214.9 1508.7,1214.5 1509.7,1215.0 1510.7,1215.8 1511.7,1212.7 1512.6,1215.8 1513.6,1216.2 1514.6,1215.6 1515.6,1214.9 1516.6,1215.8 1517.5,1215.9 1518.5,1215.8 1519.5,1215.9 1520.5,1214.6 1521.5,1216.7 1522.4,1216.3 1523.4,1217.3 1524.4,1217.2 1525.4,1217.6 1526.4,1215.8 1527.3,1217.4 1528.3,1217.4 1529.3,1215.9 1530.3,1216.9 1531.3,1217.3 1532.2,1215.8 1533.0,1221.5" fill="#4daf4a" stroke="#4daf4a" stroke-width="3" stroke-linejoin="round"/><line x1="1118" y1="1040.7" x2="1118" y2="1223" stroke="#000" stroke-width="3.2"/><line x1="1111" y1="1221.5" x2="1118" y2="1221.5" stroke="#000" stroke-width="3.5"/><text x="1099" y="1228.9" font-size="20.8" text-anchor="end">0.0</text><line x1="1111" y1="1172.2" x2="1118" y2="1172.2" stroke="#000" stroke-width="3.5"/><text x="1099" y="1179.6" font-size="20.8" text-anchor="end">0.5</text><line x1="1111" y1="1122.9" x2="1118" y2="1122.9" stroke="#000" stroke-width="3.5"/><text x="1099" y="1130.3" font-size="20.8" text-anchor="end">1.0</text><line x1="1111" y1="1073.6" x2="1118" y2="1073.6" stroke="#000" stroke-width="3.5"/><text x="1099" y="1081" font-size="20.8" text-anchor="end">1.5</text><text x="1532" y="1059.4" font-size="20.8" text-anchor="end" fill="#4daf4a">HGSOC</text><polygon points="1118.0,1415.5 1118.0,1403.5 1118.9,1406.4 1119.9,1406.5 1120.9,1407.0 1121.9,1407.8 1122.9,1407.2 1123.8,1408.8 1124.8,1410.8 1125.8,1409.7 1126.8,1411.4 1127.8,1409.4 1128.7,1409.4 1129.7,1409.2 1130.7,1411.2 1131.7,1411.2 1132.7,1411.9 1133.6,1410.6 1134.6,1410.1 1135.6,1412.1 1136.6,1412.2 1137.6,1411.0 1138.5,1412.8 1139.5,1412.8 1140.5,1411.1 1141.5,1411.2 1142.5,1413.4 1143.4,1413.2 1144.4,1413.3 1145.4,1410.3 1146.4,1412.5 1147.3,1413.4 1148.3,1413.1 1149.3,1412.5 1150.3,1410.7 1151.3,1407.4 1152.2,1406.1 1153.2,1402.6 1154.2,1402.2 1155.2,1402.2 1156.2,1399.5 1157.1,1394.6 1158.1,1391.6 1159.1,1389.9 1160.1,1387.4 1161.1,1381.6 1162.0,1382.2 1163.0,1378.2 1164.0,1374.9 1165.0,1379.0 1166.0,1377.1 1166.9,1374.5 1167.9,1374.4 1168.9,1373.3 1169.9,1372.0 1170.9,1373.8 1171.8,1378.8 1172.8,1378.6 1173.8,1380.8 1174.8,1383.5 1175.7,1379.6 1176.7,1386.5 1177.7,1385.9 1178.7,1382.9 1179.7,1385.9 1180.6,1384.4 1181.6,1382.2 1182.6,1376.3 1183.6,1375.1 1184.6,1371.4 1185.5,1366.9 1186.5,1366.0 1187.5,1363.8 1188.5,1363.0 1189.5,1360.8 1190.4,1349.5 1191.4,1355.3 1192.4,1350.3 1193.4,1349.3 1194.4,1345.4 1195.3,1329.7 1196.3,1332.3 1197.3,1331.1 1198.3,1329.1 1199.3,1322.5 1200.2,1313.2 1201.2,1322.4 1202.2,1315.7 1203.2,1313.5 1204.1,1330.4 1205.1,1339.7 1206.1,1352.7 1207.1,1358.9 1208.1,1342.6 1209.0,1318.6 1210.0,1308.0 1211.0,1294.8 1212.0,1280.5 1213.0,1270.4 1213.9,1257.7 1214.9,1263.1 1215.9,1268.3 1216.9,1264.7 1217.9,1268.7 1218.8,1265.6 1219.8,1263.8 1220.8,1258.0 1221.8,1257.0 1222.8,1265.8 1223.7,1263.6 1224.7,1268.5 1225.7,1268.5 1226.7,1266.2 1227.7,1254.2 1228.6,1256.8 1229.6,1273.7 1230.6,1271.6 1231.6,1283.2 1232.5,1289.1 1233.5,1285.4 1234.5,1296.8 1235.5,1289.9 1236.5,1308.3 1237.4,1304.5 1238.4,1306.3 1239.4,1312.5 1240.4,1313.5 1241.4,1307.9 1242.3,1306.5 1243.3,1312.9 1244.3,1313.1 1245.3,1315.2 1246.3,1315.9 1247.2,1318.5 1248.2,1321.2 1249.2,1325.5 1250.2,1328.5 1251.2,1328.1 1252.1,1330.6 1253.1,1335.8 1254.1,1335.5 1255.1,1333.6 1256.1,1339.1 1257.0,1344.2 1258.0,1345.5 1259.0,1347.9 1260.0,1343.7 1261.0,1351.4 1261.9,1348.0 1262.9,1350.1 1263.9,1354.9 1264.9,1357.7 1265.8,1359.2 1266.8,1368.4 1267.8,1376.2 1268.8,1389.2 1269.8,1396.0 1270.7,1398.8 1271.7,1400.3 1272.7,1401.8 1273.7,1405.9 1274.7,1405.7 1275.6,1409.0 1276.6,1408.4 1277.6,1410.9 1278.6,1410.1 1279.6,1410.8 1280.5,1410.7 1281.5,1412.9 1282.5,1412.6 1283.5,1410.2 1284.5,1412.3 1285.4,1412.0 1286.4,1414.0 1287.4,1414.0 1288.4,1411.7 1289.4,1412.2 1290.3,1413.2 1291.3,1411.0 1292.3,1413.3 1293.3,1413.5 1294.2,1412.0 1295.2,1414.0 1296.2,1413.9 1297.2,1412.3 1298.2,1414.1 1299.1,1412.3 1300.1,1412.9 1301.1,1413.8 1302.1,1413.2 1303.1,1412.7 1304.0,1414.0 1305.0,1413.3 1306.0,1413.6 1307.0,1412.7 1308.0,1412.3 1308.9,1412.0 1309.9,1413.5 1310.9,1412.4 1311.9,1413.0 1312.9,1411.4 1313.8,1413.9 1314.8,1412.3 1315.8,1410.4 1316.8,1410.4 1317.8,1413.9 1318.7,1411.9 1319.7,1413.5 1320.7,1413.9 1321.7,1412.6 1322.6,1411.0 1323.6,1413.7 1324.6,1412.9 1325.6,1412.3 1326.6,1410.6 1327.5,1411.8 1328.5,1412.6 1329.5,1412.9 1330.5,1413.2 1331.5,1410.4 1332.4,1413.9 1333.4,1413.4 1334.4,1412.8 1335.4,1411.6 1336.4,1411.8 1337.3,1413.0 1338.3,1413.8 1339.3,1413.2 1340.3,1412.7 1341.3,1413.8 1342.2,1412.6 1343.2,1412.4 1344.2,1411.8 1345.2,1412.6 1346.2,1412.8 1347.1,1412.2 1348.1,1413.1 1349.1,1411.5 1350.1,1413.4 1351.1,1411.9 1352.0,1412.3 1353.0,1410.8 1354.0,1413.5 1355.0,1413.2 1355.9,1411.4 1356.9,1413.0 1357.9,1411.3 1358.9,1412.9 1359.9,1411.9 1360.8,1409.8 1361.8,1413.2 1362.8,1413.3 1363.8,1413.2 1364.8,1413.4 1365.7,1413.2 1366.7,1411.3 1367.7,1411.7 1368.7,1412.7 1369.7,1411.6 1370.6,1412.7 1371.6,1410.6 1372.6,1413.1 1373.6,1413.3 1374.6,1413.1 1375.5,1413.1 1376.5,1410.7 1377.5,1411.3 1378.5,1412.6 1379.5,1412.8 1380.4,1413.5 1381.4,1413.1 1382.4,1412.5 1383.4,1412.6 1384.3,1410.6 1385.3,1412.1 1386.3,1412.1 1387.3,1410.9 1388.3,1412.8 1389.2,1412.5 1390.2,1413.1 1391.2,1411.3 1392.2,1412.9 1393.2,1411.3 1394.1,1412.2 1395.1,1410.8 1396.1,1411.5 1397.1,1412.2 1398.1,1412.0 1399.0,1411.5 1400.0,1411.3 1401.0,1412.8 1402.0,1412.9 1403.0,1411.7 1403.9,1412.4 1404.9,1411.7 1405.9,1410.4 1406.9,1413.0 1407.9,1413.1 1408.8,1413.0 1409.8,1410.9 1410.8,1412.0 1411.8,1412.0 1412.7,1412.2 1413.7,1412.5 1414.7,1412.3 1415.7,1410.6 1416.7,1409.6 1417.6,1408.8 1418.6,1406.5 1419.6,1406.1 1420.6,1406.3 1421.6,1403.7 1422.5,1400.5 1423.5,1397.6 1424.5,1394.0 1425.5,1391.9 1426.5,1389.1 1427.4,1384.9 1428.4,1378.0 1429.4,1367.6 1430.4,1360.0 1431.4,1368.4 1432.3,1375.6 1433.3,1383.7 1434.3,1388.7 1435.3,1386.7 1436.3,1388.2 1437.2,1387.3 1438.2,1389.1 1439.2,1386.9 1440.2,1386.6 1441.2,1387.0 1442.1,1384.2 1443.1,1382.6 1444.1,1388.6 1445.1,1388.4 1446.0,1391.7 1447.0,1393.4 1448.0,1397.0 1449.0,1400.0 1450.0,1396.4 1450.9,1401.1 1451.9,1400.1 1452.9,1401.8 1453.9,1401.4 1454.9,1401.5 1455.8,1401.4 1456.8,1402.8 1457.8,1401.5 1458.8,1401.3 1459.8,1400.8 1460.7,1403.7 1461.7,1403.1 1462.7,1403.1 1463.7,1402.7 1464.7,1405.5 1465.6,1405.6 1466.6,1404.2 1467.6,1404.3 1468.6,1407.2 1469.6,1408.3 1470.5,1409.3 1471.5,1410.6 1472.5,1409.8 1473.5,1408.4 1474.4,1410.5 1475.4,1407.9 1476.4,1408.8 1477.4,1408.9 1478.4,1408.7 1479.3,1406.1 1480.3,1407.4 1481.3,1407.2 1482.3,1406.3 1483.3,1407.3 1484.2,1406.5 1485.2,1407.4 1486.2,1405.7 1487.2,1404.1 1488.2,1405.3 1489.1,1405.3 1490.1,1406.5 1491.1,1407.7 1492.1,1408.8 1493.1,1408.8 1494.0,1410.3 1495.0,1410.5 1496.0,1411.9 1497.0,1412.3 1498.0,1411.4 1498.9,1413.1 1499.9,1411.4 1500.9,1412.3 1501.9,1413.0 1502.8,1411.0 1503.8,1412.0 1504.8,1412.8 1505.8,1413.2 1506.8,1413.1 1507.7,1410.0 1508.7,1413.0 1509.7,1410.9 1510.7,1412.3 1511.7,1409.9 1512.6,1409.7 1513.6,1410.7 1514.6,1412.5 1515.6,1413.2 1516.6,1410.9 1517.5,1410.4 1518.5,1412.8 1519.5,1413.2 1520.5,1412.3 1521.5,1411.5 1522.4,1412.6 1523.4,1412.3 1524.4,1413.0 1525.4,1411.8 1526.4,1411.9 1527.3,1413.0 1528.3,1412.5 1529.3,1412.6 1530.3,1411.9 1531.3,1411.7 1532.2,1413.2 1533.0,1415.5" fill="#984ea3" stroke="#984ea3" stroke-width="3" stroke-linejoin="round"/><line x1="1118" y1="1234.4" x2="1118" y2="1417" stroke="#000" stroke-width="3.2"/><line x1="1111" y1="1415.5" x2="1118" y2="1415.5" stroke="#000" stroke-width="3.5"/><text x="1099" y="1422.9" font-size="20.8" text-anchor="end">0.0</text><line x1="1111" y1="1366.2" x2="1118" y2="1366.2" stroke="#000" stroke-width="3.5"/><text x="1099" y="1373.6" font-size="20.8" text-anchor="end">0.5</text><line x1="1111" y1="1316.9" x2="1118" y2="1316.9" stroke="#000" stroke-width="3.5"/><text x="1099" y="1324.3" font-size="20.8" text-anchor="end">1.0</text><line x1="1111" y1="1267.6" x2="1118" y2="1267.6" stroke="#000" stroke-width="3.5"/><text x="1099" y="1275" font-size="20.8" text-anchor="end">1.5</text><text x="1532" y="1253.5" font-size="20.8" text-anchor="end" fill="#984ea3">MOC</text><line x1="1222.6" y1="1443.6" x2="1480" y2="1443.6" stroke="#3a7bbf" stroke-width="3"/><line x1="1222.6" y1="1432.5" x2="1222.6" y2="1454" stroke="#3a7bbf" stroke-width="3"/><line x1="1239.5" y1="1432.5" x2="1239.5" y2="1454" stroke="#3a7bbf" stroke-width="3"/><line x1="1480" y1="1432.5" x2="1480" y2="1454" stroke="#3a7bbf" stroke-width="3"/><text x="1363" y="1437" font-size="20.8" text-anchor="middle">&gt;WFDC2</text><line x1="1118" y1="1463.7" x2="1533" y2="1463.7" stroke="#000" stroke-width="3.2"/><line x1="1263.5" y1="1463.7" x2="1263.5" y2="1471" stroke="#000" stroke-width="3.2"/><text x="1263.5" y="1494.8" font-size="20.8" text-anchor="middle">44.10</text><line x1="1514.2" y1="1463.7" x2="1514.2" y2="1471" stroke="#000" stroke-width="3.2"/><text x="1514.2" y="1494.8" font-size="20.8" text-anchor="middle">44.11</text><text x="1324.5" y="1528.3" font-size="20.8" text-anchor="middle">Chromosome 20 position (Mb)</text><text x="1049.5" y="1040.7" font-size="20.8" text-anchor="middle" transform="rotate(-90 1049.5 1040.7)">H3K27ac ChIP–seq signal (CPM)</text><text x="1587.5" y="643.3" font-size="41" font-weight="bold">f</text><line x1="1713" y1="659.5" x2="1713" y2="982.7" stroke="#000" stroke-width="3.5"/><line x1="1711.3" y1="981.2" x2="2042" y2="981.2" stroke="#000" stroke-width="3.5"/><line x1="1705.5" y1="966.7" x2="1713" y2="966.7" stroke="#000" stroke-width="3.2"/><text x="1697.4" y="974.1" font-size="20.8" text-anchor="end">0</text><line x1="1705.5" y1="897.4" x2="1713" y2="897.4" stroke="#000" stroke-width="3.2"/><text x="1697.4" y="904.8" font-size="20.8" text-anchor="end">500</text><line x1="1705.5" y1="828.1" x2="1713" y2="828.1" stroke="#000" stroke-width="3.2"/><text x="1697.4" y="835.5" font-size="20.8" text-anchor="end">1000</text><line x1="1705.5" y1="758.8" x2="1713" y2="758.8" stroke="#000" stroke-width="3.2"/><text x="1697.4" y="766.2" font-size="20.8" text-anchor="end">1500</text><line x1="1705.5" y1="689.5" x2="1713" y2="689.5" stroke="#000" stroke-width="3.2"/><text x="1697.4" y="696.9" font-size="20.8" text-anchor="end">2000</text><line x1="1760.2" y1="981.2" x2="1760.2" y2="988.5" stroke="#000" stroke-width="3.2"/><text x="1760.2" y="1011.9" font-size="20.8" text-anchor="middle">CCOC</text><line x1="1838.4" y1="981.2" x2="1838.4" y2="988.5" stroke="#000" stroke-width="3.2"/><text x="1838.4" y="1011.9" font-size="20.8" text-anchor="middle">EnOC</text><line x1="1916.6" y1="981.2" x2="1916.6" y2="988.5" stroke="#000" stroke-width="3.2"/><text x="1916.6" y="1011.9" font-size="20.8" text-anchor="middle">HGSOC</text><line x1="1994.8" y1="981.2" x2="1994.8" y2="988.5" stroke="#000" stroke-width="3.2"/><text x="1994.8" y="1011.9" font-size="20.8" text-anchor="middle">MOC</text><text x="1606" y="820.6" font-size="20.8" text-anchor="middle" transform="rotate(-90 1606 820.6)">WFDC2 expression</text><text x="1631.5" y="820.6" font-size="20.8" text-anchor="middle" transform="rotate(-90 1631.5 820.6)">RNA–seq (CPM)</text><rect x="1730.9" y="946.3" width="59.5" height="18.1" fill="none" stroke="#e41a1c" stroke-width="3"/><line x1="1730.9" y1="964.4" x2="1790.4" y2="964.4" stroke="#e41a1c" stroke-width="3"/><rect x="1809.4" y="886.2" width="59.2" height="37.7" fill="none" stroke="#377eb8" stroke-width="3"/><line x1="1809.4" y1="917.5" x2="1868.6" y2="917.5" stroke="#377eb8" stroke-width="2.2"/><line x1="1809.4" y1="921.5" x2="1868.6" y2="921.5" stroke="#377eb8" stroke-width="2.2"/><line x1="1839" y1="923.9" x2="1839" y2="937.3" stroke="#377eb8" stroke-width="3"/><rect x="1887.6" y="794.1" width="59.2" height="106.7" fill="none" stroke="#4daf4a" stroke-width="3"/><line x1="1887.6" y1="885.4" x2="1946.8" y2="885.4" stroke="#4daf4a" stroke-width="3"/><line x1="1917.2" y1="900.8" x2="1917.2" y2="965.8" stroke="#4daf4a" stroke-width="3"/><rect x="1965.5" y="918.9" width="59.5" height="41.9" fill="none" stroke="#984ea3" stroke-width="3"/><line x1="1965.5" y1="951.5" x2="2025" y2="951.5" stroke="#984ea3" stroke-width="2.2"/><line x1="1965.5" y1="955" x2="2025" y2="955" stroke="#984ea3" stroke-width="2.2"/><circle cx="1759.7" cy="910.5" r="5" fill="#e41a1c"/><circle cx="1763.3" cy="946.3" r="5" fill="#e41a1c"/><circle cx="1759.7" cy="964.4" r="5" fill="#e41a1c"/><circle cx="1768" cy="964.4" r="5" fill="#e41a1c"/><circle cx="1845.4" cy="793.2" r="5" fill="#377eb8"/><circle cx="1837.9" cy="917" r="5" fill="#377eb8"/><circle cx="1842" cy="919.5" r="5" fill="#377eb8"/><circle cx="1837.9" cy="937.3" r="5" fill="#377eb8"/><circle cx="1912.4" cy="794.1" r="5" fill="#4daf4a"/><circle cx="1922.5" cy="790.5" r="5" fill="#4daf4a"/><circle cx="1910.5" cy="885.4" r="5" fill="#4daf4a"/><circle cx="1920.2" cy="900.8" r="5" fill="#4daf4a"/><circle cx="1920.8" cy="965.8" r="5" fill="#4daf4a"/><circle cx="1999.8" cy="674" r="5" fill="#984ea3"/><circle cx="1995.6" cy="918.9" r="5" fill="#984ea3"/><circle cx="2001.2" cy="953.2" r="5" fill="#984ea3"/><circle cx="1999" cy="958" r="5" fill="#984ea3"/><circle cx="1992" cy="966.4" r="5" fill="#984ea3"/><text x="1587.5" y="1093.5" font-size="41" font-weight="bold">g</text><line x1="1713" y1="1101.3" x2="1713" y2="1424.7" stroke="#000" stroke-width="3.5"/><line x1="1711.3" y1="1423" x2="2042" y2="1423" stroke="#000" stroke-width="3.5"/><line x1="1705.5" y1="1115.9" x2="1713" y2="1115.9" stroke="#000" stroke-width="3.2"/><text x="1697.4" y="1123.3" font-size="20.8" text-anchor="end">2048</text><line x1="1705.5" y1="1195.4" x2="1713" y2="1195.4" stroke="#000" stroke-width="3.2"/><text x="1697.4" y="1202.8" font-size="20.8" text-anchor="end">256</text><line x1="1705.5" y1="1275" x2="1713" y2="1275" stroke="#000" stroke-width="3.2"/><text x="1697.4" y="1282.4" font-size="20.8" text-anchor="end">32</text><line x1="1705.5" y1="1354.6" x2="1713" y2="1354.6" stroke="#000" stroke-width="3.2"/><text x="1697.4" y="1362" font-size="20.8" text-anchor="end">4</text><line x1="1776.4" y1="1423" x2="1776.4" y2="1430.5" stroke="#000" stroke-width="3.2"/><text x="1776.4" y="1452.3" font-size="20.8" text-anchor="middle">128</text><line x1="1883.9" y1="1423" x2="1883.9" y2="1430.5" stroke="#000" stroke-width="3.2"/><text x="1883.9" y="1452.3" font-size="20.8" text-anchor="middle">512</text><line x1="1991.4" y1="1423" x2="1991.4" y2="1430.5" stroke="#000" stroke-width="3.2"/><text x="1991.4" y="1452.3" font-size="20.8" text-anchor="middle">2048</text><text x="1878.3" y="1484.5" font-size="20.8" text-anchor="middle">WFDC2 promoter activity</text><text x="1878.3" y="1509.6" font-size="20.8" text-anchor="middle">H3K27ac ChIP–seq</text><text x="1878.3" y="1534.7" font-size="20.8" text-anchor="middle">(normalized read count)</text><text x="1606" y="1261" font-size="20.8" text-anchor="middle" transform="rotate(-90 1606 1261)">WFDC2 expression</text><text x="1631.5" y="1261" font-size="20.8" text-anchor="middle" transform="rotate(-90 1631.5 1261)">RNA–seq (CPM)</text><line x1="1729" y1="1325.8" x2="2025.8" y2="1129.8" stroke="#000" stroke-width="3.5"/><circle cx="1839.3" cy="1178.7" r="5.5" fill="#e41a1c"/><circle cx="1763" cy="1217.2" r="5.5" fill="#e41a1c"/><circle cx="1773.1" cy="1289" r="5.5" fill="#e41a1c"/><circle cx="1728.4" cy="1310.5" r="5.5" fill="#e41a1c"/><circle cx="1797.9" cy="1328.1" r="5.5" fill="#e41a1c"/><circle cx="1869.1" cy="1182.9" r="5.5" fill="#377eb8"/><circle cx="1938.4" cy="1184.3" r="5.5" fill="#377eb8"/><circle cx="1940.6" cy="1203" r="5.5" fill="#377eb8"/><circle cx="1991.4" cy="1134.8" r="5.5" fill="#4daf4a"/><circle cx="2026.9" cy="1134.3" r="5.5" fill="#4daf4a"/><circle cx="1937" cy="1163.9" r="5.5" fill="#4daf4a"/><circle cx="2006.8" cy="1171.7" r="5.5" fill="#4daf4a"/><circle cx="1761" cy="1334.2" r="5.5" fill="#4daf4a"/><circle cx="1973.3" cy="1114.7" r="5.5" fill="#984ea3"/><circle cx="1949.5" cy="1184.3" r="5.5" fill="#984ea3"/><circle cx="1961.6" cy="1232.6" r="5.5" fill="#984ea3"/><circle cx="1873.3" cy="1261.6" r="5.5" fill="#984ea3"/><circle cx="1808.5" cy="1406.3" r="5.5" fill="#984ea3"/><text x="1885.3" y="1379.7" font-size="20.8"><tspan font-style="italic">r</tspan> = 0.78</text><text x="1885.3" y="1402" font-size="20.8"><tspan font-style="italic">p</tspan> = 5.5 × 10<tspan font-size="14" dy="-8">−5</tspan></text><text x="56.5" y="1760.6" font-size="41" font-weight="bold">h</text><rect x="131.5" y="1743.2" width="42.3" height="31.8" fill="#000"/><rect x="133" y="1787" width="39.3" height="27.1" fill="#9dc3e6" stroke="#000" stroke-width="3"/><text x="184.2" y="1767.5" font-size="20.8">Genes</text><text x="184.2" y="1808" font-size="20.8">Enhancers</text><line x1="100" y1="1939.8" x2="871.5" y2="1939.8" stroke="#000" stroke-width="2.4"/><line x1="126" y1="1836" x2="126" y2="2034" stroke="#4472c4" stroke-width="3" stroke-dasharray="7.5,3.5"/><line x1="843.4" y1="1836" x2="843.4" y2="2034" stroke="#4472c4" stroke-width="3" stroke-dasharray="7.5,3.5"/><text x="127.4" y="2066.5" font-size="20.9" text-anchor="middle" fill="#4472c4">TAD boundary</text><text x="842.6" y="2066.8" font-size="20.9" text-anchor="middle" fill="#4472c4">TAD boundary</text><rect x="149.3" y="1930.4" width="59.2" height="27.6" fill="#9dc3e6" stroke="#000" stroke-width="3"/><text x="178.9" y="1951" font-size="18.8" text-anchor="middle">e1</text><rect x="443.3" y="1930.4" width="28.1" height="27.6" fill="#9dc3e6" stroke="#000" stroke-width="3"/><text x="457.4" y="1951" font-size="18.8" text-anchor="middle">e2</text><rect x="542" y="1930.4" width="39" height="27.6" fill="#9dc3e6" stroke="#000" stroke-width="3"/><text x="561.5" y="1951" font-size="18.8" text-anchor="middle">e3</text><rect x="793" y="1930.4" width="27.1" height="27.6" fill="#9dc3e6" stroke="#000" stroke-width="3"/><text x="806.5" y="1951" font-size="18.8" text-anchor="middle">e4</text><rect x="308.7" y="1920.9" width="77.8" height="38.6" fill="#000"/><text x="347.6" y="1946.7" font-size="19.8" text-anchor="middle" fill="#fff">Gene 1</text><rect x="668.6" y="1920.9" width="82.1" height="38.6" fill="#000"/><text x="709.7" y="1946.7" font-size="19.8" text-anchor="middle" fill="#fff">Gene 2</text><path d="M313,1920 C300,1850 200,1845 183,1915" fill="none" stroke="#bfbfbf" stroke-width="3.6" stroke-dasharray="4,2.6"/><polygon points="183,1928.4 177.5,1914.4 192.4,1916.7" fill="#bfbfbf"/><path d="M318,1918 C340,1850 440,1845 459,1915" fill="none" stroke="#bfbfbf" stroke-width="3.6" stroke-dasharray="4,2.6"/><polygon points="459,1928.4 450.2,1916.2 465.2,1914.7" fill="#bfbfbf"/><path d="M320,1918 C350,1840 540,1840 561,1915" fill="none" stroke="#bfbfbf" stroke-width="3.6" stroke-dasharray="4,2.6"/><polygon points="561,1928.4 552.2,1916.2 567.2,1914.7" fill="#bfbfbf"/><path d="M322,1918 C380,1845 620,1835 803,1915" fill="none" stroke="#bfbfbf" stroke-width="3.6" stroke-dasharray="4,2.6"/><polygon points="804,1928.4 795.2,1916.2 810.2,1914.7" fill="#bfbfbf"/><polygon points="316,1932 304.2,1921 319.5,1916.3" fill="#bfbfbf"/><polygon points="318,1930 317.7,1913.9 331.7,1921.5" fill="#bfbfbf"/><line x1="311.7" y1="1921" x2="311.7" y2="1873.6" stroke="#000" stroke-width="3.5"/><line x1="311.7" y1="1873.6" x2="346" y2="1873.6" stroke="#000" stroke-width="5.5"/><circle cx="311.7" cy="1873.6" r="2.8" fill="#000"/><polygon points="345,1862.4 367.8,1873.6 345,1884.8" fill="#000"/><line x1="668.6" y1="1921" x2="668.6" y2="1873.6" stroke="#000" stroke-width="3.5"/><line x1="668.6" y1="1873.6" x2="695.4" y2="1873.6" stroke="#000" stroke-width="5.5"/><circle cx="668.6" cy="1873.6" r="2.8" fill="#000"/><polygon points="694.4,1862.4 717,1873.6 694.4,1884.8" fill="#000"/><path d="M671,1962 C640,2050 250,2050 187,1968" fill="none" stroke="#f4b183" stroke-width="3.6" stroke-dasharray="4,2.6"/><polygon points="182.7,1959.5 195.5,1967.3 182.4,1974.5" fill="#f4b183"/><path d="M671,1962 C630,2040 500,2040 464,1970" fill="none" stroke="#f4b183" stroke-width="3.6" stroke-dasharray="4,2.6"/><polygon points="460.6,1959.5 472.1,1969.1 458,1974.3" fill="#f4b183"/><path d="M672,1962 C650,2040 590,2040 565,1970" fill="none" stroke="#f4b183" stroke-width="3.6" stroke-dasharray="4,2.6"/><polygon points="562.8,1959.5 573.3,1970.2 558.7,1974" fill="#f4b183"/><path d="M674,1962 C690,2045 790,2045 802,1970" fill="none" stroke="#f4b183" stroke-width="3.6" stroke-dasharray="4,2.6"/><polygon points="804.2,1959.5 809,1973.7 794.3,1970.8" fill="#f4b183"/><polygon points="673,1958 676.5,1973.7 661.2,1969" fill="#f4b183"/><text x="245.7" y="1853.8" font-size="20" text-anchor="middle">r11</text><text x="383.5" y="1853.8" font-size="20" text-anchor="middle">r12</text><text x="446.2" y="1853.8" font-size="20" text-anchor="middle">r13</text><text x="576.9" y="1853.8" font-size="20" text-anchor="middle">r14</text><text x="418.4" y="2051.6" font-size="20" text-anchor="middle">r21</text><text x="570.5" y="2051.6" font-size="20" text-anchor="middle">r22</text><text x="625.8" y="2051.6" font-size="20" text-anchor="middle">r23</text><text x="738" y="2051.6" font-size="20" text-anchor="middle">r24</text><text x="55.5" y="2140.8" font-size="41" font-weight="bold">i</text><line x1="159.3" y1="2131.6" x2="159.3" y2="2477.8" stroke="#000" stroke-width="3.5"/><line x1="157.6" y1="2476" x2="482.3" y2="2476" stroke="#000" stroke-width="3.5"/><line x1="148" y1="2460.1" x2="159.3" y2="2460.1" stroke="#000" stroke-width="3.6"/><text x="136.7" y="2467.5" font-size="20.8" text-anchor="end">1</text><line x1="148" y1="2370.1" x2="159.3" y2="2370.1" stroke="#000" stroke-width="3.6"/><text x="136.7" y="2377.5" font-size="20.8" text-anchor="end">10</text><line x1="148" y1="2280.1" x2="159.3" y2="2280.1" stroke="#000" stroke-width="3.6"/><text x="136.7" y="2287.5" font-size="20.8" text-anchor="end">100</text><line x1="148" y1="2190.1" x2="159.3" y2="2190.1" stroke="#000" stroke-width="3.6"/><text x="136.7" y="2197.5" font-size="20.8" text-anchor="end">1000</text><line x1="168" y1="2476" x2="168" y2="2488.5" stroke="#000" stroke-width="3.6"/><text x="168" y="2511.6" font-size="20.8" text-anchor="middle">0</text><line x1="226.6" y1="2476" x2="226.6" y2="2488.5" stroke="#000" stroke-width="3.6"/><text x="226.6" y="2511.6" font-size="20.8" text-anchor="middle">5</text><line x1="285.2" y1="2476" x2="285.2" y2="2488.5" stroke="#000" stroke-width="3.6"/><text x="285.2" y="2511.6" font-size="20.8" text-anchor="middle">10</text><line x1="343.8" y1="2476" x2="343.8" y2="2488.5" stroke="#000" stroke-width="3.6"/><text x="343.8" y="2511.6" font-size="20.8" text-anchor="middle">15</text><line x1="402.4" y1="2476" x2="402.4" y2="2488.5" stroke="#000" stroke-width="3.6"/><text x="402.4" y="2511.6" font-size="20.8" text-anchor="middle">20</text><line x1="461" y1="2476" x2="461" y2="2488.5" stroke="#000" stroke-width="3.6"/><text x="461" y="2511.6" font-size="20.8" text-anchor="middle">25</text><rect x="173.9" y="2149.5" width="11.7" height="310.3" fill="#008b8a" stroke="#fff" stroke-width="0.8"/><rect x="185.6" y="2180.2" width="11.7" height="279.6" fill="#008b8a" stroke="#fff" stroke-width="0.8"/><rect x="197.3" y="2205.4" width="11.7" height="254.4" fill="#008b8a" stroke="#fff" stroke-width="0.8"/><rect x="209" y="2222.5" width="11.7" height="237.3" fill="#008b8a" stroke="#fff" stroke-width="0.8"/><rect x="220.7" y="2239.3" width="11.7" height="220.5" fill="#008b8a" stroke="#fff" stroke-width="0.8"/><rect x="232.5" y="2259" width="11.7" height="200.8" fill="#008b8a" stroke="#fff" stroke-width="0.8"/><rect x="244.2" y="2279.9" width="11.7" height="179.9" fill="#008b8a" stroke="#fff" stroke-width="0.8"/><rect x="255.9" y="2294.4" width="11.7" height="165.4" fill="#008b8a" stroke="#fff" stroke-width="0.8"/><rect x="267.6" y="2301.6" width="11.7" height="158.2" fill="#008b8a" stroke="#fff" stroke-width="0.8"/><rect x="279.3" y="2317" width="11.7" height="142.8" fill="#008b8a" stroke="#fff" stroke-width="0.8"/><rect x="291.1" y="2324.2" width="11.7" height="135.6" fill="#008b8a" stroke="#fff" stroke-width="0.8"/><rect x="302.8" y="2340.1" width="11.7" height="119.7" fill="#008b8a" stroke="#fff" stroke-width="0.8"/><rect x="314.5" y="2374.9" width="11.7" height="84.9" fill="#008b8a" stroke="#fff" stroke-width="0.8"/><rect x="326.2" y="2385" width="11.7" height="74.8" fill="#008b8a" stroke="#fff" stroke-width="0.8"/><rect x="337.9" y="2374.9" width="11.7" height="84.9" fill="#008b8a" stroke="#fff" stroke-width="0.8"/><rect x="349.7" y="2398.1" width="11.7" height="61.7" fill="#008b8a" stroke="#fff" stroke-width="0.8"/><rect x="361.4" y="2434" width="11.7" height="25.8" fill="#008b8a" stroke="#fff" stroke-width="0.8"/><rect x="373.1" y="2434" width="11.7" height="25.8" fill="#008b8a" stroke="#fff" stroke-width="0.8"/><rect x="384.8" y="2434" width="11.7" height="25.8" fill="#008b8a" stroke="#fff" stroke-width="0.8"/><text x="317.5" y="2542" font-size="20.8" text-anchor="middle">Number of associated REs</text><text x="73.5" y="2304" font-size="20.8" text-anchor="middle" transform="rotate(-90 73.5 2304)">Number of genes</text><text x="517" y="2140.8" font-size="41" font-weight="bold">j</text><line x1="638.7" y1="2131.6" x2="638.7" y2="2477.8" stroke="#000" stroke-width="3.5"/><line x1="637" y1="2476" x2="949.9" y2="2476" stroke="#000" stroke-width="3.5"/><line x1="627.7" y1="2459.5" x2="638.7" y2="2459.5" stroke="#000" stroke-width="3.6"/><text x="615.6" y="2466.9" font-size="20.8" text-anchor="end">1</text><line x1="627.7" y1="2380.7" x2="638.7" y2="2380.7" stroke="#000" stroke-width="3.6"/><text x="615.6" y="2388.1" font-size="20.8" text-anchor="end">10</text><line x1="627.7" y1="2301.9" x2="638.7" y2="2301.9" stroke="#000" stroke-width="3.6"/><text x="615.6" y="2309.3" font-size="20.8" text-anchor="end">100</text><line x1="627.7" y1="2223.1" x2="638.7" y2="2223.1" stroke="#000" stroke-width="3.6"/><text x="615.6" y="2230.5" font-size="20.8" text-anchor="end">1000</text><line x1="627.7" y1="2144.3" x2="638.7" y2="2144.3" stroke="#000" stroke-width="3.6"/><text x="615.6" y="2151.7" font-size="20.8" text-anchor="end">10,000</text><line x1="644.5" y1="2476" x2="644.5" y2="2488.5" stroke="#000" stroke-width="3.6"/><text x="644.5" y="2511.6" font-size="20.8" text-anchor="middle">0</text><line x1="732.4" y1="2476" x2="732.4" y2="2488.5" stroke="#000" stroke-width="3.6"/><text x="732.4" y="2511.6" font-size="20.8" text-anchor="middle">5</text><line x1="820.2" y1="2476" x2="820.2" y2="2488.5" stroke="#000" stroke-width="3.6"/><text x="820.2" y="2511.6" font-size="20.8" text-anchor="middle">10</text><line x1="908" y1="2476" x2="908" y2="2488.5" stroke="#000" stroke-width="3.6"/><text x="908" y="2511.6" font-size="20.8" text-anchor="middle">15</text><rect x="653.3" y="2149.5" width="17.6" height="310.3" fill="#008b8a" stroke="#fff" stroke-width="0.8"/><rect x="670.9" y="2206.3" width="17.6" height="253.5" fill="#008b8a" stroke="#fff" stroke-width="0.8"/><rect x="688.4" y="2249.2" width="17.6" height="210.6" fill="#008b8a" stroke="#fff" stroke-width="0.8"/><rect x="706" y="2288" width="17.6" height="171.8" fill="#008b8a" stroke="#fff" stroke-width="0.8"/><rect x="723.6" y="2317" width="17.6" height="142.8" fill="#008b8a" stroke="#fff" stroke-width="0.8"/><rect x="741.1" y="2336.1" width="17.6" height="123.7" fill="#008b8a" stroke="#fff" stroke-width="0.8"/><rect x="758.7" y="2361.6" width="17.6" height="98.2" fill="#008b8a" stroke="#fff" stroke-width="0.8"/><rect x="776.3" y="2376" width="17.6" height="83.8" fill="#008b8a" stroke="#fff" stroke-width="0.8"/><rect x="793.8" y="2373.2" width="17.6" height="86.6" fill="#008b8a" stroke="#fff" stroke-width="0.8"/><rect x="811.4" y="2405.6" width="17.6" height="54.2" fill="#008b8a" stroke="#fff" stroke-width="0.8"/><rect x="864.1" y="2437.2" width="17.6" height="22.6" fill="#008b8a" stroke="#fff" stroke-width="0.8"/><rect x="899.3" y="2423.3" width="17.6" height="36.5" fill="#008b8a" stroke="#fff" stroke-width="0.8"/><text x="794.3" y="2542" font-size="20.8" text-anchor="middle">Number of associated genes</text><text x="537" y="2304" font-size="20.8" text-anchor="middle" transform="rotate(-90 537 2304)">Number of REs</text><text x="1029.5" y="1645.3" font-size="41" font-weight="bold">k</text><text x="1751.6" y="1617" font-size="20.8" text-anchor="middle">LogP</text><rect x="1546.4" y="1674.3" width="409.9" height="21.1" fill="#e41a1c"/><line x1="1512" y1="1684.8" x2="1525.2" y2="1684.8" stroke="#000" stroke-width="3.4"/><rect x="1546.4" y="1698" width="330.8" height="21.1" fill="#e41a1c"/><line x1="1512" y1="1708.6" x2="1525.2" y2="1708.6" stroke="#000" stroke-width="3.4"/><rect x="1546.4" y="1721.8" width="272.3" height="21.1" fill="#e41a1c"/><line x1="1512" y1="1732.3" x2="1525.2" y2="1732.3" stroke="#000" stroke-width="3.4"/><rect x="1546.4" y="1745.5" width="222.2" height="21.1" fill="#e41a1c"/><line x1="1512" y1="1756.1" x2="1525.2" y2="1756.1" stroke="#000" stroke-width="3.4"/><rect x="1546.4" y="1769.3" width="217.3" height="21.1" fill="#e41a1c"/><line x1="1512" y1="1779.8" x2="1525.2" y2="1779.8" stroke="#000" stroke-width="3.4"/><rect x="1546.4" y="1793" width="211.9" height="21.1" fill="#e41a1c"/><line x1="1512" y1="1803.6" x2="1525.2" y2="1803.6" stroke="#000" stroke-width="3.4"/><rect x="1546.4" y="1816.8" width="196.2" height="21.1" fill="#e41a1c"/><line x1="1512" y1="1827.3" x2="1525.2" y2="1827.3" stroke="#000" stroke-width="3.4"/><rect x="1546.4" y="1840.5" width="190.1" height="21.1" fill="#e41a1c"/><line x1="1512" y1="1851.1" x2="1525.2" y2="1851.1" stroke="#000" stroke-width="3.4"/><rect x="1546.4" y="1864.3" width="185.9" height="21.1" fill="#e41a1c"/><line x1="1512" y1="1874.8" x2="1525.2" y2="1874.8" stroke="#000" stroke-width="3.4"/><rect x="1546.4" y="1888" width="182.3" height="21.1" fill="#e41a1c"/><line x1="1512" y1="1898.6" x2="1525.2" y2="1898.6" stroke="#000" stroke-width="3.4"/><line x1="1634" y1="1671.2" x2="1634" y2="1915.2" stroke="#000" stroke-width="3" stroke-dasharray="3,3.2"/><line x1="1525.2" y1="1669.7" x2="1525.2" y2="1915.2" stroke="#000" stroke-width="3.2"/><line x1="1523.6" y1="1671.2" x2="1978" y2="1671.2" stroke="#000" stroke-width="3.2"/><line x1="1546.4" y1="1671.2" x2="1546.4" y2="1657.7" stroke="#000" stroke-width="3"/><text x="1546.4" y="1648.3" font-size="20.8" text-anchor="middle">0</text><line x1="1681" y1="1671.2" x2="1681" y2="1657.7" stroke="#000" stroke-width="3"/><text x="1681" y="1648.3" font-size="20.8" text-anchor="middle">2</text><line x1="1815.6" y1="1671.2" x2="1815.6" y2="1657.7" stroke="#000" stroke-width="3"/><text x="1815.6" y="1648.3" font-size="20.8" text-anchor="middle">4</text><text x="1501.1" y="1695.4" font-size="20.8" text-anchor="end">Dephosphorylation</text><text x="1501.1" y="1719" font-size="20.8" text-anchor="end">Androgen response</text><text x="1501.1" y="1743" font-size="20.8" text-anchor="end">UV response</text><text x="1501.1" y="1761.8" font-size="20.8" text-anchor="end">Proteoglycan metabolic process</text><text x="1501.1" y="1785.3" font-size="20.8" text-anchor="end">Wnt signaling pathway</text><text x="1501.1" y="1808.9" font-size="20.8" text-anchor="end">ARF6 signaling</text><text x="1501.1" y="1833" font-size="20.8" text-anchor="end">Cytosolic transport</text><text x="1501.1" y="1856.6" font-size="20.8" text-anchor="end">Elastic fibre formation</text><text x="1501.1" y="1880.7" font-size="20.8" text-anchor="end">PI3K-Akt signaling pathway</text><text x="1501.1" y="1904.9" font-size="20.8" text-anchor="end">Generation of precursor metabolites and energy</text><text x="1962" y="1791.7" font-size="20.8" text-anchor="middle" transform="rotate(90 1962 1791.7)">CCOC-specific REs</text><rect x="1546.4" y="1987.6" width="409.9" height="20.5" fill="#4daf4a"/><line x1="1512" y1="1997.8" x2="1525.2" y2="1997.8" stroke="#000" stroke-width="3.4"/><rect x="1546.4" y="2010.3" width="348.3" height="20.5" fill="#4daf4a"/><line x1="1512" y1="2020.6" x2="1525.2" y2="2020.6" stroke="#000" stroke-width="3.4"/><rect x="1546.4" y="2033.1" width="345.3" height="20.5" fill="#4daf4a"/><line x1="1512" y1="2043.3" x2="1525.2" y2="2043.3" stroke="#000" stroke-width="3.4"/><rect x="1546.4" y="2055.8" width="338.6" height="20.5" fill="#4daf4a"/><line x1="1512" y1="2066.1" x2="1525.2" y2="2066.1" stroke="#000" stroke-width="3.4"/><rect x="1546.4" y="2078.6" width="333.8" height="20.5" fill="#4daf4a"/><line x1="1512" y1="2088.8" x2="1525.2" y2="2088.8" stroke="#000" stroke-width="3.4"/><rect x="1546.4" y="2101.3" width="312.1" height="20.5" fill="#4daf4a"/><line x1="1512" y1="2111.6" x2="1525.2" y2="2111.6" stroke="#000" stroke-width="3.4"/><rect x="1546.4" y="2124.1" width="308.5" height="20.5" fill="#4daf4a"/><line x1="1512" y1="2134.3" x2="1525.2" y2="2134.3" stroke="#000" stroke-width="3.4"/><rect x="1546.4" y="2146.8" width="298.2" height="20.5" fill="#4daf4a"/><line x1="1512" y1="2157.1" x2="1525.2" y2="2157.1" stroke="#000" stroke-width="3.4"/><rect x="1546.4" y="2169.6" width="288.6" height="20.5" fill="#4daf4a"/><line x1="1512" y1="2179.8" x2="1525.2" y2="2179.8" stroke="#000" stroke-width="3.4"/><rect x="1546.4" y="2192.3" width="264.4" height="20.5" fill="#4daf4a"/><line x1="1512" y1="2202.6" x2="1525.2" y2="2202.6" stroke="#000" stroke-width="3.4"/><line x1="1674.4" y1="1984" x2="1674.4" y2="2220.3" stroke="#000" stroke-width="3" stroke-dasharray="3,3.2"/><line x1="1525.2" y1="1982.5" x2="1525.2" y2="2220.3" stroke="#000" stroke-width="3.2"/><line x1="1523.6" y1="1984" x2="1978" y2="1984" stroke="#000" stroke-width="3.2"/><line x1="1546.4" y1="1984" x2="1546.4" y2="1970.5" stroke="#000" stroke-width="3"/><text x="1546.4" y="1962.3" font-size="20.8" text-anchor="middle">0</text><line x1="1644.5" y1="1984" x2="1644.5" y2="1970.5" stroke="#000" stroke-width="3"/><text x="1644.5" y="1962.3" font-size="20.8" text-anchor="middle">1</text><line x1="1742.6" y1="1984" x2="1742.6" y2="1970.5" stroke="#000" stroke-width="3"/><text x="1742.6" y="1962.3" font-size="20.8" text-anchor="middle">2</text><text x="1501.1" y="2003.3" font-size="20.8" text-anchor="end">Interferon alpha response</text><text x="1501.1" y="2025.6" font-size="20.8" text-anchor="end">IL-6 production</text><text x="1501.1" y="2048.6" font-size="20.8" text-anchor="end">Morphogenesis of an epithelium</text><text x="1501.1" y="2070.9" font-size="20.8" text-anchor="end">Intracellular transport</text><text x="1501.1" y="2093.8" font-size="20.8" text-anchor="end">Rac protein signal transduction</text><text x="1501.1" y="2116.4" font-size="20.8" text-anchor="end">Mitochondrial transport</text><text x="1501.1" y="2138.7" font-size="20.8" text-anchor="end">Cell-substrate adhesion</text><text x="1501.1" y="2161.7" font-size="20.8" text-anchor="end">Transmembrane RTK signaling</text><text x="1501.1" y="2184.6" font-size="20.8" text-anchor="end">Ubiquitin-dependent protein catabolic process</text><text x="1501.1" y="2207" font-size="20.8" text-anchor="end">Activation of HOX genes during differentiation</text><text x="1962" y="2100" font-size="20.8" text-anchor="middle" transform="rotate(90 1962 2100)">HGSOC-specific REs</text><rect x="1546.4" y="2281.2" width="409.9" height="22.6" fill="#984ea3"/><line x1="1512" y1="2292.5" x2="1525.2" y2="2292.5" stroke="#000" stroke-width="3.4"/><rect x="1546.4" y="2307.5" width="381.5" height="22.6" fill="#984ea3"/><line x1="1512" y1="2318.8" x2="1525.2" y2="2318.8" stroke="#000" stroke-width="3.4"/><rect x="1546.4" y="2333.8" width="327.2" height="22.6" fill="#984ea3"/><line x1="1512" y1="2345.1" x2="1525.2" y2="2345.1" stroke="#000" stroke-width="3.4"/><rect x="1546.4" y="2360.1" width="327.2" height="22.6" fill="#984ea3"/><line x1="1512" y1="2371.4" x2="1525.2" y2="2371.4" stroke="#000" stroke-width="3.4"/><rect x="1546.4" y="2386.4" width="306.6" height="22.6" fill="#984ea3"/><line x1="1512" y1="2397.7" x2="1525.2" y2="2397.7" stroke="#000" stroke-width="3.4"/><rect x="1546.4" y="2412.7" width="300.6" height="22.6" fill="#984ea3"/><line x1="1512" y1="2424" x2="1525.2" y2="2424" stroke="#000" stroke-width="3.4"/><rect x="1546.4" y="2439" width="281.9" height="22.6" fill="#984ea3"/><line x1="1512" y1="2450.3" x2="1525.2" y2="2450.3" stroke="#000" stroke-width="3.4"/><rect x="1546.4" y="2465.3" width="278.3" height="22.6" fill="#984ea3"/><line x1="1512" y1="2476.6" x2="1525.2" y2="2476.6" stroke="#000" stroke-width="3.4"/><rect x="1546.4" y="2491.6" width="263.2" height="22.6" fill="#984ea3"/><line x1="1512" y1="2502.9" x2="1525.2" y2="2502.9" stroke="#000" stroke-width="3.4"/><rect x="1546.4" y="2517.9" width="246.3" height="22.6" fill="#984ea3"/><line x1="1512" y1="2529.2" x2="1525.2" y2="2529.2" stroke="#000" stroke-width="3.4"/><line x1="1646" y1="2277" x2="1646" y2="2551" stroke="#000" stroke-width="3" stroke-dasharray="3,3.2"/><line x1="1525.2" y1="2275.5" x2="1525.2" y2="2551" stroke="#000" stroke-width="3.2"/><line x1="1523.6" y1="2277" x2="1978" y2="2277" stroke="#000" stroke-width="3.2"/><line x1="1546.4" y1="2277" x2="1546.4" y2="2263.5" stroke="#000" stroke-width="3"/><text x="1546.4" y="2255.3" font-size="20.8" text-anchor="middle">0</text><line x1="1699.1" y1="2277" x2="1699.1" y2="2263.5" stroke="#000" stroke-width="3"/><text x="1699.1" y="2255.3" font-size="20.8" text-anchor="middle">2</text><text x="1501.1" y="2298.7" font-size="20.8" text-anchor="end">Epithelial structure maintenance</text><text x="1501.1" y="2324.7" font-size="20.8" text-anchor="end">Actin filament-based process</text><text x="1501.1" y="2350.6" font-size="20.8" text-anchor="end">Activation of SMO</text><text x="1501.1" y="2377.2" font-size="20.8" text-anchor="end">Regulation of hormone levels</text><text x="1501.1" y="2403.2" font-size="20.8" text-anchor="end">Columnar/cuboidal epithelial cell differentiation</text><text x="1501.1" y="2429.1" font-size="20.8" text-anchor="end">O-glycan processing</text><text x="1501.1" y="2455.7" font-size="20.8" text-anchor="end">Response to DNA damage stimulus</text><text x="1501.1" y="2482.9" font-size="20.8" text-anchor="end">Membrane repolarization</text><text x="1501.1" y="2508.8" font-size="20.8" text-anchor="end">Regulation of MAPK cascade</text><text x="1501.1" y="2536" font-size="20.8" text-anchor="end">Developmental process involved in reproduction</text><text x="1962" y="2412" font-size="20.8" text-anchor="middle" transform="rotate(90 1962 2412)">MOC-specific REs</text></svg></body></html>
